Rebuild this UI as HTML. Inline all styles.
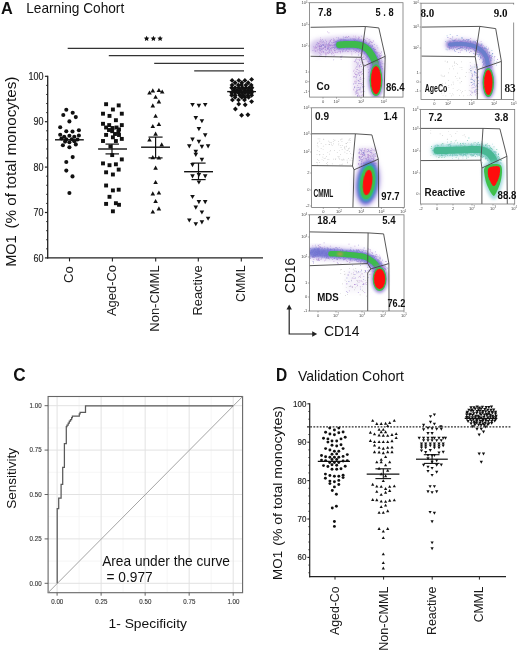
<!DOCTYPE html>
<html><head><meta charset="utf-8"><style>
html,body{margin:0;padding:0;background:#fff;width:520px;height:651px;overflow:hidden}
svg{display:block;will-change:transform}
text{font-family:"Liberation Sans",sans-serif}
</style></head><body>
<svg width="520" height="651" viewBox="0 0 520 651">
<rect width="520" height="651" fill="#fff"/>
<defs><filter id="b03" x="-50%" y="-50%" width="200%" height="200%"><feGaussianBlur stdDeviation="0.3"/></filter><filter id="b05" x="-50%" y="-50%" width="200%" height="200%"><feGaussianBlur stdDeviation="0.6"/></filter><filter id="b1" x="-50%" y="-50%" width="200%" height="200%"><feGaussianBlur stdDeviation="1.0"/></filter><filter id="b15" x="-50%" y="-50%" width="200%" height="200%"><feGaussianBlur stdDeviation="1.5"/></filter><filter id="b2" x="-50%" y="-50%" width="200%" height="200%"><feGaussianBlur stdDeviation="2.2"/></filter></defs>
<text x="275.6" y="13.8" font-size="17.4" font-weight="bold" fill="#111" textLength="11.4" lengthAdjust="spacingAndGlyphs">B</text>
<clipPath id="cl1"><rect x="309.6" y="2.7" width="93.39999999999998" height="94.39999999999999"/></clipPath>
<g clip-path="url(#cl1)">
<path d="M318.0,47.5 L318.6,47.4 L319.3,47.3 L320.2,47.1 L321.2,47.0 L322.2,46.8 L323.4,46.6 L324.5,46.5 L325.7,46.3 L326.9,46.1 L328.0,46.0 L329.1,45.9 L330.2,45.8 L331.4,45.6 L332.5,45.5 L333.7,45.4 L334.9,45.3 L336.1,45.2 L337.4,45.2 L338.7,45.1 L340.0,45.0 L341.4,44.9 L342.9,44.8 L344.5,44.7 L346.1,44.6 L347.7,44.6 L349.3,44.5 L350.8,44.5 L352.3,44.4 L353.7,44.4 L355.0,44.5 L356.2,44.6 L357.2,44.7 L358.2,44.8 L359.2,45.0 L360.1,45.2 L360.9,45.4 L361.7,45.6 L362.5,45.9 L363.2,46.2 L364.0,46.5 L364.7,46.9 L365.4,47.3 L366.1,47.7 L366.7,48.2 L367.3,48.7 L367.9,49.2 L368.4,49.7 L369.0,50.3 L369.5,50.9 L370.0,51.5 L370.5,52.1 L371.0,52.8 L371.4,53.5 L371.8,54.2 L372.2,55.0 L372.6,55.8 L373.0,56.6 L373.4,57.4 L373.7,58.2 L374.0,59.0 L374.3,59.9 L374.6,60.8 L374.8,61.9 L375.0,62.9 L375.2,64.0 L375.4,65.0 L375.6,65.9 L375.8,66.8 L375.9,67.5 L376.0,68.0" fill="none" stroke="#b293dc" stroke-opacity="0.5" stroke-width="16.8" stroke-linecap="round" stroke-linejoin="round" filter="url(#b2)"/>
<rect x="353" y="58" width="11" height="38" fill="#c9b3e0" fill-opacity="0.35" filter="url(#b2)"/>
<path d="M361.4 74.0h0.8v0.8h-0.8zM373.6 77.8h0.8v0.8h-0.8zM374.6 48.9h0.8v0.8h-0.8zM363.1 38.4h0.8v0.8h-0.8zM369.2 57.0h0.8v0.8h-0.8zM374.4 47.4h0.8v0.8h-0.8zM370.6 50.9h0.8v0.8h-0.8zM379.7 55.2h0.8v0.8h-0.8zM379.4 66.3h0.8v0.8h-0.8zM378.6 57.4h0.8v0.8h-0.8zM356.6 44.9h0.8v0.8h-0.8zM331.1 53.2h0.8v0.8h-0.8zM373.5 61.1h0.8v0.8h-0.8zM356.5 40.6h0.8v0.8h-0.8zM370.8 57.6h0.8v0.8h-0.8zM325.4 49.4h0.8v0.8h-0.8zM374.6 61.5h0.8v0.8h-0.8zM356.8 89.9h0.8v0.8h-0.8zM367.8 44.4h0.8v0.8h-0.8zM358.8 83.2h0.8v0.8h-0.8zM340.2 51.5h0.8v0.8h-0.8zM352.7 45.3h0.8v0.8h-0.8zM369.6 54.1h0.8v0.8h-0.8zM360.8 42.8h0.8v0.8h-0.8zM326.6 45.5h0.8v0.8h-0.8zM353.9 76.3h0.8v0.8h-0.8zM373.8 67.0h0.8v0.8h-0.8zM330.2 46.4h0.8v0.8h-0.8zM371.9 49.0h0.8v0.8h-0.8zM353.5 45.2h0.8v0.8h-0.8zM322.9 48.1h0.8v0.8h-0.8zM371.2 51.5h0.8v0.8h-0.8zM368.9 42.2h0.8v0.8h-0.8zM359.0 50.0h0.8v0.8h-0.8zM376.9 52.3h0.8v0.8h-0.8zM364.6 51.6h0.8v0.8h-0.8zM374.3 59.9h0.8v0.8h-0.8zM374.3 60.1h0.8v0.8h-0.8zM334.0 47.9h0.8v0.8h-0.8zM362.9 86.9h0.8v0.8h-0.8zM368.8 63.1h0.8v0.8h-0.8zM360.8 95.0h0.8v0.8h-0.8zM374.1 64.1h0.8v0.8h-0.8zM339.4 43.8h0.8v0.8h-0.8zM333.5 49.2h0.8v0.8h-0.8zM328.5 32.5h0.8v0.8h-0.8zM346.2 36.6h0.8v0.8h-0.8zM367.3 56.6h0.8v0.8h-0.8zM336.1 41.7h0.8v0.8h-0.8zM342.0 45.8h0.8v0.8h-0.8zM340.5 39.7h0.8v0.8h-0.8zM358.8 45.0h0.8v0.8h-0.8zM362.9 42.0h0.8v0.8h-0.8zM379.5 57.5h0.8v0.8h-0.8zM381.0 51.6h0.8v0.8h-0.8zM370.8 51.8h0.8v0.8h-0.8zM315.7 47.1h0.8v0.8h-0.8zM374.6 58.0h0.8v0.8h-0.8zM373.2 56.7h0.8v0.8h-0.8zM343.4 38.9h0.8v0.8h-0.8zM327.3 49.0h0.8v0.8h-0.8zM361.3 47.8h0.8v0.8h-0.8zM349.3 46.1h0.8v0.8h-0.8zM353.2 88.7h0.8v0.8h-0.8zM364.3 49.3h0.8v0.8h-0.8zM363.5 78.0h0.8v0.8h-0.8zM356.1 58.4h0.8v0.8h-0.8zM319.6 41.6h0.8v0.8h-0.8zM376.3 51.7h0.8v0.8h-0.8zM351.1 42.0h0.8v0.8h-0.8zM364.6 45.1h0.8v0.8h-0.8zM365.1 50.6h0.8v0.8h-0.8zM327.8 46.1h0.8v0.8h-0.8zM366.0 52.2h0.8v0.8h-0.8zM351.2 44.9h0.8v0.8h-0.8zM376.9 64.8h0.8v0.8h-0.8zM353.1 70.7h0.8v0.8h-0.8zM371.3 53.6h0.8v0.8h-0.8zM377.1 61.3h0.8v0.8h-0.8zM366.4 49.3h0.8v0.8h-0.8zM376.4 56.9h0.8v0.8h-0.8zM357.7 48.0h0.8v0.8h-0.8zM341.6 43.5h0.8v0.8h-0.8zM363.0 40.8h0.8v0.8h-0.8zM375.6 52.4h0.8v0.8h-0.8zM347.9 51.0h0.8v0.8h-0.8zM356.8 69.1h0.8v0.8h-0.8zM376.2 66.1h0.8v0.8h-0.8zM321.2 45.2h0.8v0.8h-0.8zM377.0 59.5h0.8v0.8h-0.8zM366.0 51.4h0.8v0.8h-0.8zM342.2 50.6h0.8v0.8h-0.8zM370.7 61.5h0.8v0.8h-0.8zM364.4 51.4h0.8v0.8h-0.8zM335.9 43.9h0.8v0.8h-0.8zM372.2 54.3h0.8v0.8h-0.8zM368.4 69.2h0.8v0.8h-0.8zM359.4 46.4h0.8v0.8h-0.8zM334.6 49.8h0.8v0.8h-0.8zM372.4 57.6h0.8v0.8h-0.8zM342.4 43.6h0.8v0.8h-0.8zM363.8 44.0h0.8v0.8h-0.8zM342.8 45.9h0.8v0.8h-0.8zM359.1 74.8h0.8v0.8h-0.8zM338.7 47.7h0.8v0.8h-0.8zM369.1 46.7h0.8v0.8h-0.8zM354.7 80.8h0.8v0.8h-0.8zM380.1 56.8h0.8v0.8h-0.8zM360.2 76.9h0.8v0.8h-0.8zM344.3 39.5h0.8v0.8h-0.8zM362.0 72.9h0.8v0.8h-0.8zM342.7 42.4h0.8v0.8h-0.8zM320.3 46.1h0.8v0.8h-0.8zM366.6 53.6h0.8v0.8h-0.8zM374.4 53.3h0.8v0.8h-0.8zM367.2 52.7h0.8v0.8h-0.8zM322.8 45.0h0.8v0.8h-0.8zM379.3 60.6h0.8v0.8h-0.8zM355.0 74.1h0.8v0.8h-0.8zM369.2 57.1h0.8v0.8h-0.8zM334.0 41.8h0.8v0.8h-0.8zM356.5 48.0h0.8v0.8h-0.8zM325.1 49.3h0.8v0.8h-0.8zM373.2 57.1h0.8v0.8h-0.8zM363.7 64.4h0.8v0.8h-0.8zM358.2 44.0h0.8v0.8h-0.8zM369.5 52.2h0.8v0.8h-0.8zM367.7 51.3h0.8v0.8h-0.8zM331.6 51.5h0.8v0.8h-0.8zM337.5 42.0h0.8v0.8h-0.8zM332.4 42.5h0.8v0.8h-0.8zM359.1 60.3h0.8v0.8h-0.8zM347.2 44.4h0.8v0.8h-0.8zM355.9 93.3h0.8v0.8h-0.8zM326.8 52.5h0.8v0.8h-0.8zM328.3 44.4h0.8v0.8h-0.8zM374.6 63.9h0.8v0.8h-0.8zM371.3 42.2h0.8v0.8h-0.8zM367.2 45.2h0.8v0.8h-0.8zM335.0 44.0h0.8v0.8h-0.8zM320.1 43.9h0.8v0.8h-0.8zM370.0 52.6h0.8v0.8h-0.8zM354.2 40.1h0.8v0.8h-0.8zM360.9 66.1h0.8v0.8h-0.8zM363.3 56.6h0.8v0.8h-0.8zM362.8 91.1h0.8v0.8h-0.8zM338.6 39.5h0.8v0.8h-0.8zM376.3 66.1h0.8v0.8h-0.8zM319.0 46.3h0.8v0.8h-0.8zM360.7 72.5h0.8v0.8h-0.8zM325.3 47.3h0.8v0.8h-0.8zM365.4 39.9h0.8v0.8h-0.8zM352.6 48.3h0.8v0.8h-0.8zM353.7 44.8h0.8v0.8h-0.8zM372.1 54.0h0.8v0.8h-0.8zM369.5 70.8h0.8v0.8h-0.8zM326.2 41.0h0.8v0.8h-0.8zM363.2 45.2h0.8v0.8h-0.8zM360.5 78.8h0.8v0.8h-0.8zM376.6 58.5h0.8v0.8h-0.8zM354.3 86.0h0.8v0.8h-0.8zM334.8 41.5h0.8v0.8h-0.8zM372.9 40.6h0.8v0.8h-0.8zM371.7 53.4h0.8v0.8h-0.8zM353.6 40.9h0.8v0.8h-0.8zM377.5 66.8h0.8v0.8h-0.8zM367.2 50.2h0.8v0.8h-0.8zM331.6 43.6h0.8v0.8h-0.8zM376.4 55.4h0.8v0.8h-0.8zM319.7 50.8h0.8v0.8h-0.8zM329.1 41.9h0.8v0.8h-0.8zM350.8 43.8h0.8v0.8h-0.8zM372.6 51.1h0.8v0.8h-0.8zM369.2 53.8h0.8v0.8h-0.8zM358.2 43.2h0.8v0.8h-0.8zM372.1 57.1h0.8v0.8h-0.8zM338.1 43.2h0.8v0.8h-0.8zM324.8 44.6h0.8v0.8h-0.8zM337.0 48.3h0.8v0.8h-0.8zM314.9 45.7h0.8v0.8h-0.8zM318.7 44.9h0.8v0.8h-0.8zM341.5 47.7h0.8v0.8h-0.8zM318.6 45.7h0.8v0.8h-0.8zM356.5 43.7h0.8v0.8h-0.8zM369.7 52.8h0.8v0.8h-0.8zM361.8 49.1h0.8v0.8h-0.8zM360.6 48.8h0.8v0.8h-0.8zM334.8 52.1h0.8v0.8h-0.8zM356.6 50.9h0.8v0.8h-0.8zM355.6 37.5h0.8v0.8h-0.8zM365.0 42.8h0.8v0.8h-0.8zM359.1 65.1h0.8v0.8h-0.8zM355.7 71.0h0.8v0.8h-0.8zM374.4 55.5h0.8v0.8h-0.8zM360.6 41.7h0.8v0.8h-0.8zM336.6 52.3h0.8v0.8h-0.8zM353.6 41.7h0.8v0.8h-0.8zM358.9 46.1h0.8v0.8h-0.8zM357.8 49.4h0.8v0.8h-0.8zM366.2 41.9h0.8v0.8h-0.8zM361.3 83.2h0.8v0.8h-0.8zM327.1 48.1h0.8v0.8h-0.8zM356.3 62.3h0.8v0.8h-0.8zM367.6 49.9h0.8v0.8h-0.8zM334.6 44.1h0.8v0.8h-0.8zM378.9 55.3h0.8v0.8h-0.8zM360.8 48.6h0.8v0.8h-0.8zM340.3 43.3h0.8v0.8h-0.8zM366.2 45.8h0.8v0.8h-0.8zM379.0 70.1h0.8v0.8h-0.8zM366.2 45.2h0.8v0.8h-0.8zM372.5 62.5h0.8v0.8h-0.8zM349.7 47.5h0.8v0.8h-0.8zM373.3 48.5h0.8v0.8h-0.8zM370.5 54.8h0.8v0.8h-0.8zM369.8 40.7h0.8v0.8h-0.8zM368.9 50.5h0.8v0.8h-0.8zM319.3 48.3h0.8v0.8h-0.8zM371.6 46.0h0.8v0.8h-0.8zM357.6 95.4h0.8v0.8h-0.8zM358.9 41.7h0.8v0.8h-0.8zM319.4 52.8h0.8v0.8h-0.8zM377.3 56.0h0.8v0.8h-0.8zM371.5 52.8h0.8v0.8h-0.8zM367.9 51.8h0.8v0.8h-0.8zM328.0 45.6h0.8v0.8h-0.8zM329.1 41.7h0.8v0.8h-0.8zM354.7 43.5h0.8v0.8h-0.8zM355.6 45.4h0.8v0.8h-0.8zM374.6 58.6h0.8v0.8h-0.8zM328.9 43.9h0.8v0.8h-0.8zM348.1 45.3h0.8v0.8h-0.8zM331.1 49.6h0.8v0.8h-0.8zM354.0 46.4h0.8v0.8h-0.8zM362.1 57.1h0.8v0.8h-0.8zM346.1 48.6h0.8v0.8h-0.8zM336.9 45.6h0.8v0.8h-0.8zM375.2 51.4h0.8v0.8h-0.8zM359.6 72.1h0.8v0.8h-0.8zM358.8 39.5h0.8v0.8h-0.8zM375.1 69.5h0.8v0.8h-0.8zM363.6 39.3h0.8v0.8h-0.8zM353.5 76.5h0.8v0.8h-0.8zM361.9 94.6h0.8v0.8h-0.8zM332.4 52.2h0.8v0.8h-0.8zM369.9 58.8h0.8v0.8h-0.8zM347.2 50.9h0.8v0.8h-0.8zM351.4 45.6h0.8v0.8h-0.8zM373.5 67.3h0.8v0.8h-0.8z" fill="#a06cc8" fill-opacity="0.75"/>
<path d="M376.0 62.2h0.8v0.8h-0.8zM372.8 54.4h0.8v0.8h-0.8zM360.6 44.8h0.8v0.8h-0.8zM342.8 38.6h0.8v0.8h-0.8zM370.1 48.5h0.8v0.8h-0.8zM370.5 47.0h0.8v0.8h-0.8zM371.7 42.1h0.8v0.8h-0.8zM370.9 59.8h0.8v0.8h-0.8zM328.7 46.7h0.8v0.8h-0.8zM363.2 77.4h0.8v0.8h-0.8zM362.4 53.7h0.8v0.8h-0.8zM373.6 50.0h0.8v0.8h-0.8zM336.5 46.4h0.8v0.8h-0.8zM362.5 58.8h0.8v0.8h-0.8zM343.3 49.2h0.8v0.8h-0.8zM370.7 56.0h0.8v0.8h-0.8zM367.8 53.5h0.8v0.8h-0.8zM321.4 45.3h0.8v0.8h-0.8zM361.8 45.1h0.8v0.8h-0.8zM365.5 51.2h0.8v0.8h-0.8zM320.0 53.8h0.8v0.8h-0.8zM346.2 49.8h0.8v0.8h-0.8zM372.7 53.2h0.8v0.8h-0.8zM365.5 58.4h0.8v0.8h-0.8zM355.4 43.6h0.8v0.8h-0.8zM331.5 44.8h0.8v0.8h-0.8zM333.1 38.6h0.8v0.8h-0.8zM340.9 44.6h0.8v0.8h-0.8zM344.7 37.1h0.8v0.8h-0.8zM356.1 89.8h0.8v0.8h-0.8zM357.3 65.4h0.8v0.8h-0.8zM372.3 58.5h0.8v0.8h-0.8zM324.6 47.1h0.8v0.8h-0.8zM358.6 41.3h0.8v0.8h-0.8zM381.3 66.3h0.8v0.8h-0.8zM368.8 64.5h0.8v0.8h-0.8zM355.3 93.7h0.8v0.8h-0.8zM372.2 55.9h0.8v0.8h-0.8zM355.8 76.8h0.8v0.8h-0.8zM366.5 48.0h0.8v0.8h-0.8zM356.0 45.6h0.8v0.8h-0.8zM334.2 39.4h0.8v0.8h-0.8zM367.5 46.2h0.8v0.8h-0.8zM340.7 43.2h0.8v0.8h-0.8zM362.6 41.2h0.8v0.8h-0.8zM346.7 46.6h0.8v0.8h-0.8zM330.9 39.2h0.8v0.8h-0.8zM365.5 47.4h0.8v0.8h-0.8zM361.7 46.0h0.8v0.8h-0.8zM360.0 58.8h0.8v0.8h-0.8zM373.9 67.8h0.8v0.8h-0.8zM336.2 44.7h0.8v0.8h-0.8zM381.5 62.6h0.8v0.8h-0.8zM354.4 72.8h0.8v0.8h-0.8zM327.1 52.4h0.8v0.8h-0.8zM320.6 40.8h0.8v0.8h-0.8zM369.1 56.5h0.8v0.8h-0.8zM340.5 38.8h0.8v0.8h-0.8zM345.7 40.1h0.8v0.8h-0.8zM362.6 49.7h0.8v0.8h-0.8zM371.4 56.8h0.8v0.8h-0.8zM376.9 64.9h0.8v0.8h-0.8zM350.8 47.0h0.8v0.8h-0.8zM319.9 46.1h0.8v0.8h-0.8zM342.2 45.4h0.8v0.8h-0.8zM378.9 53.7h0.8v0.8h-0.8zM362.1 47.1h0.8v0.8h-0.8zM378.5 59.1h0.8v0.8h-0.8zM318.2 43.1h0.8v0.8h-0.8zM370.0 45.5h0.8v0.8h-0.8zM375.2 64.4h0.8v0.8h-0.8zM373.6 67.8h0.8v0.8h-0.8zM319.9 50.2h0.8v0.8h-0.8zM331.2 47.0h0.8v0.8h-0.8zM356.1 44.7h0.8v0.8h-0.8zM372.3 72.1h0.8v0.8h-0.8zM315.8 44.4h0.8v0.8h-0.8zM373.4 57.9h0.8v0.8h-0.8zM327.4 47.3h0.8v0.8h-0.8zM367.8 63.5h0.8v0.8h-0.8zM373.9 68.9h0.8v0.8h-0.8zM380.4 75.4h0.8v0.8h-0.8zM380.5 55.3h0.8v0.8h-0.8zM373.9 52.2h0.8v0.8h-0.8zM357.8 94.0h0.8v0.8h-0.8zM369.6 55.9h0.8v0.8h-0.8zM363.3 40.3h0.8v0.8h-0.8zM358.7 46.6h0.8v0.8h-0.8zM373.2 54.4h0.8v0.8h-0.8zM362.0 42.7h0.8v0.8h-0.8zM363.9 59.1h0.8v0.8h-0.8zM330.3 45.1h0.8v0.8h-0.8zM322.9 52.0h0.8v0.8h-0.8zM362.2 58.6h0.8v0.8h-0.8zM372.7 53.1h0.8v0.8h-0.8zM340.9 42.5h0.8v0.8h-0.8zM349.7 45.6h0.8v0.8h-0.8zM366.8 48.2h0.8v0.8h-0.8zM373.0 56.9h0.8v0.8h-0.8zM336.0 45.6h0.8v0.8h-0.8zM383.7 63.4h0.8v0.8h-0.8zM375.0 67.8h0.8v0.8h-0.8zM373.9 54.4h0.8v0.8h-0.8zM313.3 46.4h0.8v0.8h-0.8zM370.2 41.5h0.8v0.8h-0.8zM316.7 43.4h0.8v0.8h-0.8zM369.8 52.1h0.8v0.8h-0.8zM330.2 41.2h0.8v0.8h-0.8zM359.8 48.4h0.8v0.8h-0.8zM343.2 46.8h0.8v0.8h-0.8zM351.7 44.3h0.8v0.8h-0.8zM376.9 60.2h0.8v0.8h-0.8zM356.0 47.0h0.8v0.8h-0.8zM360.9 42.9h0.8v0.8h-0.8zM325.1 39.7h0.8v0.8h-0.8zM357.8 80.2h0.8v0.8h-0.8zM345.6 45.6h0.8v0.8h-0.8zM384.2 57.6h0.8v0.8h-0.8zM334.6 50.6h0.8v0.8h-0.8zM357.2 47.9h0.8v0.8h-0.8zM368.7 75.9h0.8v0.8h-0.8zM332.3 45.2h0.8v0.8h-0.8zM375.6 60.9h0.8v0.8h-0.8zM365.7 51.3h0.8v0.8h-0.8zM357.4 43.0h0.8v0.8h-0.8zM363.4 59.1h0.8v0.8h-0.8zM333.4 41.6h0.8v0.8h-0.8zM337.5 46.7h0.8v0.8h-0.8zM320.7 40.3h0.8v0.8h-0.8zM358.6 69.9h0.8v0.8h-0.8zM312.5 49.9h0.8v0.8h-0.8zM379.3 73.5h0.8v0.8h-0.8zM340.7 46.3h0.8v0.8h-0.8zM372.5 53.5h0.8v0.8h-0.8zM363.6 45.6h0.8v0.8h-0.8zM353.5 51.0h0.8v0.8h-0.8zM354.9 43.6h0.8v0.8h-0.8zM371.6 48.4h0.8v0.8h-0.8zM369.1 49.1h0.8v0.8h-0.8zM349.3 43.4h0.8v0.8h-0.8zM370.2 47.6h0.8v0.8h-0.8zM322.9 43.8h0.8v0.8h-0.8zM357.6 72.4h0.8v0.8h-0.8zM373.8 51.6h0.8v0.8h-0.8zM333.8 47.7h0.8v0.8h-0.8zM371.9 55.0h0.8v0.8h-0.8zM318.9 46.1h0.8v0.8h-0.8zM370.8 44.8h0.8v0.8h-0.8zM365.7 47.8h0.8v0.8h-0.8zM342.1 51.5h0.8v0.8h-0.8zM354.0 87.4h0.8v0.8h-0.8zM371.4 63.5h0.8v0.8h-0.8zM363.6 43.3h0.8v0.8h-0.8zM334.8 47.4h0.8v0.8h-0.8zM354.0 44.0h0.8v0.8h-0.8zM361.6 50.8h0.8v0.8h-0.8zM361.7 44.6h0.8v0.8h-0.8zM329.4 50.1h0.8v0.8h-0.8zM347.2 47.9h0.8v0.8h-0.8zM328.8 49.0h0.8v0.8h-0.8zM350.9 51.0h0.8v0.8h-0.8zM317.7 49.3h0.8v0.8h-0.8zM359.5 81.2h0.8v0.8h-0.8zM331.9 47.6h0.8v0.8h-0.8zM365.2 50.8h0.8v0.8h-0.8zM369.3 47.3h0.8v0.8h-0.8zM374.3 65.1h0.8v0.8h-0.8zM370.0 58.8h0.8v0.8h-0.8zM319.2 44.8h0.8v0.8h-0.8zM363.8 38.9h0.8v0.8h-0.8zM372.9 62.9h0.8v0.8h-0.8zM325.8 43.0h0.8v0.8h-0.8zM357.9 51.4h0.8v0.8h-0.8zM378.2 62.6h0.8v0.8h-0.8zM359.2 41.3h0.8v0.8h-0.8zM355.4 60.7h0.8v0.8h-0.8zM362.8 59.3h0.8v0.8h-0.8zM377.8 53.8h0.8v0.8h-0.8zM321.5 42.6h0.8v0.8h-0.8zM319.4 48.2h0.8v0.8h-0.8zM348.1 36.1h0.8v0.8h-0.8zM364.6 45.6h0.8v0.8h-0.8zM376.5 60.6h0.8v0.8h-0.8zM358.3 89.4h0.8v0.8h-0.8zM361.2 42.6h0.8v0.8h-0.8zM356.5 50.7h0.8v0.8h-0.8zM321.9 39.2h0.8v0.8h-0.8zM330.6 44.9h0.8v0.8h-0.8zM377.2 68.3h0.8v0.8h-0.8zM342.0 44.2h0.8v0.8h-0.8zM360.8 43.5h0.8v0.8h-0.8zM358.4 44.8h0.8v0.8h-0.8zM339.1 42.5h0.8v0.8h-0.8zM346.2 40.8h0.8v0.8h-0.8zM319.0 49.3h0.8v0.8h-0.8zM335.9 45.6h0.8v0.8h-0.8zM366.1 56.6h0.8v0.8h-0.8zM347.3 37.2h0.8v0.8h-0.8zM320.9 46.2h0.8v0.8h-0.8zM359.5 51.2h0.8v0.8h-0.8zM374.6 54.2h0.8v0.8h-0.8zM358.4 87.2h0.8v0.8h-0.8zM370.8 59.2h0.8v0.8h-0.8zM336.6 44.3h0.8v0.8h-0.8zM353.5 76.5h0.8v0.8h-0.8zM357.3 95.6h0.8v0.8h-0.8zM371.2 50.7h0.8v0.8h-0.8zM361.4 71.1h0.8v0.8h-0.8zM373.4 48.0h0.8v0.8h-0.8zM373.9 48.9h0.8v0.8h-0.8zM350.1 47.3h0.8v0.8h-0.8zM371.0 57.1h0.8v0.8h-0.8zM348.5 48.6h0.8v0.8h-0.8zM367.9 50.6h0.8v0.8h-0.8zM335.0 40.9h0.8v0.8h-0.8zM368.6 62.2h0.8v0.8h-0.8zM372.7 47.7h0.8v0.8h-0.8zM360.6 39.0h0.8v0.8h-0.8zM377.8 66.0h0.8v0.8h-0.8zM368.6 42.9h0.8v0.8h-0.8zM338.1 40.5h0.8v0.8h-0.8zM314.7 50.0h0.8v0.8h-0.8zM370.2 50.4h0.8v0.8h-0.8zM377.2 66.7h0.8v0.8h-0.8zM354.0 44.8h0.8v0.8h-0.8zM365.9 49.9h0.8v0.8h-0.8zM364.8 47.3h0.8v0.8h-0.8zM371.5 51.7h0.8v0.8h-0.8zM377.1 60.4h0.8v0.8h-0.8zM364.1 46.0h0.8v0.8h-0.8zM327.2 48.3h0.8v0.8h-0.8zM328.5 50.8h0.8v0.8h-0.8zM358.2 79.9h0.8v0.8h-0.8zM357.2 95.1h0.8v0.8h-0.8zM360.6 61.7h0.8v0.8h-0.8zM323.9 42.7h0.8v0.8h-0.8zM316.0 47.5h0.8v0.8h-0.8zM377.6 65.7h0.8v0.8h-0.8zM363.3 49.0h0.8v0.8h-0.8zM327.3 48.5h0.8v0.8h-0.8zM317.8 43.5h0.8v0.8h-0.8zM321.6 47.7h0.8v0.8h-0.8zM356.5 47.5h0.8v0.8h-0.8zM323.0 51.1h0.8v0.8h-0.8zM375.2 49.1h0.8v0.8h-0.8zM367.4 61.0h0.8v0.8h-0.8zM373.5 50.5h0.8v0.8h-0.8zM368.2 55.7h0.8v0.8h-0.8zM379.7 63.8h0.8v0.8h-0.8z" fill="#9a78d0" fill-opacity="0.75"/>
<path d="M366.7 38.1h0.8v0.8h-0.8zM363.3 61.9h0.8v0.8h-0.8zM366.2 51.1h0.8v0.8h-0.8zM364.4 53.1h0.8v0.8h-0.8zM364.2 42.4h0.8v0.8h-0.8zM374.2 55.3h0.8v0.8h-0.8zM343.6 46.5h0.8v0.8h-0.8zM378.2 52.0h0.8v0.8h-0.8zM350.2 46.8h0.8v0.8h-0.8zM357.3 85.1h0.8v0.8h-0.8zM352.1 38.0h0.8v0.8h-0.8zM352.7 41.2h0.8v0.8h-0.8zM368.9 40.8h0.8v0.8h-0.8zM363.0 40.8h0.8v0.8h-0.8zM335.2 40.7h0.8v0.8h-0.8zM351.4 52.7h0.8v0.8h-0.8zM370.4 47.1h0.8v0.8h-0.8zM365.7 58.8h0.8v0.8h-0.8zM318.9 43.1h0.8v0.8h-0.8zM369.9 49.3h0.8v0.8h-0.8zM371.6 56.4h0.8v0.8h-0.8zM319.6 43.3h0.8v0.8h-0.8zM366.9 60.7h0.8v0.8h-0.8zM318.5 52.2h0.8v0.8h-0.8zM353.5 89.8h0.8v0.8h-0.8zM381.9 68.9h0.8v0.8h-0.8zM330.8 50.2h0.8v0.8h-0.8zM377.4 66.5h0.8v0.8h-0.8zM378.6 60.5h0.8v0.8h-0.8zM317.1 49.6h0.8v0.8h-0.8zM334.5 49.7h0.8v0.8h-0.8zM357.6 46.5h0.8v0.8h-0.8zM337.8 44.6h0.8v0.8h-0.8zM367.0 46.6h0.8v0.8h-0.8zM349.9 46.1h0.8v0.8h-0.8zM342.5 40.4h0.8v0.8h-0.8zM353.3 35.7h0.8v0.8h-0.8zM375.0 60.7h0.8v0.8h-0.8zM359.0 49.7h0.8v0.8h-0.8zM368.9 54.0h0.8v0.8h-0.8zM323.7 49.3h0.8v0.8h-0.8zM369.1 60.8h0.8v0.8h-0.8zM358.9 67.5h0.8v0.8h-0.8zM346.1 41.6h0.8v0.8h-0.8zM379.6 58.1h0.8v0.8h-0.8zM320.9 47.4h0.8v0.8h-0.8zM368.9 45.1h0.8v0.8h-0.8zM372.0 54.3h0.8v0.8h-0.8zM353.7 48.1h0.8v0.8h-0.8zM372.9 53.0h0.8v0.8h-0.8zM358.5 66.5h0.8v0.8h-0.8zM357.5 46.1h0.8v0.8h-0.8zM316.7 48.4h0.8v0.8h-0.8zM350.9 42.0h0.8v0.8h-0.8zM322.3 42.3h0.8v0.8h-0.8zM364.2 48.1h0.8v0.8h-0.8zM329.1 45.0h0.8v0.8h-0.8zM374.6 73.2h0.8v0.8h-0.8zM366.9 55.9h0.8v0.8h-0.8zM316.6 50.6h0.8v0.8h-0.8zM358.6 47.1h0.8v0.8h-0.8zM325.4 52.1h0.8v0.8h-0.8zM367.4 64.4h0.8v0.8h-0.8zM365.7 49.3h0.8v0.8h-0.8zM373.5 52.2h0.8v0.8h-0.8zM347.0 40.1h0.8v0.8h-0.8zM355.5 46.4h0.8v0.8h-0.8zM369.6 48.9h0.8v0.8h-0.8zM314.8 48.3h0.8v0.8h-0.8zM369.8 46.4h0.8v0.8h-0.8zM357.6 92.7h0.8v0.8h-0.8zM329.6 40.3h0.8v0.8h-0.8zM369.3 47.6h0.8v0.8h-0.8zM365.2 47.3h0.8v0.8h-0.8zM356.3 81.3h0.8v0.8h-0.8zM322.0 48.6h0.8v0.8h-0.8zM370.1 65.1h0.8v0.8h-0.8zM334.1 41.7h0.8v0.8h-0.8zM355.6 42.2h0.8v0.8h-0.8zM360.6 91.7h0.8v0.8h-0.8zM358.7 37.5h0.8v0.8h-0.8zM367.7 47.2h0.8v0.8h-0.8zM367.1 45.0h0.8v0.8h-0.8zM366.0 50.9h0.8v0.8h-0.8zM360.3 52.4h0.8v0.8h-0.8zM362.7 91.1h0.8v0.8h-0.8zM356.7 59.3h0.8v0.8h-0.8zM354.6 39.3h0.8v0.8h-0.8zM368.0 51.6h0.8v0.8h-0.8zM370.7 43.7h0.8v0.8h-0.8zM339.8 46.2h0.8v0.8h-0.8zM338.3 51.0h0.8v0.8h-0.8zM331.3 45.7h0.8v0.8h-0.8zM377.8 73.5h0.8v0.8h-0.8zM321.6 50.5h0.8v0.8h-0.8zM359.2 95.9h0.8v0.8h-0.8zM355.8 73.9h0.8v0.8h-0.8zM356.4 69.0h0.8v0.8h-0.8zM335.0 44.3h0.8v0.8h-0.8zM321.4 50.9h0.8v0.8h-0.8zM336.3 45.2h0.8v0.8h-0.8zM380.7 58.3h0.8v0.8h-0.8zM367.8 66.4h0.8v0.8h-0.8zM323.4 44.9h0.8v0.8h-0.8zM346.2 41.4h0.8v0.8h-0.8zM359.3 42.6h0.8v0.8h-0.8zM349.5 46.3h0.8v0.8h-0.8zM376.4 56.8h0.8v0.8h-0.8zM362.2 46.4h0.8v0.8h-0.8zM375.8 69.4h0.8v0.8h-0.8zM377.8 67.9h0.8v0.8h-0.8zM362.9 44.5h0.8v0.8h-0.8zM362.7 55.5h0.8v0.8h-0.8zM371.2 56.0h0.8v0.8h-0.8zM378.0 63.7h0.8v0.8h-0.8zM364.3 51.4h0.8v0.8h-0.8zM368.2 72.1h0.8v0.8h-0.8zM320.2 37.5h0.8v0.8h-0.8zM378.3 66.8h0.8v0.8h-0.8zM372.3 61.1h0.8v0.8h-0.8zM374.9 54.0h0.8v0.8h-0.8zM356.5 49.8h0.8v0.8h-0.8zM361.3 52.2h0.8v0.8h-0.8zM325.2 54.0h0.8v0.8h-0.8zM354.5 81.2h0.8v0.8h-0.8zM346.8 37.2h0.8v0.8h-0.8zM349.6 49.4h0.8v0.8h-0.8zM336.0 49.3h0.8v0.8h-0.8zM365.3 55.3h0.8v0.8h-0.8zM354.4 81.8h0.8v0.8h-0.8zM362.6 77.9h0.8v0.8h-0.8zM324.6 44.0h0.8v0.8h-0.8zM369.0 50.2h0.8v0.8h-0.8zM369.3 51.3h0.8v0.8h-0.8zM320.8 41.4h0.8v0.8h-0.8zM332.3 45.1h0.8v0.8h-0.8zM363.8 86.2h0.8v0.8h-0.8zM335.3 46.7h0.8v0.8h-0.8zM333.2 40.1h0.8v0.8h-0.8zM359.6 78.3h0.8v0.8h-0.8zM363.3 44.6h0.8v0.8h-0.8zM355.0 39.1h0.8v0.8h-0.8zM332.8 42.1h0.8v0.8h-0.8zM339.8 51.1h0.8v0.8h-0.8zM352.4 42.8h0.8v0.8h-0.8zM367.3 45.1h0.8v0.8h-0.8zM359.8 72.0h0.8v0.8h-0.8zM324.9 47.2h0.8v0.8h-0.8zM351.7 41.0h0.8v0.8h-0.8zM330.3 40.4h0.8v0.8h-0.8zM353.8 69.7h0.8v0.8h-0.8zM341.4 38.9h0.8v0.8h-0.8zM379.6 62.1h0.8v0.8h-0.8zM370.8 50.7h0.8v0.8h-0.8zM341.4 46.7h0.8v0.8h-0.8zM368.2 39.4h0.8v0.8h-0.8zM372.2 44.7h0.8v0.8h-0.8zM362.0 82.3h0.8v0.8h-0.8zM346.1 46.2h0.8v0.8h-0.8zM319.9 46.4h0.8v0.8h-0.8zM357.9 41.9h0.8v0.8h-0.8zM340.9 38.8h0.8v0.8h-0.8zM354.1 42.3h0.8v0.8h-0.8zM341.7 44.4h0.8v0.8h-0.8zM361.4 61.8h0.8v0.8h-0.8zM341.1 39.4h0.8v0.8h-0.8zM352.9 39.3h0.8v0.8h-0.8zM372.8 54.9h0.8v0.8h-0.8zM358.6 51.4h0.8v0.8h-0.8zM356.4 42.3h0.8v0.8h-0.8zM371.1 47.5h0.8v0.8h-0.8zM378.6 54.0h0.8v0.8h-0.8zM359.6 71.0h0.8v0.8h-0.8zM351.6 45.1h0.8v0.8h-0.8zM341.8 43.4h0.8v0.8h-0.8zM354.5 72.8h0.8v0.8h-0.8zM355.6 48.5h0.8v0.8h-0.8zM374.1 52.4h0.8v0.8h-0.8zM328.0 45.7h0.8v0.8h-0.8zM350.6 42.3h0.8v0.8h-0.8zM347.7 48.5h0.8v0.8h-0.8zM361.4 52.1h0.8v0.8h-0.8zM363.7 56.4h0.8v0.8h-0.8zM340.1 40.5h0.8v0.8h-0.8zM327.7 45.5h0.8v0.8h-0.8zM349.2 48.7h0.8v0.8h-0.8zM319.7 46.5h0.8v0.8h-0.8zM363.5 51.9h0.8v0.8h-0.8zM378.2 55.2h0.8v0.8h-0.8zM370.8 56.4h0.8v0.8h-0.8zM323.7 52.4h0.8v0.8h-0.8zM379.3 61.5h0.8v0.8h-0.8zM376.4 61.9h0.8v0.8h-0.8zM324.2 42.3h0.8v0.8h-0.8zM332.0 46.1h0.8v0.8h-0.8zM353.0 41.2h0.8v0.8h-0.8zM367.5 53.0h0.8v0.8h-0.8zM374.0 57.2h0.8v0.8h-0.8zM380.5 63.5h0.8v0.8h-0.8zM370.6 46.5h0.8v0.8h-0.8zM367.5 59.7h0.8v0.8h-0.8zM371.5 51.0h0.8v0.8h-0.8zM356.6 92.7h0.8v0.8h-0.8zM353.3 46.6h0.8v0.8h-0.8zM356.5 48.4h0.8v0.8h-0.8zM365.5 66.5h0.8v0.8h-0.8zM363.5 64.0h0.8v0.8h-0.8zM357.6 46.6h0.8v0.8h-0.8zM368.9 50.5h0.8v0.8h-0.8zM380.6 70.3h0.8v0.8h-0.8zM375.4 67.0h0.8v0.8h-0.8zM377.0 53.5h0.8v0.8h-0.8zM328.5 46.2h0.8v0.8h-0.8zM369.4 55.6h0.8v0.8h-0.8zM362.4 80.4h0.8v0.8h-0.8zM326.7 45.3h0.8v0.8h-0.8zM368.8 64.5h0.8v0.8h-0.8zM349.2 47.7h0.8v0.8h-0.8zM360.8 41.2h0.8v0.8h-0.8zM317.8 42.6h0.8v0.8h-0.8zM378.7 51.9h0.8v0.8h-0.8zM349.4 36.7h0.8v0.8h-0.8zM334.2 54.7h0.8v0.8h-0.8zM364.5 51.5h0.8v0.8h-0.8zM353.6 49.5h0.8v0.8h-0.8zM368.7 42.7h0.8v0.8h-0.8zM369.9 49.5h0.8v0.8h-0.8zM365.6 43.7h0.8v0.8h-0.8zM325.0 53.0h0.8v0.8h-0.8zM368.8 47.5h0.8v0.8h-0.8zM375.0 63.2h0.8v0.8h-0.8zM361.4 85.2h0.8v0.8h-0.8zM320.1 46.5h0.8v0.8h-0.8zM371.2 60.2h0.8v0.8h-0.8zM376.3 68.1h0.8v0.8h-0.8zM372.4 52.5h0.8v0.8h-0.8zM362.9 89.6h0.8v0.8h-0.8zM367.0 45.9h0.8v0.8h-0.8zM369.6 74.8h0.8v0.8h-0.8zM366.4 56.0h0.8v0.8h-0.8zM369.0 47.3h0.8v0.8h-0.8zM363.9 41.4h0.8v0.8h-0.8zM318.0 44.4h0.8v0.8h-0.8zM366.9 49.2h0.8v0.8h-0.8zM324.1 45.9h0.8v0.8h-0.8zM319.6 47.4h0.8v0.8h-0.8zM321.0 52.1h0.8v0.8h-0.8zM342.8 43.5h0.8v0.8h-0.8zM339.9 45.2h0.8v0.8h-0.8z" fill="#c294d6" fill-opacity="0.75"/>
<path d="M333.4 55.4h0.8v0.8h-0.8zM355.5 43.0h0.8v0.8h-0.8zM378.5 61.4h0.8v0.8h-0.8zM363.5 50.2h0.8v0.8h-0.8zM364.0 45.5h0.8v0.8h-0.8zM361.9 69.4h0.8v0.8h-0.8zM325.4 47.9h0.8v0.8h-0.8zM329.9 48.1h0.8v0.8h-0.8zM372.3 62.9h0.8v0.8h-0.8zM349.8 44.5h0.8v0.8h-0.8zM362.5 45.4h0.8v0.8h-0.8zM377.1 61.2h0.8v0.8h-0.8zM334.0 44.6h0.8v0.8h-0.8zM353.9 61.3h0.8v0.8h-0.8zM377.7 61.1h0.8v0.8h-0.8zM370.3 49.5h0.8v0.8h-0.8zM317.4 46.8h0.8v0.8h-0.8zM374.5 50.9h0.8v0.8h-0.8zM367.9 45.1h0.8v0.8h-0.8zM357.6 74.0h0.8v0.8h-0.8zM364.0 43.1h0.8v0.8h-0.8zM321.8 44.3h0.8v0.8h-0.8zM339.6 39.4h0.8v0.8h-0.8zM374.0 68.7h0.8v0.8h-0.8zM328.9 46.4h0.8v0.8h-0.8zM378.9 65.5h0.8v0.8h-0.8zM357.9 38.0h0.8v0.8h-0.8zM328.3 53.1h0.8v0.8h-0.8zM366.6 54.5h0.8v0.8h-0.8zM360.0 53.2h0.8v0.8h-0.8zM360.8 47.4h0.8v0.8h-0.8zM361.0 43.9h0.8v0.8h-0.8zM358.5 59.2h0.8v0.8h-0.8zM337.5 44.1h0.8v0.8h-0.8zM367.3 44.1h0.8v0.8h-0.8zM366.2 46.4h0.8v0.8h-0.8zM317.3 46.5h0.8v0.8h-0.8zM377.4 63.0h0.8v0.8h-0.8zM354.7 83.1h0.8v0.8h-0.8zM352.8 47.2h0.8v0.8h-0.8zM314.5 47.1h0.8v0.8h-0.8zM313.8 48.6h0.8v0.8h-0.8zM373.2 62.9h0.8v0.8h-0.8zM330.7 44.5h0.8v0.8h-0.8zM336.4 37.0h0.8v0.8h-0.8zM323.0 48.1h0.8v0.8h-0.8zM357.7 64.2h0.8v0.8h-0.8zM365.7 48.8h0.8v0.8h-0.8zM374.1 61.2h0.8v0.8h-0.8zM342.8 47.0h0.8v0.8h-0.8zM346.5 40.9h0.8v0.8h-0.8zM362.1 63.1h0.8v0.8h-0.8zM320.8 47.8h0.8v0.8h-0.8zM332.3 45.0h0.8v0.8h-0.8zM370.6 41.0h0.8v0.8h-0.8zM355.2 67.8h0.8v0.8h-0.8zM352.5 43.8h0.8v0.8h-0.8zM346.5 41.8h0.8v0.8h-0.8zM357.3 39.7h0.8v0.8h-0.8zM321.3 54.4h0.8v0.8h-0.8zM332.9 44.9h0.8v0.8h-0.8zM355.4 50.1h0.8v0.8h-0.8zM369.3 50.6h0.8v0.8h-0.8zM345.3 50.0h0.8v0.8h-0.8zM366.9 53.9h0.8v0.8h-0.8zM358.3 72.4h0.8v0.8h-0.8zM359.5 89.6h0.8v0.8h-0.8zM374.7 53.7h0.8v0.8h-0.8zM371.7 57.5h0.8v0.8h-0.8zM376.5 55.6h0.8v0.8h-0.8zM376.4 50.7h0.8v0.8h-0.8zM375.4 56.7h0.8v0.8h-0.8zM321.4 48.9h0.8v0.8h-0.8zM378.2 63.5h0.8v0.8h-0.8zM348.7 46.0h0.8v0.8h-0.8zM353.2 38.7h0.8v0.8h-0.8zM356.7 92.5h0.8v0.8h-0.8zM331.5 47.6h0.8v0.8h-0.8zM340.1 52.5h0.8v0.8h-0.8zM380.3 53.1h0.8v0.8h-0.8zM340.8 57.3h0.8v0.8h-0.8zM377.7 56.9h0.8v0.8h-0.8zM320.1 39.3h0.8v0.8h-0.8zM333.7 40.2h0.8v0.8h-0.8zM370.9 64.3h0.8v0.8h-0.8zM369.3 39.0h0.8v0.8h-0.8zM330.0 40.0h0.8v0.8h-0.8zM373.5 57.3h0.8v0.8h-0.8zM369.7 51.7h0.8v0.8h-0.8zM328.1 51.7h0.8v0.8h-0.8zM325.7 53.3h0.8v0.8h-0.8zM315.3 47.8h0.8v0.8h-0.8zM361.9 50.5h0.8v0.8h-0.8zM368.0 62.6h0.8v0.8h-0.8zM365.5 40.7h0.8v0.8h-0.8zM347.6 47.2h0.8v0.8h-0.8zM340.7 43.7h0.8v0.8h-0.8zM371.0 55.5h0.8v0.8h-0.8zM362.5 47.7h0.8v0.8h-0.8zM355.7 40.2h0.8v0.8h-0.8zM344.0 43.1h0.8v0.8h-0.8zM363.1 74.6h0.8v0.8h-0.8zM365.8 46.9h0.8v0.8h-0.8zM371.7 56.8h0.8v0.8h-0.8zM364.0 52.4h0.8v0.8h-0.8zM362.9 67.7h0.8v0.8h-0.8zM328.3 43.6h0.8v0.8h-0.8zM371.2 62.9h0.8v0.8h-0.8zM380.6 66.7h0.8v0.8h-0.8zM378.2 67.4h0.8v0.8h-0.8zM361.0 49.7h0.8v0.8h-0.8zM365.2 43.5h0.8v0.8h-0.8zM343.9 43.1h0.8v0.8h-0.8zM374.6 68.0h0.8v0.8h-0.8zM368.5 51.9h0.8v0.8h-0.8zM357.6 64.2h0.8v0.8h-0.8zM334.7 44.8h0.8v0.8h-0.8zM377.9 70.2h0.8v0.8h-0.8zM328.5 44.5h0.8v0.8h-0.8zM373.4 69.1h0.8v0.8h-0.8zM339.7 50.9h0.8v0.8h-0.8zM333.1 47.0h0.8v0.8h-0.8zM327.9 49.3h0.8v0.8h-0.8zM354.6 61.4h0.8v0.8h-0.8zM344.8 41.9h0.8v0.8h-0.8zM364.5 46.6h0.8v0.8h-0.8zM368.1 44.7h0.8v0.8h-0.8zM366.5 51.1h0.8v0.8h-0.8zM366.6 46.5h0.8v0.8h-0.8zM329.0 51.8h0.8v0.8h-0.8zM374.1 70.4h0.8v0.8h-0.8zM357.2 45.1h0.8v0.8h-0.8zM358.4 36.6h0.8v0.8h-0.8zM315.1 50.7h0.8v0.8h-0.8zM360.0 43.0h0.8v0.8h-0.8zM322.8 47.0h0.8v0.8h-0.8zM322.7 40.4h0.8v0.8h-0.8zM364.1 48.9h0.8v0.8h-0.8zM330.0 45.2h0.8v0.8h-0.8zM326.7 46.6h0.8v0.8h-0.8zM381.6 65.9h0.8v0.8h-0.8zM358.0 47.2h0.8v0.8h-0.8zM372.3 62.6h0.8v0.8h-0.8zM351.8 45.4h0.8v0.8h-0.8zM372.1 55.5h0.8v0.8h-0.8zM354.9 91.6h0.8v0.8h-0.8zM371.9 58.7h0.8v0.8h-0.8zM365.9 47.3h0.8v0.8h-0.8zM372.2 52.2h0.8v0.8h-0.8zM345.3 38.9h0.8v0.8h-0.8zM359.1 47.8h0.8v0.8h-0.8zM330.0 48.0h0.8v0.8h-0.8zM339.7 38.8h0.8v0.8h-0.8zM363.6 46.1h0.8v0.8h-0.8zM321.7 44.3h0.8v0.8h-0.8zM373.5 59.7h0.8v0.8h-0.8zM370.1 59.8h0.8v0.8h-0.8zM323.3 44.9h0.8v0.8h-0.8zM364.3 44.2h0.8v0.8h-0.8zM362.6 69.5h0.8v0.8h-0.8zM352.6 42.4h0.8v0.8h-0.8zM372.5 59.8h0.8v0.8h-0.8zM353.0 49.0h0.8v0.8h-0.8zM319.5 40.8h0.8v0.8h-0.8zM359.1 58.7h0.8v0.8h-0.8zM359.6 41.4h0.8v0.8h-0.8zM372.0 54.4h0.8v0.8h-0.8zM367.1 54.7h0.8v0.8h-0.8zM362.1 50.0h0.8v0.8h-0.8zM354.1 38.7h0.8v0.8h-0.8zM360.8 39.4h0.8v0.8h-0.8zM371.4 52.0h0.8v0.8h-0.8zM334.1 47.4h0.8v0.8h-0.8zM329.3 43.2h0.8v0.8h-0.8zM315.5 46.2h0.8v0.8h-0.8zM328.7 41.7h0.8v0.8h-0.8zM356.4 79.5h0.8v0.8h-0.8zM363.6 44.9h0.8v0.8h-0.8zM356.0 40.9h0.8v0.8h-0.8zM362.8 53.0h0.8v0.8h-0.8zM358.0 52.2h0.8v0.8h-0.8zM340.7 56.1h0.8v0.8h-0.8zM318.5 46.4h0.8v0.8h-0.8zM376.7 57.7h0.8v0.8h-0.8zM350.9 41.1h0.8v0.8h-0.8zM355.5 44.0h0.8v0.8h-0.8zM355.9 76.3h0.8v0.8h-0.8zM368.9 51.6h0.8v0.8h-0.8zM367.1 66.6h0.8v0.8h-0.8zM380.5 62.0h0.8v0.8h-0.8zM381.6 61.1h0.8v0.8h-0.8zM351.0 47.5h0.8v0.8h-0.8zM318.8 47.8h0.8v0.8h-0.8zM324.7 44.5h0.8v0.8h-0.8zM344.7 45.8h0.8v0.8h-0.8zM337.5 45.7h0.8v0.8h-0.8zM358.9 37.5h0.8v0.8h-0.8zM370.2 48.3h0.8v0.8h-0.8zM375.4 49.5h0.8v0.8h-0.8zM359.4 46.8h0.8v0.8h-0.8zM362.0 42.9h0.8v0.8h-0.8zM341.6 39.1h0.8v0.8h-0.8zM359.9 83.1h0.8v0.8h-0.8zM363.9 48.7h0.8v0.8h-0.8zM356.2 74.4h0.8v0.8h-0.8zM351.5 54.4h0.8v0.8h-0.8zM363.6 45.4h0.8v0.8h-0.8zM353.6 37.9h0.8v0.8h-0.8zM321.7 50.8h0.8v0.8h-0.8zM367.6 56.0h0.8v0.8h-0.8zM354.6 49.3h0.8v0.8h-0.8zM354.9 35.7h0.8v0.8h-0.8zM356.6 66.8h0.8v0.8h-0.8zM361.2 43.0h0.8v0.8h-0.8zM374.4 63.6h0.8v0.8h-0.8zM327.2 31.5h0.8v0.8h-0.8zM372.0 58.4h0.8v0.8h-0.8zM314.9 51.1h0.8v0.8h-0.8zM329.6 49.0h0.8v0.8h-0.8zM325.8 54.0h0.8v0.8h-0.8zM369.0 59.4h0.8v0.8h-0.8zM374.3 56.7h0.8v0.8h-0.8zM340.7 58.9h0.8v0.8h-0.8zM379.8 63.9h0.8v0.8h-0.8zM324.5 47.0h0.8v0.8h-0.8zM332.8 53.1h0.8v0.8h-0.8zM333.1 44.3h0.8v0.8h-0.8zM364.9 57.6h0.8v0.8h-0.8zM355.2 38.7h0.8v0.8h-0.8zM337.3 51.8h0.8v0.8h-0.8zM356.1 44.6h0.8v0.8h-0.8zM326.5 43.9h0.8v0.8h-0.8zM368.5 45.6h0.8v0.8h-0.8zM370.8 50.8h0.8v0.8h-0.8zM358.8 89.1h0.8v0.8h-0.8zM363.5 50.3h0.8v0.8h-0.8zM363.2 59.2h0.8v0.8h-0.8zM358.9 94.9h0.8v0.8h-0.8zM353.2 45.1h0.8v0.8h-0.8zM324.5 46.8h0.8v0.8h-0.8zM367.4 64.8h0.8v0.8h-0.8zM347.7 46.1h0.8v0.8h-0.8zM380.2 56.3h0.8v0.8h-0.8zM354.6 43.8h0.8v0.8h-0.8zM355.1 52.0h0.8v0.8h-0.8zM326.7 46.3h0.8v0.8h-0.8zM319.0 50.3h0.8v0.8h-0.8zM378.4 61.9h0.8v0.8h-0.8z" fill="#b284d4" fill-opacity="0.75"/>
<path d="M364.2 53.6h0.8v0.8h-0.8zM327.8 47.6h0.8v0.8h-0.8zM355.7 77.5h0.8v0.8h-0.8zM368.5 51.2h0.8v0.8h-0.8zM376.7 65.8h0.8v0.8h-0.8zM316.9 42.0h0.8v0.8h-0.8zM357.3 48.3h0.8v0.8h-0.8zM325.7 42.5h0.8v0.8h-0.8zM354.3 87.1h0.8v0.8h-0.8zM370.6 58.0h0.8v0.8h-0.8zM323.5 44.7h0.8v0.8h-0.8zM361.3 45.3h0.8v0.8h-0.8zM361.0 35.7h0.8v0.8h-0.8zM371.3 51.6h0.8v0.8h-0.8zM321.6 45.2h0.8v0.8h-0.8zM369.5 59.1h0.8v0.8h-0.8zM372.8 56.8h0.8v0.8h-0.8zM356.8 63.5h0.8v0.8h-0.8zM320.1 49.4h0.8v0.8h-0.8zM319.8 48.0h0.8v0.8h-0.8zM373.7 55.7h0.8v0.8h-0.8zM356.7 74.8h0.8v0.8h-0.8zM336.4 43.6h0.8v0.8h-0.8zM355.8 49.8h0.8v0.8h-0.8zM322.9 44.9h0.8v0.8h-0.8zM367.4 55.0h0.8v0.8h-0.8zM359.9 86.8h0.8v0.8h-0.8zM357.6 92.8h0.8v0.8h-0.8zM364.5 48.9h0.8v0.8h-0.8zM356.3 50.7h0.8v0.8h-0.8zM361.8 42.6h0.8v0.8h-0.8zM344.3 40.5h0.8v0.8h-0.8zM363.9 46.7h0.8v0.8h-0.8zM378.6 72.6h0.8v0.8h-0.8zM323.4 44.9h0.8v0.8h-0.8zM333.6 45.6h0.8v0.8h-0.8zM365.4 57.8h0.8v0.8h-0.8zM354.3 46.8h0.8v0.8h-0.8zM328.0 48.1h0.8v0.8h-0.8zM370.0 67.8h0.8v0.8h-0.8zM363.0 89.8h0.8v0.8h-0.8zM368.9 51.2h0.8v0.8h-0.8zM362.7 49.6h0.8v0.8h-0.8zM325.9 50.0h0.8v0.8h-0.8zM369.2 58.4h0.8v0.8h-0.8zM342.9 36.6h0.8v0.8h-0.8zM376.8 56.3h0.8v0.8h-0.8zM342.9 43.7h0.8v0.8h-0.8zM359.3 66.0h0.8v0.8h-0.8zM373.0 62.6h0.8v0.8h-0.8zM376.6 53.1h0.8v0.8h-0.8zM372.7 57.1h0.8v0.8h-0.8zM372.4 45.9h0.8v0.8h-0.8zM355.7 82.6h0.8v0.8h-0.8zM357.9 38.6h0.8v0.8h-0.8zM366.6 52.3h0.8v0.8h-0.8zM340.3 56.8h0.8v0.8h-0.8zM344.8 50.9h0.8v0.8h-0.8zM322.8 40.9h0.8v0.8h-0.8zM327.4 44.6h0.8v0.8h-0.8zM358.2 54.6h0.8v0.8h-0.8zM319.2 47.4h0.8v0.8h-0.8zM373.9 44.3h0.8v0.8h-0.8zM373.7 49.6h0.8v0.8h-0.8zM381.4 59.8h0.8v0.8h-0.8zM369.4 79.8h0.8v0.8h-0.8zM357.8 62.6h0.8v0.8h-0.8zM347.0 45.7h0.8v0.8h-0.8zM381.3 54.8h0.8v0.8h-0.8zM357.7 86.9h0.8v0.8h-0.8zM341.6 55.7h0.8v0.8h-0.8zM325.5 55.5h0.8v0.8h-0.8zM372.1 68.2h0.8v0.8h-0.8zM356.7 89.6h0.8v0.8h-0.8zM333.5 47.1h0.8v0.8h-0.8zM366.5 50.6h0.8v0.8h-0.8zM370.0 58.0h0.8v0.8h-0.8zM368.4 55.7h0.8v0.8h-0.8zM363.6 91.1h0.8v0.8h-0.8zM328.5 47.0h0.8v0.8h-0.8zM355.2 59.6h0.8v0.8h-0.8zM326.4 44.0h0.8v0.8h-0.8zM363.3 51.3h0.8v0.8h-0.8zM323.7 47.5h0.8v0.8h-0.8zM356.2 42.6h0.8v0.8h-0.8zM325.3 46.0h0.8v0.8h-0.8zM364.5 51.0h0.8v0.8h-0.8zM367.0 54.4h0.8v0.8h-0.8zM336.5 43.4h0.8v0.8h-0.8zM380.2 66.8h0.8v0.8h-0.8zM371.9 70.5h0.8v0.8h-0.8zM358.5 80.6h0.8v0.8h-0.8zM329.0 45.2h0.8v0.8h-0.8zM356.1 66.4h0.8v0.8h-0.8zM320.0 45.6h0.8v0.8h-0.8zM356.4 91.3h0.8v0.8h-0.8zM353.2 83.6h0.8v0.8h-0.8zM379.8 71.0h0.8v0.8h-0.8zM367.8 45.7h0.8v0.8h-0.8zM347.9 39.7h0.8v0.8h-0.8zM359.8 88.8h0.8v0.8h-0.8zM340.4 40.0h0.8v0.8h-0.8zM367.1 52.9h0.8v0.8h-0.8zM348.2 42.7h0.8v0.8h-0.8zM325.2 46.8h0.8v0.8h-0.8zM333.8 44.8h0.8v0.8h-0.8zM372.0 45.0h0.8v0.8h-0.8zM355.0 44.0h0.8v0.8h-0.8zM354.9 45.0h0.8v0.8h-0.8zM322.7 41.7h0.8v0.8h-0.8zM364.0 51.3h0.8v0.8h-0.8zM345.0 36.7h0.8v0.8h-0.8zM319.5 55.2h0.8v0.8h-0.8zM373.9 68.7h0.8v0.8h-0.8zM368.6 43.0h0.8v0.8h-0.8zM333.3 59.4h0.8v0.8h-0.8zM338.2 37.6h0.8v0.8h-0.8zM328.8 44.4h0.8v0.8h-0.8zM369.7 56.1h0.8v0.8h-0.8zM344.7 40.3h0.8v0.8h-0.8zM369.2 52.8h0.8v0.8h-0.8zM325.5 45.4h0.8v0.8h-0.8zM364.9 51.6h0.8v0.8h-0.8zM325.3 45.7h0.8v0.8h-0.8zM349.2 41.7h0.8v0.8h-0.8zM316.5 44.2h0.8v0.8h-0.8zM343.8 43.2h0.8v0.8h-0.8zM332.5 47.1h0.8v0.8h-0.8zM365.8 58.7h0.8v0.8h-0.8zM362.9 49.3h0.8v0.8h-0.8zM364.5 46.9h0.8v0.8h-0.8zM370.7 63.2h0.8v0.8h-0.8zM369.7 54.3h0.8v0.8h-0.8zM362.0 86.2h0.8v0.8h-0.8zM377.4 47.5h0.8v0.8h-0.8zM375.8 67.3h0.8v0.8h-0.8zM376.9 66.4h0.8v0.8h-0.8zM335.7 47.0h0.8v0.8h-0.8zM379.2 56.1h0.8v0.8h-0.8zM371.7 54.4h0.8v0.8h-0.8zM325.0 56.4h0.8v0.8h-0.8zM325.8 42.4h0.8v0.8h-0.8zM360.8 91.4h0.8v0.8h-0.8zM370.5 57.7h0.8v0.8h-0.8zM346.5 41.8h0.8v0.8h-0.8zM364.5 49.3h0.8v0.8h-0.8zM368.4 61.1h0.8v0.8h-0.8zM358.5 73.2h0.8v0.8h-0.8zM361.0 60.5h0.8v0.8h-0.8zM338.6 48.5h0.8v0.8h-0.8zM356.6 87.5h0.8v0.8h-0.8zM360.0 64.0h0.8v0.8h-0.8zM340.4 47.4h0.8v0.8h-0.8zM359.6 87.8h0.8v0.8h-0.8zM321.9 44.0h0.8v0.8h-0.8zM364.3 39.3h0.8v0.8h-0.8zM355.9 47.3h0.8v0.8h-0.8zM362.7 86.4h0.8v0.8h-0.8zM361.9 44.6h0.8v0.8h-0.8zM329.5 51.6h0.8v0.8h-0.8zM317.2 45.4h0.8v0.8h-0.8zM374.1 51.1h0.8v0.8h-0.8zM362.1 45.6h0.8v0.8h-0.8zM352.4 45.2h0.8v0.8h-0.8zM362.4 43.1h0.8v0.8h-0.8zM358.5 41.5h0.8v0.8h-0.8zM361.2 42.9h0.8v0.8h-0.8zM382.1 68.2h0.8v0.8h-0.8zM336.0 41.2h0.8v0.8h-0.8zM355.6 77.2h0.8v0.8h-0.8zM344.9 44.8h0.8v0.8h-0.8zM347.0 41.4h0.8v0.8h-0.8zM353.9 45.4h0.8v0.8h-0.8zM376.5 45.5h0.8v0.8h-0.8zM374.4 61.6h0.8v0.8h-0.8zM322.9 44.1h0.8v0.8h-0.8zM359.2 75.3h0.8v0.8h-0.8zM376.4 68.9h0.8v0.8h-0.8zM363.6 43.4h0.8v0.8h-0.8zM321.2 45.4h0.8v0.8h-0.8zM321.8 48.6h0.8v0.8h-0.8zM333.2 41.9h0.8v0.8h-0.8zM357.5 47.4h0.8v0.8h-0.8zM361.1 46.6h0.8v0.8h-0.8zM380.2 72.2h0.8v0.8h-0.8zM321.3 46.2h0.8v0.8h-0.8zM361.8 87.5h0.8v0.8h-0.8zM355.4 46.2h0.8v0.8h-0.8zM357.3 95.7h0.8v0.8h-0.8zM346.9 46.6h0.8v0.8h-0.8zM329.5 52.1h0.8v0.8h-0.8zM329.8 48.4h0.8v0.8h-0.8zM364.4 40.5h0.8v0.8h-0.8zM343.3 50.8h0.8v0.8h-0.8zM376.5 63.0h0.8v0.8h-0.8zM368.1 53.3h0.8v0.8h-0.8zM337.1 40.6h0.8v0.8h-0.8zM368.4 54.9h0.8v0.8h-0.8zM359.0 50.7h0.8v0.8h-0.8zM362.0 46.8h0.8v0.8h-0.8zM338.5 48.4h0.8v0.8h-0.8zM352.8 46.8h0.8v0.8h-0.8zM375.3 52.3h0.8v0.8h-0.8zM343.3 46.0h0.8v0.8h-0.8zM382.1 63.4h0.8v0.8h-0.8zM372.5 72.7h0.8v0.8h-0.8zM361.7 47.6h0.8v0.8h-0.8zM364.0 50.9h0.8v0.8h-0.8zM328.1 42.9h0.8v0.8h-0.8zM350.4 38.6h0.8v0.8h-0.8zM354.4 41.9h0.8v0.8h-0.8zM358.4 43.4h0.8v0.8h-0.8zM355.8 91.6h0.8v0.8h-0.8zM378.2 61.9h0.8v0.8h-0.8zM330.3 44.6h0.8v0.8h-0.8zM334.0 49.9h0.8v0.8h-0.8zM374.3 64.3h0.8v0.8h-0.8zM357.0 42.9h0.8v0.8h-0.8zM367.0 52.2h0.8v0.8h-0.8zM371.6 61.2h0.8v0.8h-0.8zM331.5 54.5h0.8v0.8h-0.8zM359.7 79.0h0.8v0.8h-0.8zM361.8 84.1h0.8v0.8h-0.8zM358.0 83.3h0.8v0.8h-0.8zM368.5 51.4h0.8v0.8h-0.8zM371.7 45.8h0.8v0.8h-0.8zM342.8 39.9h0.8v0.8h-0.8zM330.4 44.7h0.8v0.8h-0.8zM379.5 67.1h0.8v0.8h-0.8zM351.2 41.4h0.8v0.8h-0.8zM360.7 46.4h0.8v0.8h-0.8zM373.9 63.7h0.8v0.8h-0.8zM320.9 49.0h0.8v0.8h-0.8zM367.4 45.7h0.8v0.8h-0.8zM354.6 50.2h0.8v0.8h-0.8zM373.1 48.3h0.8v0.8h-0.8zM330.7 48.3h0.8v0.8h-0.8zM373.0 65.2h0.8v0.8h-0.8zM345.4 47.0h0.8v0.8h-0.8zM344.5 46.5h0.8v0.8h-0.8zM366.1 46.2h0.8v0.8h-0.8zM365.5 45.1h0.8v0.8h-0.8zM369.7 63.9h0.8v0.8h-0.8zM359.0 43.4h0.8v0.8h-0.8zM372.0 64.3h0.8v0.8h-0.8zM324.5 46.1h0.8v0.8h-0.8zM330.9 42.0h0.8v0.8h-0.8zM333.7 46.5h0.8v0.8h-0.8z" fill="#8a7ed0" fill-opacity="0.75"/>
<path d="M339.5,44.8 L340.1,44.8 L340.9,44.7 L341.9,44.6 L343.0,44.6 L344.1,44.5 L345.3,44.4 L346.6,44.4 L347.8,44.3 L348.9,44.3 L350.0,44.3 L351.0,44.3 L352.1,44.3 L353.1,44.4 L354.2,44.4 L355.2,44.5 L356.2,44.6 L357.2,44.7 L358.2,44.8 L359.1,45.0 L360.0,45.2 L360.8,45.5 L361.6,45.7 L362.4,46.0 L363.1,46.4 L363.8,46.8 L364.5,47.1 L365.1,47.6 L365.8,48.0 L366.4,48.5 L367.0,49.0 L367.6,49.5 L368.2,50.1 L368.7,50.8 L369.2,51.4 L369.8,52.1 L370.2,52.8 L370.7,53.5 L371.2,54.2 L371.6,54.8 L372.0,55.5 L372.4,56.2 L372.8,56.8 L373.1,57.5 L373.4,58.1 L373.8,58.8 L374.0,59.4 L374.3,60.1 L374.6,60.7 L374.8,61.4 L375.0,62.0 L375.2,62.6 L375.3,63.3 L375.5,64.0 L375.6,64.7 L375.7,65.4 L375.8,66.1 L375.8,66.7 L375.9,67.2 L375.9,67.6 L376.0,68.0" fill="none" stroke="#6f6fcf" stroke-opacity="0.9" stroke-width="9.8" stroke-linecap="round" stroke-linejoin="round" filter="url(#b1)"/>
<path d="M339.5,44.8 L340.1,44.8 L340.9,44.7 L341.9,44.6 L343.0,44.6 L344.1,44.5 L345.3,44.4 L346.6,44.4 L347.8,44.3 L348.9,44.3 L350.0,44.3 L351.0,44.3 L352.1,44.3 L353.1,44.4 L354.2,44.4 L355.2,44.5 L356.2,44.6 L357.2,44.7 L358.2,44.8 L359.1,45.0 L360.0,45.2 L360.8,45.5 L361.6,45.7 L362.4,46.0 L363.1,46.4 L363.8,46.8 L364.5,47.1 L365.1,47.6 L365.8,48.0 L366.4,48.5 L367.0,49.0 L367.6,49.5 L368.2,50.1 L368.7,50.8 L369.2,51.4 L369.8,52.1 L370.2,52.8 L370.7,53.5 L371.2,54.2 L371.6,54.8 L372.0,55.5 L372.4,56.2 L372.8,56.8 L373.1,57.5 L373.4,58.1 L373.8,58.8 L374.0,59.4 L374.3,60.1 L374.6,60.7 L374.8,61.4 L375.0,62.0 L375.2,62.6 L375.3,63.3 L375.5,64.0 L375.6,64.7 L375.7,65.4 L375.8,66.1 L375.8,66.7 L375.9,67.2 L375.9,67.6 L376.0,68.0" fill="none" stroke="#3cba4e" stroke-width="6.8" stroke-linecap="round" stroke-linejoin="round" filter="url(#b05)"/>
<ellipse cx="376.0" cy="80.2" rx="8.2" ry="18.2" fill="#8a74d0" fill-opacity="0.8" filter="url(#b15)"/>
<ellipse cx="376.0" cy="80.2" rx="6.4" ry="15.9" fill="#3cba4e" fill-opacity="1" filter="url(#b05)"/>
<ellipse cx="376.0" cy="80.2" rx="5.0" ry="14.0" fill="#ff0a0a" filter="url(#b03)"/>
</g>
<polyline points="310.6,27.3 365.4,26.5 361.2,57.3 310.6,56.3" fill="none" stroke="#444" stroke-width="0.9"/>
<polyline points="365.4,26.5 378.8,27.9 385.2,56.3 363.5,66.3 361.2,57.3" fill="none" stroke="#444" stroke-width="0.9"/>
<polyline points="363.5,66.3 363.5,97.1" fill="none" stroke="#444" stroke-width="0.9"/>
<polyline points="385.2,56.3 384.0,97.1" fill="none" stroke="#444" stroke-width="0.9"/>
<rect x="309.6" y="2.7" width="93.39999999999998" height="94.39999999999999" fill="none" stroke="#777" stroke-width="0.8"/>
<line x1="308.1" y1="2.7" x2="309.6" y2="2.7" stroke="#777" stroke-width="0.6"/>
<text x="307.40000000000003" y="3.9000000000000004" font-size="4.0" text-anchor="end" fill="#444">10<tspan font-size="2.6" dy="-1.2">4</tspan></text>
<line x1="308.1" y1="24.6" x2="309.6" y2="24.6" stroke="#777" stroke-width="0.6"/>
<text x="307.40000000000003" y="25.8" font-size="4.0" text-anchor="end" fill="#444">10<tspan font-size="2.6" dy="-1.2">3</tspan></text>
<line x1="308.1" y1="46" x2="309.6" y2="46" stroke="#777" stroke-width="0.6"/>
<text x="307.40000000000003" y="47.2" font-size="4.0" text-anchor="end" fill="#444">10<tspan font-size="2.6" dy="-1.2">2</tspan></text>
<line x1="308.1" y1="72" x2="309.6" y2="72" stroke="#777" stroke-width="0.6"/>
<text x="307.40000000000003" y="73.2" font-size="4.0" text-anchor="end" fill="#444">1</text>
<line x1="308.1" y1="81.7" x2="309.6" y2="81.7" stroke="#777" stroke-width="0.6"/>
<text x="307.40000000000003" y="82.9" font-size="4.0" text-anchor="end" fill="#444">0</text>
<line x1="308.1" y1="91.3" x2="309.6" y2="91.3" stroke="#777" stroke-width="0.6"/>
<text x="307.40000000000003" y="92.5" font-size="4.0" text-anchor="end" fill="#444">-1</text>
<line x1="323" y1="97.1" x2="323" y2="98.6" stroke="#777" stroke-width="0.6"/>
<text x="323" y="102.69999999999999" font-size="4.0" text-anchor="middle" fill="#444">0</text>
<line x1="336.5" y1="97.1" x2="336.5" y2="98.6" stroke="#777" stroke-width="0.6"/>
<text x="336.5" y="102.69999999999999" font-size="4.0" text-anchor="middle" fill="#444">10<tspan font-size="2.6" dy="-1.2">2</tspan></text>
<line x1="361" y1="97.1" x2="361" y2="98.6" stroke="#777" stroke-width="0.6"/>
<text x="361" y="102.69999999999999" font-size="4.0" text-anchor="middle" fill="#444">10<tspan font-size="2.6" dy="-1.2">3</tspan></text>
<line x1="383.7" y1="97.1" x2="383.7" y2="98.6" stroke="#777" stroke-width="0.6"/>
<text x="383.7" y="102.69999999999999" font-size="4.0" text-anchor="middle" fill="#444">10<tspan font-size="2.6" dy="-1.2">4</tspan></text>
<text x="318.0" y="16.0" font-size="11" font-weight="bold" fill="#111" textLength="13.6" lengthAdjust="spacingAndGlyphs">7.8</text>
<text x="375.6" y="15.8" font-size="11" font-weight="bold" fill="#111" textLength="18.0" lengthAdjust="spacingAndGlyphs">5 . 8</text>
<text x="316.5" y="90.3" font-size="11" font-weight="bold" fill="#111" textLength="13.2" lengthAdjust="spacingAndGlyphs">Co</text>
<text x="386.0" y="90.6" font-size="11" font-weight="bold" fill="#111" textLength="18.6" lengthAdjust="spacingAndGlyphs">86.4</text>
<clipPath id="cl2"><rect x="421" y="3.2" width="92.70000000000005" height="96.2"/></clipPath>
<g clip-path="url(#cl2)">
<path d="M450.0,44.5 L450.7,44.5 L451.6,44.4 L452.7,44.3 L453.9,44.2 L455.2,44.1 L456.6,44.0 L458.0,44.0 L459.4,43.9 L460.7,44.0 L462.0,44.0 L463.2,44.1 L464.5,44.2 L465.7,44.3 L467.0,44.5 L468.2,44.7 L469.5,44.9 L470.7,45.1 L471.9,45.4 L473.0,45.7 L474.0,46.0 L475.0,46.4 L475.9,46.8 L476.8,47.2 L477.7,47.7 L478.5,48.2 L479.2,48.7 L480.0,49.3 L480.7,49.8 L481.4,50.4 L482.0,51.0 L482.6,51.6 L483.2,52.3 L483.7,52.9 L484.2,53.6 L484.7,54.3 L485.1,55.0 L485.5,55.8 L485.8,56.5 L486.2,57.3 L486.5,58.0 L486.8,58.8 L487.0,59.7 L487.2,60.6 L487.4,61.5 L487.5,62.4 L487.7,63.3 L487.8,64.2 L487.8,64.9 L487.9,65.5 L488.0,66.0" fill="none" stroke="#ad92dc" stroke-opacity="0.45" stroke-width="11.0" stroke-linecap="round" stroke-linejoin="round" filter="url(#b2)"/>
<rect x="470" y="64" width="8" height="31" fill="#c9b3e0" fill-opacity="0.2" filter="url(#b2)"/>
<path d="M480.7 47.8h0.8v0.8h-0.8zM456.1 49.2h0.8v0.8h-0.8zM486.8 63.7h0.8v0.8h-0.8zM475.0 94.4h0.8v0.8h-0.8zM484.6 54.6h0.8v0.8h-0.8zM483.8 53.1h0.8v0.8h-0.8zM482.0 47.0h0.8v0.8h-0.8zM453.3 46.0h0.8v0.8h-0.8zM475.8 45.4h0.8v0.8h-0.8zM450.5 45.0h0.8v0.8h-0.8zM477.2 50.1h0.8v0.8h-0.8zM457.3 48.6h0.8v0.8h-0.8zM490.9 56.8h0.8v0.8h-0.8zM481.8 45.8h0.8v0.8h-0.8zM477.6 44.6h0.8v0.8h-0.8zM486.5 60.3h0.8v0.8h-0.8zM476.7 45.8h0.8v0.8h-0.8zM475.4 91.5h0.8v0.8h-0.8zM483.3 53.0h0.8v0.8h-0.8zM467.2 44.8h0.8v0.8h-0.8zM468.0 46.0h0.8v0.8h-0.8zM450.9 44.1h0.8v0.8h-0.8zM464.2 42.3h0.8v0.8h-0.8zM485.9 56.7h0.8v0.8h-0.8zM486.5 48.8h0.8v0.8h-0.8zM481.2 53.4h0.8v0.8h-0.8zM484.4 68.7h0.8v0.8h-0.8zM488.9 55.7h0.8v0.8h-0.8zM480.9 48.4h0.8v0.8h-0.8zM468.5 44.1h0.8v0.8h-0.8zM475.6 72.2h0.8v0.8h-0.8zM474.7 71.8h0.8v0.8h-0.8zM476.2 44.7h0.8v0.8h-0.8zM487.2 56.4h0.8v0.8h-0.8zM460.1 45.8h0.8v0.8h-0.8zM475.2 49.4h0.8v0.8h-0.8zM480.4 57.1h0.8v0.8h-0.8zM448.0 44.8h0.8v0.8h-0.8zM480.3 45.0h0.8v0.8h-0.8zM468.0 43.4h0.8v0.8h-0.8zM461.6 47.3h0.8v0.8h-0.8zM457.1 46.5h0.8v0.8h-0.8zM482.0 66.2h0.8v0.8h-0.8zM469.0 51.9h0.8v0.8h-0.8zM477.4 86.4h0.8v0.8h-0.8zM470.7 90.7h0.8v0.8h-0.8zM477.8 56.2h0.8v0.8h-0.8zM470.8 77.8h0.8v0.8h-0.8zM466.0 47.1h0.8v0.8h-0.8zM487.5 60.4h0.8v0.8h-0.8zM477.5 76.4h0.8v0.8h-0.8zM488.4 64.0h0.8v0.8h-0.8zM458.4 45.1h0.8v0.8h-0.8zM451.2 47.6h0.8v0.8h-0.8zM491.7 56.2h0.8v0.8h-0.8zM475.2 42.2h0.8v0.8h-0.8zM462.2 46.5h0.8v0.8h-0.8zM483.5 56.2h0.8v0.8h-0.8zM480.6 50.2h0.8v0.8h-0.8zM454.5 44.8h0.8v0.8h-0.8zM486.4 56.3h0.8v0.8h-0.8zM479.6 51.9h0.8v0.8h-0.8zM487.6 69.1h0.8v0.8h-0.8zM471.6 47.7h0.8v0.8h-0.8zM475.6 67.5h0.8v0.8h-0.8zM459.9 50.5h0.8v0.8h-0.8zM481.7 45.5h0.8v0.8h-0.8zM486.8 63.8h0.8v0.8h-0.8zM463.0 45.1h0.8v0.8h-0.8zM456.4 44.0h0.8v0.8h-0.8zM487.7 57.3h0.8v0.8h-0.8zM476.5 91.2h0.8v0.8h-0.8zM478.3 47.3h0.8v0.8h-0.8zM486.0 56.2h0.8v0.8h-0.8zM450.1 46.5h0.8v0.8h-0.8zM449.8 38.1h0.8v0.8h-0.8zM456.9 44.4h0.8v0.8h-0.8zM485.7 62.1h0.8v0.8h-0.8zM487.0 57.2h0.8v0.8h-0.8zM489.4 62.8h0.8v0.8h-0.8zM475.4 53.5h0.8v0.8h-0.8zM479.3 59.2h0.8v0.8h-0.8zM447.7 45.8h0.8v0.8h-0.8zM451.9 45.7h0.8v0.8h-0.8zM486.6 55.5h0.8v0.8h-0.8zM477.4 80.6h0.8v0.8h-0.8zM464.7 43.6h0.8v0.8h-0.8zM489.7 56.9h0.8v0.8h-0.8zM470.1 41.9h0.8v0.8h-0.8zM485.5 60.9h0.8v0.8h-0.8zM458.2 48.3h0.8v0.8h-0.8zM452.3 43.9h0.8v0.8h-0.8zM462.8 44.4h0.8v0.8h-0.8zM453.7 44.9h0.8v0.8h-0.8zM477.0 64.5h0.8v0.8h-0.8zM486.6 70.8h0.8v0.8h-0.8zM466.9 41.1h0.8v0.8h-0.8zM485.7 65.2h0.8v0.8h-0.8zM473.3 49.2h0.8v0.8h-0.8zM474.6 50.0h0.8v0.8h-0.8zM464.4 44.3h0.8v0.8h-0.8zM491.1 57.2h0.8v0.8h-0.8zM476.5 93.2h0.8v0.8h-0.8zM488.4 57.1h0.8v0.8h-0.8zM482.3 61.8h0.8v0.8h-0.8zM454.2 46.1h0.8v0.8h-0.8zM471.3 46.6h0.8v0.8h-0.8zM481.0 48.7h0.8v0.8h-0.8zM481.1 50.5h0.8v0.8h-0.8zM489.6 64.1h0.8v0.8h-0.8zM468.3 45.6h0.8v0.8h-0.8zM482.1 49.4h0.8v0.8h-0.8zM472.3 44.4h0.8v0.8h-0.8zM454.8 43.1h0.8v0.8h-0.8zM490.1 66.3h0.8v0.8h-0.8zM482.7 54.1h0.8v0.8h-0.8zM461.5 41.0h0.8v0.8h-0.8zM488.0 57.6h0.8v0.8h-0.8zM455.9 41.7h0.8v0.8h-0.8zM482.9 53.7h0.8v0.8h-0.8zM488.0 47.8h0.8v0.8h-0.8zM475.6 52.9h0.8v0.8h-0.8zM482.2 51.7h0.8v0.8h-0.8zM470.1 93.9h0.8v0.8h-0.8zM486.4 66.0h0.8v0.8h-0.8zM456.4 44.9h0.8v0.8h-0.8zM491.2 70.6h0.8v0.8h-0.8zM473.6 43.8h0.8v0.8h-0.8zM450.2 45.1h0.8v0.8h-0.8zM475.4 90.2h0.8v0.8h-0.8zM459.7 52.0h0.8v0.8h-0.8zM475.6 47.9h0.8v0.8h-0.8zM460.5 44.1h0.8v0.8h-0.8zM470.9 69.9h0.8v0.8h-0.8zM487.8 58.6h0.8v0.8h-0.8zM451.7 43.8h0.8v0.8h-0.8zM475.7 43.2h0.8v0.8h-0.8zM457.3 43.9h0.8v0.8h-0.8zM468.4 45.7h0.8v0.8h-0.8zM476.1 43.2h0.8v0.8h-0.8zM477.9 77.0h0.8v0.8h-0.8zM480.6 52.2h0.8v0.8h-0.8zM487.6 51.8h0.8v0.8h-0.8zM485.1 65.3h0.8v0.8h-0.8zM470.5 90.8h0.8v0.8h-0.8zM469.0 45.9h0.8v0.8h-0.8zM471.5 82.2h0.8v0.8h-0.8zM490.3 57.0h0.8v0.8h-0.8zM485.3 52.8h0.8v0.8h-0.8zM458.3 45.1h0.8v0.8h-0.8zM460.6 44.7h0.8v0.8h-0.8zM479.6 44.3h0.8v0.8h-0.8zM486.2 62.9h0.8v0.8h-0.8zM469.5 43.3h0.8v0.8h-0.8zM488.7 58.0h0.8v0.8h-0.8zM483.0 63.5h0.8v0.8h-0.8zM469.8 42.8h0.8v0.8h-0.8zM489.5 64.5h0.8v0.8h-0.8zM481.1 55.0h0.8v0.8h-0.8zM481.6 53.5h0.8v0.8h-0.8zM484.6 66.8h0.8v0.8h-0.8zM463.9 45.3h0.8v0.8h-0.8zM481.6 68.7h0.8v0.8h-0.8zM482.0 55.2h0.8v0.8h-0.8zM483.0 55.2h0.8v0.8h-0.8zM472.5 45.3h0.8v0.8h-0.8zM464.8 46.8h0.8v0.8h-0.8zM470.1 65.4h0.8v0.8h-0.8zM482.1 49.5h0.8v0.8h-0.8zM490.1 54.9h0.8v0.8h-0.8zM460.9 44.2h0.8v0.8h-0.8zM480.8 56.9h0.8v0.8h-0.8zM488.1 61.3h0.8v0.8h-0.8zM465.8 42.1h0.8v0.8h-0.8zM468.0 43.7h0.8v0.8h-0.8zM454.3 39.7h0.8v0.8h-0.8zM455.7 47.5h0.8v0.8h-0.8zM490.3 64.6h0.8v0.8h-0.8zM476.4 54.0h0.8v0.8h-0.8zM487.0 65.5h0.8v0.8h-0.8zM484.0 53.9h0.8v0.8h-0.8zM481.8 58.7h0.8v0.8h-0.8zM487.0 61.9h0.8v0.8h-0.8zM487.4 64.3h0.8v0.8h-0.8zM479.3 51.5h0.8v0.8h-0.8zM461.3 44.7h0.8v0.8h-0.8zM485.4 60.7h0.8v0.8h-0.8zM487.3 55.7h0.8v0.8h-0.8zM477.1 44.1h0.8v0.8h-0.8zM489.4 59.0h0.8v0.8h-0.8zM477.1 47.1h0.8v0.8h-0.8zM478.3 51.6h0.8v0.8h-0.8zM452.2 44.5h0.8v0.8h-0.8zM474.3 53.6h0.8v0.8h-0.8zM497.1 59.1h0.8v0.8h-0.8zM486.6 56.4h0.8v0.8h-0.8zM485.6 50.2h0.8v0.8h-0.8zM477.7 46.8h0.8v0.8h-0.8z" fill="#9b6fcf" fill-opacity="0.75"/>
<path d="M493.8 57.5h0.8v0.8h-0.8zM474.6 72.3h0.8v0.8h-0.8zM458.7 42.2h0.8v0.8h-0.8zM466.6 43.9h0.8v0.8h-0.8zM463.9 46.9h0.8v0.8h-0.8zM468.6 45.9h0.8v0.8h-0.8zM477.5 76.5h0.8v0.8h-0.8zM473.6 40.8h0.8v0.8h-0.8zM467.0 46.3h0.8v0.8h-0.8zM464.6 49.1h0.8v0.8h-0.8zM488.5 60.4h0.8v0.8h-0.8zM485.5 60.9h0.8v0.8h-0.8zM481.8 43.7h0.8v0.8h-0.8zM461.4 43.5h0.8v0.8h-0.8zM463.9 42.2h0.8v0.8h-0.8zM459.7 40.5h0.8v0.8h-0.8zM483.4 61.5h0.8v0.8h-0.8zM469.0 47.3h0.8v0.8h-0.8zM458.4 45.8h0.8v0.8h-0.8zM459.4 41.6h0.8v0.8h-0.8zM486.4 56.0h0.8v0.8h-0.8zM480.7 52.8h0.8v0.8h-0.8zM476.7 67.1h0.8v0.8h-0.8zM474.6 46.3h0.8v0.8h-0.8zM481.0 52.4h0.8v0.8h-0.8zM472.9 45.1h0.8v0.8h-0.8zM486.7 49.6h0.8v0.8h-0.8zM481.5 54.1h0.8v0.8h-0.8zM468.3 48.8h0.8v0.8h-0.8zM480.9 48.7h0.8v0.8h-0.8zM475.2 51.2h0.8v0.8h-0.8zM473.7 46.1h0.8v0.8h-0.8zM483.4 61.9h0.8v0.8h-0.8zM489.6 55.7h0.8v0.8h-0.8zM476.9 81.5h0.8v0.8h-0.8zM473.8 80.6h0.8v0.8h-0.8zM451.6 45.9h0.8v0.8h-0.8zM490.5 60.1h0.8v0.8h-0.8zM486.6 56.3h0.8v0.8h-0.8zM452.3 36.6h0.8v0.8h-0.8zM478.1 46.7h0.8v0.8h-0.8zM488.8 67.3h0.8v0.8h-0.8zM458.3 44.5h0.8v0.8h-0.8zM468.2 46.1h0.8v0.8h-0.8zM459.4 43.1h0.8v0.8h-0.8zM481.6 52.1h0.8v0.8h-0.8zM476.6 42.5h0.8v0.8h-0.8zM477.9 46.3h0.8v0.8h-0.8zM471.8 44.5h0.8v0.8h-0.8zM483.3 59.3h0.8v0.8h-0.8zM484.6 52.6h0.8v0.8h-0.8zM454.3 42.2h0.8v0.8h-0.8zM464.3 43.9h0.8v0.8h-0.8zM471.7 44.5h0.8v0.8h-0.8zM478.0 83.3h0.8v0.8h-0.8zM488.7 55.9h0.8v0.8h-0.8zM465.8 48.5h0.8v0.8h-0.8zM462.3 47.7h0.8v0.8h-0.8zM456.3 43.4h0.8v0.8h-0.8zM453.6 42.5h0.8v0.8h-0.8zM476.4 46.6h0.8v0.8h-0.8zM485.7 59.5h0.8v0.8h-0.8zM468.9 46.9h0.8v0.8h-0.8zM485.4 52.5h0.8v0.8h-0.8zM480.0 47.8h0.8v0.8h-0.8zM456.4 40.8h0.8v0.8h-0.8zM480.3 49.7h0.8v0.8h-0.8zM460.1 41.2h0.8v0.8h-0.8zM471.8 43.3h0.8v0.8h-0.8zM474.7 41.6h0.8v0.8h-0.8zM471.8 75.4h0.8v0.8h-0.8zM450.6 43.5h0.8v0.8h-0.8zM483.1 64.0h0.8v0.8h-0.8zM448.7 47.2h0.8v0.8h-0.8zM476.5 77.1h0.8v0.8h-0.8zM474.4 47.1h0.8v0.8h-0.8zM460.6 41.9h0.8v0.8h-0.8zM466.0 50.2h0.8v0.8h-0.8zM486.1 48.5h0.8v0.8h-0.8zM466.6 46.1h0.8v0.8h-0.8zM484.9 61.5h0.8v0.8h-0.8zM477.2 52.0h0.8v0.8h-0.8zM472.2 46.5h0.8v0.8h-0.8zM488.3 69.2h0.8v0.8h-0.8zM482.0 50.3h0.8v0.8h-0.8zM466.0 39.3h0.8v0.8h-0.8zM468.1 39.4h0.8v0.8h-0.8zM475.7 43.7h0.8v0.8h-0.8zM474.5 92.3h0.8v0.8h-0.8zM483.4 52.0h0.8v0.8h-0.8zM473.5 44.2h0.8v0.8h-0.8zM480.2 52.0h0.8v0.8h-0.8zM482.9 65.4h0.8v0.8h-0.8zM481.8 57.4h0.8v0.8h-0.8zM480.6 50.6h0.8v0.8h-0.8zM459.6 44.7h0.8v0.8h-0.8zM449.0 45.2h0.8v0.8h-0.8zM476.5 47.7h0.8v0.8h-0.8zM486.1 55.0h0.8v0.8h-0.8zM481.8 49.8h0.8v0.8h-0.8zM494.4 56.1h0.8v0.8h-0.8zM466.0 48.4h0.8v0.8h-0.8zM472.4 45.0h0.8v0.8h-0.8zM453.8 40.1h0.8v0.8h-0.8zM465.2 40.2h0.8v0.8h-0.8zM447.5 37.1h0.8v0.8h-0.8zM447.5 46.7h0.8v0.8h-0.8zM474.2 50.4h0.8v0.8h-0.8zM471.5 42.4h0.8v0.8h-0.8zM480.0 57.6h0.8v0.8h-0.8zM476.2 43.4h0.8v0.8h-0.8zM463.9 43.1h0.8v0.8h-0.8zM460.7 47.4h0.8v0.8h-0.8zM454.0 49.6h0.8v0.8h-0.8zM460.2 45.4h0.8v0.8h-0.8zM477.7 69.4h0.8v0.8h-0.8zM471.4 46.7h0.8v0.8h-0.8zM488.5 57.9h0.8v0.8h-0.8zM462.4 44.6h0.8v0.8h-0.8zM479.2 51.9h0.8v0.8h-0.8zM458.8 48.3h0.8v0.8h-0.8zM468.4 43.2h0.8v0.8h-0.8zM460.0 46.8h0.8v0.8h-0.8zM475.8 43.5h0.8v0.8h-0.8zM477.3 77.2h0.8v0.8h-0.8zM492.3 53.1h0.8v0.8h-0.8zM471.8 47.8h0.8v0.8h-0.8zM480.4 48.9h0.8v0.8h-0.8zM482.8 56.7h0.8v0.8h-0.8zM461.4 49.6h0.8v0.8h-0.8zM454.4 39.9h0.8v0.8h-0.8zM487.1 61.2h0.8v0.8h-0.8zM452.7 43.0h0.8v0.8h-0.8zM463.0 39.3h0.8v0.8h-0.8zM475.1 41.2h0.8v0.8h-0.8zM488.3 64.9h0.8v0.8h-0.8zM471.8 74.8h0.8v0.8h-0.8zM473.9 46.1h0.8v0.8h-0.8zM458.3 48.2h0.8v0.8h-0.8zM474.3 44.4h0.8v0.8h-0.8zM461.6 41.3h0.8v0.8h-0.8zM461.6 49.8h0.8v0.8h-0.8zM485.3 51.8h0.8v0.8h-0.8zM471.7 47.4h0.8v0.8h-0.8zM488.9 56.1h0.8v0.8h-0.8zM488.0 56.2h0.8v0.8h-0.8zM455.6 42.7h0.8v0.8h-0.8zM482.2 49.8h0.8v0.8h-0.8zM457.9 51.9h0.8v0.8h-0.8zM488.3 58.4h0.8v0.8h-0.8zM480.2 53.0h0.8v0.8h-0.8zM481.9 47.3h0.8v0.8h-0.8zM483.0 53.3h0.8v0.8h-0.8zM489.4 61.0h0.8v0.8h-0.8zM472.0 47.6h0.8v0.8h-0.8zM484.3 61.5h0.8v0.8h-0.8zM482.9 48.6h0.8v0.8h-0.8zM472.9 43.7h0.8v0.8h-0.8zM476.7 48.2h0.8v0.8h-0.8zM479.3 54.6h0.8v0.8h-0.8zM474.2 74.5h0.8v0.8h-0.8zM476.6 48.7h0.8v0.8h-0.8zM476.6 52.4h0.8v0.8h-0.8zM453.3 46.9h0.8v0.8h-0.8zM471.9 76.0h0.8v0.8h-0.8zM479.9 47.3h0.8v0.8h-0.8zM472.2 79.2h0.8v0.8h-0.8zM466.8 47.5h0.8v0.8h-0.8zM488.0 58.9h0.8v0.8h-0.8zM474.6 64.5h0.8v0.8h-0.8zM474.0 48.5h0.8v0.8h-0.8zM471.7 92.0h0.8v0.8h-0.8zM479.6 52.1h0.8v0.8h-0.8zM483.2 50.7h0.8v0.8h-0.8zM489.2 51.9h0.8v0.8h-0.8zM478.5 45.0h0.8v0.8h-0.8zM475.7 49.9h0.8v0.8h-0.8zM459.1 43.0h0.8v0.8h-0.8zM449.1 47.7h0.8v0.8h-0.8zM452.9 48.2h0.8v0.8h-0.8zM475.7 75.0h0.8v0.8h-0.8zM476.9 70.2h0.8v0.8h-0.8zM453.6 44.3h0.8v0.8h-0.8zM491.5 58.0h0.8v0.8h-0.8zM459.5 41.1h0.8v0.8h-0.8zM484.0 47.9h0.8v0.8h-0.8zM465.5 41.7h0.8v0.8h-0.8zM456.4 46.0h0.8v0.8h-0.8zM450.1 46.3h0.8v0.8h-0.8zM460.7 41.1h0.8v0.8h-0.8zM474.4 47.9h0.8v0.8h-0.8zM481.8 54.3h0.8v0.8h-0.8zM475.5 68.9h0.8v0.8h-0.8zM471.7 47.4h0.8v0.8h-0.8zM456.1 44.6h0.8v0.8h-0.8zM460.0 47.6h0.8v0.8h-0.8zM476.9 49.0h0.8v0.8h-0.8z" fill="#7d6cc9" fill-opacity="0.75"/>
<path d="M486.6 64.6h0.8v0.8h-0.8zM486.9 59.7h0.8v0.8h-0.8zM459.2 42.9h0.8v0.8h-0.8zM484.1 55.8h0.8v0.8h-0.8zM476.8 48.0h0.8v0.8h-0.8zM449.2 42.2h0.8v0.8h-0.8zM483.5 54.8h0.8v0.8h-0.8zM477.3 51.1h0.8v0.8h-0.8zM476.4 65.2h0.8v0.8h-0.8zM449.8 47.9h0.8v0.8h-0.8zM460.1 44.1h0.8v0.8h-0.8zM474.4 85.0h0.8v0.8h-0.8zM473.2 44.8h0.8v0.8h-0.8zM473.6 47.1h0.8v0.8h-0.8zM490.4 60.7h0.8v0.8h-0.8zM476.8 73.9h0.8v0.8h-0.8zM486.9 54.8h0.8v0.8h-0.8zM481.6 48.8h0.8v0.8h-0.8zM456.4 44.2h0.8v0.8h-0.8zM486.7 50.4h0.8v0.8h-0.8zM454.9 43.3h0.8v0.8h-0.8zM476.4 45.2h0.8v0.8h-0.8zM475.2 89.2h0.8v0.8h-0.8zM478.4 50.2h0.8v0.8h-0.8zM479.3 51.8h0.8v0.8h-0.8zM478.2 48.8h0.8v0.8h-0.8zM462.7 40.6h0.8v0.8h-0.8zM448.8 49.0h0.8v0.8h-0.8zM486.2 63.4h0.8v0.8h-0.8zM480.4 52.7h0.8v0.8h-0.8zM473.3 44.2h0.8v0.8h-0.8zM454.2 43.4h0.8v0.8h-0.8zM467.7 41.5h0.8v0.8h-0.8zM480.7 41.2h0.8v0.8h-0.8zM490.4 61.8h0.8v0.8h-0.8zM486.2 66.7h0.8v0.8h-0.8zM482.9 45.2h0.8v0.8h-0.8zM450.0 41.1h0.8v0.8h-0.8zM462.4 44.9h0.8v0.8h-0.8zM487.1 66.0h0.8v0.8h-0.8zM465.2 41.4h0.8v0.8h-0.8zM475.0 45.2h0.8v0.8h-0.8zM449.6 46.2h0.8v0.8h-0.8zM448.8 49.3h0.8v0.8h-0.8zM470.3 38.1h0.8v0.8h-0.8zM488.4 54.8h0.8v0.8h-0.8zM480.3 52.3h0.8v0.8h-0.8zM481.3 48.9h0.8v0.8h-0.8zM468.1 48.2h0.8v0.8h-0.8zM469.9 40.9h0.8v0.8h-0.8zM459.8 46.1h0.8v0.8h-0.8zM482.9 50.5h0.8v0.8h-0.8zM466.1 48.0h0.8v0.8h-0.8zM463.4 43.6h0.8v0.8h-0.8zM468.2 40.0h0.8v0.8h-0.8zM454.2 44.9h0.8v0.8h-0.8zM466.5 47.6h0.8v0.8h-0.8zM476.8 78.1h0.8v0.8h-0.8zM470.8 47.0h0.8v0.8h-0.8zM458.3 40.0h0.8v0.8h-0.8zM486.7 54.7h0.8v0.8h-0.8zM489.8 57.5h0.8v0.8h-0.8zM453.5 43.8h0.8v0.8h-0.8zM453.4 45.4h0.8v0.8h-0.8zM474.3 44.8h0.8v0.8h-0.8zM492.2 66.3h0.8v0.8h-0.8zM474.2 45.4h0.8v0.8h-0.8zM492.6 59.5h0.8v0.8h-0.8zM487.2 52.4h0.8v0.8h-0.8zM464.6 42.4h0.8v0.8h-0.8zM469.8 40.0h0.8v0.8h-0.8zM479.9 51.6h0.8v0.8h-0.8zM470.5 50.9h0.8v0.8h-0.8zM455.9 38.4h0.8v0.8h-0.8zM449.9 46.1h0.8v0.8h-0.8zM480.1 50.5h0.8v0.8h-0.8zM453.5 46.1h0.8v0.8h-0.8zM471.6 87.6h0.8v0.8h-0.8zM455.5 46.6h0.8v0.8h-0.8zM485.9 52.9h0.8v0.8h-0.8zM466.1 42.1h0.8v0.8h-0.8zM470.8 47.6h0.8v0.8h-0.8zM483.7 49.0h0.8v0.8h-0.8zM482.8 54.0h0.8v0.8h-0.8zM485.9 53.5h0.8v0.8h-0.8zM450.3 45.6h0.8v0.8h-0.8zM459.8 45.2h0.8v0.8h-0.8zM449.4 40.7h0.8v0.8h-0.8zM481.7 56.2h0.8v0.8h-0.8zM486.7 63.5h0.8v0.8h-0.8zM464.4 45.4h0.8v0.8h-0.8zM472.8 47.2h0.8v0.8h-0.8zM477.4 93.0h0.8v0.8h-0.8zM488.4 63.1h0.8v0.8h-0.8zM469.9 48.0h0.8v0.8h-0.8zM485.5 61.1h0.8v0.8h-0.8zM474.1 50.4h0.8v0.8h-0.8zM470.6 41.4h0.8v0.8h-0.8zM484.9 60.5h0.8v0.8h-0.8zM490.9 70.6h0.8v0.8h-0.8zM481.3 52.7h0.8v0.8h-0.8zM482.1 54.1h0.8v0.8h-0.8zM484.3 50.4h0.8v0.8h-0.8zM478.9 50.5h0.8v0.8h-0.8zM488.6 55.7h0.8v0.8h-0.8zM488.0 63.2h0.8v0.8h-0.8zM464.4 39.8h0.8v0.8h-0.8zM460.8 41.7h0.8v0.8h-0.8zM477.6 50.0h0.8v0.8h-0.8zM469.9 44.3h0.8v0.8h-0.8zM483.9 57.8h0.8v0.8h-0.8zM477.0 85.8h0.8v0.8h-0.8zM475.6 46.4h0.8v0.8h-0.8zM451.7 43.9h0.8v0.8h-0.8zM478.1 48.8h0.8v0.8h-0.8zM456.4 44.0h0.8v0.8h-0.8zM480.2 57.6h0.8v0.8h-0.8zM471.6 92.7h0.8v0.8h-0.8zM481.6 47.9h0.8v0.8h-0.8zM478.5 44.2h0.8v0.8h-0.8zM466.8 46.5h0.8v0.8h-0.8zM486.8 63.5h0.8v0.8h-0.8zM462.2 45.7h0.8v0.8h-0.8zM480.8 51.2h0.8v0.8h-0.8zM481.7 53.1h0.8v0.8h-0.8zM454.4 46.6h0.8v0.8h-0.8zM485.2 62.6h0.8v0.8h-0.8zM468.6 45.2h0.8v0.8h-0.8zM480.5 51.7h0.8v0.8h-0.8zM486.6 57.3h0.8v0.8h-0.8zM460.3 44.0h0.8v0.8h-0.8zM484.8 52.0h0.8v0.8h-0.8zM477.3 41.8h0.8v0.8h-0.8zM463.7 44.6h0.8v0.8h-0.8zM487.0 71.0h0.8v0.8h-0.8zM459.0 48.0h0.8v0.8h-0.8zM475.5 50.0h0.8v0.8h-0.8zM480.1 50.5h0.8v0.8h-0.8zM492.0 63.7h0.8v0.8h-0.8zM489.8 57.9h0.8v0.8h-0.8zM487.9 64.3h0.8v0.8h-0.8zM457.4 46.2h0.8v0.8h-0.8zM450.5 48.0h0.8v0.8h-0.8zM467.7 48.4h0.8v0.8h-0.8zM476.8 47.3h0.8v0.8h-0.8zM474.1 90.9h0.8v0.8h-0.8zM455.2 39.0h0.8v0.8h-0.8zM460.1 44.9h0.8v0.8h-0.8zM472.4 44.3h0.8v0.8h-0.8zM480.7 53.2h0.8v0.8h-0.8zM475.9 49.0h0.8v0.8h-0.8zM485.1 57.2h0.8v0.8h-0.8zM471.3 85.3h0.8v0.8h-0.8zM485.2 49.4h0.8v0.8h-0.8zM474.5 79.4h0.8v0.8h-0.8zM480.3 45.1h0.8v0.8h-0.8zM489.9 65.6h0.8v0.8h-0.8zM449.5 41.0h0.8v0.8h-0.8zM487.0 54.7h0.8v0.8h-0.8zM461.6 44.7h0.8v0.8h-0.8zM479.7 53.8h0.8v0.8h-0.8zM489.5 57.8h0.8v0.8h-0.8zM468.7 46.8h0.8v0.8h-0.8zM467.1 45.5h0.8v0.8h-0.8zM459.7 47.8h0.8v0.8h-0.8zM476.3 45.3h0.8v0.8h-0.8zM485.1 56.5h0.8v0.8h-0.8zM468.7 45.8h0.8v0.8h-0.8zM472.7 48.3h0.8v0.8h-0.8zM474.4 47.9h0.8v0.8h-0.8zM482.3 56.3h0.8v0.8h-0.8zM465.7 45.7h0.8v0.8h-0.8zM487.0 62.0h0.8v0.8h-0.8zM469.4 47.3h0.8v0.8h-0.8zM468.5 41.9h0.8v0.8h-0.8zM451.4 41.8h0.8v0.8h-0.8zM489.5 55.5h0.8v0.8h-0.8zM457.6 40.4h0.8v0.8h-0.8zM460.9 41.3h0.8v0.8h-0.8zM485.8 55.1h0.8v0.8h-0.8zM479.3 49.6h0.8v0.8h-0.8zM474.5 86.9h0.8v0.8h-0.8zM480.2 52.6h0.8v0.8h-0.8zM490.7 64.7h0.8v0.8h-0.8zM482.3 64.7h0.8v0.8h-0.8zM486.2 64.4h0.8v0.8h-0.8zM470.6 46.4h0.8v0.8h-0.8zM468.8 48.7h0.8v0.8h-0.8zM474.4 45.9h0.8v0.8h-0.8zM471.1 50.9h0.8v0.8h-0.8zM485.3 59.2h0.8v0.8h-0.8zM489.1 57.8h0.8v0.8h-0.8zM477.4 48.1h0.8v0.8h-0.8zM453.0 46.1h0.8v0.8h-0.8zM476.0 45.7h0.8v0.8h-0.8zM473.7 47.2h0.8v0.8h-0.8zM452.5 42.0h0.8v0.8h-0.8z" fill="#b48ad8" fill-opacity="0.75"/>
<path d="M476.5 85.0h0.8v0.8h-0.8zM459.8 43.1h0.8v0.8h-0.8zM454.1 50.4h0.8v0.8h-0.8zM485.9 53.7h0.8v0.8h-0.8zM477.4 51.0h0.8v0.8h-0.8zM453.5 41.5h0.8v0.8h-0.8zM489.0 65.9h0.8v0.8h-0.8zM475.0 42.4h0.8v0.8h-0.8zM467.4 39.6h0.8v0.8h-0.8zM475.5 85.9h0.8v0.8h-0.8zM469.0 47.8h0.8v0.8h-0.8zM483.3 60.1h0.8v0.8h-0.8zM465.6 43.2h0.8v0.8h-0.8zM484.6 47.1h0.8v0.8h-0.8zM485.9 64.6h0.8v0.8h-0.8zM470.3 44.3h0.8v0.8h-0.8zM489.5 55.0h0.8v0.8h-0.8zM471.6 66.8h0.8v0.8h-0.8zM483.7 64.7h0.8v0.8h-0.8zM476.2 84.8h0.8v0.8h-0.8zM483.7 52.0h0.8v0.8h-0.8zM496.4 61.4h0.8v0.8h-0.8zM456.9 41.0h0.8v0.8h-0.8zM460.8 47.3h0.8v0.8h-0.8zM474.7 50.0h0.8v0.8h-0.8zM472.1 84.2h0.8v0.8h-0.8zM470.4 43.3h0.8v0.8h-0.8zM484.5 61.7h0.8v0.8h-0.8zM453.9 41.3h0.8v0.8h-0.8zM482.1 47.6h0.8v0.8h-0.8zM452.4 48.7h0.8v0.8h-0.8zM483.0 55.8h0.8v0.8h-0.8zM457.5 42.2h0.8v0.8h-0.8zM483.8 51.2h0.8v0.8h-0.8zM470.4 67.9h0.8v0.8h-0.8zM485.1 67.9h0.8v0.8h-0.8zM470.3 50.7h0.8v0.8h-0.8zM457.3 42.9h0.8v0.8h-0.8zM489.2 51.7h0.8v0.8h-0.8zM483.7 53.0h0.8v0.8h-0.8zM475.8 45.7h0.8v0.8h-0.8zM487.0 61.4h0.8v0.8h-0.8zM488.4 60.9h0.8v0.8h-0.8zM474.2 90.4h0.8v0.8h-0.8zM486.4 59.0h0.8v0.8h-0.8zM461.7 47.5h0.8v0.8h-0.8zM481.3 57.7h0.8v0.8h-0.8zM488.2 54.2h0.8v0.8h-0.8zM480.8 47.2h0.8v0.8h-0.8zM452.1 46.4h0.8v0.8h-0.8zM477.2 54.0h0.8v0.8h-0.8zM457.7 48.0h0.8v0.8h-0.8zM474.1 71.1h0.8v0.8h-0.8zM462.6 44.8h0.8v0.8h-0.8zM460.1 44.4h0.8v0.8h-0.8zM487.6 63.9h0.8v0.8h-0.8zM485.9 46.5h0.8v0.8h-0.8zM464.4 45.7h0.8v0.8h-0.8zM459.8 42.3h0.8v0.8h-0.8zM480.3 52.6h0.8v0.8h-0.8zM484.0 52.3h0.8v0.8h-0.8zM454.6 44.1h0.8v0.8h-0.8zM483.3 58.0h0.8v0.8h-0.8zM486.3 57.8h0.8v0.8h-0.8zM485.7 60.7h0.8v0.8h-0.8zM485.5 52.9h0.8v0.8h-0.8zM482.6 59.8h0.8v0.8h-0.8zM473.6 41.9h0.8v0.8h-0.8zM478.0 43.7h0.8v0.8h-0.8zM487.2 61.8h0.8v0.8h-0.8zM485.8 61.7h0.8v0.8h-0.8zM465.0 44.1h0.8v0.8h-0.8zM472.4 46.6h0.8v0.8h-0.8zM490.3 58.9h0.8v0.8h-0.8zM485.8 52.9h0.8v0.8h-0.8zM485.8 64.7h0.8v0.8h-0.8zM488.1 57.5h0.8v0.8h-0.8zM489.0 55.3h0.8v0.8h-0.8zM487.6 63.5h0.8v0.8h-0.8zM470.7 82.3h0.8v0.8h-0.8zM485.7 55.7h0.8v0.8h-0.8zM473.2 83.5h0.8v0.8h-0.8zM487.2 54.0h0.8v0.8h-0.8zM461.7 47.1h0.8v0.8h-0.8zM473.1 53.2h0.8v0.8h-0.8zM482.6 49.9h0.8v0.8h-0.8zM487.3 54.4h0.8v0.8h-0.8zM484.2 46.8h0.8v0.8h-0.8zM473.6 46.8h0.8v0.8h-0.8zM467.0 42.8h0.8v0.8h-0.8zM468.7 39.2h0.8v0.8h-0.8zM456.7 44.1h0.8v0.8h-0.8zM488.9 55.5h0.8v0.8h-0.8zM456.7 35.1h0.8v0.8h-0.8zM483.0 50.0h0.8v0.8h-0.8zM465.7 48.4h0.8v0.8h-0.8zM491.3 66.7h0.8v0.8h-0.8zM472.8 87.3h0.8v0.8h-0.8zM489.5 61.5h0.8v0.8h-0.8zM482.3 53.2h0.8v0.8h-0.8zM471.1 43.4h0.8v0.8h-0.8zM488.9 56.8h0.8v0.8h-0.8zM482.7 61.1h0.8v0.8h-0.8zM483.4 58.1h0.8v0.8h-0.8zM486.0 53.4h0.8v0.8h-0.8zM470.9 45.7h0.8v0.8h-0.8zM472.6 41.6h0.8v0.8h-0.8zM457.4 45.8h0.8v0.8h-0.8zM482.1 62.0h0.8v0.8h-0.8zM469.8 41.1h0.8v0.8h-0.8zM456.9 44.1h0.8v0.8h-0.8zM486.1 65.3h0.8v0.8h-0.8zM487.2 65.1h0.8v0.8h-0.8zM467.4 44.2h0.8v0.8h-0.8zM479.5 52.3h0.8v0.8h-0.8zM466.3 42.8h0.8v0.8h-0.8zM482.9 53.2h0.8v0.8h-0.8zM449.3 47.1h0.8v0.8h-0.8zM453.2 40.7h0.8v0.8h-0.8zM457.0 43.6h0.8v0.8h-0.8zM485.2 65.2h0.8v0.8h-0.8zM483.8 54.2h0.8v0.8h-0.8zM483.2 52.8h0.8v0.8h-0.8zM476.7 47.6h0.8v0.8h-0.8zM470.1 41.6h0.8v0.8h-0.8zM485.2 48.4h0.8v0.8h-0.8zM475.2 45.6h0.8v0.8h-0.8zM489.3 63.0h0.8v0.8h-0.8zM483.9 48.2h0.8v0.8h-0.8zM481.7 49.3h0.8v0.8h-0.8zM489.8 69.8h0.8v0.8h-0.8zM485.7 53.3h0.8v0.8h-0.8zM486.7 63.6h0.8v0.8h-0.8zM487.5 55.3h0.8v0.8h-0.8zM490.4 60.0h0.8v0.8h-0.8zM489.0 57.1h0.8v0.8h-0.8zM450.4 43.6h0.8v0.8h-0.8zM485.3 51.2h0.8v0.8h-0.8zM484.8 62.5h0.8v0.8h-0.8zM473.9 83.3h0.8v0.8h-0.8zM462.0 45.7h0.8v0.8h-0.8zM462.6 39.9h0.8v0.8h-0.8zM465.7 44.4h0.8v0.8h-0.8zM468.0 49.7h0.8v0.8h-0.8zM476.7 44.2h0.8v0.8h-0.8zM473.4 45.5h0.8v0.8h-0.8zM477.4 89.3h0.8v0.8h-0.8zM480.0 55.7h0.8v0.8h-0.8zM480.8 43.4h0.8v0.8h-0.8zM481.0 45.2h0.8v0.8h-0.8zM470.0 48.1h0.8v0.8h-0.8zM457.9 43.0h0.8v0.8h-0.8zM465.2 42.4h0.8v0.8h-0.8zM464.6 43.5h0.8v0.8h-0.8zM455.3 51.0h0.8v0.8h-0.8zM452.1 40.3h0.8v0.8h-0.8zM455.7 42.3h0.8v0.8h-0.8zM483.1 67.6h0.8v0.8h-0.8zM451.6 38.6h0.8v0.8h-0.8zM461.2 47.3h0.8v0.8h-0.8zM472.1 47.2h0.8v0.8h-0.8zM491.1 57.8h0.8v0.8h-0.8zM465.3 44.1h0.8v0.8h-0.8zM484.1 63.3h0.8v0.8h-0.8zM477.9 43.2h0.8v0.8h-0.8zM473.9 84.4h0.8v0.8h-0.8zM455.3 46.9h0.8v0.8h-0.8zM483.8 50.8h0.8v0.8h-0.8zM490.8 65.1h0.8v0.8h-0.8zM485.1 51.0h0.8v0.8h-0.8zM483.1 59.3h0.8v0.8h-0.8zM485.5 63.8h0.8v0.8h-0.8zM475.4 50.9h0.8v0.8h-0.8zM480.8 51.5h0.8v0.8h-0.8zM484.1 55.9h0.8v0.8h-0.8zM488.9 53.5h0.8v0.8h-0.8zM476.8 45.6h0.8v0.8h-0.8zM469.8 46.2h0.8v0.8h-0.8zM474.2 72.5h0.8v0.8h-0.8zM468.7 43.9h0.8v0.8h-0.8zM475.8 73.1h0.8v0.8h-0.8zM487.2 63.5h0.8v0.8h-0.8zM483.1 63.3h0.8v0.8h-0.8zM479.9 56.4h0.8v0.8h-0.8zM487.4 55.7h0.8v0.8h-0.8zM453.9 44.2h0.8v0.8h-0.8zM479.0 51.1h0.8v0.8h-0.8zM487.3 62.5h0.8v0.8h-0.8zM472.1 73.7h0.8v0.8h-0.8zM485.7 63.9h0.8v0.8h-0.8zM450.0 42.1h0.8v0.8h-0.8zM467.9 44.3h0.8v0.8h-0.8zM485.7 53.2h0.8v0.8h-0.8zM470.3 42.5h0.8v0.8h-0.8zM487.7 49.3h0.8v0.8h-0.8zM485.3 56.5h0.8v0.8h-0.8zM461.8 36.9h0.8v0.8h-0.8z" fill="#6f86d6" fill-opacity="0.75"/>
<path d="M487.3 56.8h0.8v0.8h-0.8zM480.4 54.7h0.8v0.8h-0.8zM469.2 43.2h0.8v0.8h-0.8zM477.0 86.3h0.8v0.8h-0.8zM482.1 51.3h0.8v0.8h-0.8zM470.4 45.6h0.8v0.8h-0.8zM495.9 64.7h0.8v0.8h-0.8zM485.0 62.8h0.8v0.8h-0.8zM457.7 45.5h0.8v0.8h-0.8zM493.6 61.7h0.8v0.8h-0.8zM446.7 42.5h0.8v0.8h-0.8zM486.2 60.0h0.8v0.8h-0.8zM476.1 76.8h0.8v0.8h-0.8zM485.1 48.0h0.8v0.8h-0.8zM458.2 43.7h0.8v0.8h-0.8zM471.4 82.0h0.8v0.8h-0.8zM464.2 43.2h0.8v0.8h-0.8zM487.9 65.3h0.8v0.8h-0.8zM458.3 44.5h0.8v0.8h-0.8zM453.0 40.2h0.8v0.8h-0.8zM474.1 71.7h0.8v0.8h-0.8zM484.7 63.1h0.8v0.8h-0.8zM466.2 44.2h0.8v0.8h-0.8zM485.9 53.4h0.8v0.8h-0.8zM490.5 63.6h0.8v0.8h-0.8zM467.1 45.6h0.8v0.8h-0.8zM477.2 66.0h0.8v0.8h-0.8zM449.8 34.3h0.8v0.8h-0.8zM453.6 43.4h0.8v0.8h-0.8zM459.0 44.6h0.8v0.8h-0.8zM486.2 61.6h0.8v0.8h-0.8zM459.7 46.8h0.8v0.8h-0.8zM488.6 62.8h0.8v0.8h-0.8zM466.5 43.7h0.8v0.8h-0.8zM483.9 63.9h0.8v0.8h-0.8zM491.7 56.2h0.8v0.8h-0.8zM461.3 43.0h0.8v0.8h-0.8zM488.8 67.2h0.8v0.8h-0.8zM479.2 53.9h0.8v0.8h-0.8zM485.2 65.6h0.8v0.8h-0.8zM451.3 45.4h0.8v0.8h-0.8zM493.9 59.8h0.8v0.8h-0.8zM474.1 81.3h0.8v0.8h-0.8zM478.3 52.1h0.8v0.8h-0.8zM475.5 45.6h0.8v0.8h-0.8zM481.2 44.2h0.8v0.8h-0.8zM483.8 59.3h0.8v0.8h-0.8zM489.5 66.9h0.8v0.8h-0.8zM478.4 48.7h0.8v0.8h-0.8zM478.2 54.0h0.8v0.8h-0.8zM448.9 47.6h0.8v0.8h-0.8zM478.7 48.0h0.8v0.8h-0.8zM455.1 40.6h0.8v0.8h-0.8zM470.8 45.9h0.8v0.8h-0.8zM469.8 46.6h0.8v0.8h-0.8zM453.2 44.0h0.8v0.8h-0.8zM481.8 47.8h0.8v0.8h-0.8zM480.4 53.7h0.8v0.8h-0.8zM466.2 47.5h0.8v0.8h-0.8zM458.5 43.8h0.8v0.8h-0.8zM491.4 55.0h0.8v0.8h-0.8zM484.3 59.7h0.8v0.8h-0.8zM484.5 61.8h0.8v0.8h-0.8zM477.0 83.6h0.8v0.8h-0.8zM480.3 46.6h0.8v0.8h-0.8zM445.3 40.9h0.8v0.8h-0.8zM489.2 62.4h0.8v0.8h-0.8zM479.1 46.9h0.8v0.8h-0.8zM491.6 54.2h0.8v0.8h-0.8zM458.5 38.8h0.8v0.8h-0.8zM488.2 59.7h0.8v0.8h-0.8zM479.7 51.5h0.8v0.8h-0.8zM464.3 42.5h0.8v0.8h-0.8zM482.1 67.6h0.8v0.8h-0.8zM459.2 44.8h0.8v0.8h-0.8zM483.7 59.6h0.8v0.8h-0.8zM483.8 61.4h0.8v0.8h-0.8zM485.8 53.0h0.8v0.8h-0.8zM476.3 39.9h0.8v0.8h-0.8zM480.8 47.6h0.8v0.8h-0.8zM462.8 43.9h0.8v0.8h-0.8zM482.7 53.3h0.8v0.8h-0.8zM487.4 51.7h0.8v0.8h-0.8zM476.7 77.8h0.8v0.8h-0.8zM484.3 52.7h0.8v0.8h-0.8zM475.0 47.7h0.8v0.8h-0.8zM447.7 43.9h0.8v0.8h-0.8zM482.4 56.2h0.8v0.8h-0.8zM473.7 48.8h0.8v0.8h-0.8zM482.3 50.2h0.8v0.8h-0.8zM486.2 68.5h0.8v0.8h-0.8zM476.2 88.9h0.8v0.8h-0.8zM445.7 48.8h0.8v0.8h-0.8zM488.0 57.3h0.8v0.8h-0.8zM465.0 45.3h0.8v0.8h-0.8zM487.3 53.2h0.8v0.8h-0.8zM458.6 44.6h0.8v0.8h-0.8zM478.3 52.0h0.8v0.8h-0.8zM490.7 59.5h0.8v0.8h-0.8zM470.2 43.3h0.8v0.8h-0.8zM451.1 47.4h0.8v0.8h-0.8zM456.3 46.1h0.8v0.8h-0.8zM479.8 56.7h0.8v0.8h-0.8zM470.4 43.1h0.8v0.8h-0.8zM484.5 52.9h0.8v0.8h-0.8zM478.2 55.6h0.8v0.8h-0.8zM446.7 35.4h0.8v0.8h-0.8zM456.6 49.1h0.8v0.8h-0.8zM449.4 42.8h0.8v0.8h-0.8zM475.3 50.6h0.8v0.8h-0.8zM482.0 53.6h0.8v0.8h-0.8zM484.1 54.8h0.8v0.8h-0.8zM460.2 43.5h0.8v0.8h-0.8zM454.3 44.9h0.8v0.8h-0.8zM489.3 63.5h0.8v0.8h-0.8zM480.0 49.6h0.8v0.8h-0.8zM463.8 42.2h0.8v0.8h-0.8zM480.1 47.6h0.8v0.8h-0.8zM476.0 45.1h0.8v0.8h-0.8zM475.0 45.5h0.8v0.8h-0.8zM475.1 52.1h0.8v0.8h-0.8zM477.1 48.5h0.8v0.8h-0.8zM470.4 70.2h0.8v0.8h-0.8zM477.1 50.8h0.8v0.8h-0.8zM473.8 66.6h0.8v0.8h-0.8zM486.5 65.1h0.8v0.8h-0.8zM490.5 63.5h0.8v0.8h-0.8zM451.9 43.4h0.8v0.8h-0.8zM468.6 43.1h0.8v0.8h-0.8zM475.3 49.9h0.8v0.8h-0.8zM474.3 44.9h0.8v0.8h-0.8zM480.1 56.6h0.8v0.8h-0.8zM461.5 42.0h0.8v0.8h-0.8zM492.1 53.3h0.8v0.8h-0.8zM454.8 44.8h0.8v0.8h-0.8zM484.2 59.9h0.8v0.8h-0.8zM460.5 43.4h0.8v0.8h-0.8zM462.3 43.5h0.8v0.8h-0.8zM477.9 80.0h0.8v0.8h-0.8zM485.3 54.4h0.8v0.8h-0.8zM491.5 50.3h0.8v0.8h-0.8zM476.7 48.6h0.8v0.8h-0.8zM485.6 61.0h0.8v0.8h-0.8zM481.5 55.5h0.8v0.8h-0.8zM476.4 47.0h0.8v0.8h-0.8zM461.3 45.8h0.8v0.8h-0.8zM485.8 66.1h0.8v0.8h-0.8zM458.4 47.9h0.8v0.8h-0.8zM478.8 53.2h0.8v0.8h-0.8zM483.4 47.8h0.8v0.8h-0.8zM481.9 54.6h0.8v0.8h-0.8zM474.1 46.9h0.8v0.8h-0.8zM467.5 46.3h0.8v0.8h-0.8zM486.6 51.4h0.8v0.8h-0.8zM473.7 48.1h0.8v0.8h-0.8zM489.8 63.2h0.8v0.8h-0.8zM463.5 43.2h0.8v0.8h-0.8zM472.9 80.0h0.8v0.8h-0.8zM468.5 41.7h0.8v0.8h-0.8zM450.6 44.9h0.8v0.8h-0.8zM494.5 63.3h0.8v0.8h-0.8zM473.6 41.0h0.8v0.8h-0.8zM484.8 59.2h0.8v0.8h-0.8zM458.6 46.3h0.8v0.8h-0.8zM486.3 57.1h0.8v0.8h-0.8zM475.1 47.8h0.8v0.8h-0.8zM484.4 61.8h0.8v0.8h-0.8zM461.8 38.3h0.8v0.8h-0.8zM483.7 60.1h0.8v0.8h-0.8zM461.0 37.5h0.8v0.8h-0.8zM468.0 42.8h0.8v0.8h-0.8zM466.1 50.8h0.8v0.8h-0.8zM463.7 40.5h0.8v0.8h-0.8zM477.7 71.4h0.8v0.8h-0.8zM470.6 70.8h0.8v0.8h-0.8zM490.4 58.5h0.8v0.8h-0.8zM462.5 43.0h0.8v0.8h-0.8zM488.2 61.5h0.8v0.8h-0.8zM488.3 63.5h0.8v0.8h-0.8zM488.0 59.6h0.8v0.8h-0.8zM471.3 79.1h0.8v0.8h-0.8zM485.6 62.8h0.8v0.8h-0.8zM480.7 47.5h0.8v0.8h-0.8zM467.9 43.7h0.8v0.8h-0.8zM483.1 61.0h0.8v0.8h-0.8zM460.1 43.1h0.8v0.8h-0.8zM473.7 44.9h0.8v0.8h-0.8zM484.8 55.7h0.8v0.8h-0.8zM463.4 48.0h0.8v0.8h-0.8zM487.7 66.1h0.8v0.8h-0.8zM485.0 69.4h0.8v0.8h-0.8zM457.5 41.8h0.8v0.8h-0.8zM485.5 47.9h0.8v0.8h-0.8zM467.5 39.6h0.8v0.8h-0.8zM485.3 51.9h0.8v0.8h-0.8zM459.1 48.5h0.8v0.8h-0.8zM446.8 49.4h0.8v0.8h-0.8z" fill="#5f9cc8" fill-opacity="0.75"/>
<path d="M441.4 92.7h0.7v0.7h-0.7zM472.6 91.7h0.7v0.7h-0.7zM453.0 83.7h0.7v0.7h-0.7zM469.2 84.9h0.7v0.7h-0.7zM456.6 77.9h0.7v0.7h-0.7zM457.1 64.1h0.7v0.7h-0.7zM449.7 92.9h0.7v0.7h-0.7zM444.1 89.8h0.7v0.7h-0.7zM451.1 95.6h0.7v0.7h-0.7zM440.8 74.7h0.7v0.7h-0.7zM444.9 88.3h0.7v0.7h-0.7zM452.2 93.4h0.7v0.7h-0.7zM461.0 92.6h0.7v0.7h-0.7zM471.2 73.0h0.7v0.7h-0.7zM459.5 77.7h0.7v0.7h-0.7zM468.7 71.9h0.7v0.7h-0.7zM448.4 85.2h0.7v0.7h-0.7zM440.1 85.7h0.7v0.7h-0.7zM452.8 81.7h0.7v0.7h-0.7zM459.0 95.1h0.7v0.7h-0.7zM472.6 68.5h0.7v0.7h-0.7zM465.3 76.0h0.7v0.7h-0.7zM475.2 65.7h0.7v0.7h-0.7zM468.9 90.1h0.7v0.7h-0.7zM454.0 62.4h0.7v0.7h-0.7zM446.3 89.6h0.7v0.7h-0.7zM445.5 95.6h0.7v0.7h-0.7zM470.7 71.9h0.7v0.7h-0.7zM444.8 60.7h0.7v0.7h-0.7zM456.9 90.3h0.7v0.7h-0.7zM443.6 76.3h0.7v0.7h-0.7zM462.2 91.2h0.7v0.7h-0.7zM457.1 72.8h0.7v0.7h-0.7zM454.1 62.9h0.7v0.7h-0.7zM453.2 68.5h0.7v0.7h-0.7zM445.3 82.7h0.7v0.7h-0.7zM451.2 84.6h0.7v0.7h-0.7zM463.4 95.6h0.7v0.7h-0.7zM467.5 94.9h0.7v0.7h-0.7zM455.0 76.2h0.7v0.7h-0.7zM444.3 92.6h0.7v0.7h-0.7zM455.9 63.2h0.7v0.7h-0.7zM470.2 79.0h0.7v0.7h-0.7zM469.8 62.2h0.7v0.7h-0.7zM448.1 72.5h0.7v0.7h-0.7zM448.5 87.2h0.7v0.7h-0.7zM470.4 67.9h0.7v0.7h-0.7zM444.0 75.5h0.7v0.7h-0.7zM441.8 75.7h0.7v0.7h-0.7zM442.7 94.9h0.7v0.7h-0.7zM452.8 87.9h0.7v0.7h-0.7zM470.8 82.1h0.7v0.7h-0.7zM471.0 95.3h0.7v0.7h-0.7zM446.9 62.0h0.7v0.7h-0.7zM470.3 70.1h0.7v0.7h-0.7zM459.1 77.7h0.7v0.7h-0.7zM464.8 90.4h0.7v0.7h-0.7zM468.9 69.3h0.7v0.7h-0.7zM449.2 68.6h0.7v0.7h-0.7zM469.6 95.4h0.7v0.7h-0.7zM454.3 61.5h0.7v0.7h-0.7zM458.5 89.4h0.7v0.7h-0.7zM448.3 80.3h0.7v0.7h-0.7zM474.3 81.8h0.7v0.7h-0.7zM454.0 64.9h0.7v0.7h-0.7zM447.2 61.2h0.7v0.7h-0.7zM452.8 94.5h0.7v0.7h-0.7zM465.9 72.0h0.7v0.7h-0.7zM471.5 77.5h0.7v0.7h-0.7zM461.5 67.2h0.7v0.7h-0.7zM461.0 61.6h0.7v0.7h-0.7zM441.9 83.3h0.7v0.7h-0.7zM461.1 81.2h0.7v0.7h-0.7zM457.5 80.4h0.7v0.7h-0.7zM460.0 90.4h0.7v0.7h-0.7zM461.3 81.4h0.7v0.7h-0.7zM452.2 65.8h0.7v0.7h-0.7zM459.7 82.5h0.7v0.7h-0.7zM461.6 69.4h0.7v0.7h-0.7zM459.7 66.9h0.7v0.7h-0.7z" fill="#9a9a9a" fill-opacity="0.6"/>
<path d="M450.0,44.5 L450.7,44.5 L451.6,44.4 L452.7,44.3 L453.9,44.2 L455.2,44.1 L456.6,44.0 L458.0,44.0 L459.4,43.9 L460.7,44.0 L462.0,44.0 L463.2,44.1 L464.5,44.2 L465.7,44.3 L467.0,44.5 L468.2,44.7 L469.5,44.9 L470.7,45.1 L471.9,45.4 L473.0,45.7 L474.0,46.0 L475.0,46.4 L475.9,46.8 L476.8,47.2 L477.7,47.7 L478.5,48.2 L479.2,48.7 L480.0,49.3 L480.7,49.8 L481.4,50.4 L482.0,51.0 L482.6,51.6 L483.2,52.3 L483.7,52.9 L484.2,53.6 L484.7,54.3 L485.1,55.0 L485.5,55.8 L485.8,56.5 L486.2,57.3 L486.5,58.0 L486.8,58.8 L487.0,59.7 L487.2,60.6 L487.4,61.5 L487.5,62.4 L487.7,63.3 L487.8,64.2 L487.8,64.9 L487.9,65.5 L488.0,66.0" fill="none" stroke="#8a78d0" stroke-opacity="0.75" stroke-width="7.5" stroke-linecap="round" stroke-linejoin="round" filter="url(#b1)"/>
<path d="M450.0,44.5 L450.7,44.5 L451.6,44.4 L452.7,44.3 L453.9,44.2 L455.2,44.1 L456.6,44.0 L458.0,44.0 L459.4,43.9 L460.7,44.0 L462.0,44.0 L463.2,44.1 L464.5,44.2 L465.7,44.3 L467.0,44.5 L468.2,44.7 L469.5,44.9 L470.7,45.1 L471.9,45.4 L473.0,45.7 L474.0,46.0 L475.0,46.4 L475.9,46.8 L476.8,47.2 L477.7,47.7 L478.5,48.2 L479.2,48.7 L480.0,49.3 L480.7,49.8 L481.4,50.4 L482.0,51.0 L482.6,51.6 L483.2,52.3 L483.7,52.9 L484.2,53.6 L484.7,54.3 L485.1,55.0 L485.5,55.8 L485.8,56.5 L486.2,57.3 L486.5,58.0 L486.8,58.8 L487.0,59.7 L487.2,60.6 L487.4,61.5 L487.5,62.4 L487.7,63.3 L487.8,64.2 L487.8,64.9 L487.9,65.5 L488.0,66.0" fill="none" stroke="#6a7fcc" stroke-width="4.0" stroke-linecap="round" stroke-linejoin="round" filter="url(#b05)"/>
<ellipse cx="488.3" cy="82.5" rx="7.2" ry="16.4" fill="#8a74d0" fill-opacity="0.8" filter="url(#b15)"/>
<ellipse cx="488.3" cy="82.5" rx="5.7" ry="14.4" fill="#3cba4e" fill-opacity="1" filter="url(#b05)"/>
<ellipse cx="488.3" cy="82.5" rx="4.2" ry="12.4" fill="#ff0a0a" filter="url(#b03)"/>
</g>
<polyline points="421.6,27.1 479.8,26.4 475.2,56.7 421.6,56.1" fill="none" stroke="#444" stroke-width="0.9"/>
<polyline points="479.8,26.4 495.7,28.6 501.4,61.4 477.3,69.8 475.2,56.7" fill="none" stroke="#444" stroke-width="0.9"/>
<polyline points="477.3,69.8 477.3,99.4" fill="none" stroke="#444" stroke-width="0.9"/>
<polyline points="501.4,61.4 501.4,99.4" fill="none" stroke="#444" stroke-width="0.9"/>
<rect x="421" y="3.2" width="92.70000000000005" height="96.2" fill="none" stroke="#777" stroke-width="0.8"/>
<line x1="419.5" y1="3.2" x2="421" y2="3.2" stroke="#777" stroke-width="0.6"/>
<text x="418.8" y="4.4" font-size="4.0" text-anchor="end" fill="#444">10<tspan font-size="2.6" dy="-1.2">4</tspan></text>
<line x1="419.5" y1="27" x2="421" y2="27" stroke="#777" stroke-width="0.6"/>
<text x="418.8" y="28.2" font-size="4.0" text-anchor="end" fill="#444">10<tspan font-size="2.6" dy="-1.2">3</tspan></text>
<line x1="419.5" y1="48" x2="421" y2="48" stroke="#777" stroke-width="0.6"/>
<text x="418.8" y="49.2" font-size="4.0" text-anchor="end" fill="#444">10<tspan font-size="2.6" dy="-1.2">2</tspan></text>
<line x1="419.5" y1="73" x2="421" y2="73" stroke="#777" stroke-width="0.6"/>
<text x="418.8" y="74.2" font-size="4.0" text-anchor="end" fill="#444">1</text>
<line x1="419.5" y1="82" x2="421" y2="82" stroke="#777" stroke-width="0.6"/>
<text x="418.8" y="83.2" font-size="4.0" text-anchor="end" fill="#444">0</text>
<line x1="419.5" y1="91" x2="421" y2="91" stroke="#777" stroke-width="0.6"/>
<text x="418.8" y="92.2" font-size="4.0" text-anchor="end" fill="#444">-1</text>
<line x1="434.4" y1="99.4" x2="434.4" y2="100.9" stroke="#777" stroke-width="0.6"/>
<text x="434.4" y="105.0" font-size="4.0" text-anchor="middle" fill="#444">0</text>
<line x1="448" y1="99.4" x2="448" y2="100.9" stroke="#777" stroke-width="0.6"/>
<text x="448" y="105.0" font-size="4.0" text-anchor="middle" fill="#444">10<tspan font-size="2.6" dy="-1.2">2</tspan></text>
<line x1="471.5" y1="99.4" x2="471.5" y2="100.9" stroke="#777" stroke-width="0.6"/>
<text x="471.5" y="105.0" font-size="4.0" text-anchor="middle" fill="#444">10<tspan font-size="2.6" dy="-1.2">3</tspan></text>
<line x1="494" y1="99.4" x2="494" y2="100.9" stroke="#777" stroke-width="0.6"/>
<text x="494" y="105.0" font-size="4.0" text-anchor="middle" fill="#444">10<tspan font-size="2.6" dy="-1.2">4</tspan></text>
<line x1="513.7" y1="99.4" x2="513.7" y2="100.9" stroke="#777" stroke-width="0.6"/>
<text x="513.7" y="105.0" font-size="4.0" text-anchor="middle" fill="#444">10<tspan font-size="2.6" dy="-1.2">5</tspan></text>
<text x="420.6" y="17.0" font-size="11.5" font-weight="bold" fill="#111" textLength="13.8" lengthAdjust="spacingAndGlyphs" style="font-family:&quot;Liberation Serif&quot;,serif">8.0</text>
<text x="493.7" y="17.0" font-size="11.5" font-weight="bold" fill="#111" textLength="13.8" lengthAdjust="spacingAndGlyphs" style="font-family:&quot;Liberation Serif&quot;,serif">9.0</text>
<text x="424.7" y="91.5" font-size="11" font-weight="bold" fill="#111" textLength="22.6" lengthAdjust="spacingAndGlyphs">AgeCo</text>
<text x="504.5" y="91.5" font-size="11.5" font-weight="bold" fill="#111" textLength="11.2" lengthAdjust="spacingAndGlyphs" style="font-family:&quot;Liberation Serif&quot;,serif">83</text>
<rect x="513" y="4.6" width="2.5" height="17.9" fill="#fff"/>
<clipPath id="cl3"><rect x="311.6" y="107.8" width="92.69999999999999" height="99.7"/></clipPath>
<g clip-path="url(#cl3)">
<rect x="358" y="148" width="18" height="18" fill="#c9b3e0" fill-opacity="0.5" filter="url(#b2)"/>
<path d="M375.3 149.7h0.8v0.8h-0.8zM364.2 150.5h0.8v0.8h-0.8zM359.1 157.1h0.8v0.8h-0.8zM371.9 158.0h0.8v0.8h-0.8zM367.8 157.3h0.8v0.8h-0.8zM362.8 155.1h0.8v0.8h-0.8zM374.1 154.6h0.8v0.8h-0.8zM370.3 161.7h0.8v0.8h-0.8zM366.0 158.4h0.8v0.8h-0.8zM363.2 165.3h0.8v0.8h-0.8zM366.8 162.9h0.8v0.8h-0.8zM366.9 154.2h0.8v0.8h-0.8zM359.8 157.7h0.8v0.8h-0.8zM375.4 156.1h0.8v0.8h-0.8zM364.4 148.6h0.8v0.8h-0.8zM374.6 163.2h0.8v0.8h-0.8zM369.3 151.3h0.8v0.8h-0.8zM368.4 162.7h0.8v0.8h-0.8zM358.3 163.1h0.8v0.8h-0.8zM369.8 155.6h0.8v0.8h-0.8zM358.4 164.1h0.8v0.8h-0.8zM362.8 154.5h0.8v0.8h-0.8zM364.4 148.7h0.8v0.8h-0.8zM366.3 162.5h0.8v0.8h-0.8zM368.2 155.7h0.8v0.8h-0.8zM358.8 149.5h0.8v0.8h-0.8zM363.2 151.9h0.8v0.8h-0.8zM374.3 163.5h0.8v0.8h-0.8zM368.0 156.7h0.8v0.8h-0.8zM360.9 163.3h0.8v0.8h-0.8zM368.9 154.9h0.8v0.8h-0.8zM361.6 161.4h0.8v0.8h-0.8zM371.1 161.8h0.8v0.8h-0.8zM367.1 156.9h0.8v0.8h-0.8zM362.4 159.5h0.8v0.8h-0.8zM359.0 153.3h0.8v0.8h-0.8zM370.8 154.4h0.8v0.8h-0.8zM372.5 152.7h0.8v0.8h-0.8zM358.8 156.4h0.8v0.8h-0.8zM374.2 165.2h0.8v0.8h-0.8zM361.5 148.8h0.8v0.8h-0.8zM368.3 148.7h0.8v0.8h-0.8zM368.0 154.7h0.8v0.8h-0.8zM364.7 157.9h0.8v0.8h-0.8zM364.7 163.1h0.8v0.8h-0.8zM367.9 153.9h0.8v0.8h-0.8zM372.7 163.9h0.8v0.8h-0.8zM366.9 151.4h0.8v0.8h-0.8zM363.0 162.4h0.8v0.8h-0.8z" fill="#a06cc8" fill-opacity="0.75"/>
<path d="M375.6 159.4h0.8v0.8h-0.8zM368.8 165.1h0.8v0.8h-0.8zM372.4 155.6h0.8v0.8h-0.8zM359.0 151.4h0.8v0.8h-0.8zM358.2 152.6h0.8v0.8h-0.8zM359.6 155.9h0.8v0.8h-0.8zM362.3 159.4h0.8v0.8h-0.8zM361.7 156.0h0.8v0.8h-0.8zM363.1 157.7h0.8v0.8h-0.8zM369.9 151.9h0.8v0.8h-0.8zM363.6 150.2h0.8v0.8h-0.8zM364.5 153.9h0.8v0.8h-0.8zM361.2 150.9h0.8v0.8h-0.8zM366.8 149.1h0.8v0.8h-0.8zM372.9 163.4h0.8v0.8h-0.8zM373.6 158.4h0.8v0.8h-0.8zM373.7 156.4h0.8v0.8h-0.8zM375.7 163.5h0.8v0.8h-0.8zM364.9 164.4h0.8v0.8h-0.8zM370.0 160.7h0.8v0.8h-0.8zM371.6 163.8h0.8v0.8h-0.8zM371.4 166.0h0.8v0.8h-0.8zM372.1 162.3h0.8v0.8h-0.8zM359.4 148.6h0.8v0.8h-0.8zM372.3 165.0h0.8v0.8h-0.8zM361.2 160.6h0.8v0.8h-0.8zM374.4 150.5h0.8v0.8h-0.8zM365.6 150.4h0.8v0.8h-0.8zM361.7 152.3h0.8v0.8h-0.8zM358.9 156.2h0.8v0.8h-0.8zM371.8 149.5h0.8v0.8h-0.8zM368.2 165.5h0.8v0.8h-0.8zM375.3 154.8h0.8v0.8h-0.8zM372.7 160.3h0.8v0.8h-0.8zM371.1 163.1h0.8v0.8h-0.8zM360.9 152.9h0.8v0.8h-0.8zM374.5 148.7h0.8v0.8h-0.8zM373.0 159.5h0.8v0.8h-0.8zM368.8 160.8h0.8v0.8h-0.8zM360.0 159.5h0.8v0.8h-0.8zM365.7 163.8h0.8v0.8h-0.8zM373.0 159.0h0.8v0.8h-0.8zM362.2 154.1h0.8v0.8h-0.8zM361.0 157.0h0.8v0.8h-0.8zM359.3 152.3h0.8v0.8h-0.8zM367.5 150.9h0.8v0.8h-0.8zM371.1 152.3h0.8v0.8h-0.8zM367.3 155.6h0.8v0.8h-0.8zM368.4 165.7h0.8v0.8h-0.8z" fill="#8a70cc" fill-opacity="0.75"/>
<path d="M364.8 148.2h0.8v0.8h-0.8zM365.9 164.2h0.8v0.8h-0.8zM371.2 150.5h0.8v0.8h-0.8zM365.1 155.7h0.8v0.8h-0.8zM373.0 149.8h0.8v0.8h-0.8zM375.6 162.7h0.8v0.8h-0.8zM375.7 162.5h0.8v0.8h-0.8zM363.3 154.4h0.8v0.8h-0.8zM365.8 151.7h0.8v0.8h-0.8zM362.4 165.7h0.8v0.8h-0.8zM365.0 162.8h0.8v0.8h-0.8zM364.1 162.4h0.8v0.8h-0.8zM372.7 165.3h0.8v0.8h-0.8zM374.8 165.1h0.8v0.8h-0.8zM358.3 156.7h0.8v0.8h-0.8zM365.0 148.8h0.8v0.8h-0.8zM373.8 162.4h0.8v0.8h-0.8zM371.2 148.1h0.8v0.8h-0.8zM360.9 156.6h0.8v0.8h-0.8zM361.1 164.7h0.8v0.8h-0.8zM364.4 151.5h0.8v0.8h-0.8zM368.9 164.4h0.8v0.8h-0.8zM362.1 154.6h0.8v0.8h-0.8zM359.8 154.1h0.8v0.8h-0.8zM373.1 158.6h0.8v0.8h-0.8zM366.8 160.2h0.8v0.8h-0.8zM373.5 156.4h0.8v0.8h-0.8zM364.1 162.5h0.8v0.8h-0.8zM363.6 150.6h0.8v0.8h-0.8zM372.8 163.4h0.8v0.8h-0.8zM371.1 152.9h0.8v0.8h-0.8zM360.7 164.1h0.8v0.8h-0.8zM359.9 149.9h0.8v0.8h-0.8zM370.2 149.9h0.8v0.8h-0.8zM373.5 165.8h0.8v0.8h-0.8zM364.6 156.7h0.8v0.8h-0.8zM373.1 154.5h0.8v0.8h-0.8zM361.6 150.2h0.8v0.8h-0.8zM373.1 158.7h0.8v0.8h-0.8zM363.5 154.6h0.8v0.8h-0.8zM360.4 158.5h0.8v0.8h-0.8zM363.4 153.3h0.8v0.8h-0.8zM363.3 162.5h0.8v0.8h-0.8zM368.0 159.3h0.8v0.8h-0.8zM358.7 160.3h0.8v0.8h-0.8zM370.6 157.2h0.8v0.8h-0.8zM360.9 154.1h0.8v0.8h-0.8zM358.9 158.3h0.8v0.8h-0.8z" fill="#bb8ed6" fill-opacity="0.75"/>
<path d="M363.8 153.4h0.8v0.8h-0.8zM363.3 163.3h0.8v0.8h-0.8zM362.8 152.1h0.8v0.8h-0.8zM362.1 156.3h0.8v0.8h-0.8zM374.8 152.9h0.8v0.8h-0.8zM367.9 150.8h0.8v0.8h-0.8zM360.9 150.1h0.8v0.8h-0.8zM364.1 154.0h0.8v0.8h-0.8zM363.6 164.0h0.8v0.8h-0.8zM374.7 162.7h0.8v0.8h-0.8zM360.9 165.3h0.8v0.8h-0.8zM363.5 152.9h0.8v0.8h-0.8zM363.7 151.9h0.8v0.8h-0.8zM359.0 165.8h0.8v0.8h-0.8zM359.6 157.4h0.8v0.8h-0.8zM374.5 160.9h0.8v0.8h-0.8zM372.5 155.4h0.8v0.8h-0.8zM359.0 160.1h0.8v0.8h-0.8zM370.6 149.9h0.8v0.8h-0.8zM373.8 161.0h0.8v0.8h-0.8zM362.2 148.5h0.8v0.8h-0.8zM361.4 163.1h0.8v0.8h-0.8zM371.2 163.3h0.8v0.8h-0.8zM360.7 163.6h0.8v0.8h-0.8zM365.6 158.3h0.8v0.8h-0.8zM362.7 153.0h0.8v0.8h-0.8zM361.1 159.3h0.8v0.8h-0.8zM371.2 158.0h0.8v0.8h-0.8zM359.9 149.5h0.8v0.8h-0.8zM360.6 166.0h0.8v0.8h-0.8zM368.5 149.7h0.8v0.8h-0.8zM373.0 157.4h0.8v0.8h-0.8zM361.4 159.2h0.8v0.8h-0.8zM372.2 164.8h0.8v0.8h-0.8zM361.1 161.5h0.8v0.8h-0.8zM372.5 165.4h0.8v0.8h-0.8zM366.0 164.6h0.8v0.8h-0.8zM364.3 155.1h0.8v0.8h-0.8zM372.8 154.2h0.8v0.8h-0.8zM374.8 153.4h0.8v0.8h-0.8zM370.3 151.7h0.8v0.8h-0.8zM370.6 156.0h0.8v0.8h-0.8zM367.9 158.8h0.8v0.8h-0.8zM368.6 157.8h0.8v0.8h-0.8zM370.4 155.9h0.8v0.8h-0.8zM365.9 159.5h0.8v0.8h-0.8zM368.1 150.3h0.8v0.8h-0.8zM373.2 161.7h0.8v0.8h-0.8z" fill="#7f80d2" fill-opacity="0.75"/>
<path d="M328.0 140.8h0.7v0.7h-0.7zM325.5 144.1h0.7v0.7h-0.7zM341.5 139.0h0.7v0.7h-0.7zM351.8 160.2h0.7v0.7h-0.7zM324.9 157.8h0.7v0.7h-0.7zM331.9 163.6h0.7v0.7h-0.7zM334.4 140.1h0.7v0.7h-0.7zM327.2 162.3h0.7v0.7h-0.7zM349.8 140.1h0.7v0.7h-0.7zM323.8 158.2h0.7v0.7h-0.7zM341.6 138.4h0.7v0.7h-0.7zM316.4 162.1h0.7v0.7h-0.7zM342.4 160.4h0.7v0.7h-0.7zM322.9 154.2h0.7v0.7h-0.7zM333.2 139.4h0.7v0.7h-0.7zM348.0 158.1h0.7v0.7h-0.7zM346.1 145.7h0.7v0.7h-0.7zM346.3 143.3h0.7v0.7h-0.7zM344.8 148.8h0.7v0.7h-0.7zM326.1 156.2h0.7v0.7h-0.7zM331.8 145.1h0.7v0.7h-0.7zM317.0 164.7h0.7v0.7h-0.7zM348.0 148.0h0.7v0.7h-0.7zM320.8 148.2h0.7v0.7h-0.7zM322.9 145.8h0.7v0.7h-0.7zM333.0 158.8h0.7v0.7h-0.7zM316.6 154.1h0.7v0.7h-0.7zM339.2 158.8h0.7v0.7h-0.7zM319.5 138.6h0.7v0.7h-0.7zM349.9 163.9h0.7v0.7h-0.7zM350.0 153.1h0.7v0.7h-0.7zM316.9 145.4h0.7v0.7h-0.7zM344.2 147.2h0.7v0.7h-0.7zM332.9 141.0h0.7v0.7h-0.7zM322.5 156.7h0.7v0.7h-0.7zM346.7 159.7h0.7v0.7h-0.7zM347.4 142.0h0.7v0.7h-0.7zM320.8 143.2h0.7v0.7h-0.7zM319.3 154.6h0.7v0.7h-0.7zM338.0 141.0h0.7v0.7h-0.7zM351.4 157.6h0.7v0.7h-0.7zM349.3 147.7h0.7v0.7h-0.7zM327.4 151.9h0.7v0.7h-0.7zM340.2 154.2h0.7v0.7h-0.7zM334.2 150.0h0.7v0.7h-0.7zM338.0 144.5h0.7v0.7h-0.7zM327.3 164.5h0.7v0.7h-0.7zM328.5 159.3h0.7v0.7h-0.7zM337.5 156.4h0.7v0.7h-0.7zM327.1 158.9h0.7v0.7h-0.7zM328.7 144.0h0.7v0.7h-0.7zM346.7 150.2h0.7v0.7h-0.7zM345.6 143.3h0.7v0.7h-0.7zM330.2 150.3h0.7v0.7h-0.7zM340.8 164.3h0.7v0.7h-0.7zM326.0 163.0h0.7v0.7h-0.7zM345.7 146.5h0.7v0.7h-0.7zM346.9 150.1h0.7v0.7h-0.7zM339.0 150.4h0.7v0.7h-0.7zM341.8 149.2h0.7v0.7h-0.7zM335.1 159.1h0.7v0.7h-0.7zM334.6 139.8h0.7v0.7h-0.7zM343.2 158.8h0.7v0.7h-0.7zM319.6 154.1h0.7v0.7h-0.7zM338.5 142.9h0.7v0.7h-0.7zM335.4 158.6h0.7v0.7h-0.7zM330.5 141.9h0.7v0.7h-0.7zM349.7 142.4h0.7v0.7h-0.7zM319.4 140.7h0.7v0.7h-0.7zM317.5 142.4h0.7v0.7h-0.7zM349.2 151.2h0.7v0.7h-0.7zM339.5 164.5h0.7v0.7h-0.7zM329.0 153.8h0.7v0.7h-0.7zM333.2 143.6h0.7v0.7h-0.7zM336.9 152.2h0.7v0.7h-0.7zM338.7 157.9h0.7v0.7h-0.7zM346.6 153.3h0.7v0.7h-0.7zM319.1 154.0h0.7v0.7h-0.7zM329.0 141.7h0.7v0.7h-0.7zM318.9 151.2h0.7v0.7h-0.7zM349.1 138.7h0.7v0.7h-0.7zM338.4 156.8h0.7v0.7h-0.7zM319.2 162.2h0.7v0.7h-0.7zM321.7 158.9h0.7v0.7h-0.7zM322.8 148.9h0.7v0.7h-0.7zM344.3 147.7h0.7v0.7h-0.7zM349.8 159.8h0.7v0.7h-0.7zM330.8 142.2h0.7v0.7h-0.7zM317.7 146.6h0.7v0.7h-0.7zM317.8 138.5h0.7v0.7h-0.7zM329.6 150.9h0.7v0.7h-0.7zM317.1 159.0h0.7v0.7h-0.7zM316.9 150.3h0.7v0.7h-0.7zM338.7 156.2h0.7v0.7h-0.7zM341.9 145.2h0.7v0.7h-0.7zM317.2 162.5h0.7v0.7h-0.7zM340.7 147.2h0.7v0.7h-0.7zM339.9 145.0h0.7v0.7h-0.7zM317.0 143.0h0.7v0.7h-0.7zM340.9 159.6h0.7v0.7h-0.7zM348.5 139.7h0.7v0.7h-0.7zM349.8 138.4h0.7v0.7h-0.7zM344.5 151.7h0.7v0.7h-0.7zM341.9 158.9h0.7v0.7h-0.7zM341.6 141.0h0.7v0.7h-0.7zM323.4 139.4h0.7v0.7h-0.7zM351.7 158.1h0.7v0.7h-0.7zM340.1 139.6h0.7v0.7h-0.7zM344.1 145.9h0.7v0.7h-0.7zM331.0 143.8h0.7v0.7h-0.7zM347.3 161.8h0.7v0.7h-0.7zM342.2 163.8h0.7v0.7h-0.7zM347.3 162.6h0.7v0.7h-0.7zM343.7 159.6h0.7v0.7h-0.7zM323.4 138.8h0.7v0.7h-0.7zM347.9 149.5h0.7v0.7h-0.7zM329.3 144.3h0.7v0.7h-0.7zM351.7 154.4h0.7v0.7h-0.7zM318.5 160.0h0.7v0.7h-0.7zM323.2 159.9h0.7v0.7h-0.7z" fill="#9a9a9a" fill-opacity="0.6"/>
<ellipse cx="367.6" cy="182.5" rx="13.1" ry="24.8" fill="#a58ad8" fill-opacity="0.55" filter="url(#b2)" transform="rotate(7 367.6 182.5)"/>
<ellipse cx="367.6" cy="182.5" rx="10.8" ry="21.8" fill="#5b62d4" fill-opacity="0.9" filter="url(#b15)" transform="rotate(7 367.6 182.5)"/>
<ellipse cx="367.6" cy="182.5" rx="8.8" ry="18.8" fill="#2fb0a8" fill-opacity="1" filter="url(#b1)" transform="rotate(7 367.6 182.5)"/>
<ellipse cx="367.6" cy="182.5" rx="7.3999999999999995" ry="16.8" fill="#3cc04c" fill-opacity="1" filter="url(#b05)" transform="rotate(7 367.6 182.5)"/>
<ellipse cx="367.6" cy="182.5" rx="4.6" ry="12.8" fill="#ff0a0a" filter="url(#b03)" transform="rotate(7 367.6 182.5)"/>
</g>
<polyline points="311.6,133.8 355.4,133.8 352.5,166.0 311.6,165.6" fill="none" stroke="#444" stroke-width="0.9"/>
<polyline points="355.4,133.8 371.9,134.9 378.3,159.2 354.0,169.8 352.5,166.0" fill="none" stroke="#444" stroke-width="0.9"/>
<polyline points="354.0,169.8 352.9,207.5" fill="none" stroke="#444" stroke-width="0.9"/>
<polyline points="378.3,159.2 378.7,207.5" fill="none" stroke="#444" stroke-width="0.9"/>
<rect x="311.6" y="107.8" width="92.69999999999999" height="99.7" fill="none" stroke="#777" stroke-width="0.8"/>
<line x1="310.1" y1="107.8" x2="311.6" y2="107.8" stroke="#777" stroke-width="0.6"/>
<text x="309.40000000000003" y="109.0" font-size="4.0" text-anchor="end" fill="#444">10<tspan font-size="2.6" dy="-1.2">4</tspan></text>
<line x1="310.1" y1="134" x2="311.6" y2="134" stroke="#777" stroke-width="0.6"/>
<text x="309.40000000000003" y="135.2" font-size="4.0" text-anchor="end" fill="#444">10<tspan font-size="2.6" dy="-1.2">3</tspan></text>
<line x1="310.1" y1="152" x2="311.6" y2="152" stroke="#777" stroke-width="0.6"/>
<text x="309.40000000000003" y="153.2" font-size="4.0" text-anchor="end" fill="#444">10<tspan font-size="2.6" dy="-1.2">2</tspan></text>
<line x1="310.1" y1="173" x2="311.6" y2="173" stroke="#777" stroke-width="0.6"/>
<text x="309.40000000000003" y="174.2" font-size="4.0" text-anchor="end" fill="#444">2</text>
<line x1="310.1" y1="190" x2="311.6" y2="190" stroke="#777" stroke-width="0.6"/>
<text x="309.40000000000003" y="191.2" font-size="4.0" text-anchor="end" fill="#444">0</text>
<line x1="310.1" y1="206" x2="311.6" y2="206" stroke="#777" stroke-width="0.6"/>
<text x="309.40000000000003" y="207.2" font-size="4.0" text-anchor="end" fill="#444">-2</text>
<line x1="323.3" y1="207.5" x2="323.3" y2="209.0" stroke="#777" stroke-width="0.6"/>
<text x="323.3" y="213.1" font-size="4.0" text-anchor="middle" fill="#444">0</text>
<line x1="339" y1="207.5" x2="339" y2="209.0" stroke="#777" stroke-width="0.6"/>
<text x="339" y="213.1" font-size="4.0" text-anchor="middle" fill="#444">10<tspan font-size="2.6" dy="-1.2">2</tspan></text>
<line x1="361.3" y1="207.5" x2="361.3" y2="209.0" stroke="#777" stroke-width="0.6"/>
<text x="361.3" y="213.1" font-size="4.0" text-anchor="middle" fill="#444">10<tspan font-size="2.6" dy="-1.2">3</tspan></text>
<line x1="381.4" y1="207.5" x2="381.4" y2="209.0" stroke="#777" stroke-width="0.6"/>
<text x="381.4" y="213.1" font-size="4.0" text-anchor="middle" fill="#444">10<tspan font-size="2.6" dy="-1.2">4</tspan></text>
<line x1="403.2" y1="207.5" x2="403.2" y2="209.0" stroke="#777" stroke-width="0.6"/>
<text x="403.2" y="213.1" font-size="4.0" text-anchor="middle" fill="#444">10<tspan font-size="2.6" dy="-1.2">5</tspan></text>
<text x="315.0" y="120.4" font-size="11" font-weight="bold" fill="#111" textLength="14.0" lengthAdjust="spacingAndGlyphs">0.9</text>
<text x="383.4" y="120.4" font-size="11" font-weight="bold" fill="#111" textLength="14.0" lengthAdjust="spacingAndGlyphs">1.4</text>
<text x="313.6" y="196.5" font-size="11" font-weight="bold" fill="#111" textLength="19.8" lengthAdjust="spacingAndGlyphs">CMML</text>
<text x="381.2" y="199.6" font-size="11" font-weight="bold" fill="#111" textLength="18.4" lengthAdjust="spacingAndGlyphs">97.7</text>
<clipPath id="cl4"><rect x="420.6" y="109.4" width="94.10000000000002" height="94.6"/></clipPath>
<g clip-path="url(#cl4)">
<path d="M437.0,150.5 L437.8,150.5 L438.7,150.5 L439.9,150.5 L441.2,150.4 L442.6,150.4 L444.0,150.4 L445.5,150.4 L447.1,150.4 L448.6,150.3 L450.0,150.3 L451.4,150.3 L452.9,150.2 L454.4,150.2 L456.0,150.1 L457.5,150.1 L459.0,150.0 L460.6,149.9 L462.1,149.9 L463.6,149.8 L465.0,149.8 L466.4,149.8 L467.8,149.7 L469.2,149.6 L470.6,149.6 L471.9,149.5 L473.3,149.4 L474.5,149.4 L475.8,149.4 L476.9,149.4 L478.0,149.5 L479.0,149.6 L480.0,149.7 L480.9,149.9 L481.7,150.0 L482.5,150.2 L483.3,150.4 L484.0,150.7 L484.7,150.9 L485.3,151.2 L486.0,151.5 L486.6,151.8 L487.2,152.1 L487.8,152.5 L488.3,152.9 L488.8,153.3 L489.3,153.7 L489.7,154.1 L490.2,154.6 L490.6,155.0 L491.0,155.5 L491.4,156.0 L491.8,156.5 L492.1,157.0 L492.5,157.6 L492.8,158.1 L493.1,158.7 L493.4,159.3 L493.6,159.8 L493.8,160.4 L494.0,161.0 L494.1,161.6 L494.2,162.3 L494.2,163.0 L494.2,163.7 L494.2,164.3 L494.1,165.0 L494.1,165.6 L494.0,166.2 L494.0,166.6 L494.0,167.0" fill="none" stroke="#9fd4dc" stroke-opacity="0.55" stroke-width="12.0" stroke-linecap="round" stroke-linejoin="round" filter="url(#b2)"/>
<path d="M446.2 150.5h0.8v0.8h-0.8zM456.5 155.5h0.8v0.8h-0.8zM487.8 150.5h0.8v0.8h-0.8zM463.4 150.6h0.8v0.8h-0.8zM463.3 152.1h0.8v0.8h-0.8zM446.6 151.9h0.8v0.8h-0.8zM492.7 165.5h0.8v0.8h-0.8zM493.3 151.3h0.8v0.8h-0.8zM490.1 155.5h0.8v0.8h-0.8zM448.6 148.7h0.8v0.8h-0.8zM490.3 151.5h0.8v0.8h-0.8zM467.3 146.7h0.8v0.8h-0.8zM473.8 146.0h0.8v0.8h-0.8zM492.9 160.4h0.8v0.8h-0.8zM435.8 152.9h0.8v0.8h-0.8zM437.6 150.7h0.8v0.8h-0.8zM474.0 153.7h0.8v0.8h-0.8zM491.7 161.9h0.8v0.8h-0.8zM442.8 154.6h0.8v0.8h-0.8zM458.5 149.0h0.8v0.8h-0.8zM435.1 145.4h0.8v0.8h-0.8zM457.0 149.8h0.8v0.8h-0.8zM465.2 149.9h0.8v0.8h-0.8zM482.8 152.2h0.8v0.8h-0.8zM464.9 143.3h0.8v0.8h-0.8zM494.1 162.2h0.8v0.8h-0.8zM475.7 148.5h0.8v0.8h-0.8zM450.1 154.1h0.8v0.8h-0.8zM493.6 154.9h0.8v0.8h-0.8zM492.4 164.2h0.8v0.8h-0.8zM475.1 149.8h0.8v0.8h-0.8zM492.0 161.2h0.8v0.8h-0.8zM491.9 165.4h0.8v0.8h-0.8zM481.9 162.5h0.8v0.8h-0.8zM484.9 150.9h0.8v0.8h-0.8zM494.4 151.2h0.8v0.8h-0.8zM498.2 163.5h0.8v0.8h-0.8zM487.2 147.7h0.8v0.8h-0.8zM469.5 145.6h0.8v0.8h-0.8zM483.2 152.3h0.8v0.8h-0.8zM489.8 168.1h0.8v0.8h-0.8zM485.4 153.2h0.8v0.8h-0.8zM498.3 164.1h0.8v0.8h-0.8zM453.3 148.3h0.8v0.8h-0.8zM436.0 152.5h0.8v0.8h-0.8zM477.1 155.5h0.8v0.8h-0.8zM483.1 148.4h0.8v0.8h-0.8zM446.7 144.0h0.8v0.8h-0.8zM491.7 165.5h0.8v0.8h-0.8zM478.6 145.1h0.8v0.8h-0.8zM477.3 150.7h0.8v0.8h-0.8zM490.8 158.1h0.8v0.8h-0.8zM477.7 150.7h0.8v0.8h-0.8zM489.3 148.7h0.8v0.8h-0.8zM458.5 152.6h0.8v0.8h-0.8zM473.6 152.6h0.8v0.8h-0.8zM493.3 165.8h0.8v0.8h-0.8zM451.4 142.7h0.8v0.8h-0.8zM473.2 146.7h0.8v0.8h-0.8zM447.3 153.6h0.8v0.8h-0.8zM465.2 153.1h0.8v0.8h-0.8zM490.2 151.3h0.8v0.8h-0.8zM487.6 154.1h0.8v0.8h-0.8zM481.6 151.5h0.8v0.8h-0.8zM442.8 154.9h0.8v0.8h-0.8zM455.7 153.7h0.8v0.8h-0.8zM487.4 150.9h0.8v0.8h-0.8zM463.0 153.1h0.8v0.8h-0.8zM463.8 147.3h0.8v0.8h-0.8zM453.6 148.9h0.8v0.8h-0.8zM451.2 150.5h0.8v0.8h-0.8zM459.6 151.7h0.8v0.8h-0.8zM475.3 149.8h0.8v0.8h-0.8zM485.8 151.3h0.8v0.8h-0.8zM442.9 146.8h0.8v0.8h-0.8zM437.8 151.9h0.8v0.8h-0.8zM492.0 155.0h0.8v0.8h-0.8zM485.9 150.8h0.8v0.8h-0.8zM483.7 148.7h0.8v0.8h-0.8zM484.1 152.3h0.8v0.8h-0.8zM460.0 150.5h0.8v0.8h-0.8zM475.2 153.3h0.8v0.8h-0.8zM434.8 151.3h0.8v0.8h-0.8zM494.0 163.9h0.8v0.8h-0.8zM492.3 166.2h0.8v0.8h-0.8zM455.6 152.7h0.8v0.8h-0.8zM497.4 165.8h0.8v0.8h-0.8zM496.3 171.1h0.8v0.8h-0.8zM491.1 158.4h0.8v0.8h-0.8zM447.6 152.6h0.8v0.8h-0.8zM439.9 149.1h0.8v0.8h-0.8zM489.4 160.8h0.8v0.8h-0.8zM440.5 148.6h0.8v0.8h-0.8zM443.8 149.4h0.8v0.8h-0.8zM452.7 149.3h0.8v0.8h-0.8zM478.7 148.8h0.8v0.8h-0.8zM456.7 151.6h0.8v0.8h-0.8zM492.0 156.9h0.8v0.8h-0.8zM478.8 150.4h0.8v0.8h-0.8zM484.9 150.0h0.8v0.8h-0.8zM476.4 148.4h0.8v0.8h-0.8zM486.2 147.9h0.8v0.8h-0.8zM488.4 154.0h0.8v0.8h-0.8zM489.1 153.9h0.8v0.8h-0.8zM460.8 149.9h0.8v0.8h-0.8zM493.0 157.6h0.8v0.8h-0.8zM493.8 166.9h0.8v0.8h-0.8zM489.4 151.4h0.8v0.8h-0.8zM495.8 158.2h0.8v0.8h-0.8zM489.5 158.3h0.8v0.8h-0.8zM482.4 146.2h0.8v0.8h-0.8zM439.8 147.2h0.8v0.8h-0.8zM495.5 157.4h0.8v0.8h-0.8zM442.4 150.9h0.8v0.8h-0.8zM486.1 157.3h0.8v0.8h-0.8zM487.3 147.8h0.8v0.8h-0.8zM496.0 163.0h0.8v0.8h-0.8zM475.7 149.7h0.8v0.8h-0.8zM491.4 165.8h0.8v0.8h-0.8zM491.7 158.6h0.8v0.8h-0.8zM481.5 141.6h0.8v0.8h-0.8zM489.9 156.3h0.8v0.8h-0.8zM493.2 166.5h0.8v0.8h-0.8zM490.0 164.9h0.8v0.8h-0.8zM439.1 149.3h0.8v0.8h-0.8zM451.7 151.3h0.8v0.8h-0.8zM495.6 164.9h0.8v0.8h-0.8zM440.4 151.5h0.8v0.8h-0.8zM474.9 152.9h0.8v0.8h-0.8zM448.5 147.9h0.8v0.8h-0.8zM463.6 146.7h0.8v0.8h-0.8zM491.3 162.0h0.8v0.8h-0.8zM457.0 149.4h0.8v0.8h-0.8zM434.2 150.2h0.8v0.8h-0.8zM481.2 151.6h0.8v0.8h-0.8zM478.2 147.0h0.8v0.8h-0.8zM491.4 155.7h0.8v0.8h-0.8zM455.7 152.7h0.8v0.8h-0.8zM463.4 150.5h0.8v0.8h-0.8zM454.0 148.8h0.8v0.8h-0.8zM486.6 151.3h0.8v0.8h-0.8zM472.5 147.9h0.8v0.8h-0.8zM437.0 153.9h0.8v0.8h-0.8zM487.1 149.7h0.8v0.8h-0.8zM489.9 155.4h0.8v0.8h-0.8zM470.7 152.3h0.8v0.8h-0.8zM473.1 154.9h0.8v0.8h-0.8zM496.6 164.9h0.8v0.8h-0.8zM495.6 162.0h0.8v0.8h-0.8zM465.9 151.8h0.8v0.8h-0.8zM437.9 150.0h0.8v0.8h-0.8zM494.7 161.5h0.8v0.8h-0.8zM453.5 148.7h0.8v0.8h-0.8zM452.9 151.3h0.8v0.8h-0.8zM447.1 147.9h0.8v0.8h-0.8zM497.4 161.8h0.8v0.8h-0.8zM499.6 159.0h0.8v0.8h-0.8zM486.3 153.0h0.8v0.8h-0.8zM496.8 166.5h0.8v0.8h-0.8zM492.0 153.0h0.8v0.8h-0.8zM458.1 151.6h0.8v0.8h-0.8zM446.9 149.2h0.8v0.8h-0.8zM495.9 168.5h0.8v0.8h-0.8zM495.7 159.4h0.8v0.8h-0.8zM445.9 147.9h0.8v0.8h-0.8zM494.8 155.3h0.8v0.8h-0.8zM454.2 154.8h0.8v0.8h-0.8zM461.4 148.6h0.8v0.8h-0.8zM440.7 148.4h0.8v0.8h-0.8zM471.7 151.1h0.8v0.8h-0.8zM496.2 168.0h0.8v0.8h-0.8zM496.4 167.3h0.8v0.8h-0.8zM442.9 152.4h0.8v0.8h-0.8zM497.8 155.8h0.8v0.8h-0.8zM493.6 153.0h0.8v0.8h-0.8zM452.8 149.8h0.8v0.8h-0.8zM458.3 157.8h0.8v0.8h-0.8zM445.6 150.3h0.8v0.8h-0.8zM487.3 153.2h0.8v0.8h-0.8zM490.2 161.0h0.8v0.8h-0.8zM454.2 152.9h0.8v0.8h-0.8zM492.9 163.0h0.8v0.8h-0.8zM471.0 152.7h0.8v0.8h-0.8zM468.7 148.4h0.8v0.8h-0.8zM492.2 167.2h0.8v0.8h-0.8zM450.9 145.5h0.8v0.8h-0.8zM451.7 155.1h0.8v0.8h-0.8zM487.4 159.2h0.8v0.8h-0.8zM497.6 158.6h0.8v0.8h-0.8zM494.9 162.5h0.8v0.8h-0.8zM489.4 157.2h0.8v0.8h-0.8zM489.5 168.0h0.8v0.8h-0.8zM482.0 152.5h0.8v0.8h-0.8zM490.0 163.1h0.8v0.8h-0.8zM459.2 149.3h0.8v0.8h-0.8zM440.7 148.7h0.8v0.8h-0.8zM495.6 163.6h0.8v0.8h-0.8zM490.1 150.9h0.8v0.8h-0.8zM470.9 155.4h0.8v0.8h-0.8zM449.6 143.7h0.8v0.8h-0.8zM473.6 147.7h0.8v0.8h-0.8zM491.6 161.2h0.8v0.8h-0.8zM480.5 148.8h0.8v0.8h-0.8zM484.8 151.8h0.8v0.8h-0.8zM491.5 165.5h0.8v0.8h-0.8zM441.9 148.3h0.8v0.8h-0.8zM486.4 154.9h0.8v0.8h-0.8zM490.2 151.6h0.8v0.8h-0.8zM490.9 151.3h0.8v0.8h-0.8zM466.9 147.3h0.8v0.8h-0.8zM492.0 156.9h0.8v0.8h-0.8zM452.7 149.6h0.8v0.8h-0.8zM460.1 145.5h0.8v0.8h-0.8zM493.0 155.7h0.8v0.8h-0.8zM499.0 168.3h0.8v0.8h-0.8zM487.0 155.8h0.8v0.8h-0.8zM491.6 166.7h0.8v0.8h-0.8zM495.5 151.2h0.8v0.8h-0.8zM489.7 154.9h0.8v0.8h-0.8zM432.0 150.1h0.8v0.8h-0.8zM441.2 152.9h0.8v0.8h-0.8zM492.2 161.4h0.8v0.8h-0.8zM460.0 154.0h0.8v0.8h-0.8zM479.1 153.5h0.8v0.8h-0.8zM466.7 150.9h0.8v0.8h-0.8zM485.9 152.4h0.8v0.8h-0.8zM458.2 144.9h0.8v0.8h-0.8zM439.3 146.7h0.8v0.8h-0.8zM462.4 153.6h0.8v0.8h-0.8zM476.2 152.1h0.8v0.8h-0.8zM489.5 156.7h0.8v0.8h-0.8zM476.9 152.7h0.8v0.8h-0.8zM482.4 154.0h0.8v0.8h-0.8zM491.1 165.9h0.8v0.8h-0.8zM480.2 152.1h0.8v0.8h-0.8zM463.0 155.2h0.8v0.8h-0.8zM492.9 165.4h0.8v0.8h-0.8zM471.2 154.0h0.8v0.8h-0.8zM476.6 150.7h0.8v0.8h-0.8zM469.6 149.7h0.8v0.8h-0.8zM437.7 153.9h0.8v0.8h-0.8zM495.0 159.2h0.8v0.8h-0.8zM495.6 162.4h0.8v0.8h-0.8zM482.1 148.9h0.8v0.8h-0.8zM491.0 165.2h0.8v0.8h-0.8zM448.7 151.2h0.8v0.8h-0.8zM464.5 153.9h0.8v0.8h-0.8zM488.8 154.7h0.8v0.8h-0.8zM481.3 149.8h0.8v0.8h-0.8zM489.4 159.5h0.8v0.8h-0.8zM494.7 158.9h0.8v0.8h-0.8zM498.7 164.0h0.8v0.8h-0.8zM441.6 143.9h0.8v0.8h-0.8zM471.3 145.7h0.8v0.8h-0.8zM440.3 152.0h0.8v0.8h-0.8zM473.7 153.4h0.8v0.8h-0.8zM480.9 143.5h0.8v0.8h-0.8zM489.2 161.7h0.8v0.8h-0.8zM486.3 150.9h0.8v0.8h-0.8zM496.7 163.6h0.8v0.8h-0.8zM451.9 147.5h0.8v0.8h-0.8zM479.1 147.2h0.8v0.8h-0.8zM436.7 144.5h0.8v0.8h-0.8zM456.5 148.5h0.8v0.8h-0.8zM480.7 148.4h0.8v0.8h-0.8zM437.0 149.5h0.8v0.8h-0.8zM438.3 151.3h0.8v0.8h-0.8zM490.0 160.1h0.8v0.8h-0.8zM486.8 156.5h0.8v0.8h-0.8zM489.9 158.5h0.8v0.8h-0.8zM439.5 150.5h0.8v0.8h-0.8zM498.2 159.6h0.8v0.8h-0.8zM484.4 149.9h0.8v0.8h-0.8zM491.2 148.3h0.8v0.8h-0.8zM475.0 148.5h0.8v0.8h-0.8zM495.5 159.7h0.8v0.8h-0.8zM490.3 160.6h0.8v0.8h-0.8zM493.9 164.4h0.8v0.8h-0.8zM466.1 147.9h0.8v0.8h-0.8zM465.4 148.2h0.8v0.8h-0.8zM494.5 158.1h0.8v0.8h-0.8zM492.6 162.7h0.8v0.8h-0.8zM451.4 150.1h0.8v0.8h-0.8zM493.3 163.1h0.8v0.8h-0.8zM493.8 166.2h0.8v0.8h-0.8zM489.8 155.0h0.8v0.8h-0.8zM498.0 152.9h0.8v0.8h-0.8zM464.9 148.2h0.8v0.8h-0.8zM440.3 147.7h0.8v0.8h-0.8zM472.9 151.4h0.8v0.8h-0.8zM495.0 154.0h0.8v0.8h-0.8zM492.9 152.8h0.8v0.8h-0.8zM490.8 150.7h0.8v0.8h-0.8zM461.9 150.0h0.8v0.8h-0.8zM442.3 150.9h0.8v0.8h-0.8zM442.5 153.2h0.8v0.8h-0.8zM475.2 148.0h0.8v0.8h-0.8zM460.5 150.0h0.8v0.8h-0.8zM494.8 151.7h0.8v0.8h-0.8zM492.5 159.3h0.8v0.8h-0.8zM492.6 166.0h0.8v0.8h-0.8zM491.7 155.4h0.8v0.8h-0.8zM471.9 146.0h0.8v0.8h-0.8zM495.5 159.5h0.8v0.8h-0.8zM464.8 153.9h0.8v0.8h-0.8zM476.4 153.8h0.8v0.8h-0.8zM471.9 145.0h0.8v0.8h-0.8zM463.0 154.6h0.8v0.8h-0.8zM490.4 162.8h0.8v0.8h-0.8zM490.1 160.8h0.8v0.8h-0.8zM486.5 156.7h0.8v0.8h-0.8zM479.5 150.6h0.8v0.8h-0.8zM456.6 148.3h0.8v0.8h-0.8zM481.8 150.1h0.8v0.8h-0.8zM436.0 151.6h0.8v0.8h-0.8zM490.0 156.2h0.8v0.8h-0.8zM484.7 153.9h0.8v0.8h-0.8zM496.3 160.9h0.8v0.8h-0.8zM492.4 162.4h0.8v0.8h-0.8zM483.1 154.4h0.8v0.8h-0.8zM483.7 154.4h0.8v0.8h-0.8zM490.2 160.0h0.8v0.8h-0.8zM484.8 152.6h0.8v0.8h-0.8zM495.3 161.5h0.8v0.8h-0.8zM490.2 157.3h0.8v0.8h-0.8zM490.2 156.5h0.8v0.8h-0.8zM456.5 146.8h0.8v0.8h-0.8zM495.6 164.7h0.8v0.8h-0.8zM480.8 153.7h0.8v0.8h-0.8zM446.5 150.9h0.8v0.8h-0.8zM482.8 148.4h0.8v0.8h-0.8zM483.7 151.6h0.8v0.8h-0.8zM487.3 156.5h0.8v0.8h-0.8zM491.9 157.3h0.8v0.8h-0.8zM478.8 153.7h0.8v0.8h-0.8zM437.4 145.1h0.8v0.8h-0.8zM494.2 164.6h0.8v0.8h-0.8zM447.5 151.3h0.8v0.8h-0.8zM476.6 152.4h0.8v0.8h-0.8zM489.9 150.9h0.8v0.8h-0.8zM446.1 153.1h0.8v0.8h-0.8zM484.8 153.1h0.8v0.8h-0.8zM485.6 146.5h0.8v0.8h-0.8zM495.4 159.6h0.8v0.8h-0.8zM446.9 152.7h0.8v0.8h-0.8zM461.3 152.2h0.8v0.8h-0.8zM479.3 144.4h0.8v0.8h-0.8zM450.2 143.7h0.8v0.8h-0.8zM490.0 156.8h0.8v0.8h-0.8zM481.9 152.6h0.8v0.8h-0.8zM480.6 149.0h0.8v0.8h-0.8zM441.2 149.3h0.8v0.8h-0.8zM495.8 163.9h0.8v0.8h-0.8zM481.4 152.8h0.8v0.8h-0.8zM437.7 145.0h0.8v0.8h-0.8zM439.4 147.3h0.8v0.8h-0.8zM471.8 148.4h0.8v0.8h-0.8zM491.7 163.9h0.8v0.8h-0.8zM461.6 150.8h0.8v0.8h-0.8zM490.8 153.6h0.8v0.8h-0.8z" fill="#5fb3c0" fill-opacity="0.75"/>
<path d="M460.0 150.5h0.8v0.8h-0.8zM469.8 152.3h0.8v0.8h-0.8zM483.7 153.5h0.8v0.8h-0.8zM461.3 154.6h0.8v0.8h-0.8zM491.9 152.0h0.8v0.8h-0.8zM493.6 165.3h0.8v0.8h-0.8zM496.0 160.2h0.8v0.8h-0.8zM492.2 171.7h0.8v0.8h-0.8zM475.9 145.8h0.8v0.8h-0.8zM475.7 149.3h0.8v0.8h-0.8zM445.5 152.7h0.8v0.8h-0.8zM480.9 151.1h0.8v0.8h-0.8zM493.6 158.8h0.8v0.8h-0.8zM496.2 172.2h0.8v0.8h-0.8zM458.7 151.0h0.8v0.8h-0.8zM494.5 156.8h0.8v0.8h-0.8zM492.5 165.2h0.8v0.8h-0.8zM463.0 150.8h0.8v0.8h-0.8zM443.0 148.3h0.8v0.8h-0.8zM457.1 155.3h0.8v0.8h-0.8zM479.6 153.5h0.8v0.8h-0.8zM490.9 165.6h0.8v0.8h-0.8zM479.6 154.7h0.8v0.8h-0.8zM480.7 152.6h0.8v0.8h-0.8zM472.0 150.1h0.8v0.8h-0.8zM448.1 145.0h0.8v0.8h-0.8zM490.1 153.4h0.8v0.8h-0.8zM471.2 149.8h0.8v0.8h-0.8zM492.1 157.9h0.8v0.8h-0.8zM447.1 152.1h0.8v0.8h-0.8zM434.8 148.7h0.8v0.8h-0.8zM476.8 150.1h0.8v0.8h-0.8zM494.5 160.6h0.8v0.8h-0.8zM448.9 149.9h0.8v0.8h-0.8zM493.1 156.1h0.8v0.8h-0.8zM481.9 142.8h0.8v0.8h-0.8zM477.0 153.8h0.8v0.8h-0.8zM453.4 146.1h0.8v0.8h-0.8zM485.5 158.6h0.8v0.8h-0.8zM489.7 154.8h0.8v0.8h-0.8zM471.0 151.5h0.8v0.8h-0.8zM489.3 162.7h0.8v0.8h-0.8zM493.4 155.3h0.8v0.8h-0.8zM495.7 164.3h0.8v0.8h-0.8zM495.8 169.0h0.8v0.8h-0.8zM457.4 149.0h0.8v0.8h-0.8zM493.1 168.7h0.8v0.8h-0.8zM454.9 147.6h0.8v0.8h-0.8zM495.4 159.6h0.8v0.8h-0.8zM481.1 153.3h0.8v0.8h-0.8zM492.0 157.7h0.8v0.8h-0.8zM438.9 152.0h0.8v0.8h-0.8zM493.7 156.5h0.8v0.8h-0.8zM459.0 148.9h0.8v0.8h-0.8zM480.4 155.7h0.8v0.8h-0.8zM486.8 148.5h0.8v0.8h-0.8zM493.4 160.5h0.8v0.8h-0.8zM466.6 153.9h0.8v0.8h-0.8zM442.3 155.4h0.8v0.8h-0.8zM457.6 152.1h0.8v0.8h-0.8zM440.3 149.5h0.8v0.8h-0.8zM462.0 143.3h0.8v0.8h-0.8zM491.4 156.8h0.8v0.8h-0.8zM439.6 147.5h0.8v0.8h-0.8zM487.2 156.6h0.8v0.8h-0.8zM460.0 153.5h0.8v0.8h-0.8zM488.5 154.6h0.8v0.8h-0.8zM477.8 142.1h0.8v0.8h-0.8zM493.2 158.4h0.8v0.8h-0.8zM480.2 151.7h0.8v0.8h-0.8zM494.0 159.6h0.8v0.8h-0.8zM473.6 153.6h0.8v0.8h-0.8zM460.0 154.3h0.8v0.8h-0.8zM472.0 151.5h0.8v0.8h-0.8zM491.8 154.5h0.8v0.8h-0.8zM448.1 148.4h0.8v0.8h-0.8zM474.3 148.3h0.8v0.8h-0.8zM491.7 166.3h0.8v0.8h-0.8zM489.1 151.1h0.8v0.8h-0.8zM463.8 149.8h0.8v0.8h-0.8zM451.1 152.8h0.8v0.8h-0.8zM442.3 149.9h0.8v0.8h-0.8zM472.1 144.8h0.8v0.8h-0.8zM449.4 155.0h0.8v0.8h-0.8zM490.2 153.6h0.8v0.8h-0.8zM471.9 149.9h0.8v0.8h-0.8zM492.1 159.2h0.8v0.8h-0.8zM465.8 148.5h0.8v0.8h-0.8zM466.5 151.7h0.8v0.8h-0.8zM494.7 161.6h0.8v0.8h-0.8zM496.3 165.3h0.8v0.8h-0.8zM435.0 148.8h0.8v0.8h-0.8zM488.0 155.6h0.8v0.8h-0.8zM494.4 165.9h0.8v0.8h-0.8zM486.2 150.3h0.8v0.8h-0.8zM498.0 156.0h0.8v0.8h-0.8zM467.8 156.7h0.8v0.8h-0.8zM491.1 164.1h0.8v0.8h-0.8zM476.6 143.0h0.8v0.8h-0.8zM491.0 158.9h0.8v0.8h-0.8zM462.0 151.0h0.8v0.8h-0.8zM489.6 157.1h0.8v0.8h-0.8zM482.2 144.2h0.8v0.8h-0.8zM489.9 150.7h0.8v0.8h-0.8zM492.7 159.4h0.8v0.8h-0.8zM486.5 152.5h0.8v0.8h-0.8zM463.2 150.8h0.8v0.8h-0.8zM489.9 154.4h0.8v0.8h-0.8zM441.1 154.4h0.8v0.8h-0.8zM478.7 154.3h0.8v0.8h-0.8zM492.4 153.9h0.8v0.8h-0.8zM459.8 150.3h0.8v0.8h-0.8zM485.4 150.3h0.8v0.8h-0.8zM490.2 154.0h0.8v0.8h-0.8zM466.1 148.4h0.8v0.8h-0.8zM447.6 149.3h0.8v0.8h-0.8zM468.7 151.2h0.8v0.8h-0.8zM488.9 153.1h0.8v0.8h-0.8zM492.7 156.1h0.8v0.8h-0.8zM467.5 149.1h0.8v0.8h-0.8zM495.8 160.3h0.8v0.8h-0.8zM485.2 148.9h0.8v0.8h-0.8zM490.7 154.5h0.8v0.8h-0.8zM456.4 145.2h0.8v0.8h-0.8zM486.3 157.2h0.8v0.8h-0.8zM464.5 154.4h0.8v0.8h-0.8zM461.1 153.6h0.8v0.8h-0.8zM487.5 152.7h0.8v0.8h-0.8zM440.5 148.0h0.8v0.8h-0.8zM468.6 149.4h0.8v0.8h-0.8zM473.5 155.4h0.8v0.8h-0.8zM486.8 148.6h0.8v0.8h-0.8zM485.1 153.3h0.8v0.8h-0.8zM448.9 150.7h0.8v0.8h-0.8zM483.5 155.9h0.8v0.8h-0.8zM489.8 158.7h0.8v0.8h-0.8zM488.7 157.0h0.8v0.8h-0.8zM494.2 169.8h0.8v0.8h-0.8zM488.5 153.6h0.8v0.8h-0.8zM440.4 155.5h0.8v0.8h-0.8zM494.0 167.4h0.8v0.8h-0.8zM464.7 145.2h0.8v0.8h-0.8zM446.5 150.2h0.8v0.8h-0.8zM477.8 154.8h0.8v0.8h-0.8zM493.3 163.4h0.8v0.8h-0.8zM460.0 154.4h0.8v0.8h-0.8zM492.3 151.8h0.8v0.8h-0.8zM475.1 148.4h0.8v0.8h-0.8zM495.5 166.6h0.8v0.8h-0.8zM484.6 154.7h0.8v0.8h-0.8zM462.4 146.9h0.8v0.8h-0.8zM494.3 167.0h0.8v0.8h-0.8zM459.2 154.1h0.8v0.8h-0.8zM489.3 153.4h0.8v0.8h-0.8zM471.4 152.4h0.8v0.8h-0.8zM457.3 148.6h0.8v0.8h-0.8zM435.3 147.5h0.8v0.8h-0.8zM492.9 156.4h0.8v0.8h-0.8zM436.8 149.6h0.8v0.8h-0.8zM451.1 153.1h0.8v0.8h-0.8zM467.4 147.6h0.8v0.8h-0.8zM457.2 148.0h0.8v0.8h-0.8zM463.2 153.6h0.8v0.8h-0.8zM494.9 160.9h0.8v0.8h-0.8zM480.2 151.1h0.8v0.8h-0.8zM495.7 162.2h0.8v0.8h-0.8zM488.0 163.6h0.8v0.8h-0.8zM438.8 151.2h0.8v0.8h-0.8zM455.0 154.7h0.8v0.8h-0.8zM493.5 157.5h0.8v0.8h-0.8zM449.3 150.2h0.8v0.8h-0.8zM459.8 146.4h0.8v0.8h-0.8zM488.8 154.4h0.8v0.8h-0.8zM465.7 148.6h0.8v0.8h-0.8zM490.9 166.7h0.8v0.8h-0.8zM495.2 162.7h0.8v0.8h-0.8zM493.0 160.4h0.8v0.8h-0.8zM442.6 147.4h0.8v0.8h-0.8zM457.2 146.9h0.8v0.8h-0.8zM497.7 164.2h0.8v0.8h-0.8zM449.0 144.3h0.8v0.8h-0.8zM458.1 149.1h0.8v0.8h-0.8zM480.4 151.7h0.8v0.8h-0.8zM487.2 147.2h0.8v0.8h-0.8zM492.5 156.8h0.8v0.8h-0.8zM483.1 149.6h0.8v0.8h-0.8zM437.4 146.2h0.8v0.8h-0.8zM486.9 143.5h0.8v0.8h-0.8zM434.3 152.8h0.8v0.8h-0.8zM441.5 154.5h0.8v0.8h-0.8zM439.2 152.2h0.8v0.8h-0.8zM487.4 153.6h0.8v0.8h-0.8zM456.6 153.1h0.8v0.8h-0.8zM491.8 155.4h0.8v0.8h-0.8zM470.9 148.3h0.8v0.8h-0.8zM451.2 148.3h0.8v0.8h-0.8zM482.0 145.3h0.8v0.8h-0.8zM472.7 148.9h0.8v0.8h-0.8zM480.9 145.7h0.8v0.8h-0.8zM471.7 155.6h0.8v0.8h-0.8zM489.4 145.7h0.8v0.8h-0.8zM486.3 151.7h0.8v0.8h-0.8zM492.0 161.6h0.8v0.8h-0.8zM441.5 152.4h0.8v0.8h-0.8zM450.1 146.6h0.8v0.8h-0.8zM494.7 161.9h0.8v0.8h-0.8zM489.6 149.6h0.8v0.8h-0.8zM492.8 158.3h0.8v0.8h-0.8zM472.6 154.0h0.8v0.8h-0.8zM483.5 150.8h0.8v0.8h-0.8zM481.9 148.0h0.8v0.8h-0.8zM493.8 154.9h0.8v0.8h-0.8zM492.3 162.4h0.8v0.8h-0.8zM447.7 147.0h0.8v0.8h-0.8zM494.2 163.2h0.8v0.8h-0.8zM488.2 157.8h0.8v0.8h-0.8zM453.5 154.8h0.8v0.8h-0.8zM458.1 151.1h0.8v0.8h-0.8zM439.7 148.8h0.8v0.8h-0.8zM494.9 162.9h0.8v0.8h-0.8zM480.1 148.3h0.8v0.8h-0.8zM481.7 146.2h0.8v0.8h-0.8zM491.9 164.0h0.8v0.8h-0.8zM464.2 153.9h0.8v0.8h-0.8zM479.4 151.0h0.8v0.8h-0.8zM452.7 147.9h0.8v0.8h-0.8zM437.5 150.9h0.8v0.8h-0.8zM477.0 148.8h0.8v0.8h-0.8zM492.9 160.8h0.8v0.8h-0.8zM435.2 150.0h0.8v0.8h-0.8zM466.5 150.8h0.8v0.8h-0.8zM491.2 164.2h0.8v0.8h-0.8zM453.5 148.3h0.8v0.8h-0.8zM474.6 149.7h0.8v0.8h-0.8zM489.2 159.8h0.8v0.8h-0.8zM462.0 146.9h0.8v0.8h-0.8zM482.5 156.1h0.8v0.8h-0.8zM494.6 157.8h0.8v0.8h-0.8zM434.7 153.8h0.8v0.8h-0.8zM490.5 153.5h0.8v0.8h-0.8zM493.7 174.2h0.8v0.8h-0.8zM491.6 156.6h0.8v0.8h-0.8zM492.4 153.7h0.8v0.8h-0.8zM448.9 151.3h0.8v0.8h-0.8zM487.9 156.7h0.8v0.8h-0.8zM456.1 151.9h0.8v0.8h-0.8zM484.1 147.0h0.8v0.8h-0.8zM452.9 149.6h0.8v0.8h-0.8zM443.0 146.9h0.8v0.8h-0.8zM495.8 168.1h0.8v0.8h-0.8zM493.2 166.3h0.8v0.8h-0.8zM481.5 153.6h0.8v0.8h-0.8zM485.1 148.7h0.8v0.8h-0.8zM487.4 159.9h0.8v0.8h-0.8zM478.2 148.9h0.8v0.8h-0.8zM482.7 151.5h0.8v0.8h-0.8zM495.3 159.2h0.8v0.8h-0.8zM491.2 158.9h0.8v0.8h-0.8zM488.5 149.7h0.8v0.8h-0.8zM475.1 152.4h0.8v0.8h-0.8zM462.5 155.7h0.8v0.8h-0.8zM482.9 156.1h0.8v0.8h-0.8zM480.8 149.8h0.8v0.8h-0.8zM454.7 145.6h0.8v0.8h-0.8zM485.5 148.3h0.8v0.8h-0.8zM454.0 153.9h0.8v0.8h-0.8zM487.2 159.7h0.8v0.8h-0.8zM482.8 147.7h0.8v0.8h-0.8zM446.0 150.4h0.8v0.8h-0.8zM475.8 144.9h0.8v0.8h-0.8zM473.6 153.6h0.8v0.8h-0.8zM492.7 158.8h0.8v0.8h-0.8zM488.6 149.4h0.8v0.8h-0.8zM493.3 161.7h0.8v0.8h-0.8zM462.0 150.5h0.8v0.8h-0.8zM465.1 152.1h0.8v0.8h-0.8zM495.6 165.6h0.8v0.8h-0.8zM459.3 147.7h0.8v0.8h-0.8zM463.6 149.7h0.8v0.8h-0.8zM493.5 160.5h0.8v0.8h-0.8zM484.4 151.4h0.8v0.8h-0.8zM434.3 150.6h0.8v0.8h-0.8zM468.0 145.9h0.8v0.8h-0.8zM479.4 148.9h0.8v0.8h-0.8zM440.7 152.8h0.8v0.8h-0.8zM455.8 148.7h0.8v0.8h-0.8zM443.7 149.1h0.8v0.8h-0.8zM463.3 154.1h0.8v0.8h-0.8zM456.7 146.7h0.8v0.8h-0.8zM492.2 154.2h0.8v0.8h-0.8zM494.0 159.1h0.8v0.8h-0.8zM479.6 145.0h0.8v0.8h-0.8zM495.7 162.1h0.8v0.8h-0.8zM493.9 163.2h0.8v0.8h-0.8zM469.2 146.4h0.8v0.8h-0.8zM493.6 146.5h0.8v0.8h-0.8zM490.2 157.7h0.8v0.8h-0.8zM477.5 148.6h0.8v0.8h-0.8zM489.8 158.3h0.8v0.8h-0.8zM482.9 150.9h0.8v0.8h-0.8zM477.6 150.2h0.8v0.8h-0.8zM468.8 149.9h0.8v0.8h-0.8zM490.6 158.5h0.8v0.8h-0.8zM495.0 163.4h0.8v0.8h-0.8zM444.9 150.3h0.8v0.8h-0.8zM480.6 148.9h0.8v0.8h-0.8zM477.8 150.6h0.8v0.8h-0.8zM468.5 137.6h0.8v0.8h-0.8zM462.1 149.9h0.8v0.8h-0.8zM460.3 143.7h0.8v0.8h-0.8zM497.2 160.3h0.8v0.8h-0.8zM486.8 146.8h0.8v0.8h-0.8zM488.7 169.6h0.8v0.8h-0.8zM438.5 148.8h0.8v0.8h-0.8zM477.6 150.6h0.8v0.8h-0.8zM465.1 152.9h0.8v0.8h-0.8zM497.0 156.8h0.8v0.8h-0.8zM493.1 167.5h0.8v0.8h-0.8zM485.3 152.5h0.8v0.8h-0.8zM493.7 162.1h0.8v0.8h-0.8zM470.0 149.3h0.8v0.8h-0.8zM495.6 160.3h0.8v0.8h-0.8zM486.3 157.9h0.8v0.8h-0.8zM491.0 154.8h0.8v0.8h-0.8zM461.6 149.7h0.8v0.8h-0.8zM484.0 151.4h0.8v0.8h-0.8zM487.5 151.4h0.8v0.8h-0.8zM444.8 147.4h0.8v0.8h-0.8zM482.9 147.9h0.8v0.8h-0.8zM471.1 150.6h0.8v0.8h-0.8zM497.2 165.1h0.8v0.8h-0.8zM490.5 155.9h0.8v0.8h-0.8zM490.9 168.6h0.8v0.8h-0.8zM437.8 151.1h0.8v0.8h-0.8zM443.7 148.2h0.8v0.8h-0.8zM472.4 148.3h0.8v0.8h-0.8zM492.1 155.7h0.8v0.8h-0.8zM485.2 152.9h0.8v0.8h-0.8zM461.2 153.1h0.8v0.8h-0.8zM490.5 148.2h0.8v0.8h-0.8zM475.1 148.5h0.8v0.8h-0.8zM494.3 162.9h0.8v0.8h-0.8zM489.2 151.5h0.8v0.8h-0.8zM441.3 155.3h0.8v0.8h-0.8zM479.0 147.3h0.8v0.8h-0.8zM447.5 152.7h0.8v0.8h-0.8zM475.1 155.9h0.8v0.8h-0.8zM489.8 155.5h0.8v0.8h-0.8zM494.6 159.4h0.8v0.8h-0.8zM491.0 163.3h0.8v0.8h-0.8zM455.7 155.0h0.8v0.8h-0.8zM485.5 150.6h0.8v0.8h-0.8zM484.6 147.7h0.8v0.8h-0.8zM466.8 149.2h0.8v0.8h-0.8zM454.1 146.5h0.8v0.8h-0.8zM435.9 152.3h0.8v0.8h-0.8zM471.9 149.9h0.8v0.8h-0.8zM491.8 153.4h0.8v0.8h-0.8zM495.4 164.6h0.8v0.8h-0.8zM488.0 159.7h0.8v0.8h-0.8z" fill="#3fa89a" fill-opacity="0.75"/>
<path d="M494.8 157.3h0.8v0.8h-0.8zM493.1 161.7h0.8v0.8h-0.8zM487.4 148.5h0.8v0.8h-0.8zM483.3 152.1h0.8v0.8h-0.8zM483.6 150.5h0.8v0.8h-0.8zM466.2 148.9h0.8v0.8h-0.8zM496.5 158.2h0.8v0.8h-0.8zM471.8 152.1h0.8v0.8h-0.8zM485.2 145.0h0.8v0.8h-0.8zM485.3 151.9h0.8v0.8h-0.8zM496.7 165.3h0.8v0.8h-0.8zM486.5 148.4h0.8v0.8h-0.8zM493.3 151.4h0.8v0.8h-0.8zM470.0 148.0h0.8v0.8h-0.8zM465.2 154.1h0.8v0.8h-0.8zM488.7 153.9h0.8v0.8h-0.8zM459.7 148.7h0.8v0.8h-0.8zM475.0 149.5h0.8v0.8h-0.8zM460.2 148.6h0.8v0.8h-0.8zM484.9 158.1h0.8v0.8h-0.8zM456.1 149.0h0.8v0.8h-0.8zM489.3 168.1h0.8v0.8h-0.8zM495.0 159.0h0.8v0.8h-0.8zM489.1 158.5h0.8v0.8h-0.8zM494.7 161.9h0.8v0.8h-0.8zM485.7 152.6h0.8v0.8h-0.8zM465.0 153.5h0.8v0.8h-0.8zM493.8 158.6h0.8v0.8h-0.8zM488.4 152.2h0.8v0.8h-0.8zM487.3 154.7h0.8v0.8h-0.8zM485.2 149.1h0.8v0.8h-0.8zM456.8 149.9h0.8v0.8h-0.8zM473.5 152.1h0.8v0.8h-0.8zM466.3 146.7h0.8v0.8h-0.8zM492.2 143.7h0.8v0.8h-0.8zM472.2 151.4h0.8v0.8h-0.8zM439.5 151.0h0.8v0.8h-0.8zM494.4 161.9h0.8v0.8h-0.8zM493.9 155.6h0.8v0.8h-0.8zM490.6 160.3h0.8v0.8h-0.8zM458.3 149.6h0.8v0.8h-0.8zM477.8 150.8h0.8v0.8h-0.8zM439.5 148.0h0.8v0.8h-0.8zM442.0 147.7h0.8v0.8h-0.8zM464.7 153.2h0.8v0.8h-0.8zM492.6 160.8h0.8v0.8h-0.8zM495.5 168.1h0.8v0.8h-0.8zM478.0 149.8h0.8v0.8h-0.8zM486.6 152.3h0.8v0.8h-0.8zM466.4 155.6h0.8v0.8h-0.8zM491.5 156.2h0.8v0.8h-0.8zM491.3 158.1h0.8v0.8h-0.8zM452.0 155.9h0.8v0.8h-0.8zM480.4 148.6h0.8v0.8h-0.8zM474.3 150.1h0.8v0.8h-0.8zM493.3 158.2h0.8v0.8h-0.8zM476.4 145.6h0.8v0.8h-0.8zM466.1 147.1h0.8v0.8h-0.8zM474.6 153.1h0.8v0.8h-0.8zM493.2 161.2h0.8v0.8h-0.8zM490.5 152.3h0.8v0.8h-0.8zM460.4 145.8h0.8v0.8h-0.8zM454.0 153.8h0.8v0.8h-0.8zM487.3 147.3h0.8v0.8h-0.8zM441.9 152.8h0.8v0.8h-0.8zM496.1 154.5h0.8v0.8h-0.8zM477.6 149.6h0.8v0.8h-0.8zM497.0 166.8h0.8v0.8h-0.8zM485.7 149.2h0.8v0.8h-0.8zM490.9 164.0h0.8v0.8h-0.8zM486.5 146.6h0.8v0.8h-0.8zM496.4 165.2h0.8v0.8h-0.8zM489.1 156.7h0.8v0.8h-0.8zM438.9 150.4h0.8v0.8h-0.8zM452.5 149.5h0.8v0.8h-0.8zM471.1 146.6h0.8v0.8h-0.8zM491.2 156.4h0.8v0.8h-0.8zM487.0 154.1h0.8v0.8h-0.8zM434.9 145.8h0.8v0.8h-0.8zM495.7 164.5h0.8v0.8h-0.8zM491.2 161.3h0.8v0.8h-0.8zM482.5 148.7h0.8v0.8h-0.8zM490.0 160.1h0.8v0.8h-0.8zM481.6 152.2h0.8v0.8h-0.8zM447.1 152.9h0.8v0.8h-0.8zM490.4 157.6h0.8v0.8h-0.8zM480.4 147.5h0.8v0.8h-0.8zM473.1 151.5h0.8v0.8h-0.8zM453.1 150.4h0.8v0.8h-0.8zM439.4 146.6h0.8v0.8h-0.8zM485.6 150.8h0.8v0.8h-0.8zM489.3 156.4h0.8v0.8h-0.8zM478.5 146.5h0.8v0.8h-0.8zM442.4 152.6h0.8v0.8h-0.8zM489.9 154.0h0.8v0.8h-0.8zM481.0 154.2h0.8v0.8h-0.8zM471.3 152.2h0.8v0.8h-0.8zM478.6 151.8h0.8v0.8h-0.8zM468.6 154.2h0.8v0.8h-0.8zM485.0 149.3h0.8v0.8h-0.8zM443.0 144.6h0.8v0.8h-0.8zM470.9 150.7h0.8v0.8h-0.8zM488.5 154.5h0.8v0.8h-0.8zM459.0 152.6h0.8v0.8h-0.8zM449.4 150.2h0.8v0.8h-0.8zM463.1 142.7h0.8v0.8h-0.8zM452.4 148.3h0.8v0.8h-0.8zM490.2 153.0h0.8v0.8h-0.8zM493.8 163.4h0.8v0.8h-0.8zM491.0 151.9h0.8v0.8h-0.8zM491.6 162.8h0.8v0.8h-0.8zM491.9 160.3h0.8v0.8h-0.8zM492.6 158.9h0.8v0.8h-0.8zM465.4 148.0h0.8v0.8h-0.8zM485.7 149.2h0.8v0.8h-0.8zM486.6 148.5h0.8v0.8h-0.8zM435.0 147.1h0.8v0.8h-0.8zM485.9 153.7h0.8v0.8h-0.8zM456.4 148.5h0.8v0.8h-0.8zM437.9 149.7h0.8v0.8h-0.8zM494.9 157.9h0.8v0.8h-0.8zM481.2 159.1h0.8v0.8h-0.8zM490.3 151.1h0.8v0.8h-0.8zM439.6 148.7h0.8v0.8h-0.8zM486.3 157.5h0.8v0.8h-0.8zM471.8 152.1h0.8v0.8h-0.8zM481.0 148.5h0.8v0.8h-0.8zM455.4 153.8h0.8v0.8h-0.8zM462.3 145.1h0.8v0.8h-0.8zM435.7 145.5h0.8v0.8h-0.8zM473.4 148.0h0.8v0.8h-0.8zM474.7 151.2h0.8v0.8h-0.8zM491.3 153.0h0.8v0.8h-0.8zM477.8 147.6h0.8v0.8h-0.8zM495.4 176.4h0.8v0.8h-0.8zM489.7 152.7h0.8v0.8h-0.8zM497.2 164.6h0.8v0.8h-0.8zM488.1 158.0h0.8v0.8h-0.8zM473.0 151.0h0.8v0.8h-0.8zM473.6 144.1h0.8v0.8h-0.8zM447.4 150.9h0.8v0.8h-0.8zM483.5 156.9h0.8v0.8h-0.8zM441.8 148.5h0.8v0.8h-0.8zM486.0 152.6h0.8v0.8h-0.8zM495.3 162.0h0.8v0.8h-0.8zM468.9 151.2h0.8v0.8h-0.8zM491.6 157.7h0.8v0.8h-0.8zM449.0 151.4h0.8v0.8h-0.8zM483.8 148.1h0.8v0.8h-0.8zM469.7 152.4h0.8v0.8h-0.8zM474.0 151.6h0.8v0.8h-0.8zM477.0 152.6h0.8v0.8h-0.8zM497.1 163.1h0.8v0.8h-0.8zM492.2 154.3h0.8v0.8h-0.8zM481.2 145.7h0.8v0.8h-0.8zM488.4 150.7h0.8v0.8h-0.8zM488.6 152.3h0.8v0.8h-0.8zM482.1 153.1h0.8v0.8h-0.8zM489.9 159.2h0.8v0.8h-0.8zM477.0 147.9h0.8v0.8h-0.8zM449.3 151.3h0.8v0.8h-0.8zM490.8 159.1h0.8v0.8h-0.8zM491.0 152.8h0.8v0.8h-0.8zM464.1 151.2h0.8v0.8h-0.8zM455.3 149.6h0.8v0.8h-0.8zM471.8 151.6h0.8v0.8h-0.8zM490.5 157.6h0.8v0.8h-0.8zM483.0 154.3h0.8v0.8h-0.8zM443.0 151.5h0.8v0.8h-0.8zM484.4 155.9h0.8v0.8h-0.8zM497.5 163.2h0.8v0.8h-0.8zM452.0 150.2h0.8v0.8h-0.8zM453.7 142.9h0.8v0.8h-0.8zM474.2 148.6h0.8v0.8h-0.8zM449.8 151.3h0.8v0.8h-0.8zM474.1 146.2h0.8v0.8h-0.8zM440.8 154.5h0.8v0.8h-0.8zM494.6 158.9h0.8v0.8h-0.8zM442.1 149.8h0.8v0.8h-0.8zM458.5 149.1h0.8v0.8h-0.8zM492.4 166.5h0.8v0.8h-0.8zM495.5 157.1h0.8v0.8h-0.8zM497.0 157.6h0.8v0.8h-0.8zM470.8 151.5h0.8v0.8h-0.8zM488.3 149.5h0.8v0.8h-0.8zM492.2 159.6h0.8v0.8h-0.8zM489.2 164.6h0.8v0.8h-0.8zM485.3 152.0h0.8v0.8h-0.8zM488.1 148.5h0.8v0.8h-0.8zM484.6 153.7h0.8v0.8h-0.8zM496.5 162.4h0.8v0.8h-0.8zM442.4 146.0h0.8v0.8h-0.8zM480.3 151.1h0.8v0.8h-0.8zM494.3 156.6h0.8v0.8h-0.8zM491.0 170.2h0.8v0.8h-0.8zM458.1 148.9h0.8v0.8h-0.8zM489.2 151.6h0.8v0.8h-0.8zM486.9 150.2h0.8v0.8h-0.8zM491.3 165.3h0.8v0.8h-0.8zM494.8 161.7h0.8v0.8h-0.8zM462.7 148.2h0.8v0.8h-0.8zM479.6 145.2h0.8v0.8h-0.8zM447.9 147.6h0.8v0.8h-0.8zM484.1 149.6h0.8v0.8h-0.8zM456.4 147.2h0.8v0.8h-0.8zM462.5 157.7h0.8v0.8h-0.8zM447.5 153.2h0.8v0.8h-0.8zM472.8 149.0h0.8v0.8h-0.8zM485.8 153.0h0.8v0.8h-0.8zM434.8 147.9h0.8v0.8h-0.8zM493.2 155.1h0.8v0.8h-0.8zM489.2 146.5h0.8v0.8h-0.8zM485.3 156.7h0.8v0.8h-0.8zM469.6 148.0h0.8v0.8h-0.8zM493.7 166.2h0.8v0.8h-0.8zM491.9 149.1h0.8v0.8h-0.8zM474.6 149.4h0.8v0.8h-0.8zM495.2 153.1h0.8v0.8h-0.8zM495.2 162.2h0.8v0.8h-0.8zM493.1 159.7h0.8v0.8h-0.8zM493.4 154.5h0.8v0.8h-0.8zM489.9 156.3h0.8v0.8h-0.8zM491.3 154.8h0.8v0.8h-0.8zM471.2 143.4h0.8v0.8h-0.8zM490.3 155.2h0.8v0.8h-0.8zM439.7 150.5h0.8v0.8h-0.8zM437.8 146.4h0.8v0.8h-0.8zM493.1 165.1h0.8v0.8h-0.8zM473.9 146.5h0.8v0.8h-0.8zM496.1 157.7h0.8v0.8h-0.8zM494.5 160.7h0.8v0.8h-0.8zM474.5 148.0h0.8v0.8h-0.8zM440.8 152.8h0.8v0.8h-0.8zM491.9 159.4h0.8v0.8h-0.8zM493.9 163.0h0.8v0.8h-0.8zM495.0 157.9h0.8v0.8h-0.8zM493.1 160.9h0.8v0.8h-0.8zM490.5 156.2h0.8v0.8h-0.8zM490.4 156.9h0.8v0.8h-0.8zM452.1 158.0h0.8v0.8h-0.8zM495.0 158.4h0.8v0.8h-0.8zM490.5 165.2h0.8v0.8h-0.8zM459.3 150.6h0.8v0.8h-0.8zM452.6 148.1h0.8v0.8h-0.8zM450.0 145.8h0.8v0.8h-0.8zM492.5 168.2h0.8v0.8h-0.8zM491.1 155.7h0.8v0.8h-0.8zM443.1 150.4h0.8v0.8h-0.8zM490.8 149.8h0.8v0.8h-0.8zM493.8 168.9h0.8v0.8h-0.8zM452.5 154.7h0.8v0.8h-0.8zM490.4 151.9h0.8v0.8h-0.8zM476.8 151.3h0.8v0.8h-0.8zM484.5 152.5h0.8v0.8h-0.8zM442.3 148.0h0.8v0.8h-0.8zM454.8 153.0h0.8v0.8h-0.8zM443.2 151.5h0.8v0.8h-0.8zM448.0 152.7h0.8v0.8h-0.8zM491.1 155.8h0.8v0.8h-0.8zM494.5 154.0h0.8v0.8h-0.8zM493.8 165.3h0.8v0.8h-0.8zM451.3 151.1h0.8v0.8h-0.8zM440.3 146.6h0.8v0.8h-0.8zM483.0 153.5h0.8v0.8h-0.8zM490.9 160.8h0.8v0.8h-0.8zM470.3 149.9h0.8v0.8h-0.8zM465.5 150.6h0.8v0.8h-0.8zM449.6 155.1h0.8v0.8h-0.8zM491.3 164.7h0.8v0.8h-0.8zM491.8 157.6h0.8v0.8h-0.8zM483.0 145.1h0.8v0.8h-0.8zM493.6 156.2h0.8v0.8h-0.8zM456.3 147.1h0.8v0.8h-0.8zM441.1 151.5h0.8v0.8h-0.8zM477.9 143.8h0.8v0.8h-0.8zM493.7 163.4h0.8v0.8h-0.8zM489.0 157.8h0.8v0.8h-0.8zM438.1 147.5h0.8v0.8h-0.8zM488.8 160.9h0.8v0.8h-0.8zM460.1 150.7h0.8v0.8h-0.8zM480.9 160.2h0.8v0.8h-0.8zM459.3 149.2h0.8v0.8h-0.8zM438.4 151.7h0.8v0.8h-0.8zM437.1 152.8h0.8v0.8h-0.8zM495.5 155.2h0.8v0.8h-0.8zM483.8 151.0h0.8v0.8h-0.8zM466.3 152.5h0.8v0.8h-0.8zM482.0 149.0h0.8v0.8h-0.8zM447.3 145.5h0.8v0.8h-0.8zM453.5 148.4h0.8v0.8h-0.8zM499.1 170.4h0.8v0.8h-0.8zM476.9 150.8h0.8v0.8h-0.8zM491.9 149.2h0.8v0.8h-0.8zM497.6 165.0h0.8v0.8h-0.8zM495.4 159.9h0.8v0.8h-0.8zM494.1 161.4h0.8v0.8h-0.8zM447.1 141.4h0.8v0.8h-0.8zM466.3 150.4h0.8v0.8h-0.8zM434.0 145.7h0.8v0.8h-0.8zM495.6 165.9h0.8v0.8h-0.8zM486.0 156.1h0.8v0.8h-0.8zM492.3 158.5h0.8v0.8h-0.8zM444.0 154.8h0.8v0.8h-0.8zM495.9 166.0h0.8v0.8h-0.8zM477.2 148.9h0.8v0.8h-0.8zM440.7 149.7h0.8v0.8h-0.8zM490.9 154.3h0.8v0.8h-0.8zM493.1 161.9h0.8v0.8h-0.8zM445.9 154.3h0.8v0.8h-0.8zM489.6 160.2h0.8v0.8h-0.8zM460.5 150.7h0.8v0.8h-0.8zM466.5 146.6h0.8v0.8h-0.8zM448.5 145.0h0.8v0.8h-0.8zM495.7 162.5h0.8v0.8h-0.8zM480.8 151.8h0.8v0.8h-0.8zM442.2 154.1h0.8v0.8h-0.8zM451.2 149.0h0.8v0.8h-0.8zM490.6 157.9h0.8v0.8h-0.8zM494.3 160.2h0.8v0.8h-0.8zM434.5 147.4h0.8v0.8h-0.8zM493.9 164.3h0.8v0.8h-0.8zM486.6 153.9h0.8v0.8h-0.8zM468.3 149.7h0.8v0.8h-0.8zM446.2 152.2h0.8v0.8h-0.8zM442.9 148.6h0.8v0.8h-0.8zM462.4 149.5h0.8v0.8h-0.8zM496.5 165.5h0.8v0.8h-0.8zM487.9 147.6h0.8v0.8h-0.8zM492.6 163.6h0.8v0.8h-0.8zM485.9 151.5h0.8v0.8h-0.8zM462.3 155.1h0.8v0.8h-0.8zM495.5 164.5h0.8v0.8h-0.8zM492.0 159.3h0.8v0.8h-0.8zM485.5 147.2h0.8v0.8h-0.8zM446.0 153.9h0.8v0.8h-0.8zM491.8 165.3h0.8v0.8h-0.8zM495.6 155.5h0.8v0.8h-0.8zM494.0 166.7h0.8v0.8h-0.8zM482.8 155.8h0.8v0.8h-0.8zM485.7 152.8h0.8v0.8h-0.8zM455.2 153.3h0.8v0.8h-0.8zM436.7 149.7h0.8v0.8h-0.8zM479.2 148.5h0.8v0.8h-0.8zM496.2 162.3h0.8v0.8h-0.8zM490.3 163.3h0.8v0.8h-0.8zM494.0 159.4h0.8v0.8h-0.8zM492.2 152.7h0.8v0.8h-0.8zM486.0 157.1h0.8v0.8h-0.8zM469.9 147.2h0.8v0.8h-0.8zM491.6 154.7h0.8v0.8h-0.8zM491.0 150.7h0.8v0.8h-0.8zM494.2 162.8h0.8v0.8h-0.8zM488.1 150.9h0.8v0.8h-0.8zM468.8 148.6h0.8v0.8h-0.8zM437.7 148.1h0.8v0.8h-0.8zM450.2 153.0h0.8v0.8h-0.8zM488.8 151.5h0.8v0.8h-0.8zM491.3 157.7h0.8v0.8h-0.8zM452.7 145.2h0.8v0.8h-0.8zM495.2 160.0h0.8v0.8h-0.8z" fill="#8fcfd8" fill-opacity="0.75"/>
<path d="M479.7 147.9h0.8v0.8h-0.8zM497.3 161.6h0.8v0.8h-0.8zM469.6 153.5h0.8v0.8h-0.8zM490.1 150.2h0.8v0.8h-0.8zM450.0 154.7h0.8v0.8h-0.8zM492.9 160.1h0.8v0.8h-0.8zM439.5 152.8h0.8v0.8h-0.8zM497.8 173.8h0.8v0.8h-0.8zM477.8 151.5h0.8v0.8h-0.8zM495.4 162.1h0.8v0.8h-0.8zM464.4 150.3h0.8v0.8h-0.8zM493.7 162.1h0.8v0.8h-0.8zM471.3 149.1h0.8v0.8h-0.8zM487.7 156.8h0.8v0.8h-0.8zM482.6 147.7h0.8v0.8h-0.8zM494.4 160.8h0.8v0.8h-0.8zM479.0 150.3h0.8v0.8h-0.8zM481.8 155.4h0.8v0.8h-0.8zM468.2 151.4h0.8v0.8h-0.8zM473.5 150.2h0.8v0.8h-0.8zM484.3 147.0h0.8v0.8h-0.8zM482.6 152.5h0.8v0.8h-0.8zM449.1 150.5h0.8v0.8h-0.8zM454.9 140.5h0.8v0.8h-0.8zM472.8 149.5h0.8v0.8h-0.8zM490.2 152.9h0.8v0.8h-0.8zM474.0 149.7h0.8v0.8h-0.8zM464.2 145.2h0.8v0.8h-0.8zM450.3 146.1h0.8v0.8h-0.8zM466.1 151.7h0.8v0.8h-0.8zM469.4 151.3h0.8v0.8h-0.8zM483.7 152.7h0.8v0.8h-0.8zM498.0 162.8h0.8v0.8h-0.8zM494.0 164.4h0.8v0.8h-0.8zM437.8 145.0h0.8v0.8h-0.8zM473.4 142.7h0.8v0.8h-0.8zM473.0 149.3h0.8v0.8h-0.8zM485.2 156.6h0.8v0.8h-0.8zM490.5 157.9h0.8v0.8h-0.8zM485.8 153.2h0.8v0.8h-0.8zM470.0 151.8h0.8v0.8h-0.8zM470.9 154.5h0.8v0.8h-0.8zM446.4 147.1h0.8v0.8h-0.8zM477.5 150.4h0.8v0.8h-0.8zM467.5 153.0h0.8v0.8h-0.8zM454.8 150.9h0.8v0.8h-0.8zM480.1 155.7h0.8v0.8h-0.8zM478.4 152.6h0.8v0.8h-0.8zM446.0 147.3h0.8v0.8h-0.8zM493.2 160.2h0.8v0.8h-0.8zM463.6 153.9h0.8v0.8h-0.8zM500.9 159.7h0.8v0.8h-0.8zM442.0 146.9h0.8v0.8h-0.8zM483.8 154.6h0.8v0.8h-0.8zM484.9 155.5h0.8v0.8h-0.8zM441.9 155.0h0.8v0.8h-0.8zM440.8 144.5h0.8v0.8h-0.8zM495.3 161.8h0.8v0.8h-0.8zM485.4 145.1h0.8v0.8h-0.8zM490.9 170.0h0.8v0.8h-0.8zM444.0 151.0h0.8v0.8h-0.8zM461.0 148.6h0.8v0.8h-0.8zM495.7 152.0h0.8v0.8h-0.8zM476.1 150.5h0.8v0.8h-0.8zM493.3 162.7h0.8v0.8h-0.8zM441.4 152.1h0.8v0.8h-0.8zM487.4 152.1h0.8v0.8h-0.8zM447.6 147.5h0.8v0.8h-0.8zM491.2 168.2h0.8v0.8h-0.8zM457.7 153.4h0.8v0.8h-0.8zM482.4 153.3h0.8v0.8h-0.8zM471.2 147.0h0.8v0.8h-0.8zM477.4 146.9h0.8v0.8h-0.8zM445.6 149.2h0.8v0.8h-0.8zM476.7 146.8h0.8v0.8h-0.8zM482.3 147.5h0.8v0.8h-0.8zM478.6 148.2h0.8v0.8h-0.8zM440.7 149.8h0.8v0.8h-0.8zM497.6 162.4h0.8v0.8h-0.8zM486.7 156.1h0.8v0.8h-0.8zM477.7 152.3h0.8v0.8h-0.8zM473.5 146.6h0.8v0.8h-0.8zM486.0 150.2h0.8v0.8h-0.8zM455.4 147.0h0.8v0.8h-0.8zM486.1 153.2h0.8v0.8h-0.8zM435.8 147.7h0.8v0.8h-0.8zM483.5 153.8h0.8v0.8h-0.8zM477.6 148.3h0.8v0.8h-0.8zM441.5 157.1h0.8v0.8h-0.8zM486.3 148.2h0.8v0.8h-0.8zM490.2 150.8h0.8v0.8h-0.8zM488.1 151.2h0.8v0.8h-0.8zM441.7 150.6h0.8v0.8h-0.8zM487.0 145.4h0.8v0.8h-0.8zM480.6 147.6h0.8v0.8h-0.8zM494.1 156.1h0.8v0.8h-0.8zM480.7 156.4h0.8v0.8h-0.8zM491.8 155.8h0.8v0.8h-0.8zM470.4 152.3h0.8v0.8h-0.8zM482.0 151.5h0.8v0.8h-0.8zM491.1 159.9h0.8v0.8h-0.8zM497.1 171.0h0.8v0.8h-0.8zM493.3 161.4h0.8v0.8h-0.8zM447.4 151.6h0.8v0.8h-0.8zM489.4 154.8h0.8v0.8h-0.8zM488.5 158.0h0.8v0.8h-0.8zM441.7 153.4h0.8v0.8h-0.8zM485.9 147.1h0.8v0.8h-0.8zM492.8 159.5h0.8v0.8h-0.8zM485.2 154.0h0.8v0.8h-0.8zM463.3 150.8h0.8v0.8h-0.8zM464.3 147.8h0.8v0.8h-0.8zM490.9 167.5h0.8v0.8h-0.8zM474.9 151.0h0.8v0.8h-0.8zM491.9 149.4h0.8v0.8h-0.8zM483.8 152.1h0.8v0.8h-0.8zM482.5 149.1h0.8v0.8h-0.8zM491.8 152.6h0.8v0.8h-0.8zM450.7 141.3h0.8v0.8h-0.8zM453.7 151.6h0.8v0.8h-0.8zM456.4 154.0h0.8v0.8h-0.8zM433.0 150.4h0.8v0.8h-0.8zM488.8 151.8h0.8v0.8h-0.8zM494.2 154.5h0.8v0.8h-0.8zM490.7 155.1h0.8v0.8h-0.8zM482.1 154.6h0.8v0.8h-0.8zM485.4 154.3h0.8v0.8h-0.8zM491.3 164.5h0.8v0.8h-0.8zM492.9 159.5h0.8v0.8h-0.8zM478.5 150.2h0.8v0.8h-0.8zM495.9 154.6h0.8v0.8h-0.8zM493.2 158.6h0.8v0.8h-0.8zM464.2 151.6h0.8v0.8h-0.8zM490.0 160.6h0.8v0.8h-0.8zM455.3 151.4h0.8v0.8h-0.8zM474.7 151.9h0.8v0.8h-0.8zM492.5 155.3h0.8v0.8h-0.8zM457.0 142.4h0.8v0.8h-0.8zM449.5 148.3h0.8v0.8h-0.8zM494.3 168.9h0.8v0.8h-0.8zM490.4 158.4h0.8v0.8h-0.8zM452.7 149.2h0.8v0.8h-0.8zM494.6 162.7h0.8v0.8h-0.8zM486.3 151.3h0.8v0.8h-0.8zM485.9 156.5h0.8v0.8h-0.8zM450.8 149.4h0.8v0.8h-0.8zM492.7 160.1h0.8v0.8h-0.8zM465.9 147.7h0.8v0.8h-0.8zM484.0 152.3h0.8v0.8h-0.8zM495.5 155.1h0.8v0.8h-0.8zM489.8 147.6h0.8v0.8h-0.8zM482.7 148.3h0.8v0.8h-0.8zM494.2 158.4h0.8v0.8h-0.8zM464.5 151.4h0.8v0.8h-0.8zM491.6 168.2h0.8v0.8h-0.8zM472.1 148.3h0.8v0.8h-0.8zM496.2 162.8h0.8v0.8h-0.8zM471.7 146.6h0.8v0.8h-0.8zM486.7 155.3h0.8v0.8h-0.8zM495.9 167.2h0.8v0.8h-0.8zM481.8 148.8h0.8v0.8h-0.8zM496.2 157.4h0.8v0.8h-0.8zM463.0 147.3h0.8v0.8h-0.8zM440.0 147.7h0.8v0.8h-0.8zM475.2 149.0h0.8v0.8h-0.8zM481.2 148.3h0.8v0.8h-0.8zM488.0 154.9h0.8v0.8h-0.8zM462.4 147.3h0.8v0.8h-0.8zM475.3 146.9h0.8v0.8h-0.8zM446.3 148.1h0.8v0.8h-0.8zM479.4 143.9h0.8v0.8h-0.8zM493.1 153.0h0.8v0.8h-0.8zM491.8 159.2h0.8v0.8h-0.8zM484.9 156.3h0.8v0.8h-0.8zM475.7 146.6h0.8v0.8h-0.8zM472.6 145.1h0.8v0.8h-0.8zM468.5 150.3h0.8v0.8h-0.8zM493.8 155.1h0.8v0.8h-0.8zM452.9 150.7h0.8v0.8h-0.8zM482.9 150.7h0.8v0.8h-0.8zM445.6 153.8h0.8v0.8h-0.8zM492.2 167.3h0.8v0.8h-0.8zM491.3 148.1h0.8v0.8h-0.8zM456.6 150.3h0.8v0.8h-0.8zM443.9 157.0h0.8v0.8h-0.8zM441.4 145.4h0.8v0.8h-0.8zM492.7 156.9h0.8v0.8h-0.8zM441.9 143.1h0.8v0.8h-0.8zM470.9 149.9h0.8v0.8h-0.8zM493.9 157.9h0.8v0.8h-0.8zM460.2 143.1h0.8v0.8h-0.8zM445.4 154.3h0.8v0.8h-0.8zM482.1 145.8h0.8v0.8h-0.8zM493.8 156.4h0.8v0.8h-0.8zM491.5 152.5h0.8v0.8h-0.8zM487.4 151.6h0.8v0.8h-0.8zM485.3 149.1h0.8v0.8h-0.8zM448.4 153.1h0.8v0.8h-0.8zM456.1 147.5h0.8v0.8h-0.8zM446.7 151.0h0.8v0.8h-0.8zM437.1 150.3h0.8v0.8h-0.8zM440.6 152.2h0.8v0.8h-0.8zM469.1 150.8h0.8v0.8h-0.8zM487.5 155.9h0.8v0.8h-0.8zM463.3 143.6h0.8v0.8h-0.8zM491.3 152.6h0.8v0.8h-0.8zM469.8 146.1h0.8v0.8h-0.8zM485.3 157.9h0.8v0.8h-0.8zM466.1 152.8h0.8v0.8h-0.8zM494.0 165.4h0.8v0.8h-0.8zM489.3 151.9h0.8v0.8h-0.8zM493.8 164.3h0.8v0.8h-0.8zM490.2 158.1h0.8v0.8h-0.8zM485.0 151.4h0.8v0.8h-0.8zM488.5 154.7h0.8v0.8h-0.8zM485.6 157.4h0.8v0.8h-0.8zM500.6 163.3h0.8v0.8h-0.8zM442.2 148.6h0.8v0.8h-0.8zM477.1 153.5h0.8v0.8h-0.8zM492.2 157.9h0.8v0.8h-0.8zM489.3 150.6h0.8v0.8h-0.8zM445.2 151.2h0.8v0.8h-0.8zM491.0 159.0h0.8v0.8h-0.8zM491.9 154.3h0.8v0.8h-0.8zM494.6 171.1h0.8v0.8h-0.8zM487.0 153.9h0.8v0.8h-0.8zM468.8 153.3h0.8v0.8h-0.8zM481.5 151.4h0.8v0.8h-0.8zM496.4 149.1h0.8v0.8h-0.8zM449.7 150.0h0.8v0.8h-0.8zM481.0 151.3h0.8v0.8h-0.8zM483.1 152.2h0.8v0.8h-0.8zM470.9 148.7h0.8v0.8h-0.8zM438.8 149.5h0.8v0.8h-0.8zM479.3 150.6h0.8v0.8h-0.8zM492.2 168.6h0.8v0.8h-0.8zM456.3 151.7h0.8v0.8h-0.8zM486.1 151.3h0.8v0.8h-0.8zM489.5 158.4h0.8v0.8h-0.8zM493.7 159.1h0.8v0.8h-0.8zM478.6 146.0h0.8v0.8h-0.8zM469.7 149.3h0.8v0.8h-0.8zM494.4 163.0h0.8v0.8h-0.8zM448.1 144.2h0.8v0.8h-0.8zM483.3 153.7h0.8v0.8h-0.8zM498.6 162.2h0.8v0.8h-0.8zM458.1 148.1h0.8v0.8h-0.8zM489.7 167.5h0.8v0.8h-0.8zM465.0 154.3h0.8v0.8h-0.8zM466.5 151.6h0.8v0.8h-0.8zM443.0 149.4h0.8v0.8h-0.8zM440.2 151.4h0.8v0.8h-0.8zM439.3 151.9h0.8v0.8h-0.8zM483.3 152.4h0.8v0.8h-0.8zM445.9 146.0h0.8v0.8h-0.8zM485.2 151.0h0.8v0.8h-0.8zM493.9 169.6h0.8v0.8h-0.8zM486.2 153.4h0.8v0.8h-0.8zM473.1 150.9h0.8v0.8h-0.8zM490.0 157.3h0.8v0.8h-0.8zM464.7 149.4h0.8v0.8h-0.8zM493.3 163.8h0.8v0.8h-0.8zM494.3 151.8h0.8v0.8h-0.8zM490.1 147.0h0.8v0.8h-0.8zM490.8 164.3h0.8v0.8h-0.8zM440.5 152.8h0.8v0.8h-0.8zM492.7 164.3h0.8v0.8h-0.8zM460.2 150.1h0.8v0.8h-0.8zM489.3 150.9h0.8v0.8h-0.8zM481.6 143.6h0.8v0.8h-0.8zM438.4 157.1h0.8v0.8h-0.8zM470.2 154.4h0.8v0.8h-0.8zM473.8 153.6h0.8v0.8h-0.8zM459.1 151.5h0.8v0.8h-0.8zM440.7 152.5h0.8v0.8h-0.8zM443.5 152.3h0.8v0.8h-0.8zM442.8 148.4h0.8v0.8h-0.8zM431.1 146.1h0.8v0.8h-0.8zM483.7 147.2h0.8v0.8h-0.8zM433.2 153.7h0.8v0.8h-0.8zM495.3 165.8h0.8v0.8h-0.8zM492.8 158.2h0.8v0.8h-0.8zM464.9 148.5h0.8v0.8h-0.8zM439.2 147.4h0.8v0.8h-0.8zM498.5 157.8h0.8v0.8h-0.8zM449.6 151.9h0.8v0.8h-0.8zM490.3 149.5h0.8v0.8h-0.8zM487.0 154.6h0.8v0.8h-0.8zM495.9 161.0h0.8v0.8h-0.8zM461.4 154.5h0.8v0.8h-0.8zM491.7 156.1h0.8v0.8h-0.8zM453.9 151.7h0.8v0.8h-0.8zM462.2 147.1h0.8v0.8h-0.8zM495.6 157.2h0.8v0.8h-0.8zM492.3 156.2h0.8v0.8h-0.8zM494.2 159.2h0.8v0.8h-0.8zM464.2 146.1h0.8v0.8h-0.8zM463.0 152.1h0.8v0.8h-0.8zM471.8 154.0h0.8v0.8h-0.8zM488.7 161.5h0.8v0.8h-0.8zM435.6 154.0h0.8v0.8h-0.8zM498.0 166.8h0.8v0.8h-0.8zM488.5 156.2h0.8v0.8h-0.8zM492.2 164.2h0.8v0.8h-0.8zM487.5 150.9h0.8v0.8h-0.8zM445.7 150.7h0.8v0.8h-0.8zM493.7 157.8h0.8v0.8h-0.8zM451.7 150.1h0.8v0.8h-0.8zM436.9 152.5h0.8v0.8h-0.8zM439.7 151.8h0.8v0.8h-0.8zM444.1 149.6h0.8v0.8h-0.8zM478.6 143.9h0.8v0.8h-0.8zM490.4 149.7h0.8v0.8h-0.8zM496.1 165.7h0.8v0.8h-0.8zM493.1 159.2h0.8v0.8h-0.8zM471.7 149.5h0.8v0.8h-0.8zM494.2 163.0h0.8v0.8h-0.8zM450.4 148.8h0.8v0.8h-0.8zM495.2 158.7h0.8v0.8h-0.8zM460.4 145.5h0.8v0.8h-0.8zM452.3 154.1h0.8v0.8h-0.8zM482.3 145.8h0.8v0.8h-0.8zM478.5 151.4h0.8v0.8h-0.8zM489.8 162.1h0.8v0.8h-0.8zM488.5 158.6h0.8v0.8h-0.8zM493.3 155.5h0.8v0.8h-0.8zM481.8 143.8h0.8v0.8h-0.8zM440.9 154.0h0.8v0.8h-0.8zM496.7 165.9h0.8v0.8h-0.8zM451.0 152.3h0.8v0.8h-0.8zM482.3 149.9h0.8v0.8h-0.8zM455.7 157.0h0.8v0.8h-0.8zM471.6 146.7h0.8v0.8h-0.8zM459.6 151.3h0.8v0.8h-0.8zM495.2 164.2h0.8v0.8h-0.8zM478.9 155.3h0.8v0.8h-0.8zM485.2 148.9h0.8v0.8h-0.8zM488.1 154.3h0.8v0.8h-0.8zM496.0 155.9h0.8v0.8h-0.8zM476.8 148.3h0.8v0.8h-0.8zM474.8 153.0h0.8v0.8h-0.8zM461.9 147.0h0.8v0.8h-0.8zM477.6 149.6h0.8v0.8h-0.8zM430.8 148.1h0.8v0.8h-0.8zM460.5 149.4h0.8v0.8h-0.8zM483.0 148.4h0.8v0.8h-0.8zM477.2 151.3h0.8v0.8h-0.8zM491.0 165.1h0.8v0.8h-0.8zM464.1 151.5h0.8v0.8h-0.8zM441.3 153.9h0.8v0.8h-0.8zM484.0 152.8h0.8v0.8h-0.8zM485.7 150.8h0.8v0.8h-0.8zM488.8 154.7h0.8v0.8h-0.8zM496.2 159.4h0.8v0.8h-0.8zM466.0 147.5h0.8v0.8h-0.8zM496.8 164.3h0.8v0.8h-0.8zM484.3 150.6h0.8v0.8h-0.8zM486.8 155.1h0.8v0.8h-0.8zM496.9 156.7h0.8v0.8h-0.8zM446.4 152.4h0.8v0.8h-0.8z" fill="#4fbf90" fill-opacity="0.75"/>
<path d="M457.1 151.4h0.8v0.8h-0.8zM443.5 146.7h0.8v0.8h-0.8zM452.8 149.7h0.8v0.8h-0.8zM443.8 154.4h0.8v0.8h-0.8zM480.4 150.4h0.8v0.8h-0.8zM491.1 153.4h0.8v0.8h-0.8zM481.6 147.7h0.8v0.8h-0.8zM479.7 147.9h0.8v0.8h-0.8zM477.9 149.8h0.8v0.8h-0.8zM496.1 163.3h0.8v0.8h-0.8zM498.1 154.1h0.8v0.8h-0.8zM493.7 163.9h0.8v0.8h-0.8zM495.6 170.9h0.8v0.8h-0.8zM466.4 148.4h0.8v0.8h-0.8zM483.2 152.3h0.8v0.8h-0.8zM485.7 148.2h0.8v0.8h-0.8zM450.2 149.6h0.8v0.8h-0.8zM462.0 150.1h0.8v0.8h-0.8zM491.4 165.9h0.8v0.8h-0.8zM475.1 151.1h0.8v0.8h-0.8zM496.1 166.1h0.8v0.8h-0.8zM500.4 162.0h0.8v0.8h-0.8zM491.9 154.7h0.8v0.8h-0.8zM495.2 166.6h0.8v0.8h-0.8zM493.7 157.0h0.8v0.8h-0.8zM487.2 151.6h0.8v0.8h-0.8zM447.1 148.1h0.8v0.8h-0.8zM481.8 147.8h0.8v0.8h-0.8zM500.1 164.9h0.8v0.8h-0.8zM465.0 154.7h0.8v0.8h-0.8zM467.7 151.6h0.8v0.8h-0.8zM448.0 149.3h0.8v0.8h-0.8zM471.2 147.2h0.8v0.8h-0.8zM471.9 149.3h0.8v0.8h-0.8zM492.4 159.5h0.8v0.8h-0.8zM492.1 167.6h0.8v0.8h-0.8zM467.1 147.6h0.8v0.8h-0.8zM448.3 149.5h0.8v0.8h-0.8zM466.4 153.0h0.8v0.8h-0.8zM491.6 160.5h0.8v0.8h-0.8zM445.9 149.6h0.8v0.8h-0.8zM474.3 149.9h0.8v0.8h-0.8zM492.0 159.7h0.8v0.8h-0.8zM466.9 151.6h0.8v0.8h-0.8zM439.2 154.6h0.8v0.8h-0.8zM449.5 146.7h0.8v0.8h-0.8zM476.4 144.7h0.8v0.8h-0.8zM491.4 162.6h0.8v0.8h-0.8zM457.5 149.0h0.8v0.8h-0.8zM492.6 165.9h0.8v0.8h-0.8zM470.1 149.6h0.8v0.8h-0.8zM472.9 149.3h0.8v0.8h-0.8zM492.0 173.2h0.8v0.8h-0.8zM493.0 163.3h0.8v0.8h-0.8zM483.8 151.4h0.8v0.8h-0.8zM495.0 158.0h0.8v0.8h-0.8zM449.0 151.7h0.8v0.8h-0.8zM487.1 150.2h0.8v0.8h-0.8zM491.5 158.2h0.8v0.8h-0.8zM489.4 156.3h0.8v0.8h-0.8zM488.9 151.4h0.8v0.8h-0.8zM481.8 153.3h0.8v0.8h-0.8zM479.0 151.1h0.8v0.8h-0.8zM463.2 152.2h0.8v0.8h-0.8zM494.4 158.4h0.8v0.8h-0.8zM454.2 149.7h0.8v0.8h-0.8zM493.6 164.9h0.8v0.8h-0.8zM492.0 160.6h0.8v0.8h-0.8zM494.4 166.2h0.8v0.8h-0.8zM446.3 154.3h0.8v0.8h-0.8zM497.2 161.9h0.8v0.8h-0.8zM481.5 150.8h0.8v0.8h-0.8zM452.4 152.7h0.8v0.8h-0.8zM469.8 150.2h0.8v0.8h-0.8zM473.3 150.0h0.8v0.8h-0.8zM442.3 151.0h0.8v0.8h-0.8zM497.3 166.5h0.8v0.8h-0.8zM493.8 164.0h0.8v0.8h-0.8zM464.6 152.1h0.8v0.8h-0.8zM494.5 152.3h0.8v0.8h-0.8zM493.2 166.9h0.8v0.8h-0.8zM493.7 164.5h0.8v0.8h-0.8zM443.6 153.3h0.8v0.8h-0.8zM499.3 163.2h0.8v0.8h-0.8zM491.8 156.3h0.8v0.8h-0.8zM444.8 155.6h0.8v0.8h-0.8zM455.1 147.0h0.8v0.8h-0.8zM497.4 163.1h0.8v0.8h-0.8zM496.2 159.3h0.8v0.8h-0.8zM464.9 151.9h0.8v0.8h-0.8zM488.8 164.9h0.8v0.8h-0.8zM493.3 154.5h0.8v0.8h-0.8zM496.5 160.5h0.8v0.8h-0.8zM465.8 151.1h0.8v0.8h-0.8zM491.0 165.3h0.8v0.8h-0.8zM474.0 147.9h0.8v0.8h-0.8zM494.6 161.3h0.8v0.8h-0.8zM438.7 152.3h0.8v0.8h-0.8zM437.2 152.0h0.8v0.8h-0.8zM495.6 166.6h0.8v0.8h-0.8zM471.0 143.8h0.8v0.8h-0.8zM494.7 161.9h0.8v0.8h-0.8zM496.2 167.9h0.8v0.8h-0.8zM497.6 159.4h0.8v0.8h-0.8zM456.9 147.7h0.8v0.8h-0.8zM495.0 161.7h0.8v0.8h-0.8zM456.4 149.2h0.8v0.8h-0.8zM493.3 160.7h0.8v0.8h-0.8zM491.0 165.9h0.8v0.8h-0.8zM443.5 151.5h0.8v0.8h-0.8zM492.2 166.3h0.8v0.8h-0.8zM452.6 149.4h0.8v0.8h-0.8zM474.7 141.9h0.8v0.8h-0.8zM455.4 151.8h0.8v0.8h-0.8zM491.0 163.6h0.8v0.8h-0.8zM470.5 145.4h0.8v0.8h-0.8zM493.4 155.3h0.8v0.8h-0.8zM452.3 154.6h0.8v0.8h-0.8zM497.9 161.7h0.8v0.8h-0.8zM495.4 156.7h0.8v0.8h-0.8zM485.9 151.3h0.8v0.8h-0.8zM485.7 153.3h0.8v0.8h-0.8zM477.8 152.8h0.8v0.8h-0.8zM491.1 150.4h0.8v0.8h-0.8zM495.3 154.3h0.8v0.8h-0.8zM494.3 164.2h0.8v0.8h-0.8zM469.6 149.1h0.8v0.8h-0.8zM493.1 166.5h0.8v0.8h-0.8zM492.7 159.3h0.8v0.8h-0.8zM491.7 158.2h0.8v0.8h-0.8zM491.7 160.4h0.8v0.8h-0.8zM493.0 158.1h0.8v0.8h-0.8zM468.5 148.1h0.8v0.8h-0.8zM441.0 151.0h0.8v0.8h-0.8zM479.5 149.3h0.8v0.8h-0.8zM489.3 154.3h0.8v0.8h-0.8zM490.1 153.5h0.8v0.8h-0.8zM487.3 158.0h0.8v0.8h-0.8zM497.7 157.7h0.8v0.8h-0.8zM494.3 159.7h0.8v0.8h-0.8zM486.2 151.3h0.8v0.8h-0.8zM441.4 147.9h0.8v0.8h-0.8zM452.9 152.9h0.8v0.8h-0.8zM461.4 151.0h0.8v0.8h-0.8zM494.9 166.8h0.8v0.8h-0.8zM481.1 149.2h0.8v0.8h-0.8zM470.1 151.9h0.8v0.8h-0.8zM495.1 157.6h0.8v0.8h-0.8zM466.7 152.6h0.8v0.8h-0.8zM479.1 151.0h0.8v0.8h-0.8zM479.2 151.5h0.8v0.8h-0.8zM494.0 161.7h0.8v0.8h-0.8zM489.7 152.7h0.8v0.8h-0.8zM454.3 149.2h0.8v0.8h-0.8zM495.8 165.0h0.8v0.8h-0.8zM463.3 151.4h0.8v0.8h-0.8zM479.6 150.7h0.8v0.8h-0.8zM484.5 147.7h0.8v0.8h-0.8zM498.3 166.5h0.8v0.8h-0.8zM493.5 163.4h0.8v0.8h-0.8zM492.6 164.4h0.8v0.8h-0.8zM488.8 156.6h0.8v0.8h-0.8zM495.0 163.8h0.8v0.8h-0.8zM459.5 152.2h0.8v0.8h-0.8zM489.2 148.3h0.8v0.8h-0.8zM491.2 151.2h0.8v0.8h-0.8zM490.9 154.7h0.8v0.8h-0.8zM490.9 166.3h0.8v0.8h-0.8zM477.2 148.7h0.8v0.8h-0.8zM491.8 157.2h0.8v0.8h-0.8zM491.8 158.3h0.8v0.8h-0.8zM488.6 145.1h0.8v0.8h-0.8zM452.3 149.6h0.8v0.8h-0.8zM491.9 159.7h0.8v0.8h-0.8zM470.3 154.5h0.8v0.8h-0.8zM439.1 151.0h0.8v0.8h-0.8zM458.6 146.3h0.8v0.8h-0.8zM482.3 152.0h0.8v0.8h-0.8zM439.3 148.9h0.8v0.8h-0.8zM494.1 159.0h0.8v0.8h-0.8zM492.8 152.8h0.8v0.8h-0.8zM491.3 162.5h0.8v0.8h-0.8zM474.5 148.6h0.8v0.8h-0.8zM447.5 151.8h0.8v0.8h-0.8zM467.5 151.3h0.8v0.8h-0.8zM471.3 145.1h0.8v0.8h-0.8zM449.3 150.7h0.8v0.8h-0.8zM463.8 150.4h0.8v0.8h-0.8zM446.6 148.5h0.8v0.8h-0.8zM455.0 150.7h0.8v0.8h-0.8zM471.5 148.8h0.8v0.8h-0.8zM440.1 151.9h0.8v0.8h-0.8zM466.1 149.6h0.8v0.8h-0.8zM474.8 151.2h0.8v0.8h-0.8zM480.0 148.6h0.8v0.8h-0.8zM477.1 144.0h0.8v0.8h-0.8zM443.9 152.9h0.8v0.8h-0.8zM480.7 150.3h0.8v0.8h-0.8zM461.8 150.8h0.8v0.8h-0.8zM451.2 148.4h0.8v0.8h-0.8zM433.1 149.9h0.8v0.8h-0.8zM495.2 162.5h0.8v0.8h-0.8zM483.0 151.0h0.8v0.8h-0.8zM462.5 147.3h0.8v0.8h-0.8zM477.9 151.6h0.8v0.8h-0.8zM465.1 149.8h0.8v0.8h-0.8zM449.1 146.8h0.8v0.8h-0.8zM496.3 163.0h0.8v0.8h-0.8zM447.1 155.3h0.8v0.8h-0.8zM478.4 150.4h0.8v0.8h-0.8zM474.2 149.0h0.8v0.8h-0.8zM440.9 154.7h0.8v0.8h-0.8zM485.5 145.0h0.8v0.8h-0.8zM497.9 163.7h0.8v0.8h-0.8zM474.4 151.2h0.8v0.8h-0.8zM470.4 151.5h0.8v0.8h-0.8zM474.9 151.2h0.8v0.8h-0.8zM485.8 148.2h0.8v0.8h-0.8zM456.0 146.1h0.8v0.8h-0.8zM463.4 152.3h0.8v0.8h-0.8zM481.8 153.1h0.8v0.8h-0.8zM494.7 158.2h0.8v0.8h-0.8zM448.0 147.8h0.8v0.8h-0.8zM443.5 151.9h0.8v0.8h-0.8zM495.1 167.0h0.8v0.8h-0.8zM475.9 153.9h0.8v0.8h-0.8zM492.0 158.3h0.8v0.8h-0.8zM480.7 149.0h0.8v0.8h-0.8zM466.3 157.8h0.8v0.8h-0.8zM481.9 151.4h0.8v0.8h-0.8zM480.4 153.8h0.8v0.8h-0.8zM447.2 150.1h0.8v0.8h-0.8zM489.3 170.7h0.8v0.8h-0.8zM499.2 157.6h0.8v0.8h-0.8zM484.6 154.6h0.8v0.8h-0.8zM450.0 146.3h0.8v0.8h-0.8zM491.3 157.4h0.8v0.8h-0.8zM483.6 149.6h0.8v0.8h-0.8zM496.6 166.7h0.8v0.8h-0.8zM493.6 158.6h0.8v0.8h-0.8zM491.3 161.4h0.8v0.8h-0.8zM491.7 158.9h0.8v0.8h-0.8zM493.4 158.4h0.8v0.8h-0.8zM495.1 153.5h0.8v0.8h-0.8zM491.5 168.4h0.8v0.8h-0.8zM459.3 153.3h0.8v0.8h-0.8zM488.3 148.6h0.8v0.8h-0.8zM485.4 153.6h0.8v0.8h-0.8zM444.1 151.0h0.8v0.8h-0.8zM453.4 151.2h0.8v0.8h-0.8zM471.4 147.1h0.8v0.8h-0.8zM463.5 151.6h0.8v0.8h-0.8zM471.8 145.9h0.8v0.8h-0.8zM468.5 151.6h0.8v0.8h-0.8zM442.0 153.2h0.8v0.8h-0.8zM487.7 157.8h0.8v0.8h-0.8zM484.2 146.4h0.8v0.8h-0.8zM445.1 150.4h0.8v0.8h-0.8zM456.4 150.9h0.8v0.8h-0.8zM486.6 154.1h0.8v0.8h-0.8zM486.2 150.4h0.8v0.8h-0.8zM489.0 151.8h0.8v0.8h-0.8zM467.2 140.0h0.8v0.8h-0.8zM484.5 151.8h0.8v0.8h-0.8zM497.1 159.0h0.8v0.8h-0.8zM491.0 152.0h0.8v0.8h-0.8zM458.7 152.5h0.8v0.8h-0.8zM451.0 152.6h0.8v0.8h-0.8zM480.4 150.5h0.8v0.8h-0.8zM477.7 149.5h0.8v0.8h-0.8zM459.3 150.6h0.8v0.8h-0.8zM487.7 150.9h0.8v0.8h-0.8zM497.6 161.3h0.8v0.8h-0.8zM464.5 152.0h0.8v0.8h-0.8zM490.2 153.1h0.8v0.8h-0.8zM494.0 158.2h0.8v0.8h-0.8zM491.4 161.6h0.8v0.8h-0.8zM477.2 150.9h0.8v0.8h-0.8zM494.4 168.0h0.8v0.8h-0.8zM490.8 155.2h0.8v0.8h-0.8zM491.1 154.0h0.8v0.8h-0.8zM478.6 151.2h0.8v0.8h-0.8zM488.5 151.8h0.8v0.8h-0.8zM491.0 152.9h0.8v0.8h-0.8zM495.0 160.6h0.8v0.8h-0.8zM478.4 146.6h0.8v0.8h-0.8zM490.0 163.3h0.8v0.8h-0.8zM450.2 145.3h0.8v0.8h-0.8zM490.1 169.5h0.8v0.8h-0.8zM482.2 157.3h0.8v0.8h-0.8zM492.8 158.0h0.8v0.8h-0.8zM493.2 159.8h0.8v0.8h-0.8zM491.9 176.0h0.8v0.8h-0.8zM488.4 156.7h0.8v0.8h-0.8zM473.9 146.9h0.8v0.8h-0.8zM496.4 158.8h0.8v0.8h-0.8zM492.7 161.6h0.8v0.8h-0.8zM460.9 144.9h0.8v0.8h-0.8zM486.5 155.0h0.8v0.8h-0.8zM479.3 148.2h0.8v0.8h-0.8zM451.5 148.3h0.8v0.8h-0.8zM500.5 160.1h0.8v0.8h-0.8zM487.6 152.3h0.8v0.8h-0.8zM459.7 148.0h0.8v0.8h-0.8zM493.6 165.6h0.8v0.8h-0.8zM489.3 157.5h0.8v0.8h-0.8zM446.4 150.3h0.8v0.8h-0.8zM476.5 150.0h0.8v0.8h-0.8zM447.1 152.3h0.8v0.8h-0.8zM493.5 164.0h0.8v0.8h-0.8zM487.2 152.9h0.8v0.8h-0.8zM445.3 154.0h0.8v0.8h-0.8zM467.0 148.2h0.8v0.8h-0.8zM465.5 152.9h0.8v0.8h-0.8zM494.3 163.9h0.8v0.8h-0.8zM487.3 150.4h0.8v0.8h-0.8zM467.1 153.1h0.8v0.8h-0.8zM477.4 149.3h0.8v0.8h-0.8zM491.1 169.5h0.8v0.8h-0.8zM493.6 151.4h0.8v0.8h-0.8zM476.1 153.6h0.8v0.8h-0.8zM493.3 160.4h0.8v0.8h-0.8zM460.4 149.7h0.8v0.8h-0.8zM496.4 159.1h0.8v0.8h-0.8zM472.5 155.1h0.8v0.8h-0.8zM482.3 150.3h0.8v0.8h-0.8zM492.8 162.3h0.8v0.8h-0.8zM495.7 163.7h0.8v0.8h-0.8zM444.5 153.5h0.8v0.8h-0.8zM492.9 155.0h0.8v0.8h-0.8zM470.6 148.1h0.8v0.8h-0.8zM491.6 154.5h0.8v0.8h-0.8zM494.2 155.3h0.8v0.8h-0.8zM489.2 156.7h0.8v0.8h-0.8zM442.8 149.5h0.8v0.8h-0.8zM493.5 162.9h0.8v0.8h-0.8zM491.1 153.6h0.8v0.8h-0.8zM436.4 147.9h0.8v0.8h-0.8zM435.9 150.4h0.8v0.8h-0.8zM473.3 146.5h0.8v0.8h-0.8zM465.8 155.5h0.8v0.8h-0.8zM497.9 160.1h0.8v0.8h-0.8zM441.8 150.8h0.8v0.8h-0.8zM492.5 155.8h0.8v0.8h-0.8zM491.7 156.4h0.8v0.8h-0.8zM487.0 157.8h0.8v0.8h-0.8zM489.6 165.2h0.8v0.8h-0.8zM496.0 159.4h0.8v0.8h-0.8zM488.0 155.8h0.8v0.8h-0.8zM492.0 160.8h0.8v0.8h-0.8zM489.7 153.3h0.8v0.8h-0.8zM491.3 158.1h0.8v0.8h-0.8zM493.1 161.2h0.8v0.8h-0.8zM496.6 164.7h0.8v0.8h-0.8zM499.1 168.3h0.8v0.8h-0.8zM485.6 144.1h0.8v0.8h-0.8zM494.2 167.0h0.8v0.8h-0.8zM490.8 156.0h0.8v0.8h-0.8zM459.5 150.5h0.8v0.8h-0.8zM494.9 166.9h0.8v0.8h-0.8z" fill="#2f9f8f" fill-opacity="0.75"/>
<path d="M434.5 147.4h0.7v0.7h-0.7zM430.4 132.8h0.7v0.7h-0.7zM446.9 139.1h0.7v0.7h-0.7zM447.2 138.8h0.7v0.7h-0.7zM463.9 134.6h0.7v0.7h-0.7zM442.0 135.0h0.7v0.7h-0.7zM435.9 156.6h0.7v0.7h-0.7zM447.1 141.9h0.7v0.7h-0.7zM430.4 130.4h0.7v0.7h-0.7zM455.6 153.9h0.7v0.7h-0.7zM438.7 156.9h0.7v0.7h-0.7zM454.1 141.9h0.7v0.7h-0.7zM470.0 144.2h0.7v0.7h-0.7zM456.2 139.7h0.7v0.7h-0.7zM433.4 149.5h0.7v0.7h-0.7zM430.5 155.4h0.7v0.7h-0.7zM466.4 147.9h0.7v0.7h-0.7zM456.7 131.4h0.7v0.7h-0.7zM439.8 133.5h0.7v0.7h-0.7zM464.9 136.6h0.7v0.7h-0.7zM459.7 155.5h0.7v0.7h-0.7zM466.8 153.9h0.7v0.7h-0.7zM462.2 149.5h0.7v0.7h-0.7zM439.3 156.5h0.7v0.7h-0.7zM468.1 143.5h0.7v0.7h-0.7zM459.0 153.1h0.7v0.7h-0.7zM438.4 154.8h0.7v0.7h-0.7zM447.3 152.1h0.7v0.7h-0.7zM443.4 143.3h0.7v0.7h-0.7zM455.4 133.2h0.7v0.7h-0.7zM436.6 159.8h0.7v0.7h-0.7zM462.6 135.4h0.7v0.7h-0.7zM449.8 133.9h0.7v0.7h-0.7zM458.0 158.8h0.7v0.7h-0.7zM459.1 144.7h0.7v0.7h-0.7zM448.0 130.9h0.7v0.7h-0.7zM452.1 149.4h0.7v0.7h-0.7zM458.5 146.7h0.7v0.7h-0.7zM449.9 142.7h0.7v0.7h-0.7zM451.0 135.7h0.7v0.7h-0.7z" fill="#9a9a9a" fill-opacity="0.6"/>
<path d="M437.0,150.5 L437.8,150.5 L438.7,150.5 L439.9,150.5 L441.2,150.4 L442.6,150.4 L444.0,150.4 L445.5,150.4 L447.1,150.4 L448.6,150.3 L450.0,150.3 L451.4,150.3 L452.9,150.2 L454.4,150.2 L456.0,150.1 L457.5,150.1 L459.0,150.0 L460.6,149.9 L462.1,149.9 L463.6,149.8 L465.0,149.8 L466.4,149.8 L467.8,149.7 L469.2,149.6 L470.6,149.6 L471.9,149.5 L473.3,149.4 L474.5,149.4 L475.8,149.4 L476.9,149.4 L478.0,149.5 L479.0,149.6 L480.0,149.7 L480.9,149.9 L481.7,150.0 L482.5,150.2 L483.3,150.4 L484.0,150.7 L484.7,150.9 L485.3,151.2 L486.0,151.5 L486.6,151.8 L487.2,152.1 L487.8,152.5 L488.3,152.9 L488.8,153.3 L489.3,153.7 L489.7,154.1 L490.2,154.6 L490.6,155.0 L491.0,155.5 L491.4,156.0 L491.8,156.5 L492.1,157.0 L492.5,157.6 L492.8,158.1 L493.1,158.7 L493.4,159.3 L493.6,159.8 L493.8,160.4 L494.0,161.0 L494.1,161.6 L494.2,162.3 L494.2,163.0 L494.2,163.7 L494.2,164.3 L494.1,165.0 L494.1,165.6 L494.0,166.2 L494.0,166.6 L494.0,167.0" fill="none" stroke="#8ad2cc" stroke-opacity="0.8" stroke-width="10.0" stroke-linecap="round" stroke-linejoin="round" filter="url(#b1)"/>
<path d="M437.0,150.5 L437.8,150.5 L438.7,150.5 L439.9,150.5 L441.2,150.4 L442.6,150.4 L444.0,150.4 L445.5,150.4 L447.1,150.4 L448.6,150.3 L450.0,150.3 L451.4,150.3 L452.9,150.2 L454.4,150.2 L456.0,150.1 L457.5,150.1 L459.0,150.0 L460.6,149.9 L462.1,149.9 L463.6,149.8 L465.0,149.8 L466.4,149.8 L467.8,149.7 L469.2,149.6 L470.6,149.6 L471.9,149.5 L473.3,149.4 L474.5,149.4 L475.8,149.4 L476.9,149.4 L478.0,149.5 L479.0,149.6 L480.0,149.7 L480.9,149.9 L481.7,150.0 L482.5,150.2 L483.3,150.4 L484.0,150.7 L484.7,150.9 L485.3,151.2 L486.0,151.5 L486.6,151.8 L487.2,152.1 L487.8,152.5 L488.3,152.9 L488.8,153.3 L489.3,153.7 L489.7,154.1 L490.2,154.6 L490.6,155.0 L491.0,155.5 L491.4,156.0 L491.8,156.5 L492.1,157.0 L492.5,157.6 L492.8,158.1 L493.1,158.7 L493.4,159.3 L493.6,159.8 L493.8,160.4 L494.0,161.0 L494.1,161.6 L494.2,162.3 L494.2,163.0 L494.2,163.7 L494.2,164.3 L494.1,165.0 L494.1,165.6 L494.0,166.2 L494.0,166.6 L494.0,167.0" fill="none" stroke="#4ab894" stroke-width="7.0" stroke-linecap="round" stroke-linejoin="round" filter="url(#b05)"/>
<path d="M482.50,167.00 L483.15,165.88 L484.00,164.85 L485.03,163.94 L486.22,163.15 L487.55,162.50 L489.00,162.00 L490.72,161.63 L492.76,161.37 L494.94,161.25 L497.07,161.30 L498.99,161.54 L500.50,162.00 L501.60,162.68 L502.44,163.56 L503.06,164.62 L503.50,165.89 L503.80,167.35 L504.00,169.00 L504.09,170.92 L504.02,173.13 L503.81,175.53 L503.48,178.04 L503.04,180.56 L502.50,183.00 L501.82,185.55 L500.98,188.31 L500.03,191.09 L499.02,193.69 L497.99,195.89 L497.00,197.50 L496.03,198.54 L495.04,199.17 L494.03,199.41 L493.02,199.28 L492.01,198.80 L491.00,198.00 L489.96,196.70 L488.87,194.85 L487.78,192.66 L486.74,190.31 L485.80,188.03 L485.00,186.00 L484.35,184.21 L483.81,182.48 L483.38,180.81 L483.02,179.19 L482.73,177.59 L482.50,176.00 L482.28,174.40 L482.07,172.78 L481.94,171.19 L481.93,169.67 L482.09,168.26Z" fill="#8ccfd6" fill-opacity="0.75" filter="url(#b15)"/>
<path d="M484.50,168.00 L485.05,167.17 L485.78,166.44 L486.66,165.81 L487.67,165.28 L488.79,164.84 L490.00,164.50 L491.43,164.23 L493.13,164.04 L494.94,163.94 L496.70,163.96 L498.28,164.14 L499.50,164.50 L500.37,165.02 L501.00,165.69 L501.44,166.50 L501.72,167.48 L501.90,168.64 L502.00,170.00 L502.02,171.62 L501.93,173.52 L501.72,175.59 L501.41,177.76 L501.00,179.92 L500.50,182.00 L499.85,184.13 L499.02,186.41 L498.09,188.69 L497.15,190.81 L496.26,192.64 L495.50,194.00 L494.91,194.93 L494.44,195.56 L494.03,195.88 L493.61,195.89 L493.12,195.60 L492.50,195.00 L491.69,193.97 L490.74,192.48 L489.72,190.69 L488.70,188.74 L487.77,186.79 L487.00,185.00 L486.38,183.30 L485.85,181.56 L485.41,179.81 L485.04,178.11 L484.74,176.49 L484.50,175.00 L484.29,173.62 L484.11,172.31 L484.00,171.09 L484.00,169.96 L484.15,168.93Z" fill="#3cc04c" fill-opacity="1" filter="url(#b05)"/>
<path d="M488.50,168.50 L489.00,167.88 L489.63,167.41 L490.38,167.06 L491.20,166.81 L492.09,166.64 L493.00,166.50 L494.04,166.35 L495.26,166.20 L496.53,166.12 L497.74,166.19 L498.77,166.45 L499.50,167.00 L499.91,167.90 L500.09,169.11 L500.09,170.53 L499.96,172.06 L499.75,173.58 L499.50,175.00 L499.17,176.39 L498.72,177.85 L498.19,179.31 L497.61,180.70 L497.03,181.96 L496.50,183.00 L496.01,183.88 L495.52,184.67 L495.03,185.31 L494.54,185.78 L494.03,186.02 L493.50,186.00 L492.93,185.64 L492.31,184.96 L491.69,184.06 L491.07,183.04 L490.50,181.98 L490.00,181.00 L489.55,180.06 L489.13,179.09 L488.75,178.09 L488.43,177.07 L488.17,176.04 L488.00,175.00 L487.89,173.89 L487.83,172.70 L487.84,171.50 L487.94,170.35 L488.16,169.33Z" fill="#ff0a0a" fill-opacity="1" filter="url(#b03)"/>
</g>
<polyline points="420.6,128.4 483.0,128.4 480.9,160.2 420.6,160.6" fill="none" stroke="#444" stroke-width="0.9"/>
<polyline points="483.0,128.4 499.9,128.8 506.9,156.3 481.9,168.0 480.9,160.2" fill="none" stroke="#444" stroke-width="0.9"/>
<polyline points="481.9,168.0 481.9,204.0" fill="none" stroke="#444" stroke-width="0.9"/>
<polyline points="506.9,156.3 507.3,204.0" fill="none" stroke="#444" stroke-width="0.9"/>
<rect x="420.6" y="109.4" width="94.10000000000002" height="94.6" fill="none" stroke="#777" stroke-width="0.8"/>
<line x1="419.1" y1="109.4" x2="420.6" y2="109.4" stroke="#777" stroke-width="0.6"/>
<text x="418.40000000000003" y="110.60000000000001" font-size="4.0" text-anchor="end" fill="#444">10<tspan font-size="2.6" dy="-1.2">4</tspan></text>
<line x1="419.1" y1="128.5" x2="420.6" y2="128.5" stroke="#777" stroke-width="0.6"/>
<text x="418.40000000000003" y="129.7" font-size="4.0" text-anchor="end" fill="#444">10<tspan font-size="2.6" dy="-1.2">3</tspan></text>
<line x1="419.1" y1="151" x2="420.6" y2="151" stroke="#777" stroke-width="0.6"/>
<text x="418.40000000000003" y="152.2" font-size="4.0" text-anchor="end" fill="#444">10<tspan font-size="2.6" dy="-1.2">2</tspan></text>
<line x1="419.1" y1="173" x2="420.6" y2="173" stroke="#777" stroke-width="0.6"/>
<text x="418.40000000000003" y="174.2" font-size="4.0" text-anchor="end" fill="#444">10<tspan font-size="2.6" dy="-1.2">1</tspan></text>
<line x1="419.1" y1="194" x2="420.6" y2="194" stroke="#777" stroke-width="0.6"/>
<text x="418.40000000000003" y="195.2" font-size="4.0" text-anchor="end" fill="#444">0</text>
<line x1="421" y1="204" x2="421" y2="205.5" stroke="#777" stroke-width="0.6"/>
<text x="421" y="209.6" font-size="4.0" text-anchor="middle" fill="#444">-2</text>
<line x1="437" y1="204" x2="437" y2="205.5" stroke="#777" stroke-width="0.6"/>
<text x="437" y="209.6" font-size="4.0" text-anchor="middle" fill="#444">0</text>
<line x1="453" y1="204" x2="453" y2="205.5" stroke="#777" stroke-width="0.6"/>
<text x="453" y="209.6" font-size="4.0" text-anchor="middle" fill="#444">2</text>
<line x1="472" y1="204" x2="472" y2="205.5" stroke="#777" stroke-width="0.6"/>
<text x="472" y="209.6" font-size="4.0" text-anchor="middle" fill="#444">10<tspan font-size="2.6" dy="-1.2">2</tspan></text>
<line x1="493" y1="204" x2="493" y2="205.5" stroke="#777" stroke-width="0.6"/>
<text x="493" y="209.6" font-size="4.0" text-anchor="middle" fill="#444">10<tspan font-size="2.6" dy="-1.2">3</tspan></text>
<line x1="514" y1="204" x2="514" y2="205.5" stroke="#777" stroke-width="0.6"/>
<text x="514" y="209.6" font-size="4.0" text-anchor="middle" fill="#444">10<tspan font-size="2.6" dy="-1.2">4</tspan></text>
<text x="428.4" y="120.6" font-size="11" font-weight="bold" fill="#111" textLength="13.9" lengthAdjust="spacingAndGlyphs">7.2</text>
<text x="494.4" y="120.6" font-size="11" font-weight="bold" fill="#111" textLength="13.9" lengthAdjust="spacingAndGlyphs">3.8</text>
<text x="424.6" y="195.7" font-size="11" font-weight="bold" fill="#111" textLength="40.6" lengthAdjust="spacingAndGlyphs">Reactive</text>
<text x="497.6" y="199.2" font-size="11" font-weight="bold" fill="#111" textLength="18.8" lengthAdjust="spacingAndGlyphs">88.8</text>
<clipPath id="cl5"><rect x="309.4" y="214.8" width="94.60000000000002" height="96.19999999999999"/></clipPath>
<g clip-path="url(#cl5)">
<path d="M313.0,252.5 L313.7,252.5 L314.6,252.6 L315.6,252.6 L316.8,252.6 L318.1,252.7 L319.4,252.7 L320.8,252.8 L322.2,252.9 L323.6,252.9 L325.0,253.0 L326.4,253.1 L327.8,253.2 L329.3,253.3 L330.8,253.3 L332.3,253.5 L333.9,253.6 L335.4,253.7 L337.0,253.8 L338.5,253.9 L340.0,254.0 L341.5,254.1 L343.1,254.2 L344.7,254.4 L346.2,254.5 L347.8,254.6 L349.4,254.7 L350.9,254.9 L352.3,255.0 L353.7,255.2 L355.0,255.3 L356.2,255.4 L357.4,255.6 L358.5,255.7 L359.5,255.8 L360.5,256.0 L361.5,256.1 L362.4,256.3 L363.3,256.5 L364.1,256.7 L365.0,257.0 L365.8,257.3 L366.6,257.6 L367.4,258.0 L368.1,258.4 L368.8,258.8 L369.5,259.2 L370.1,259.7 L370.8,260.1 L371.4,260.5 L372.0,261.0 L372.6,261.5 L373.2,261.9 L373.7,262.4 L374.3,262.9 L374.8,263.4 L375.3,264.0 L375.8,264.5 L376.2,265.0 L376.6,265.5 L377.0,266.0 L377.3,266.5 L377.6,267.1 L377.9,267.7 L378.1,268.2 L378.3,268.8 L378.5,269.4 L378.6,269.9 L378.8,270.3 L378.9,270.7 L379.0,271.0" fill="none" stroke="#b29ae0" stroke-opacity="0.45" stroke-width="13.6" stroke-linecap="round" stroke-linejoin="round" filter="url(#b2)"/>
<rect x="346" y="270" width="22" height="22" fill="#c9b3e0" fill-opacity="0.15" filter="url(#b2)"/>
<path d="M336.9 247.8h0.8v0.8h-0.8zM369.8 259.8h0.8v0.8h-0.8zM369.2 260.1h0.8v0.8h-0.8zM358.9 276.2h0.8v0.8h-0.8zM369.4 257.6h0.8v0.8h-0.8zM359.7 258.2h0.8v0.8h-0.8zM378.4 267.5h0.8v0.8h-0.8zM363.6 262.6h0.8v0.8h-0.8zM375.5 270.1h0.8v0.8h-0.8zM382.5 268.6h0.8v0.8h-0.8zM379.6 270.6h0.8v0.8h-0.8zM326.1 252.2h0.8v0.8h-0.8zM354.4 251.8h0.8v0.8h-0.8zM348.4 258.1h0.8v0.8h-0.8zM367.0 258.4h0.8v0.8h-0.8zM378.4 266.5h0.8v0.8h-0.8zM362.9 254.5h0.8v0.8h-0.8zM375.4 264.8h0.8v0.8h-0.8zM370.2 259.9h0.8v0.8h-0.8zM363.4 262.5h0.8v0.8h-0.8zM318.3 259.0h0.8v0.8h-0.8zM318.9 250.7h0.8v0.8h-0.8zM327.2 254.2h0.8v0.8h-0.8zM319.2 259.9h0.8v0.8h-0.8zM365.6 258.8h0.8v0.8h-0.8zM315.6 256.3h0.8v0.8h-0.8zM314.0 253.0h0.8v0.8h-0.8zM314.7 255.1h0.8v0.8h-0.8zM369.9 255.5h0.8v0.8h-0.8zM360.8 280.6h0.8v0.8h-0.8zM349.4 262.1h0.8v0.8h-0.8zM370.4 255.7h0.8v0.8h-0.8zM382.6 269.8h0.8v0.8h-0.8zM367.3 262.2h0.8v0.8h-0.8zM377.5 256.0h0.8v0.8h-0.8zM361.8 259.3h0.8v0.8h-0.8zM355.4 253.0h0.8v0.8h-0.8zM365.1 259.1h0.8v0.8h-0.8zM371.6 260.0h0.8v0.8h-0.8zM360.2 276.8h0.8v0.8h-0.8zM345.2 251.5h0.8v0.8h-0.8zM353.6 252.2h0.8v0.8h-0.8zM384.3 272.5h0.8v0.8h-0.8zM318.8 253.1h0.8v0.8h-0.8zM359.1 254.0h0.8v0.8h-0.8zM378.2 266.3h0.8v0.8h-0.8zM328.9 253.2h0.8v0.8h-0.8zM345.1 251.8h0.8v0.8h-0.8zM359.2 257.1h0.8v0.8h-0.8zM368.9 262.8h0.8v0.8h-0.8zM312.4 256.3h0.8v0.8h-0.8zM377.0 265.8h0.8v0.8h-0.8zM345.3 258.1h0.8v0.8h-0.8zM380.4 268.7h0.8v0.8h-0.8zM369.5 255.0h0.8v0.8h-0.8zM315.0 253.2h0.8v0.8h-0.8zM342.1 250.1h0.8v0.8h-0.8zM378.9 265.4h0.8v0.8h-0.8zM367.8 258.3h0.8v0.8h-0.8zM359.1 255.6h0.8v0.8h-0.8zM371.9 267.0h0.8v0.8h-0.8zM376.2 268.0h0.8v0.8h-0.8zM369.8 262.7h0.8v0.8h-0.8zM377.5 263.6h0.8v0.8h-0.8zM312.7 255.5h0.8v0.8h-0.8zM348.9 290.4h0.8v0.8h-0.8zM382.4 265.6h0.8v0.8h-0.8zM362.4 255.7h0.8v0.8h-0.8zM368.7 257.3h0.8v0.8h-0.8zM385.4 268.8h0.8v0.8h-0.8zM382.5 266.1h0.8v0.8h-0.8zM373.5 255.1h0.8v0.8h-0.8zM317.5 259.7h0.8v0.8h-0.8zM357.9 257.3h0.8v0.8h-0.8zM320.4 253.3h0.8v0.8h-0.8zM374.0 262.4h0.8v0.8h-0.8zM375.0 265.3h0.8v0.8h-0.8zM377.3 264.9h0.8v0.8h-0.8zM332.2 255.6h0.8v0.8h-0.8zM369.8 257.5h0.8v0.8h-0.8zM385.0 261.3h0.8v0.8h-0.8zM355.1 257.1h0.8v0.8h-0.8zM375.9 263.4h0.8v0.8h-0.8zM340.7 252.3h0.8v0.8h-0.8zM318.0 253.1h0.8v0.8h-0.8zM316.9 248.7h0.8v0.8h-0.8zM337.1 253.2h0.8v0.8h-0.8zM322.2 248.2h0.8v0.8h-0.8zM344.5 258.9h0.8v0.8h-0.8zM348.6 243.8h0.8v0.8h-0.8zM326.8 256.4h0.8v0.8h-0.8zM335.3 253.3h0.8v0.8h-0.8zM355.9 255.8h0.8v0.8h-0.8zM363.5 283.7h0.8v0.8h-0.8zM355.4 254.5h0.8v0.8h-0.8zM334.3 258.1h0.8v0.8h-0.8zM370.2 258.7h0.8v0.8h-0.8zM378.7 263.0h0.8v0.8h-0.8zM379.6 266.9h0.8v0.8h-0.8zM316.5 259.4h0.8v0.8h-0.8zM318.8 253.2h0.8v0.8h-0.8zM364.5 259.3h0.8v0.8h-0.8zM356.9 252.4h0.8v0.8h-0.8zM358.0 252.9h0.8v0.8h-0.8zM329.9 245.8h0.8v0.8h-0.8zM326.0 251.9h0.8v0.8h-0.8zM356.2 254.3h0.8v0.8h-0.8zM368.5 261.7h0.8v0.8h-0.8zM317.0 252.1h0.8v0.8h-0.8zM380.1 267.5h0.8v0.8h-0.8zM366.9 262.2h0.8v0.8h-0.8zM323.3 249.5h0.8v0.8h-0.8zM343.2 251.9h0.8v0.8h-0.8zM318.3 245.2h0.8v0.8h-0.8zM380.3 263.5h0.8v0.8h-0.8zM344.2 258.8h0.8v0.8h-0.8zM315.0 254.2h0.8v0.8h-0.8zM377.7 258.8h0.8v0.8h-0.8zM345.6 252.1h0.8v0.8h-0.8zM334.1 248.4h0.8v0.8h-0.8zM328.2 251.4h0.8v0.8h-0.8zM359.5 261.8h0.8v0.8h-0.8zM333.3 251.6h0.8v0.8h-0.8zM375.1 263.9h0.8v0.8h-0.8zM311.3 250.4h0.8v0.8h-0.8zM338.4 255.4h0.8v0.8h-0.8zM375.8 265.4h0.8v0.8h-0.8zM313.4 257.0h0.8v0.8h-0.8zM330.5 252.8h0.8v0.8h-0.8zM331.0 252.4h0.8v0.8h-0.8zM375.8 258.3h0.8v0.8h-0.8zM364.8 255.7h0.8v0.8h-0.8zM361.0 254.4h0.8v0.8h-0.8zM379.7 273.3h0.8v0.8h-0.8zM372.0 260.0h0.8v0.8h-0.8zM365.0 256.7h0.8v0.8h-0.8zM369.0 260.4h0.8v0.8h-0.8zM368.2 259.4h0.8v0.8h-0.8zM374.0 263.5h0.8v0.8h-0.8zM375.0 260.7h0.8v0.8h-0.8zM358.9 249.7h0.8v0.8h-0.8zM340.4 249.3h0.8v0.8h-0.8zM357.7 251.9h0.8v0.8h-0.8zM358.1 255.8h0.8v0.8h-0.8zM344.6 254.6h0.8v0.8h-0.8zM325.5 257.7h0.8v0.8h-0.8zM335.8 251.7h0.8v0.8h-0.8zM322.4 253.2h0.8v0.8h-0.8zM372.2 260.0h0.8v0.8h-0.8zM354.5 245.8h0.8v0.8h-0.8zM376.2 266.7h0.8v0.8h-0.8zM349.5 256.1h0.8v0.8h-0.8zM378.8 269.2h0.8v0.8h-0.8zM374.6 269.8h0.8v0.8h-0.8zM344.9 251.6h0.8v0.8h-0.8zM347.5 256.7h0.8v0.8h-0.8zM328.5 256.8h0.8v0.8h-0.8zM318.1 251.1h0.8v0.8h-0.8zM380.5 271.4h0.8v0.8h-0.8zM364.6 253.9h0.8v0.8h-0.8zM381.3 270.9h0.8v0.8h-0.8zM381.8 268.7h0.8v0.8h-0.8zM349.9 257.6h0.8v0.8h-0.8zM385.5 272.6h0.8v0.8h-0.8zM380.7 261.4h0.8v0.8h-0.8zM378.1 268.2h0.8v0.8h-0.8zM356.8 255.2h0.8v0.8h-0.8zM373.2 261.8h0.8v0.8h-0.8zM381.6 268.8h0.8v0.8h-0.8zM371.6 255.8h0.8v0.8h-0.8zM373.4 263.5h0.8v0.8h-0.8zM347.2 261.2h0.8v0.8h-0.8zM358.2 259.6h0.8v0.8h-0.8zM375.9 265.0h0.8v0.8h-0.8zM331.8 249.0h0.8v0.8h-0.8zM360.5 249.3h0.8v0.8h-0.8zM373.3 261.4h0.8v0.8h-0.8zM374.5 260.9h0.8v0.8h-0.8zM375.4 256.2h0.8v0.8h-0.8zM342.3 255.3h0.8v0.8h-0.8zM370.0 258.9h0.8v0.8h-0.8zM342.1 250.7h0.8v0.8h-0.8zM327.8 257.5h0.8v0.8h-0.8zM351.8 254.6h0.8v0.8h-0.8zM374.4 267.2h0.8v0.8h-0.8zM346.7 255.6h0.8v0.8h-0.8zM345.9 256.2h0.8v0.8h-0.8zM374.3 271.9h0.8v0.8h-0.8zM367.8 254.5h0.8v0.8h-0.8zM375.7 261.6h0.8v0.8h-0.8zM313.4 259.3h0.8v0.8h-0.8zM367.6 257.0h0.8v0.8h-0.8zM319.3 248.4h0.8v0.8h-0.8zM339.0 252.2h0.8v0.8h-0.8zM367.9 255.1h0.8v0.8h-0.8zM384.1 269.8h0.8v0.8h-0.8zM371.4 255.3h0.8v0.8h-0.8zM320.6 258.9h0.8v0.8h-0.8zM355.7 252.6h0.8v0.8h-0.8zM375.7 266.2h0.8v0.8h-0.8zM342.1 252.5h0.8v0.8h-0.8zM326.3 253.6h0.8v0.8h-0.8zM374.2 274.4h0.8v0.8h-0.8zM374.7 265.4h0.8v0.8h-0.8zM322.2 252.6h0.8v0.8h-0.8zM338.2 256.7h0.8v0.8h-0.8zM318.9 246.2h0.8v0.8h-0.8zM359.5 259.8h0.8v0.8h-0.8zM313.9 248.6h0.8v0.8h-0.8zM375.9 263.2h0.8v0.8h-0.8zM349.1 254.4h0.8v0.8h-0.8zM362.5 256.7h0.8v0.8h-0.8zM373.2 257.7h0.8v0.8h-0.8zM377.3 269.9h0.8v0.8h-0.8zM317.0 252.5h0.8v0.8h-0.8zM341.7 252.0h0.8v0.8h-0.8zM313.1 255.4h0.8v0.8h-0.8zM363.4 253.4h0.8v0.8h-0.8zM375.4 262.7h0.8v0.8h-0.8zM332.8 248.3h0.8v0.8h-0.8zM366.3 259.4h0.8v0.8h-0.8zM309.8 252.8h0.8v0.8h-0.8zM368.0 259.8h0.8v0.8h-0.8zM370.8 263.0h0.8v0.8h-0.8zM383.7 267.0h0.8v0.8h-0.8zM317.3 250.6h0.8v0.8h-0.8zM342.3 251.3h0.8v0.8h-0.8zM335.9 256.0h0.8v0.8h-0.8zM382.0 275.7h0.8v0.8h-0.8zM337.3 249.8h0.8v0.8h-0.8zM355.0 253.3h0.8v0.8h-0.8zM335.6 254.0h0.8v0.8h-0.8zM365.7 282.3h0.8v0.8h-0.8zM374.3 269.7h0.8v0.8h-0.8zM332.2 252.2h0.8v0.8h-0.8zM365.9 260.6h0.8v0.8h-0.8zM350.2 254.6h0.8v0.8h-0.8zM365.3 271.4h0.8v0.8h-0.8zM329.9 255.0h0.8v0.8h-0.8zM375.3 272.8h0.8v0.8h-0.8zM354.9 283.9h0.8v0.8h-0.8zM313.1 250.9h0.8v0.8h-0.8zM358.2 249.3h0.8v0.8h-0.8zM377.7 262.4h0.8v0.8h-0.8zM357.7 257.5h0.8v0.8h-0.8zM363.7 255.7h0.8v0.8h-0.8zM313.2 249.9h0.8v0.8h-0.8zM323.1 250.0h0.8v0.8h-0.8zM353.2 253.5h0.8v0.8h-0.8zM355.5 259.1h0.8v0.8h-0.8zM314.5 250.4h0.8v0.8h-0.8zM317.0 252.7h0.8v0.8h-0.8zM378.7 271.9h0.8v0.8h-0.8zM375.9 254.0h0.8v0.8h-0.8zM330.8 249.3h0.8v0.8h-0.8zM343.2 256.8h0.8v0.8h-0.8zM364.4 292.0h0.8v0.8h-0.8zM327.4 247.8h0.8v0.8h-0.8zM367.8 255.6h0.8v0.8h-0.8zM321.2 257.8h0.8v0.8h-0.8zM358.6 258.0h0.8v0.8h-0.8zM342.7 256.1h0.8v0.8h-0.8zM378.7 276.6h0.8v0.8h-0.8zM334.8 256.7h0.8v0.8h-0.8zM376.2 262.5h0.8v0.8h-0.8zM339.5 256.5h0.8v0.8h-0.8zM319.3 247.5h0.8v0.8h-0.8zM370.2 269.3h0.8v0.8h-0.8zM367.4 254.6h0.8v0.8h-0.8zM366.0 260.8h0.8v0.8h-0.8zM376.8 270.1h0.8v0.8h-0.8zM366.4 258.9h0.8v0.8h-0.8zM359.4 280.5h0.8v0.8h-0.8zM354.4 254.4h0.8v0.8h-0.8zM352.5 258.4h0.8v0.8h-0.8zM368.1 257.8h0.8v0.8h-0.8zM377.5 269.3h0.8v0.8h-0.8zM378.5 268.2h0.8v0.8h-0.8zM377.6 269.3h0.8v0.8h-0.8zM330.3 253.8h0.8v0.8h-0.8zM319.2 253.7h0.8v0.8h-0.8zM354.7 256.4h0.8v0.8h-0.8zM378.0 267.8h0.8v0.8h-0.8zM371.7 268.4h0.8v0.8h-0.8zM321.0 253.2h0.8v0.8h-0.8zM337.2 259.3h0.8v0.8h-0.8zM367.0 261.6h0.8v0.8h-0.8zM373.0 265.3h0.8v0.8h-0.8zM378.6 260.0h0.8v0.8h-0.8zM343.5 259.2h0.8v0.8h-0.8zM380.2 269.7h0.8v0.8h-0.8zM317.6 259.9h0.8v0.8h-0.8zM327.7 256.5h0.8v0.8h-0.8zM319.0 251.6h0.8v0.8h-0.8zM356.2 255.6h0.8v0.8h-0.8zM323.6 251.2h0.8v0.8h-0.8zM371.6 252.1h0.8v0.8h-0.8zM351.8 260.5h0.8v0.8h-0.8zM368.7 257.9h0.8v0.8h-0.8zM366.3 261.4h0.8v0.8h-0.8zM379.2 268.4h0.8v0.8h-0.8zM313.0 254.2h0.8v0.8h-0.8zM365.3 251.8h0.8v0.8h-0.8zM367.9 262.7h0.8v0.8h-0.8zM369.0 255.5h0.8v0.8h-0.8zM354.0 284.1h0.8v0.8h-0.8zM370.7 265.0h0.8v0.8h-0.8zM383.7 271.4h0.8v0.8h-0.8zM376.8 265.2h0.8v0.8h-0.8zM313.2 256.6h0.8v0.8h-0.8zM319.0 248.6h0.8v0.8h-0.8zM360.7 260.9h0.8v0.8h-0.8zM346.4 256.8h0.8v0.8h-0.8zM315.9 250.7h0.8v0.8h-0.8zM343.4 257.3h0.8v0.8h-0.8zM355.7 253.2h0.8v0.8h-0.8zM359.9 286.4h0.8v0.8h-0.8zM342.8 252.3h0.8v0.8h-0.8zM369.3 257.1h0.8v0.8h-0.8zM363.3 283.0h0.8v0.8h-0.8zM368.9 258.5h0.8v0.8h-0.8zM378.0 267.5h0.8v0.8h-0.8zM378.8 263.2h0.8v0.8h-0.8zM341.4 251.4h0.8v0.8h-0.8zM336.9 261.9h0.8v0.8h-0.8zM336.3 254.8h0.8v0.8h-0.8zM346.0 260.5h0.8v0.8h-0.8zM372.0 263.2h0.8v0.8h-0.8zM320.8 251.2h0.8v0.8h-0.8zM353.6 252.1h0.8v0.8h-0.8zM361.7 259.4h0.8v0.8h-0.8zM372.5 262.9h0.8v0.8h-0.8zM316.6 252.4h0.8v0.8h-0.8zM336.4 252.7h0.8v0.8h-0.8zM361.2 258.9h0.8v0.8h-0.8zM348.1 251.5h0.8v0.8h-0.8zM343.3 253.8h0.8v0.8h-0.8zM357.0 284.9h0.8v0.8h-0.8z" fill="#a06cc8" fill-opacity="0.75"/>
<path d="M338.8 247.0h0.8v0.8h-0.8zM387.1 267.8h0.8v0.8h-0.8zM364.0 253.5h0.8v0.8h-0.8zM355.7 252.2h0.8v0.8h-0.8zM359.8 256.7h0.8v0.8h-0.8zM358.4 256.6h0.8v0.8h-0.8zM316.1 251.6h0.8v0.8h-0.8zM369.5 274.2h0.8v0.8h-0.8zM363.6 257.3h0.8v0.8h-0.8zM385.9 261.0h0.8v0.8h-0.8zM372.0 255.7h0.8v0.8h-0.8zM353.3 251.7h0.8v0.8h-0.8zM368.2 257.5h0.8v0.8h-0.8zM318.5 250.8h0.8v0.8h-0.8zM362.6 253.1h0.8v0.8h-0.8zM335.4 254.7h0.8v0.8h-0.8zM367.1 270.4h0.8v0.8h-0.8zM371.0 262.5h0.8v0.8h-0.8zM355.6 270.7h0.8v0.8h-0.8zM375.8 264.9h0.8v0.8h-0.8zM368.2 261.1h0.8v0.8h-0.8zM366.0 256.6h0.8v0.8h-0.8zM332.2 253.1h0.8v0.8h-0.8zM364.6 254.3h0.8v0.8h-0.8zM347.7 275.0h0.8v0.8h-0.8zM330.5 248.9h0.8v0.8h-0.8zM333.8 252.1h0.8v0.8h-0.8zM361.5 250.6h0.8v0.8h-0.8zM349.8 250.1h0.8v0.8h-0.8zM335.6 248.6h0.8v0.8h-0.8zM318.2 249.6h0.8v0.8h-0.8zM353.7 253.8h0.8v0.8h-0.8zM376.4 264.5h0.8v0.8h-0.8zM375.6 259.5h0.8v0.8h-0.8zM379.4 263.3h0.8v0.8h-0.8zM377.7 261.7h0.8v0.8h-0.8zM346.0 252.0h0.8v0.8h-0.8zM378.1 260.6h0.8v0.8h-0.8zM346.3 291.3h0.8v0.8h-0.8zM340.5 252.8h0.8v0.8h-0.8zM364.3 255.2h0.8v0.8h-0.8zM321.5 251.7h0.8v0.8h-0.8zM349.2 253.8h0.8v0.8h-0.8zM377.0 272.1h0.8v0.8h-0.8zM315.9 251.5h0.8v0.8h-0.8zM381.1 272.2h0.8v0.8h-0.8zM362.7 255.5h0.8v0.8h-0.8zM326.5 253.7h0.8v0.8h-0.8zM345.2 253.0h0.8v0.8h-0.8zM354.8 253.9h0.8v0.8h-0.8zM343.2 259.4h0.8v0.8h-0.8zM372.0 268.0h0.8v0.8h-0.8zM373.6 268.6h0.8v0.8h-0.8zM374.6 263.7h0.8v0.8h-0.8zM310.4 252.5h0.8v0.8h-0.8zM359.5 256.7h0.8v0.8h-0.8zM361.7 254.5h0.8v0.8h-0.8zM320.5 254.1h0.8v0.8h-0.8zM360.1 252.9h0.8v0.8h-0.8zM346.0 251.0h0.8v0.8h-0.8zM356.8 256.2h0.8v0.8h-0.8zM366.5 261.9h0.8v0.8h-0.8zM374.4 260.7h0.8v0.8h-0.8zM353.5 253.9h0.8v0.8h-0.8zM352.1 255.4h0.8v0.8h-0.8zM318.0 252.3h0.8v0.8h-0.8zM363.4 276.0h0.8v0.8h-0.8zM338.0 257.4h0.8v0.8h-0.8zM335.4 247.3h0.8v0.8h-0.8zM368.6 256.6h0.8v0.8h-0.8zM372.2 265.0h0.8v0.8h-0.8zM323.7 242.4h0.8v0.8h-0.8zM383.9 265.7h0.8v0.8h-0.8zM313.2 262.6h0.8v0.8h-0.8zM384.3 273.8h0.8v0.8h-0.8zM327.8 249.5h0.8v0.8h-0.8zM366.1 253.3h0.8v0.8h-0.8zM325.0 254.7h0.8v0.8h-0.8zM370.3 263.1h0.8v0.8h-0.8zM336.1 251.2h0.8v0.8h-0.8zM358.9 250.9h0.8v0.8h-0.8zM364.6 250.0h0.8v0.8h-0.8zM366.2 257.1h0.8v0.8h-0.8zM372.4 263.9h0.8v0.8h-0.8zM380.5 269.0h0.8v0.8h-0.8zM332.4 253.2h0.8v0.8h-0.8zM379.0 269.4h0.8v0.8h-0.8zM332.3 258.9h0.8v0.8h-0.8zM334.9 253.6h0.8v0.8h-0.8zM350.7 256.3h0.8v0.8h-0.8zM356.5 250.6h0.8v0.8h-0.8zM327.5 250.3h0.8v0.8h-0.8zM340.8 256.4h0.8v0.8h-0.8zM381.0 263.9h0.8v0.8h-0.8zM366.9 260.6h0.8v0.8h-0.8zM386.9 263.3h0.8v0.8h-0.8zM359.8 261.1h0.8v0.8h-0.8zM364.0 257.4h0.8v0.8h-0.8zM377.4 260.6h0.8v0.8h-0.8zM375.4 268.7h0.8v0.8h-0.8zM343.9 254.4h0.8v0.8h-0.8zM331.5 253.0h0.8v0.8h-0.8zM374.7 263.5h0.8v0.8h-0.8zM363.3 284.0h0.8v0.8h-0.8zM375.0 263.4h0.8v0.8h-0.8zM334.6 255.8h0.8v0.8h-0.8zM377.1 259.4h0.8v0.8h-0.8zM317.2 249.5h0.8v0.8h-0.8zM377.8 265.3h0.8v0.8h-0.8zM367.4 266.9h0.8v0.8h-0.8zM326.0 255.1h0.8v0.8h-0.8zM325.9 257.8h0.8v0.8h-0.8zM374.8 259.3h0.8v0.8h-0.8zM342.2 253.5h0.8v0.8h-0.8zM357.6 253.5h0.8v0.8h-0.8zM378.6 272.2h0.8v0.8h-0.8zM370.3 264.8h0.8v0.8h-0.8zM379.2 270.2h0.8v0.8h-0.8zM369.3 259.7h0.8v0.8h-0.8zM346.2 254.7h0.8v0.8h-0.8zM345.5 255.9h0.8v0.8h-0.8zM363.9 257.8h0.8v0.8h-0.8zM351.6 252.1h0.8v0.8h-0.8zM378.3 267.8h0.8v0.8h-0.8zM370.9 257.4h0.8v0.8h-0.8zM319.4 252.2h0.8v0.8h-0.8zM371.8 263.9h0.8v0.8h-0.8zM322.4 251.4h0.8v0.8h-0.8zM379.1 270.6h0.8v0.8h-0.8zM349.2 254.8h0.8v0.8h-0.8zM356.6 254.5h0.8v0.8h-0.8zM327.8 258.1h0.8v0.8h-0.8zM357.9 291.9h0.8v0.8h-0.8zM355.4 259.3h0.8v0.8h-0.8zM337.5 255.4h0.8v0.8h-0.8zM367.6 258.7h0.8v0.8h-0.8zM382.6 270.0h0.8v0.8h-0.8zM353.3 256.3h0.8v0.8h-0.8zM338.6 249.3h0.8v0.8h-0.8zM364.5 259.0h0.8v0.8h-0.8zM359.1 256.3h0.8v0.8h-0.8zM324.5 250.5h0.8v0.8h-0.8zM344.6 254.8h0.8v0.8h-0.8zM380.6 265.5h0.8v0.8h-0.8zM373.9 257.1h0.8v0.8h-0.8zM380.1 269.5h0.8v0.8h-0.8zM310.1 248.2h0.8v0.8h-0.8zM318.0 249.0h0.8v0.8h-0.8zM381.6 265.6h0.8v0.8h-0.8zM378.4 263.5h0.8v0.8h-0.8zM353.2 253.0h0.8v0.8h-0.8zM374.6 262.7h0.8v0.8h-0.8zM358.4 249.9h0.8v0.8h-0.8zM324.7 256.3h0.8v0.8h-0.8zM376.7 261.2h0.8v0.8h-0.8zM331.9 256.8h0.8v0.8h-0.8zM380.1 268.5h0.8v0.8h-0.8zM363.0 250.3h0.8v0.8h-0.8zM366.6 262.6h0.8v0.8h-0.8zM377.9 266.6h0.8v0.8h-0.8zM360.9 253.7h0.8v0.8h-0.8zM327.9 248.5h0.8v0.8h-0.8zM347.7 274.2h0.8v0.8h-0.8zM376.8 261.9h0.8v0.8h-0.8zM336.7 258.3h0.8v0.8h-0.8zM349.8 253.7h0.8v0.8h-0.8zM371.5 255.4h0.8v0.8h-0.8zM310.7 256.5h0.8v0.8h-0.8zM354.9 255.6h0.8v0.8h-0.8zM381.3 273.7h0.8v0.8h-0.8zM372.6 259.6h0.8v0.8h-0.8zM357.1 258.1h0.8v0.8h-0.8zM325.4 253.1h0.8v0.8h-0.8zM374.6 268.1h0.8v0.8h-0.8zM375.5 275.6h0.8v0.8h-0.8zM315.6 246.6h0.8v0.8h-0.8zM365.1 270.1h0.8v0.8h-0.8zM362.0 258.5h0.8v0.8h-0.8zM380.9 264.1h0.8v0.8h-0.8zM371.7 261.8h0.8v0.8h-0.8zM314.1 256.7h0.8v0.8h-0.8zM367.9 248.4h0.8v0.8h-0.8zM341.3 253.4h0.8v0.8h-0.8zM383.1 269.7h0.8v0.8h-0.8zM327.8 252.5h0.8v0.8h-0.8zM361.6 256.7h0.8v0.8h-0.8zM373.0 265.4h0.8v0.8h-0.8zM368.6 263.5h0.8v0.8h-0.8zM377.5 268.4h0.8v0.8h-0.8zM371.7 255.6h0.8v0.8h-0.8zM356.4 272.4h0.8v0.8h-0.8zM374.2 256.8h0.8v0.8h-0.8zM315.5 255.0h0.8v0.8h-0.8zM357.9 261.3h0.8v0.8h-0.8zM365.9 256.2h0.8v0.8h-0.8zM373.3 262.9h0.8v0.8h-0.8zM362.6 259.5h0.8v0.8h-0.8zM361.4 253.9h0.8v0.8h-0.8zM358.8 257.0h0.8v0.8h-0.8zM379.1 265.1h0.8v0.8h-0.8zM317.7 255.8h0.8v0.8h-0.8zM319.9 255.1h0.8v0.8h-0.8zM324.6 248.6h0.8v0.8h-0.8zM372.8 261.5h0.8v0.8h-0.8zM377.9 265.1h0.8v0.8h-0.8zM378.9 267.1h0.8v0.8h-0.8zM372.0 269.8h0.8v0.8h-0.8zM340.8 256.3h0.8v0.8h-0.8zM358.3 252.8h0.8v0.8h-0.8zM318.4 251.6h0.8v0.8h-0.8zM322.2 256.6h0.8v0.8h-0.8zM379.6 258.5h0.8v0.8h-0.8zM381.6 274.6h0.8v0.8h-0.8zM356.2 250.0h0.8v0.8h-0.8zM376.7 264.2h0.8v0.8h-0.8zM347.3 255.8h0.8v0.8h-0.8zM359.2 259.4h0.8v0.8h-0.8zM347.7 255.0h0.8v0.8h-0.8zM361.7 254.8h0.8v0.8h-0.8zM317.3 248.2h0.8v0.8h-0.8zM382.0 271.0h0.8v0.8h-0.8zM365.4 255.9h0.8v0.8h-0.8zM371.6 267.4h0.8v0.8h-0.8zM370.4 267.8h0.8v0.8h-0.8zM381.5 265.0h0.8v0.8h-0.8zM365.7 263.4h0.8v0.8h-0.8zM368.4 265.0h0.8v0.8h-0.8zM330.2 255.6h0.8v0.8h-0.8zM354.5 274.1h0.8v0.8h-0.8zM355.7 253.4h0.8v0.8h-0.8zM372.5 265.8h0.8v0.8h-0.8zM356.7 257.2h0.8v0.8h-0.8zM378.5 269.9h0.8v0.8h-0.8zM361.2 255.4h0.8v0.8h-0.8zM383.0 271.4h0.8v0.8h-0.8zM323.3 251.5h0.8v0.8h-0.8zM340.0 253.3h0.8v0.8h-0.8zM347.3 252.4h0.8v0.8h-0.8zM321.3 253.1h0.8v0.8h-0.8zM349.2 254.7h0.8v0.8h-0.8zM369.6 254.8h0.8v0.8h-0.8zM320.1 246.8h0.8v0.8h-0.8zM362.3 252.5h0.8v0.8h-0.8zM358.7 254.9h0.8v0.8h-0.8zM332.8 251.7h0.8v0.8h-0.8zM367.4 261.7h0.8v0.8h-0.8zM366.4 262.0h0.8v0.8h-0.8zM373.5 258.8h0.8v0.8h-0.8zM377.7 259.2h0.8v0.8h-0.8zM337.6 263.1h0.8v0.8h-0.8zM376.5 261.2h0.8v0.8h-0.8zM367.1 258.4h0.8v0.8h-0.8zM372.4 264.0h0.8v0.8h-0.8zM326.0 253.3h0.8v0.8h-0.8zM364.3 253.3h0.8v0.8h-0.8zM382.8 271.4h0.8v0.8h-0.8zM310.6 254.6h0.8v0.8h-0.8zM368.4 262.2h0.8v0.8h-0.8zM352.3 265.0h0.8v0.8h-0.8zM352.8 254.9h0.8v0.8h-0.8zM333.1 255.6h0.8v0.8h-0.8zM334.1 249.7h0.8v0.8h-0.8zM369.7 267.0h0.8v0.8h-0.8zM358.5 271.8h0.8v0.8h-0.8zM327.9 253.5h0.8v0.8h-0.8zM355.7 260.0h0.8v0.8h-0.8zM309.6 256.4h0.8v0.8h-0.8zM340.7 255.3h0.8v0.8h-0.8zM378.7 263.4h0.8v0.8h-0.8zM364.5 257.6h0.8v0.8h-0.8zM356.9 253.8h0.8v0.8h-0.8zM344.4 254.6h0.8v0.8h-0.8zM354.8 252.5h0.8v0.8h-0.8zM348.8 271.7h0.8v0.8h-0.8zM374.3 271.6h0.8v0.8h-0.8zM347.3 291.9h0.8v0.8h-0.8zM381.6 263.4h0.8v0.8h-0.8zM369.9 265.7h0.8v0.8h-0.8zM378.3 266.9h0.8v0.8h-0.8zM317.0 252.5h0.8v0.8h-0.8zM326.1 256.8h0.8v0.8h-0.8zM368.8 261.3h0.8v0.8h-0.8zM373.1 262.9h0.8v0.8h-0.8zM383.6 270.8h0.8v0.8h-0.8zM325.3 251.7h0.8v0.8h-0.8zM310.6 252.1h0.8v0.8h-0.8zM329.6 252.3h0.8v0.8h-0.8zM379.7 269.3h0.8v0.8h-0.8zM325.9 257.4h0.8v0.8h-0.8zM310.1 258.2h0.8v0.8h-0.8zM317.2 248.4h0.8v0.8h-0.8zM349.8 253.4h0.8v0.8h-0.8zM338.9 253.0h0.8v0.8h-0.8zM351.3 257.9h0.8v0.8h-0.8zM346.6 283.5h0.8v0.8h-0.8zM351.8 277.8h0.8v0.8h-0.8zM375.7 271.0h0.8v0.8h-0.8zM330.1 251.9h0.8v0.8h-0.8zM367.7 258.6h0.8v0.8h-0.8zM366.0 257.5h0.8v0.8h-0.8zM378.8 261.9h0.8v0.8h-0.8zM349.6 259.5h0.8v0.8h-0.8zM364.3 255.3h0.8v0.8h-0.8zM362.4 284.0h0.8v0.8h-0.8zM362.0 255.4h0.8v0.8h-0.8zM349.9 250.6h0.8v0.8h-0.8zM368.1 270.4h0.8v0.8h-0.8zM372.0 267.7h0.8v0.8h-0.8zM356.3 256.2h0.8v0.8h-0.8zM367.4 256.7h0.8v0.8h-0.8zM336.7 256.0h0.8v0.8h-0.8zM374.8 255.9h0.8v0.8h-0.8zM346.5 251.2h0.8v0.8h-0.8zM379.1 269.9h0.8v0.8h-0.8zM314.2 249.3h0.8v0.8h-0.8zM366.4 256.2h0.8v0.8h-0.8zM360.8 252.3h0.8v0.8h-0.8zM357.2 251.7h0.8v0.8h-0.8zM336.3 253.9h0.8v0.8h-0.8zM361.5 257.4h0.8v0.8h-0.8zM314.0 252.3h0.8v0.8h-0.8zM312.3 252.2h0.8v0.8h-0.8zM361.4 259.6h0.8v0.8h-0.8zM363.3 261.5h0.8v0.8h-0.8zM324.6 248.7h0.8v0.8h-0.8zM358.3 261.4h0.8v0.8h-0.8zM353.9 256.4h0.8v0.8h-0.8zM372.9 261.7h0.8v0.8h-0.8zM312.0 256.2h0.8v0.8h-0.8zM379.2 271.0h0.8v0.8h-0.8zM369.2 263.7h0.8v0.8h-0.8zM324.1 248.3h0.8v0.8h-0.8zM365.9 263.5h0.8v0.8h-0.8zM365.2 259.7h0.8v0.8h-0.8zM370.2 266.4h0.8v0.8h-0.8zM332.3 252.1h0.8v0.8h-0.8zM372.4 265.6h0.8v0.8h-0.8zM340.2 258.1h0.8v0.8h-0.8z" fill="#8a70cc" fill-opacity="0.75"/>
<path d="M333.5 258.3h0.8v0.8h-0.8zM364.4 257.9h0.8v0.8h-0.8zM318.9 250.7h0.8v0.8h-0.8zM354.8 255.6h0.8v0.8h-0.8zM377.4 260.8h0.8v0.8h-0.8zM374.9 271.5h0.8v0.8h-0.8zM366.2 259.1h0.8v0.8h-0.8zM316.6 255.9h0.8v0.8h-0.8zM372.1 262.3h0.8v0.8h-0.8zM377.7 269.0h0.8v0.8h-0.8zM378.3 265.2h0.8v0.8h-0.8zM372.5 269.0h0.8v0.8h-0.8zM379.3 261.0h0.8v0.8h-0.8zM353.2 272.4h0.8v0.8h-0.8zM368.8 261.9h0.8v0.8h-0.8zM367.6 257.7h0.8v0.8h-0.8zM382.8 267.4h0.8v0.8h-0.8zM355.9 256.6h0.8v0.8h-0.8zM351.5 255.9h0.8v0.8h-0.8zM330.9 254.8h0.8v0.8h-0.8zM373.5 269.0h0.8v0.8h-0.8zM362.7 254.6h0.8v0.8h-0.8zM377.3 270.4h0.8v0.8h-0.8zM364.2 256.4h0.8v0.8h-0.8zM342.5 252.1h0.8v0.8h-0.8zM369.7 249.1h0.8v0.8h-0.8zM316.1 254.3h0.8v0.8h-0.8zM377.3 278.3h0.8v0.8h-0.8zM334.7 254.7h0.8v0.8h-0.8zM369.3 262.0h0.8v0.8h-0.8zM317.3 254.1h0.8v0.8h-0.8zM336.4 254.9h0.8v0.8h-0.8zM369.3 264.7h0.8v0.8h-0.8zM369.6 260.8h0.8v0.8h-0.8zM371.3 254.8h0.8v0.8h-0.8zM319.3 251.2h0.8v0.8h-0.8zM340.5 263.4h0.8v0.8h-0.8zM371.6 263.1h0.8v0.8h-0.8zM369.8 259.5h0.8v0.8h-0.8zM362.1 273.4h0.8v0.8h-0.8zM378.0 268.8h0.8v0.8h-0.8zM368.2 259.9h0.8v0.8h-0.8zM385.7 267.3h0.8v0.8h-0.8zM332.0 252.5h0.8v0.8h-0.8zM336.2 255.3h0.8v0.8h-0.8zM315.1 252.8h0.8v0.8h-0.8zM369.6 258.9h0.8v0.8h-0.8zM365.5 262.6h0.8v0.8h-0.8zM339.2 256.9h0.8v0.8h-0.8zM377.9 263.2h0.8v0.8h-0.8zM318.0 252.2h0.8v0.8h-0.8zM364.4 254.7h0.8v0.8h-0.8zM327.2 251.7h0.8v0.8h-0.8zM361.3 273.4h0.8v0.8h-0.8zM318.0 252.6h0.8v0.8h-0.8zM331.8 255.4h0.8v0.8h-0.8zM317.2 251.1h0.8v0.8h-0.8zM374.7 264.3h0.8v0.8h-0.8zM375.0 270.4h0.8v0.8h-0.8zM317.5 249.1h0.8v0.8h-0.8zM349.5 260.4h0.8v0.8h-0.8zM343.3 257.2h0.8v0.8h-0.8zM377.5 262.0h0.8v0.8h-0.8zM346.9 255.1h0.8v0.8h-0.8zM353.1 252.2h0.8v0.8h-0.8zM330.2 251.0h0.8v0.8h-0.8zM326.2 252.2h0.8v0.8h-0.8zM361.7 256.7h0.8v0.8h-0.8zM373.0 267.6h0.8v0.8h-0.8zM315.9 249.4h0.8v0.8h-0.8zM377.6 270.0h0.8v0.8h-0.8zM373.1 256.3h0.8v0.8h-0.8zM373.5 259.3h0.8v0.8h-0.8zM374.1 262.0h0.8v0.8h-0.8zM379.7 256.5h0.8v0.8h-0.8zM342.1 249.4h0.8v0.8h-0.8zM339.9 253.5h0.8v0.8h-0.8zM355.8 249.2h0.8v0.8h-0.8zM316.5 250.9h0.8v0.8h-0.8zM361.5 253.4h0.8v0.8h-0.8zM328.1 254.7h0.8v0.8h-0.8zM346.1 283.5h0.8v0.8h-0.8zM356.3 261.0h0.8v0.8h-0.8zM321.3 255.6h0.8v0.8h-0.8zM373.9 256.7h0.8v0.8h-0.8zM373.1 267.9h0.8v0.8h-0.8zM374.5 269.1h0.8v0.8h-0.8zM338.6 256.1h0.8v0.8h-0.8zM316.1 259.3h0.8v0.8h-0.8zM354.8 255.2h0.8v0.8h-0.8zM381.0 271.6h0.8v0.8h-0.8zM373.6 259.0h0.8v0.8h-0.8zM375.6 263.5h0.8v0.8h-0.8zM364.8 257.7h0.8v0.8h-0.8zM371.5 264.2h0.8v0.8h-0.8zM367.7 252.7h0.8v0.8h-0.8zM339.2 258.2h0.8v0.8h-0.8zM368.8 256.8h0.8v0.8h-0.8zM322.5 252.7h0.8v0.8h-0.8zM358.6 257.5h0.8v0.8h-0.8zM343.1 255.6h0.8v0.8h-0.8zM377.8 259.9h0.8v0.8h-0.8zM377.8 269.2h0.8v0.8h-0.8zM365.0 283.5h0.8v0.8h-0.8zM329.7 249.5h0.8v0.8h-0.8zM317.9 246.8h0.8v0.8h-0.8zM372.2 256.7h0.8v0.8h-0.8zM381.2 270.8h0.8v0.8h-0.8zM327.8 253.7h0.8v0.8h-0.8zM370.0 264.3h0.8v0.8h-0.8zM337.7 257.0h0.8v0.8h-0.8zM344.0 257.8h0.8v0.8h-0.8zM314.0 256.7h0.8v0.8h-0.8zM353.8 259.2h0.8v0.8h-0.8zM365.5 257.8h0.8v0.8h-0.8zM366.6 256.7h0.8v0.8h-0.8zM345.2 258.3h0.8v0.8h-0.8zM340.6 253.6h0.8v0.8h-0.8zM376.7 254.8h0.8v0.8h-0.8zM362.3 257.6h0.8v0.8h-0.8zM381.3 266.7h0.8v0.8h-0.8zM378.3 272.8h0.8v0.8h-0.8zM350.6 260.6h0.8v0.8h-0.8zM365.9 283.9h0.8v0.8h-0.8zM373.7 258.5h0.8v0.8h-0.8zM368.4 249.5h0.8v0.8h-0.8zM367.2 255.7h0.8v0.8h-0.8zM376.2 273.2h0.8v0.8h-0.8zM378.0 278.5h0.8v0.8h-0.8zM364.7 261.5h0.8v0.8h-0.8zM364.2 255.4h0.8v0.8h-0.8zM371.4 268.6h0.8v0.8h-0.8zM317.6 258.9h0.8v0.8h-0.8zM324.0 260.5h0.8v0.8h-0.8zM325.8 255.3h0.8v0.8h-0.8zM329.0 249.4h0.8v0.8h-0.8zM374.7 260.6h0.8v0.8h-0.8zM375.9 260.0h0.8v0.8h-0.8zM327.4 248.2h0.8v0.8h-0.8zM374.0 260.4h0.8v0.8h-0.8zM369.2 269.2h0.8v0.8h-0.8zM374.5 268.8h0.8v0.8h-0.8zM361.5 252.4h0.8v0.8h-0.8zM372.9 268.8h0.8v0.8h-0.8zM324.0 255.4h0.8v0.8h-0.8zM370.9 265.8h0.8v0.8h-0.8zM318.4 258.1h0.8v0.8h-0.8zM379.5 263.2h0.8v0.8h-0.8zM316.8 255.7h0.8v0.8h-0.8zM367.1 280.3h0.8v0.8h-0.8zM329.6 250.7h0.8v0.8h-0.8zM377.2 277.5h0.8v0.8h-0.8zM342.3 252.3h0.8v0.8h-0.8zM340.5 257.4h0.8v0.8h-0.8zM379.3 254.8h0.8v0.8h-0.8zM357.7 258.8h0.8v0.8h-0.8zM378.0 266.2h0.8v0.8h-0.8zM321.8 251.3h0.8v0.8h-0.8zM351.5 251.6h0.8v0.8h-0.8zM362.8 256.0h0.8v0.8h-0.8zM317.7 251.2h0.8v0.8h-0.8zM341.2 248.5h0.8v0.8h-0.8zM322.5 254.0h0.8v0.8h-0.8zM384.8 264.7h0.8v0.8h-0.8zM374.6 262.3h0.8v0.8h-0.8zM314.0 253.7h0.8v0.8h-0.8zM383.7 269.3h0.8v0.8h-0.8zM321.8 251.0h0.8v0.8h-0.8zM332.5 256.2h0.8v0.8h-0.8zM377.4 271.1h0.8v0.8h-0.8zM334.3 249.6h0.8v0.8h-0.8zM357.6 256.8h0.8v0.8h-0.8zM358.6 281.9h0.8v0.8h-0.8zM359.3 255.7h0.8v0.8h-0.8zM374.5 256.6h0.8v0.8h-0.8zM317.8 258.3h0.8v0.8h-0.8zM318.2 256.2h0.8v0.8h-0.8zM358.1 256.8h0.8v0.8h-0.8zM373.1 264.8h0.8v0.8h-0.8zM324.1 252.4h0.8v0.8h-0.8zM379.0 264.9h0.8v0.8h-0.8zM364.8 259.8h0.8v0.8h-0.8zM372.7 262.3h0.8v0.8h-0.8zM320.9 247.0h0.8v0.8h-0.8zM317.5 255.1h0.8v0.8h-0.8zM327.6 251.1h0.8v0.8h-0.8zM333.9 257.2h0.8v0.8h-0.8zM383.3 269.1h0.8v0.8h-0.8zM318.8 258.7h0.8v0.8h-0.8zM313.7 256.7h0.8v0.8h-0.8zM329.7 253.0h0.8v0.8h-0.8zM366.9 262.9h0.8v0.8h-0.8zM357.5 255.5h0.8v0.8h-0.8zM375.7 273.2h0.8v0.8h-0.8zM375.7 268.5h0.8v0.8h-0.8zM373.1 266.1h0.8v0.8h-0.8zM324.5 253.6h0.8v0.8h-0.8zM325.3 259.6h0.8v0.8h-0.8zM327.4 257.6h0.8v0.8h-0.8zM364.3 258.5h0.8v0.8h-0.8zM317.2 253.1h0.8v0.8h-0.8zM340.2 251.7h0.8v0.8h-0.8zM350.5 259.0h0.8v0.8h-0.8zM375.8 262.3h0.8v0.8h-0.8zM344.1 251.4h0.8v0.8h-0.8zM376.8 270.8h0.8v0.8h-0.8zM373.4 262.8h0.8v0.8h-0.8zM376.6 264.8h0.8v0.8h-0.8zM329.4 252.1h0.8v0.8h-0.8zM324.0 246.5h0.8v0.8h-0.8zM350.5 258.0h0.8v0.8h-0.8zM321.1 252.6h0.8v0.8h-0.8zM365.1 258.3h0.8v0.8h-0.8zM380.0 267.3h0.8v0.8h-0.8zM342.6 253.0h0.8v0.8h-0.8zM369.3 262.8h0.8v0.8h-0.8zM354.0 256.6h0.8v0.8h-0.8zM374.1 265.9h0.8v0.8h-0.8zM385.0 268.1h0.8v0.8h-0.8zM371.9 264.5h0.8v0.8h-0.8zM361.2 251.9h0.8v0.8h-0.8zM368.9 259.8h0.8v0.8h-0.8zM376.8 262.9h0.8v0.8h-0.8zM329.2 253.4h0.8v0.8h-0.8zM373.4 265.4h0.8v0.8h-0.8zM328.7 258.3h0.8v0.8h-0.8zM381.9 266.8h0.8v0.8h-0.8zM362.4 281.4h0.8v0.8h-0.8zM348.7 250.9h0.8v0.8h-0.8zM378.3 271.0h0.8v0.8h-0.8zM361.7 257.7h0.8v0.8h-0.8zM365.8 256.0h0.8v0.8h-0.8zM348.8 249.9h0.8v0.8h-0.8zM357.5 280.3h0.8v0.8h-0.8zM362.1 254.7h0.8v0.8h-0.8zM314.5 252.7h0.8v0.8h-0.8zM329.2 255.2h0.8v0.8h-0.8zM330.3 254.6h0.8v0.8h-0.8zM366.0 256.0h0.8v0.8h-0.8zM372.6 265.2h0.8v0.8h-0.8zM329.9 249.6h0.8v0.8h-0.8zM379.8 257.9h0.8v0.8h-0.8zM376.8 271.1h0.8v0.8h-0.8zM320.5 251.9h0.8v0.8h-0.8zM345.0 250.8h0.8v0.8h-0.8zM316.2 257.7h0.8v0.8h-0.8zM337.0 253.2h0.8v0.8h-0.8zM363.3 254.6h0.8v0.8h-0.8zM364.7 252.6h0.8v0.8h-0.8zM375.0 274.2h0.8v0.8h-0.8zM360.7 262.2h0.8v0.8h-0.8zM324.2 250.2h0.8v0.8h-0.8zM347.2 251.8h0.8v0.8h-0.8zM368.2 257.6h0.8v0.8h-0.8zM348.0 258.4h0.8v0.8h-0.8zM379.0 260.4h0.8v0.8h-0.8zM372.0 264.8h0.8v0.8h-0.8zM335.9 250.5h0.8v0.8h-0.8zM368.8 261.8h0.8v0.8h-0.8zM376.5 271.1h0.8v0.8h-0.8zM357.1 260.8h0.8v0.8h-0.8zM380.5 261.3h0.8v0.8h-0.8zM333.5 261.2h0.8v0.8h-0.8zM312.5 250.9h0.8v0.8h-0.8zM374.0 266.3h0.8v0.8h-0.8zM334.7 254.5h0.8v0.8h-0.8zM369.8 256.2h0.8v0.8h-0.8zM345.3 254.7h0.8v0.8h-0.8zM339.2 253.7h0.8v0.8h-0.8zM346.1 256.0h0.8v0.8h-0.8zM359.0 255.6h0.8v0.8h-0.8zM367.3 255.3h0.8v0.8h-0.8zM376.3 262.5h0.8v0.8h-0.8zM369.6 257.8h0.8v0.8h-0.8zM368.5 255.3h0.8v0.8h-0.8zM330.6 251.1h0.8v0.8h-0.8zM369.5 258.4h0.8v0.8h-0.8zM331.0 257.7h0.8v0.8h-0.8zM367.0 272.3h0.8v0.8h-0.8zM368.8 263.9h0.8v0.8h-0.8zM370.2 262.2h0.8v0.8h-0.8zM320.1 255.5h0.8v0.8h-0.8zM370.5 262.7h0.8v0.8h-0.8zM324.4 254.9h0.8v0.8h-0.8zM365.7 255.1h0.8v0.8h-0.8zM353.6 278.1h0.8v0.8h-0.8zM355.8 252.2h0.8v0.8h-0.8zM351.9 286.0h0.8v0.8h-0.8zM364.0 255.2h0.8v0.8h-0.8zM377.1 274.2h0.8v0.8h-0.8zM319.0 248.7h0.8v0.8h-0.8zM372.3 257.6h0.8v0.8h-0.8zM349.7 254.1h0.8v0.8h-0.8zM345.9 251.7h0.8v0.8h-0.8zM379.8 266.9h0.8v0.8h-0.8zM372.8 263.4h0.8v0.8h-0.8zM377.9 270.4h0.8v0.8h-0.8zM379.9 262.8h0.8v0.8h-0.8zM372.5 264.8h0.8v0.8h-0.8zM373.5 259.7h0.8v0.8h-0.8zM360.3 258.1h0.8v0.8h-0.8zM359.6 255.7h0.8v0.8h-0.8zM357.6 258.2h0.8v0.8h-0.8zM319.6 244.1h0.8v0.8h-0.8zM370.0 250.6h0.8v0.8h-0.8zM338.6 254.8h0.8v0.8h-0.8zM341.6 251.8h0.8v0.8h-0.8zM371.9 257.0h0.8v0.8h-0.8zM337.3 255.3h0.8v0.8h-0.8zM349.2 255.3h0.8v0.8h-0.8zM378.0 265.2h0.8v0.8h-0.8zM363.6 258.7h0.8v0.8h-0.8zM372.8 266.6h0.8v0.8h-0.8zM336.7 249.4h0.8v0.8h-0.8zM380.5 262.6h0.8v0.8h-0.8zM329.2 258.7h0.8v0.8h-0.8zM376.2 265.3h0.8v0.8h-0.8zM373.7 266.0h0.8v0.8h-0.8zM379.8 266.2h0.8v0.8h-0.8zM324.0 256.0h0.8v0.8h-0.8zM312.4 245.5h0.8v0.8h-0.8zM373.4 261.7h0.8v0.8h-0.8zM322.4 255.1h0.8v0.8h-0.8zM351.8 286.9h0.8v0.8h-0.8zM369.5 257.6h0.8v0.8h-0.8zM368.5 260.4h0.8v0.8h-0.8zM371.7 266.2h0.8v0.8h-0.8zM368.5 260.1h0.8v0.8h-0.8zM362.3 258.8h0.8v0.8h-0.8zM378.9 261.8h0.8v0.8h-0.8zM376.5 268.4h0.8v0.8h-0.8zM347.5 254.1h0.8v0.8h-0.8zM354.3 256.6h0.8v0.8h-0.8zM375.8 264.3h0.8v0.8h-0.8zM322.3 246.9h0.8v0.8h-0.8zM378.8 267.0h0.8v0.8h-0.8zM330.2 257.1h0.8v0.8h-0.8zM365.7 259.5h0.8v0.8h-0.8z" fill="#bb8ed6" fill-opacity="0.75"/>
<path d="M373.2 270.7h0.8v0.8h-0.8zM327.4 251.5h0.8v0.8h-0.8zM355.8 256.0h0.8v0.8h-0.8zM362.6 256.1h0.8v0.8h-0.8zM312.2 257.3h0.8v0.8h-0.8zM363.7 247.6h0.8v0.8h-0.8zM319.2 254.7h0.8v0.8h-0.8zM368.0 258.1h0.8v0.8h-0.8zM363.7 256.7h0.8v0.8h-0.8zM378.3 264.9h0.8v0.8h-0.8zM315.2 248.9h0.8v0.8h-0.8zM379.5 257.7h0.8v0.8h-0.8zM316.2 247.8h0.8v0.8h-0.8zM378.6 262.6h0.8v0.8h-0.8zM362.6 249.2h0.8v0.8h-0.8zM327.1 256.0h0.8v0.8h-0.8zM377.6 271.6h0.8v0.8h-0.8zM317.5 250.3h0.8v0.8h-0.8zM376.5 272.3h0.8v0.8h-0.8zM341.0 254.9h0.8v0.8h-0.8zM377.4 261.8h0.8v0.8h-0.8zM366.3 256.2h0.8v0.8h-0.8zM376.9 267.2h0.8v0.8h-0.8zM376.7 269.8h0.8v0.8h-0.8zM366.4 259.2h0.8v0.8h-0.8zM352.6 256.8h0.8v0.8h-0.8zM353.0 257.1h0.8v0.8h-0.8zM378.9 269.3h0.8v0.8h-0.8zM376.8 262.8h0.8v0.8h-0.8zM352.0 255.4h0.8v0.8h-0.8zM371.2 260.5h0.8v0.8h-0.8zM373.7 263.8h0.8v0.8h-0.8zM350.0 249.2h0.8v0.8h-0.8zM370.3 261.0h0.8v0.8h-0.8zM354.2 258.3h0.8v0.8h-0.8zM319.5 253.7h0.8v0.8h-0.8zM367.2 259.3h0.8v0.8h-0.8zM338.9 256.8h0.8v0.8h-0.8zM314.1 254.9h0.8v0.8h-0.8zM353.0 249.4h0.8v0.8h-0.8zM369.2 259.4h0.8v0.8h-0.8zM321.1 248.4h0.8v0.8h-0.8zM372.4 259.4h0.8v0.8h-0.8zM368.4 262.2h0.8v0.8h-0.8zM346.5 277.6h0.8v0.8h-0.8zM309.6 256.6h0.8v0.8h-0.8zM375.7 266.4h0.8v0.8h-0.8zM363.2 258.3h0.8v0.8h-0.8zM369.7 263.3h0.8v0.8h-0.8zM358.7 256.9h0.8v0.8h-0.8zM380.6 262.0h0.8v0.8h-0.8zM362.4 263.5h0.8v0.8h-0.8zM362.3 253.2h0.8v0.8h-0.8zM336.1 257.4h0.8v0.8h-0.8zM353.4 250.5h0.8v0.8h-0.8zM342.9 257.1h0.8v0.8h-0.8zM374.8 259.8h0.8v0.8h-0.8zM338.1 256.1h0.8v0.8h-0.8zM358.0 270.9h0.8v0.8h-0.8zM333.5 251.1h0.8v0.8h-0.8zM376.0 271.2h0.8v0.8h-0.8zM376.4 262.8h0.8v0.8h-0.8zM322.6 252.8h0.8v0.8h-0.8zM329.8 249.3h0.8v0.8h-0.8zM350.5 247.4h0.8v0.8h-0.8zM340.3 250.0h0.8v0.8h-0.8zM326.1 256.6h0.8v0.8h-0.8zM350.0 259.6h0.8v0.8h-0.8zM377.3 275.5h0.8v0.8h-0.8zM381.5 267.1h0.8v0.8h-0.8zM376.5 257.0h0.8v0.8h-0.8zM375.0 251.4h0.8v0.8h-0.8zM363.4 255.2h0.8v0.8h-0.8zM379.6 268.3h0.8v0.8h-0.8zM372.9 264.3h0.8v0.8h-0.8zM327.1 254.3h0.8v0.8h-0.8zM371.7 258.5h0.8v0.8h-0.8zM359.9 254.3h0.8v0.8h-0.8zM355.6 250.6h0.8v0.8h-0.8zM328.0 254.5h0.8v0.8h-0.8zM365.8 262.4h0.8v0.8h-0.8zM369.4 271.0h0.8v0.8h-0.8zM319.2 251.1h0.8v0.8h-0.8zM336.5 259.1h0.8v0.8h-0.8zM355.9 259.7h0.8v0.8h-0.8zM367.7 260.7h0.8v0.8h-0.8zM366.8 251.2h0.8v0.8h-0.8zM368.9 260.8h0.8v0.8h-0.8zM380.9 262.4h0.8v0.8h-0.8zM324.6 252.4h0.8v0.8h-0.8zM370.1 265.5h0.8v0.8h-0.8zM357.6 256.9h0.8v0.8h-0.8zM366.3 254.8h0.8v0.8h-0.8zM346.7 252.8h0.8v0.8h-0.8zM349.8 258.7h0.8v0.8h-0.8zM325.6 255.0h0.8v0.8h-0.8zM353.6 250.1h0.8v0.8h-0.8zM314.6 256.2h0.8v0.8h-0.8zM379.2 264.0h0.8v0.8h-0.8zM377.7 264.3h0.8v0.8h-0.8zM372.9 255.6h0.8v0.8h-0.8zM368.6 269.5h0.8v0.8h-0.8zM349.2 257.7h0.8v0.8h-0.8zM318.2 248.5h0.8v0.8h-0.8zM336.4 255.4h0.8v0.8h-0.8zM360.2 255.3h0.8v0.8h-0.8zM369.5 264.0h0.8v0.8h-0.8zM370.8 260.5h0.8v0.8h-0.8zM384.1 268.1h0.8v0.8h-0.8zM377.1 268.3h0.8v0.8h-0.8zM346.4 250.1h0.8v0.8h-0.8zM333.9 258.2h0.8v0.8h-0.8zM360.2 288.7h0.8v0.8h-0.8zM317.5 254.0h0.8v0.8h-0.8zM364.9 254.7h0.8v0.8h-0.8zM373.2 267.2h0.8v0.8h-0.8zM384.9 265.9h0.8v0.8h-0.8zM367.2 254.9h0.8v0.8h-0.8zM347.8 256.8h0.8v0.8h-0.8zM364.4 262.6h0.8v0.8h-0.8zM332.1 251.5h0.8v0.8h-0.8zM335.9 247.0h0.8v0.8h-0.8zM369.1 257.9h0.8v0.8h-0.8zM372.5 264.7h0.8v0.8h-0.8zM354.9 255.0h0.8v0.8h-0.8zM369.7 267.1h0.8v0.8h-0.8zM326.8 247.5h0.8v0.8h-0.8zM379.7 257.2h0.8v0.8h-0.8zM357.9 250.1h0.8v0.8h-0.8zM331.6 251.7h0.8v0.8h-0.8zM333.4 253.3h0.8v0.8h-0.8zM374.8 259.3h0.8v0.8h-0.8zM353.0 256.0h0.8v0.8h-0.8zM376.0 263.8h0.8v0.8h-0.8zM357.2 250.2h0.8v0.8h-0.8zM353.8 256.2h0.8v0.8h-0.8zM379.6 259.5h0.8v0.8h-0.8zM363.2 279.2h0.8v0.8h-0.8zM357.5 258.4h0.8v0.8h-0.8zM352.3 251.4h0.8v0.8h-0.8zM372.4 261.9h0.8v0.8h-0.8zM367.6 265.6h0.8v0.8h-0.8zM382.3 264.7h0.8v0.8h-0.8zM326.9 249.1h0.8v0.8h-0.8zM367.1 260.8h0.8v0.8h-0.8zM337.4 255.2h0.8v0.8h-0.8zM367.8 277.0h0.8v0.8h-0.8zM314.6 248.3h0.8v0.8h-0.8zM340.2 250.5h0.8v0.8h-0.8zM381.4 265.2h0.8v0.8h-0.8zM342.6 257.9h0.8v0.8h-0.8zM376.3 266.3h0.8v0.8h-0.8zM342.6 251.0h0.8v0.8h-0.8zM357.0 255.7h0.8v0.8h-0.8zM369.0 258.3h0.8v0.8h-0.8zM374.9 267.2h0.8v0.8h-0.8zM361.2 270.2h0.8v0.8h-0.8zM370.1 263.1h0.8v0.8h-0.8zM336.7 255.2h0.8v0.8h-0.8zM359.3 257.9h0.8v0.8h-0.8zM352.0 254.6h0.8v0.8h-0.8zM381.4 263.5h0.8v0.8h-0.8zM351.9 255.9h0.8v0.8h-0.8zM321.6 249.4h0.8v0.8h-0.8zM343.1 250.6h0.8v0.8h-0.8zM372.3 260.5h0.8v0.8h-0.8zM368.4 262.1h0.8v0.8h-0.8zM360.0 262.7h0.8v0.8h-0.8zM330.1 248.6h0.8v0.8h-0.8zM350.5 257.9h0.8v0.8h-0.8zM379.1 266.7h0.8v0.8h-0.8zM339.7 250.8h0.8v0.8h-0.8zM365.8 258.8h0.8v0.8h-0.8zM376.4 262.1h0.8v0.8h-0.8zM366.4 257.7h0.8v0.8h-0.8zM329.8 249.2h0.8v0.8h-0.8zM356.9 261.0h0.8v0.8h-0.8zM371.9 261.1h0.8v0.8h-0.8zM378.2 268.9h0.8v0.8h-0.8zM356.6 283.7h0.8v0.8h-0.8zM378.6 256.8h0.8v0.8h-0.8zM381.0 271.1h0.8v0.8h-0.8zM317.2 253.4h0.8v0.8h-0.8zM335.6 251.4h0.8v0.8h-0.8zM311.6 251.7h0.8v0.8h-0.8zM325.3 253.3h0.8v0.8h-0.8zM319.4 252.9h0.8v0.8h-0.8zM373.2 260.5h0.8v0.8h-0.8zM315.7 254.5h0.8v0.8h-0.8zM375.4 273.5h0.8v0.8h-0.8zM356.8 251.3h0.8v0.8h-0.8zM372.4 254.9h0.8v0.8h-0.8zM377.2 265.9h0.8v0.8h-0.8zM368.4 256.2h0.8v0.8h-0.8zM375.5 266.9h0.8v0.8h-0.8zM335.9 255.9h0.8v0.8h-0.8zM362.1 251.3h0.8v0.8h-0.8zM368.0 261.6h0.8v0.8h-0.8zM322.5 250.5h0.8v0.8h-0.8zM371.9 261.3h0.8v0.8h-0.8zM378.3 265.0h0.8v0.8h-0.8zM381.8 275.2h0.8v0.8h-0.8zM369.0 262.9h0.8v0.8h-0.8zM364.0 261.0h0.8v0.8h-0.8zM385.3 269.2h0.8v0.8h-0.8zM372.3 271.5h0.8v0.8h-0.8zM374.1 260.4h0.8v0.8h-0.8zM326.2 254.6h0.8v0.8h-0.8zM365.5 257.3h0.8v0.8h-0.8zM337.4 248.6h0.8v0.8h-0.8zM377.2 270.0h0.8v0.8h-0.8zM348.5 281.1h0.8v0.8h-0.8zM351.5 253.2h0.8v0.8h-0.8zM359.6 250.9h0.8v0.8h-0.8zM337.2 252.6h0.8v0.8h-0.8zM376.1 268.9h0.8v0.8h-0.8zM360.9 257.4h0.8v0.8h-0.8zM377.5 265.1h0.8v0.8h-0.8zM373.6 267.1h0.8v0.8h-0.8zM324.1 255.4h0.8v0.8h-0.8zM364.8 261.4h0.8v0.8h-0.8zM373.7 262.5h0.8v0.8h-0.8zM330.4 253.0h0.8v0.8h-0.8zM375.9 255.9h0.8v0.8h-0.8zM319.4 252.8h0.8v0.8h-0.8zM385.3 269.0h0.8v0.8h-0.8zM312.9 255.7h0.8v0.8h-0.8zM360.2 252.3h0.8v0.8h-0.8zM383.9 270.4h0.8v0.8h-0.8zM371.0 259.8h0.8v0.8h-0.8zM331.1 251.6h0.8v0.8h-0.8zM317.9 259.7h0.8v0.8h-0.8zM354.9 277.6h0.8v0.8h-0.8zM360.1 265.2h0.8v0.8h-0.8zM369.2 259.7h0.8v0.8h-0.8zM362.0 256.0h0.8v0.8h-0.8zM368.4 260.6h0.8v0.8h-0.8zM361.5 253.6h0.8v0.8h-0.8zM327.3 255.2h0.8v0.8h-0.8zM315.4 252.2h0.8v0.8h-0.8zM371.8 263.1h0.8v0.8h-0.8zM364.3 257.7h0.8v0.8h-0.8zM362.1 261.2h0.8v0.8h-0.8zM357.3 257.6h0.8v0.8h-0.8zM373.1 271.4h0.8v0.8h-0.8zM374.0 262.4h0.8v0.8h-0.8zM376.6 263.9h0.8v0.8h-0.8zM320.9 252.3h0.8v0.8h-0.8zM315.9 252.4h0.8v0.8h-0.8zM356.6 259.1h0.8v0.8h-0.8zM365.1 271.1h0.8v0.8h-0.8zM369.1 260.1h0.8v0.8h-0.8zM370.6 268.2h0.8v0.8h-0.8zM378.4 270.4h0.8v0.8h-0.8zM322.2 252.1h0.8v0.8h-0.8zM380.8 268.3h0.8v0.8h-0.8zM310.0 252.6h0.8v0.8h-0.8zM341.4 252.1h0.8v0.8h-0.8zM323.8 254.9h0.8v0.8h-0.8zM362.2 254.7h0.8v0.8h-0.8zM368.7 263.2h0.8v0.8h-0.8zM318.0 247.7h0.8v0.8h-0.8zM343.0 254.2h0.8v0.8h-0.8zM371.7 260.2h0.8v0.8h-0.8zM374.3 262.6h0.8v0.8h-0.8zM380.0 263.3h0.8v0.8h-0.8zM338.8 254.3h0.8v0.8h-0.8zM320.2 246.7h0.8v0.8h-0.8zM376.3 265.1h0.8v0.8h-0.8zM369.7 258.5h0.8v0.8h-0.8zM376.5 264.3h0.8v0.8h-0.8zM352.4 252.6h0.8v0.8h-0.8zM315.1 251.1h0.8v0.8h-0.8zM333.7 249.0h0.8v0.8h-0.8zM377.5 263.8h0.8v0.8h-0.8zM378.3 263.9h0.8v0.8h-0.8zM351.1 252.1h0.8v0.8h-0.8zM372.0 257.2h0.8v0.8h-0.8zM315.1 255.7h0.8v0.8h-0.8zM372.0 253.2h0.8v0.8h-0.8zM313.9 255.2h0.8v0.8h-0.8zM363.4 255.8h0.8v0.8h-0.8zM373.8 265.2h0.8v0.8h-0.8zM350.3 285.7h0.8v0.8h-0.8zM376.5 270.9h0.8v0.8h-0.8zM328.7 252.6h0.8v0.8h-0.8zM332.0 255.4h0.8v0.8h-0.8zM316.6 254.1h0.8v0.8h-0.8zM363.4 257.2h0.8v0.8h-0.8zM317.3 248.4h0.8v0.8h-0.8zM341.3 253.1h0.8v0.8h-0.8zM323.9 256.9h0.8v0.8h-0.8zM334.1 253.5h0.8v0.8h-0.8zM377.7 263.4h0.8v0.8h-0.8zM375.5 262.0h0.8v0.8h-0.8zM356.6 249.2h0.8v0.8h-0.8zM365.7 250.0h0.8v0.8h-0.8zM338.5 255.2h0.8v0.8h-0.8zM342.2 249.5h0.8v0.8h-0.8zM364.5 263.0h0.8v0.8h-0.8zM352.9 249.8h0.8v0.8h-0.8zM314.9 244.7h0.8v0.8h-0.8zM371.1 266.3h0.8v0.8h-0.8zM312.7 261.1h0.8v0.8h-0.8zM328.5 251.4h0.8v0.8h-0.8zM344.2 255.7h0.8v0.8h-0.8zM375.4 260.5h0.8v0.8h-0.8zM375.6 262.2h0.8v0.8h-0.8zM377.3 271.7h0.8v0.8h-0.8zM369.5 263.6h0.8v0.8h-0.8zM317.7 244.7h0.8v0.8h-0.8zM370.8 270.5h0.8v0.8h-0.8zM375.5 264.7h0.8v0.8h-0.8zM368.5 258.5h0.8v0.8h-0.8zM371.4 259.0h0.8v0.8h-0.8zM360.5 261.4h0.8v0.8h-0.8zM375.0 254.7h0.8v0.8h-0.8zM377.4 267.2h0.8v0.8h-0.8zM352.3 252.5h0.8v0.8h-0.8zM360.9 260.4h0.8v0.8h-0.8zM316.4 251.9h0.8v0.8h-0.8zM316.3 254.3h0.8v0.8h-0.8zM334.3 249.6h0.8v0.8h-0.8zM364.5 258.1h0.8v0.8h-0.8zM358.0 244.8h0.8v0.8h-0.8zM366.2 260.3h0.8v0.8h-0.8zM351.9 254.0h0.8v0.8h-0.8zM374.3 278.7h0.8v0.8h-0.8zM379.1 271.7h0.8v0.8h-0.8zM369.9 259.3h0.8v0.8h-0.8zM325.1 253.8h0.8v0.8h-0.8zM350.9 249.9h0.8v0.8h-0.8zM351.0 280.4h0.8v0.8h-0.8zM353.9 260.0h0.8v0.8h-0.8zM382.0 259.7h0.8v0.8h-0.8zM362.8 260.3h0.8v0.8h-0.8zM360.5 271.5h0.8v0.8h-0.8z" fill="#7f80d2" fill-opacity="0.75"/>
<path d="M357.6 272.6h0.7v0.7h-0.7zM364.9 280.0h0.7v0.7h-0.7zM355.4 268.3h0.7v0.7h-0.7zM342.3 283.5h0.7v0.7h-0.7zM349.0 286.0h0.7v0.7h-0.7zM346.0 281.2h0.7v0.7h-0.7zM350.6 285.8h0.7v0.7h-0.7zM344.2 274.1h0.7v0.7h-0.7zM356.5 280.1h0.7v0.7h-0.7zM362.0 290.0h0.7v0.7h-0.7zM364.2 272.1h0.7v0.7h-0.7zM366.1 295.8h0.7v0.7h-0.7zM344.7 279.7h0.7v0.7h-0.7zM363.9 270.4h0.7v0.7h-0.7zM353.8 270.5h0.7v0.7h-0.7zM358.3 276.9h0.7v0.7h-0.7zM353.5 276.4h0.7v0.7h-0.7zM357.5 281.5h0.7v0.7h-0.7zM347.1 294.2h0.7v0.7h-0.7zM344.7 273.7h0.7v0.7h-0.7zM352.5 276.9h0.7v0.7h-0.7zM348.9 286.2h0.7v0.7h-0.7zM345.1 295.1h0.7v0.7h-0.7zM340.0 269.6h0.7v0.7h-0.7zM340.3 293.4h0.7v0.7h-0.7zM343.9 271.1h0.7v0.7h-0.7zM363.0 291.2h0.7v0.7h-0.7zM360.9 269.2h0.7v0.7h-0.7zM367.1 274.1h0.7v0.7h-0.7zM352.9 268.8h0.7v0.7h-0.7zM351.4 273.6h0.7v0.7h-0.7zM345.9 287.4h0.7v0.7h-0.7zM356.0 271.2h0.7v0.7h-0.7zM354.2 289.6h0.7v0.7h-0.7zM356.6 285.9h0.7v0.7h-0.7zM361.9 289.8h0.7v0.7h-0.7zM357.2 281.3h0.7v0.7h-0.7zM341.2 269.3h0.7v0.7h-0.7zM367.0 282.4h0.7v0.7h-0.7zM354.9 287.6h0.7v0.7h-0.7zM340.4 273.0h0.7v0.7h-0.7zM367.5 272.8h0.7v0.7h-0.7zM353.2 274.1h0.7v0.7h-0.7zM365.7 272.3h0.7v0.7h-0.7zM359.8 294.6h0.7v0.7h-0.7zM352.2 286.7h0.7v0.7h-0.7zM351.0 279.7h0.7v0.7h-0.7zM349.2 268.2h0.7v0.7h-0.7zM360.3 274.7h0.7v0.7h-0.7zM361.9 286.4h0.7v0.7h-0.7z" fill="#9a9a9a" fill-opacity="0.6"/>
<path d="M313.0,252.5 L313.7,252.5 L314.6,252.6 L315.6,252.6 L316.8,252.6 L318.1,252.7 L319.4,252.7 L320.8,252.8 L322.2,252.9 L323.6,252.9 L325.0,253.0 L326.4,253.1 L327.8,253.2 L329.3,253.3 L330.8,253.3 L332.3,253.5 L333.9,253.6 L335.4,253.7 L337.0,253.8 L338.5,253.9 L340.0,254.0 L341.5,254.1 L343.1,254.2 L344.7,254.4 L346.2,254.5 L347.8,254.6 L349.4,254.7 L350.9,254.9 L352.3,255.0 L353.7,255.2 L355.0,255.3 L356.2,255.4 L357.4,255.6 L358.5,255.7 L359.5,255.8 L360.5,256.0 L361.5,256.1 L362.4,256.3 L363.3,256.5 L364.1,256.7 L365.0,257.0 L365.8,257.3 L366.6,257.6 L367.4,258.0 L368.1,258.4 L368.8,258.8 L369.5,259.2 L370.1,259.7 L370.8,260.1 L371.4,260.5 L372.0,261.0 L372.6,261.5 L373.2,261.9 L373.7,262.4 L374.3,262.9 L374.8,263.4 L375.3,264.0 L375.8,264.5 L376.2,265.0 L376.6,265.5 L377.0,266.0 L377.3,266.5 L377.6,267.1 L377.9,267.7 L378.1,268.2 L378.3,268.8 L378.5,269.4 L378.6,269.9 L378.8,270.3 L378.9,270.7 L379.0,271.0" fill="none" stroke="#6a70d0" stroke-opacity="0.85" stroke-width="9.0" stroke-linecap="round" stroke-linejoin="round" filter="url(#b1)"/>
<path d="M331.0,253.8 L331.5,253.8 L332.1,253.8 L332.8,253.8 L333.7,253.8 L334.6,253.8 L335.5,253.8 L336.6,253.9 L337.7,253.9 L338.8,253.9 L340.0,254.0 L341.3,254.1 L342.7,254.2 L344.2,254.3 L345.8,254.4 L347.4,254.6 L349.1,254.7 L350.7,254.8 L352.2,255.0 L353.7,255.1 L355.0,255.3 L356.2,255.4 L357.4,255.6 L358.5,255.7 L359.5,255.8 L360.5,256.0 L361.5,256.1 L362.4,256.3 L363.3,256.5 L364.1,256.7 L365.0,257.0 L365.8,257.3 L366.6,257.6 L367.4,258.0 L368.1,258.4 L368.8,258.8 L369.5,259.2 L370.1,259.7 L370.8,260.1 L371.4,260.5 L372.0,261.0 L372.6,261.5 L373.2,261.9 L373.7,262.4 L374.3,262.9 L374.8,263.4 L375.3,264.0 L375.8,264.5 L376.2,265.0 L376.6,265.5 L377.0,266.0 L377.3,266.5 L377.6,267.1 L377.9,267.7 L378.1,268.2 L378.3,268.8 L378.5,269.4 L378.6,269.9 L378.8,270.3 L378.9,270.7 L379.0,271.0" fill="none" stroke="#3cba4e" stroke-width="5.6" stroke-linecap="round" stroke-linejoin="round" filter="url(#b05)"/>
<ellipse cx="340" cy="254" rx="3.0" ry="1.7999999999999998" fill="#a8a048" filter="url(#b1)"/>
<ellipse cx="379.6" cy="279.0" rx="8.399999999999999" ry="14.0" fill="#8a74d0" fill-opacity="0.8" filter="url(#b15)"/>
<ellipse cx="379.6" cy="279.0" rx="6.8999999999999995" ry="12.0" fill="#3cba4e" fill-opacity="1" filter="url(#b05)"/>
<ellipse cx="379.6" cy="279.0" rx="5.6" ry="10.2" fill="#ff0a0a" filter="url(#b03)"/>
</g>
<polyline points="309.5,231.9 368.1,232.9 367.7,263.6 309.5,265.7" fill="none" stroke="#444" stroke-width="0.9"/>
<polyline points="368.1,232.9 383.6,233.9 388.9,263.6 370.9,268.9 367.7,263.6" fill="none" stroke="#444" stroke-width="0.9"/>
<polyline points="370.9,268.9 367.7,273.0 367.7,311.0" fill="none" stroke="#444" stroke-width="0.9"/>
<polyline points="388.9,263.6 389.0,311.0" fill="none" stroke="#444" stroke-width="0.9"/>
<rect x="309.4" y="214.8" width="94.60000000000002" height="96.19999999999999" fill="none" stroke="#777" stroke-width="0.8"/>
<line x1="307.9" y1="214.8" x2="309.4" y2="214.8" stroke="#777" stroke-width="0.6"/>
<text x="307.2" y="216.0" font-size="4.0" text-anchor="end" fill="#444">10<tspan font-size="2.6" dy="-1.2">4</tspan></text>
<line x1="307.9" y1="237" x2="309.4" y2="237" stroke="#777" stroke-width="0.6"/>
<text x="307.2" y="238.2" font-size="4.0" text-anchor="end" fill="#444">10<tspan font-size="2.6" dy="-1.2">3</tspan></text>
<line x1="307.9" y1="257" x2="309.4" y2="257" stroke="#777" stroke-width="0.6"/>
<text x="307.2" y="258.2" font-size="4.0" text-anchor="end" fill="#444">10<tspan font-size="2.6" dy="-1.2">2</tspan></text>
<line x1="307.9" y1="283" x2="309.4" y2="283" stroke="#777" stroke-width="0.6"/>
<text x="307.2" y="284.2" font-size="4.0" text-anchor="end" fill="#444">1</text>
<line x1="307.9" y1="297" x2="309.4" y2="297" stroke="#777" stroke-width="0.6"/>
<text x="307.2" y="298.2" font-size="4.0" text-anchor="end" fill="#444">0</text>
<line x1="307.9" y1="311" x2="309.4" y2="311" stroke="#777" stroke-width="0.6"/>
<text x="307.2" y="312.2" font-size="4.0" text-anchor="end" fill="#444">-1</text>
<line x1="318" y1="311" x2="318" y2="312.5" stroke="#777" stroke-width="0.6"/>
<text x="318" y="316.6" font-size="4.0" text-anchor="middle" fill="#444">0</text>
<line x1="336" y1="311" x2="336" y2="312.5" stroke="#777" stroke-width="0.6"/>
<text x="336" y="316.6" font-size="4.0" text-anchor="middle" fill="#444">10<tspan font-size="2.6" dy="-1.2">2</tspan></text>
<line x1="362" y1="311" x2="362" y2="312.5" stroke="#777" stroke-width="0.6"/>
<text x="362" y="316.6" font-size="4.0" text-anchor="middle" fill="#444">10<tspan font-size="2.6" dy="-1.2">3</tspan></text>
<line x1="383" y1="311" x2="383" y2="312.5" stroke="#777" stroke-width="0.6"/>
<text x="383" y="316.6" font-size="4.0" text-anchor="middle" fill="#444">10<tspan font-size="2.6" dy="-1.2">4</tspan></text>
<line x1="404" y1="311" x2="404" y2="312.5" stroke="#777" stroke-width="0.6"/>
<text x="404" y="316.6" font-size="4.0" text-anchor="middle" fill="#444">10<tspan font-size="2.6" dy="-1.2">5</tspan></text>
<text x="317.3" y="223.8" font-size="11" font-weight="bold" fill="#111" textLength="19.0" lengthAdjust="spacingAndGlyphs">18.4</text>
<text x="382.2" y="223.8" font-size="11" font-weight="bold" fill="#111" textLength="13.3" lengthAdjust="spacingAndGlyphs">5.4</text>
<text x="317.2" y="301.2" font-size="11" font-weight="bold" fill="#111" textLength="21.5" lengthAdjust="spacingAndGlyphs">MDS</text>
<text x="387.5" y="307.4" font-size="11" font-weight="bold" fill="#111" textLength="17.8" lengthAdjust="spacingAndGlyphs">76.2</text>
<text x="294.6" y="293.3" font-size="14.5" fill="#111" textLength="35.6" lengthAdjust="spacingAndGlyphs" transform="rotate(-90 294.6 293.3)">CD16</text>
<text x="324" y="335.6" font-size="13.8" fill="#111" textLength="35.6" lengthAdjust="spacingAndGlyphs">CD14</text>
<polyline points="289.2,308.5 289.2,334 313.5,334" fill="none" stroke="#222" stroke-width="1.2"/>
<polygon points="289.2,304.6 286.5,309.6 291.9,309.6" fill="#222"/>
<polygon points="317.2,334 312.2,331.3 312.2,336.7" fill="#222"/>
<text x="1.00" y="13.80" font-size="17.2" text-anchor="start" fill="#111" font-weight="bold" textLength="11.8" lengthAdjust="spacingAndGlyphs">A</text>
<text x="26.20" y="12.80" font-size="14.6" text-anchor="start" fill="#111" textLength="98" lengthAdjust="spacingAndGlyphs">Learning Cohort</text>
<polygon points="146.60,35.70 147.45,37.43 149.36,37.70 147.98,39.05 148.30,40.95 146.60,40.05 144.90,40.95 145.22,39.05 143.84,37.70 145.75,37.43" fill="#111"/>
<polygon points="153.40,35.70 154.25,37.43 156.16,37.70 154.78,39.05 155.10,40.95 153.40,40.05 151.70,40.95 152.02,39.05 150.64,37.70 152.55,37.43" fill="#111"/>
<polygon points="160.10,35.70 160.95,37.43 162.86,37.70 161.48,39.05 161.80,40.95 160.10,40.05 158.40,40.95 158.72,39.05 157.34,37.70 159.25,37.43" fill="#111"/>
<line x1="67.70" y1="48.30" x2="244.00" y2="48.30" stroke="#333" stroke-width="1.3"/>
<line x1="108.80" y1="55.60" x2="244.00" y2="55.60" stroke="#333" stroke-width="1.3"/>
<line x1="154.20" y1="63.30" x2="244.00" y2="63.30" stroke="#333" stroke-width="1.3"/>
<line x1="194.20" y1="70.80" x2="244.00" y2="70.80" stroke="#333" stroke-width="1.3"/>
<line x1="47.70" y1="75.80" x2="47.70" y2="258.50" stroke="#222" stroke-width="1.3"/>
<line x1="47.10" y1="257.90" x2="263.00" y2="257.90" stroke="#222" stroke-width="1.4"/>
<line x1="44.90" y1="257.90" x2="47.70" y2="257.90" stroke="#222" stroke-width="1.2"/>
<text x="43.60" y="261.50" font-size="10" text-anchor="end" fill="#222" textLength="10.0" lengthAdjust="spacingAndGlyphs" stroke="#222" stroke-width="0.15">60</text>
<line x1="46.20" y1="248.82" x2="47.70" y2="248.82" stroke="#222" stroke-width="1.0"/>
<line x1="46.20" y1="239.74" x2="47.70" y2="239.74" stroke="#222" stroke-width="1.0"/>
<line x1="46.20" y1="230.66" x2="47.70" y2="230.66" stroke="#222" stroke-width="1.0"/>
<line x1="46.20" y1="221.58" x2="47.70" y2="221.58" stroke="#222" stroke-width="1.0"/>
<line x1="44.90" y1="212.50" x2="47.70" y2="212.50" stroke="#222" stroke-width="1.2"/>
<text x="43.60" y="216.10" font-size="10" text-anchor="end" fill="#222" textLength="10.0" lengthAdjust="spacingAndGlyphs" stroke="#222" stroke-width="0.15">70</text>
<line x1="46.20" y1="203.42" x2="47.70" y2="203.42" stroke="#222" stroke-width="1.0"/>
<line x1="46.20" y1="194.34" x2="47.70" y2="194.34" stroke="#222" stroke-width="1.0"/>
<line x1="46.20" y1="185.26" x2="47.70" y2="185.26" stroke="#222" stroke-width="1.0"/>
<line x1="46.20" y1="176.18" x2="47.70" y2="176.18" stroke="#222" stroke-width="1.0"/>
<line x1="44.90" y1="167.10" x2="47.70" y2="167.10" stroke="#222" stroke-width="1.2"/>
<text x="43.60" y="170.70" font-size="10" text-anchor="end" fill="#222" textLength="10.0" lengthAdjust="spacingAndGlyphs" stroke="#222" stroke-width="0.15">80</text>
<line x1="46.20" y1="158.02" x2="47.70" y2="158.02" stroke="#222" stroke-width="1.0"/>
<line x1="46.20" y1="148.94" x2="47.70" y2="148.94" stroke="#222" stroke-width="1.0"/>
<line x1="46.20" y1="139.86" x2="47.70" y2="139.86" stroke="#222" stroke-width="1.0"/>
<line x1="46.20" y1="130.78" x2="47.70" y2="130.78" stroke="#222" stroke-width="1.0"/>
<line x1="44.90" y1="121.70" x2="47.70" y2="121.70" stroke="#222" stroke-width="1.2"/>
<text x="43.60" y="125.30" font-size="10" text-anchor="end" fill="#222" textLength="10.0" lengthAdjust="spacingAndGlyphs" stroke="#222" stroke-width="0.15">90</text>
<line x1="46.20" y1="112.62" x2="47.70" y2="112.62" stroke="#222" stroke-width="1.0"/>
<line x1="46.20" y1="103.54" x2="47.70" y2="103.54" stroke="#222" stroke-width="1.0"/>
<line x1="46.20" y1="94.46" x2="47.70" y2="94.46" stroke="#222" stroke-width="1.0"/>
<line x1="46.20" y1="85.38" x2="47.70" y2="85.38" stroke="#222" stroke-width="1.0"/>
<line x1="44.90" y1="76.30" x2="47.70" y2="76.30" stroke="#222" stroke-width="1.2"/>
<text x="43.60" y="79.90" font-size="10" text-anchor="end" fill="#222" textLength="15.0" lengthAdjust="spacingAndGlyphs" stroke="#222" stroke-width="0.15">100</text>
<line x1="69.50" y1="257.90" x2="69.50" y2="261.40" stroke="#222" stroke-width="1.1"/>
<text x="73.10" y="266.20" font-size="12.5" text-anchor="end" fill="#1a1a1a" textLength="16.8" lengthAdjust="spacingAndGlyphs" transform="rotate(-90 73.10 266.20)">Co</text>
<line x1="112.40" y1="257.90" x2="112.40" y2="261.40" stroke="#222" stroke-width="1.1"/>
<text x="116.00" y="264.90" font-size="12.5" text-anchor="end" fill="#1a1a1a" textLength="51.2" lengthAdjust="spacingAndGlyphs" transform="rotate(-90 116.00 264.90)">Aged-Co</text>
<line x1="155.70" y1="257.90" x2="155.70" y2="261.40" stroke="#222" stroke-width="1.1"/>
<text x="159.30" y="265.40" font-size="12.5" text-anchor="end" fill="#1a1a1a" textLength="66.3" lengthAdjust="spacingAndGlyphs" transform="rotate(-90 159.30 265.40)">Non-CMML</text>
<line x1="198.30" y1="257.90" x2="198.30" y2="261.40" stroke="#222" stroke-width="1.1"/>
<text x="201.90" y="265.40" font-size="12.5" text-anchor="end" fill="#1a1a1a" textLength="50.2" lengthAdjust="spacingAndGlyphs" transform="rotate(-90 201.90 265.40)">Reactive</text>
<line x1="241.30" y1="257.90" x2="241.30" y2="261.40" stroke="#222" stroke-width="1.1"/>
<text x="244.90" y="265.40" font-size="12.5" text-anchor="end" fill="#1a1a1a" textLength="36.7" lengthAdjust="spacingAndGlyphs" transform="rotate(-90 244.90 265.40)">CMML</text>
<text x="16.40" y="266.80" font-size="14.5" text-anchor="start" fill="#111" textLength="31.5" lengthAdjust="spacingAndGlyphs" transform="rotate(-90 16.40 266.80)">MO1</text>
<text x="16.40" y="228.55" font-size="14.5" text-anchor="start" fill="#111" textLength="152.0" lengthAdjust="spacingAndGlyphs" transform="rotate(-90 16.40 228.55)">(% of total monocytes)</text>
<circle cx="66.30" cy="109.70" r="2.05" fill="#111"/>
<circle cx="72.70" cy="112.80" r="2.05" fill="#111"/>
<circle cx="63.30" cy="115.00" r="2.05" fill="#111"/>
<circle cx="75.80" cy="117.10" r="2.05" fill="#111"/>
<circle cx="69.40" cy="121.40" r="2.05" fill="#111"/>
<circle cx="60.20" cy="127.20" r="2.05" fill="#111"/>
<circle cx="66.30" cy="131.20" r="2.05" fill="#111"/>
<circle cx="72.50" cy="131.50" r="2.05" fill="#111"/>
<circle cx="78.90" cy="130.20" r="2.05" fill="#111"/>
<circle cx="60.20" cy="134.80" r="2.05" fill="#111"/>
<circle cx="78.90" cy="135.50" r="2.05" fill="#111"/>
<circle cx="64.20" cy="136.70" r="2.05" fill="#111"/>
<circle cx="69.40" cy="135.80" r="2.05" fill="#111"/>
<circle cx="74.30" cy="136.70" r="2.05" fill="#111"/>
<circle cx="66.30" cy="139.20" r="2.05" fill="#111"/>
<circle cx="71.80" cy="139.20" r="2.05" fill="#111"/>
<circle cx="65.10" cy="141.60" r="2.05" fill="#111"/>
<circle cx="69.40" cy="142.20" r="2.05" fill="#111"/>
<circle cx="74.30" cy="141.30" r="2.05" fill="#111"/>
<circle cx="62.90" cy="145.30" r="2.05" fill="#111"/>
<circle cx="75.80" cy="144.40" r="2.05" fill="#111"/>
<circle cx="69.40" cy="147.20" r="2.05" fill="#111"/>
<circle cx="72.70" cy="157.10" r="2.05" fill="#111"/>
<circle cx="66.30" cy="162.00" r="2.05" fill="#111"/>
<circle cx="66.30" cy="170.60" r="2.05" fill="#111"/>
<circle cx="72.50" cy="176.40" r="2.05" fill="#111"/>
<circle cx="69.40" cy="193.00" r="2.05" fill="#111"/>
<circle cx="61.50" cy="138.50" r="2.05" fill="#111"/>
<circle cx="77.50" cy="139.50" r="2.05" fill="#111"/>
<line x1="55.00" y1="139.80" x2="83.80" y2="139.80" stroke="#111" stroke-width="1.4"/>
<rect x="104.15" y="102.25" width="3.9" height="3.9" fill="#111"/>
<rect x="116.75" y="103.45" width="3.9" height="3.9" fill="#111"/>
<rect x="110.95" y="107.55" width="3.9" height="3.9" fill="#111"/>
<rect x="101.05" y="111.75" width="3.9" height="3.9" fill="#111"/>
<rect x="119.85" y="111.75" width="3.9" height="3.9" fill="#111"/>
<rect x="107.55" y="113.95" width="3.9" height="3.9" fill="#111"/>
<rect x="113.95" y="118.25" width="3.9" height="3.9" fill="#111"/>
<rect x="101.05" y="121.85" width="3.9" height="3.9" fill="#111"/>
<rect x="119.85" y="123.15" width="3.9" height="3.9" fill="#111"/>
<rect x="107.25" y="123.15" width="3.9" height="3.9" fill="#111"/>
<rect x="104.15" y="125.55" width="3.9" height="3.9" fill="#111"/>
<rect x="114.55" y="125.55" width="3.9" height="3.9" fill="#111"/>
<rect x="117.05" y="127.45" width="3.9" height="3.9" fill="#111"/>
<rect x="110.25" y="129.25" width="3.9" height="3.9" fill="#111"/>
<rect x="116.45" y="129.85" width="3.9" height="3.9" fill="#111"/>
<rect x="104.15" y="132.95" width="3.9" height="3.9" fill="#111"/>
<rect x="110.95" y="135.35" width="3.9" height="3.9" fill="#111"/>
<rect x="119.85" y="136.95" width="3.9" height="3.9" fill="#111"/>
<rect x="101.05" y="139.05" width="3.9" height="3.9" fill="#111"/>
<rect x="113.95" y="139.05" width="3.9" height="3.9" fill="#111"/>
<rect x="108.45" y="144.55" width="3.9" height="3.9" fill="#111"/>
<rect x="110.25" y="153.15" width="3.9" height="3.9" fill="#111"/>
<rect x="119.85" y="157.45" width="3.9" height="3.9" fill="#111"/>
<rect x="101.05" y="161.45" width="3.9" height="3.9" fill="#111"/>
<rect x="107.55" y="163.25" width="3.9" height="3.9" fill="#111"/>
<rect x="113.95" y="162.35" width="3.9" height="3.9" fill="#111"/>
<rect x="116.75" y="167.65" width="3.9" height="3.9" fill="#111"/>
<rect x="104.15" y="170.35" width="3.9" height="3.9" fill="#111"/>
<rect x="110.95" y="172.55" width="3.9" height="3.9" fill="#111"/>
<rect x="104.15" y="183.55" width="3.9" height="3.9" fill="#111"/>
<rect x="110.95" y="188.45" width="3.9" height="3.9" fill="#111"/>
<rect x="116.75" y="187.75" width="3.9" height="3.9" fill="#111"/>
<rect x="107.55" y="194.85" width="3.9" height="3.9" fill="#111"/>
<rect x="104.15" y="201.95" width="3.9" height="3.9" fill="#111"/>
<rect x="113.95" y="201.25" width="3.9" height="3.9" fill="#111"/>
<rect x="117.05" y="202.85" width="3.9" height="3.9" fill="#111"/>
<rect x="110.95" y="209.35" width="3.9" height="3.9" fill="#111"/>
<rect x="110.55" y="126.05" width="3.9" height="3.9" fill="#111"/>
<rect x="107.05" y="128.05" width="3.9" height="3.9" fill="#111"/>
<rect x="113.05" y="132.05" width="3.9" height="3.9" fill="#111"/>
<rect x="117.05" y="133.05" width="3.9" height="3.9" fill="#111"/>
<line x1="98.10" y1="149.00" x2="127.00" y2="149.00" stroke="#111" stroke-width="1.4"/>
<line x1="105.50" y1="144.10" x2="119.00" y2="144.10" stroke="#111" stroke-width="1.2"/>
<line x1="105.50" y1="153.90" x2="119.00" y2="153.90" stroke="#111" stroke-width="1.2"/>
<line x1="112.00" y1="144.10" x2="112.00" y2="153.90" stroke="#111" stroke-width="1.2"/>
<polygon points="149.50,90.42 151.80,94.56 147.20,94.56" fill="#111"/>
<polygon points="152.80,88.32 155.10,92.46 150.50,92.46" fill="#111"/>
<polygon points="158.90,87.92 161.20,92.06 156.60,92.06" fill="#111"/>
<polygon points="162.20,89.42 164.50,93.56 159.90,93.56" fill="#111"/>
<polygon points="155.60,94.72 157.90,98.86 153.30,98.86" fill="#111"/>
<polygon points="158.90,99.32 161.20,103.46 156.60,103.46" fill="#111"/>
<polygon points="152.80,103.32 155.10,107.46 150.50,107.46" fill="#111"/>
<polygon points="155.60,113.72 157.90,117.86 153.30,117.86" fill="#111"/>
<polygon points="152.80,123.92 155.10,128.06 150.50,128.06" fill="#111"/>
<polygon points="158.90,121.92 161.20,126.06 156.60,126.06" fill="#111"/>
<polygon points="155.60,131.52 157.90,135.66 153.30,135.66" fill="#111"/>
<polygon points="149.50,137.42 151.80,141.56 147.20,141.56" fill="#111"/>
<polygon points="161.70,142.32 164.00,146.46 159.40,146.46" fill="#111"/>
<polygon points="152.80,155.12 155.10,159.26 150.50,159.26" fill="#111"/>
<polygon points="158.90,155.42 161.20,159.56 156.60,159.56" fill="#111"/>
<polygon points="155.60,165.62 157.90,169.76 153.30,169.76" fill="#111"/>
<polygon points="155.60,179.92 157.90,184.06 153.30,184.06" fill="#111"/>
<polygon points="152.80,191.32 155.10,195.46 150.50,195.46" fill="#111"/>
<polygon points="158.90,190.42 161.20,194.56 156.60,194.56" fill="#111"/>
<polygon points="155.60,198.92 157.90,203.06 153.30,203.06" fill="#111"/>
<polygon points="158.90,206.32 161.20,210.46 156.60,210.46" fill="#111"/>
<polygon points="152.80,209.42 155.10,213.56 150.50,213.56" fill="#111"/>
<line x1="141.10" y1="147.20" x2="170.00" y2="147.20" stroke="#111" stroke-width="1.4"/>
<line x1="148.50" y1="137.10" x2="162.60" y2="137.10" stroke="#111" stroke-width="1.2"/>
<line x1="148.50" y1="157.90" x2="162.60" y2="157.90" stroke="#111" stroke-width="1.2"/>
<line x1="155.60" y1="137.10" x2="155.60" y2="157.90" stroke="#111" stroke-width="1.2"/>
<polygon points="190.20,102.94 194.80,102.94 192.50,107.08" fill="#111"/>
<polygon points="196.60,103.74 201.20,103.74 198.90,107.88" fill="#111"/>
<polygon points="202.90,102.94 207.50,102.94 205.20,107.08" fill="#111"/>
<polygon points="193.50,116.04 198.10,116.04 195.80,120.18" fill="#111"/>
<polygon points="199.60,119.14 204.20,119.14 201.90,123.28" fill="#111"/>
<polygon points="196.60,127.04 201.20,127.04 198.90,131.18" fill="#111"/>
<polygon points="202.90,133.24 207.50,133.24 205.20,137.38" fill="#111"/>
<polygon points="190.20,137.54 194.80,137.54 192.50,141.68" fill="#111"/>
<polygon points="196.60,139.74 201.20,139.74 198.90,143.88" fill="#111"/>
<polygon points="187.00,144.24 191.60,144.24 189.30,148.38" fill="#111"/>
<polygon points="199.60,144.84 204.20,144.84 201.90,148.98" fill="#111"/>
<polygon points="205.80,144.24 210.40,144.24 208.10,148.38" fill="#111"/>
<polygon points="193.50,149.74 198.10,149.74 195.80,153.88" fill="#111"/>
<polygon points="193.50,152.84 198.10,152.84 195.80,156.98" fill="#111"/>
<polygon points="199.60,157.74 204.20,157.74 201.90,161.88" fill="#111"/>
<polygon points="190.20,163.04 194.80,163.04 192.50,167.18" fill="#111"/>
<polygon points="190.20,174.34 194.80,174.34 192.50,178.48" fill="#111"/>
<polygon points="196.60,173.04 201.20,173.04 198.90,177.18" fill="#111"/>
<polygon points="202.90,174.34 207.50,174.34 205.20,178.48" fill="#111"/>
<polygon points="196.60,180.44 201.20,180.44 198.90,184.58" fill="#111"/>
<polygon points="190.20,194.94 194.80,194.94 192.50,199.08" fill="#111"/>
<polygon points="196.60,200.04 201.20,200.04 198.90,204.18" fill="#111"/>
<polygon points="202.90,200.04 207.50,200.04 205.20,204.18" fill="#111"/>
<polygon points="193.50,205.54 198.10,205.54 195.80,209.68" fill="#111"/>
<polygon points="199.60,210.44 204.20,210.44 201.90,214.58" fill="#111"/>
<polygon points="187.00,218.44 191.60,218.44 189.30,222.58" fill="#111"/>
<polygon points="193.50,222.14 198.10,222.14 195.80,226.28" fill="#111"/>
<polygon points="199.60,220.34 204.20,220.34 201.90,224.48" fill="#111"/>
<polygon points="205.80,216.64 210.40,216.64 208.10,220.78" fill="#111"/>
<line x1="184.10" y1="171.70" x2="213.00" y2="171.70" stroke="#111" stroke-width="1.4"/>
<line x1="191.50" y1="163.10" x2="205.60" y2="163.10" stroke="#111" stroke-width="1.2"/>
<line x1="191.50" y1="179.60" x2="205.60" y2="179.60" stroke="#111" stroke-width="1.2"/>
<line x1="198.50" y1="163.10" x2="198.50" y2="179.60" stroke="#111" stroke-width="1.2"/>
<polygon points="232.10,77.95 234.55,80.40 232.10,82.85 229.65,80.40" fill="#111"/>
<polygon points="238.80,77.95 241.25,80.40 238.80,82.85 236.35,80.40" fill="#111"/>
<polygon points="244.90,77.95 247.35,80.40 244.90,82.85 242.45,80.40" fill="#111"/>
<polygon points="251.60,76.95 254.05,79.40 251.60,81.85 249.15,79.40" fill="#111"/>
<polygon points="235.10,80.25 237.55,82.70 235.10,85.15 232.65,82.70" fill="#111"/>
<polygon points="241.80,80.25 244.25,82.70 241.80,85.15 239.35,82.70" fill="#111"/>
<polygon points="248.20,80.25 250.65,82.70 248.20,85.15 245.75,82.70" fill="#111"/>
<polygon points="232.10,82.65 234.55,85.10 232.10,87.55 229.65,85.10" fill="#111"/>
<polygon points="238.30,82.65 240.75,85.10 238.30,87.55 235.85,85.10" fill="#111"/>
<polygon points="241.50,82.65 243.95,85.10 241.50,87.55 239.05,85.10" fill="#111"/>
<polygon points="245.90,82.65 248.35,85.10 245.90,87.55 243.45,85.10" fill="#111"/>
<polygon points="251.20,82.65 253.65,85.10 251.20,87.55 248.75,85.10" fill="#111"/>
<polygon points="231.70,85.35 234.15,87.80 231.70,90.25 229.25,87.80" fill="#111"/>
<polygon points="235.10,85.35 237.55,87.80 235.10,90.25 232.65,87.80" fill="#111"/>
<polygon points="238.80,85.35 241.25,87.80 238.80,90.25 236.35,87.80" fill="#111"/>
<polygon points="242.50,85.35 244.95,87.80 242.50,90.25 240.05,87.80" fill="#111"/>
<polygon points="245.90,85.35 248.35,87.80 245.90,90.25 243.45,87.80" fill="#111"/>
<polygon points="249.20,85.35 251.65,87.80 249.20,90.25 246.75,87.80" fill="#111"/>
<polygon points="251.90,85.35 254.35,87.80 251.90,90.25 249.45,87.80" fill="#111"/>
<polygon points="233.70,87.75 236.15,90.20 233.70,92.65 231.25,90.20" fill="#111"/>
<polygon points="237.10,87.75 239.55,90.20 237.10,92.65 234.65,90.20" fill="#111"/>
<polygon points="240.50,87.75 242.95,90.20 240.50,92.65 238.05,90.20" fill="#111"/>
<polygon points="244.50,87.75 246.95,90.20 244.50,92.65 242.05,90.20" fill="#111"/>
<polygon points="247.90,87.75 250.35,90.20 247.90,92.65 245.45,90.20" fill="#111"/>
<polygon points="251.20,87.75 253.65,90.20 251.20,92.65 248.75,90.20" fill="#111"/>
<polygon points="231.70,90.35 234.15,92.80 231.70,95.25 229.25,92.80" fill="#111"/>
<polygon points="235.10,90.35 237.55,92.80 235.10,95.25 232.65,92.80" fill="#111"/>
<polygon points="238.50,90.35 240.95,92.80 238.50,95.25 236.05,92.80" fill="#111"/>
<polygon points="241.80,90.35 244.25,92.80 241.80,95.25 239.35,92.80" fill="#111"/>
<polygon points="245.20,90.35 247.65,92.80 245.20,95.25 242.75,92.80" fill="#111"/>
<polygon points="248.60,90.35 251.05,92.80 248.60,95.25 246.15,92.80" fill="#111"/>
<polygon points="251.60,90.35 254.05,92.80 251.60,95.25 249.15,92.80" fill="#111"/>
<polygon points="231.70,92.75 234.15,95.20 231.70,97.65 229.25,95.20" fill="#111"/>
<polygon points="235.10,92.75 237.55,95.20 235.10,97.65 232.65,95.20" fill="#111"/>
<polygon points="239.80,92.75 242.25,95.20 239.80,97.65 237.35,95.20" fill="#111"/>
<polygon points="243.20,92.75 245.65,95.20 243.20,97.65 240.75,95.20" fill="#111"/>
<polygon points="247.90,92.75 250.35,95.20 247.90,97.65 245.45,95.20" fill="#111"/>
<polygon points="251.60,92.75 254.05,95.20 251.60,97.65 249.15,95.20" fill="#111"/>
<polygon points="235.10,94.75 237.55,97.20 235.10,99.65 232.65,97.20" fill="#111"/>
<polygon points="241.80,94.75 244.25,97.20 241.80,99.65 239.35,97.20" fill="#111"/>
<polygon points="245.20,94.75 247.65,97.20 245.20,99.65 242.75,97.20" fill="#111"/>
<polygon points="248.60,94.75 251.05,97.20 248.60,99.65 246.15,97.20" fill="#111"/>
<polygon points="232.40,97.45 234.85,99.90 232.40,102.35 229.95,99.90" fill="#111"/>
<polygon points="238.50,97.45 240.95,99.90 238.50,102.35 236.05,99.90" fill="#111"/>
<polygon points="244.50,97.45 246.95,99.90 244.50,102.35 242.05,99.90" fill="#111"/>
<polygon points="251.60,99.15 254.05,101.60 251.60,104.05 249.15,101.60" fill="#111"/>
<polygon points="238.75,101.65 241.20,104.10 238.75,106.55 236.30,104.10" fill="#111"/>
<polygon points="245.20,102.35 247.65,104.80 245.20,107.25 242.75,104.80" fill="#111"/>
<polygon points="235.40,106.55 237.85,109.00 235.40,111.45 232.95,109.00" fill="#111"/>
<polygon points="241.60,112.75 244.05,115.20 241.60,117.65 239.15,115.20" fill="#111"/>
<polygon points="247.90,112.25 250.35,114.70 247.90,117.15 245.45,114.70" fill="#111"/>
<line x1="227.20" y1="91.60" x2="256.00" y2="91.60" stroke="#111" stroke-width="1.4"/>
<text x="13.30" y="381.40" font-size="17.5" text-anchor="start" fill="#111" font-weight="bold" textLength="12.4" lengthAdjust="spacingAndGlyphs">C</text>
<line x1="79.11" y1="396.50" x2="79.11" y2="592.70" stroke="#f4f4f4" stroke-width="0.8"/>
<line x1="48.10" y1="561.10" x2="242.60" y2="561.10" stroke="#f4f4f4" stroke-width="0.8"/>
<line x1="123.14" y1="396.50" x2="123.14" y2="592.70" stroke="#f4f4f4" stroke-width="0.8"/>
<line x1="48.10" y1="516.70" x2="242.60" y2="516.70" stroke="#f4f4f4" stroke-width="0.8"/>
<line x1="167.16" y1="396.50" x2="167.16" y2="592.70" stroke="#f4f4f4" stroke-width="0.8"/>
<line x1="48.10" y1="472.30" x2="242.60" y2="472.30" stroke="#f4f4f4" stroke-width="0.8"/>
<line x1="211.19" y1="396.50" x2="211.19" y2="592.70" stroke="#f4f4f4" stroke-width="0.8"/>
<line x1="48.10" y1="427.90" x2="242.60" y2="427.90" stroke="#f4f4f4" stroke-width="0.8"/>
<line x1="57.10" y1="396.50" x2="57.10" y2="592.70" stroke="#e2e2e2" stroke-width="1.0"/>
<line x1="101.12" y1="396.50" x2="101.12" y2="592.70" stroke="#e2e2e2" stroke-width="1.0"/>
<line x1="145.15" y1="396.50" x2="145.15" y2="592.70" stroke="#e2e2e2" stroke-width="1.0"/>
<line x1="189.17" y1="396.50" x2="189.17" y2="592.70" stroke="#e2e2e2" stroke-width="1.0"/>
<line x1="233.20" y1="396.50" x2="233.20" y2="592.70" stroke="#e2e2e2" stroke-width="1.0"/>
<line x1="48.10" y1="583.30" x2="242.60" y2="583.30" stroke="#e2e2e2" stroke-width="1.0"/>
<line x1="48.10" y1="538.90" x2="242.60" y2="538.90" stroke="#e2e2e2" stroke-width="1.0"/>
<line x1="48.10" y1="494.50" x2="242.60" y2="494.50" stroke="#e2e2e2" stroke-width="1.0"/>
<line x1="48.10" y1="450.10" x2="242.60" y2="450.10" stroke="#e2e2e2" stroke-width="1.0"/>
<line x1="48.10" y1="405.70" x2="242.60" y2="405.70" stroke="#e2e2e2" stroke-width="1.0"/>
<rect x="48.1" y="396.5" width="194.5" height="196.2" fill="none" stroke="#666" stroke-width="1.1"/>
<line x1="44.60" y1="583.30" x2="48.10" y2="583.30" stroke="#555" stroke-width="0.9"/>
<text x="41.60" y="585.60" font-size="6.6" text-anchor="end" fill="#333" textLength="12.0" lengthAdjust="spacingAndGlyphs" stroke="#333" stroke-width="0.12">0.00</text>
<line x1="57.10" y1="592.70" x2="57.10" y2="595.70" stroke="#555" stroke-width="0.9"/>
<text x="57.30" y="604.40" font-size="6.6" text-anchor="middle" fill="#333" textLength="12.0" lengthAdjust="spacingAndGlyphs" stroke="#333" stroke-width="0.12">0.00</text>
<line x1="44.60" y1="538.90" x2="48.10" y2="538.90" stroke="#555" stroke-width="0.9"/>
<text x="41.60" y="541.20" font-size="6.6" text-anchor="end" fill="#333" textLength="12.0" lengthAdjust="spacingAndGlyphs" stroke="#333" stroke-width="0.12">0.25</text>
<line x1="101.12" y1="592.70" x2="101.12" y2="595.70" stroke="#555" stroke-width="0.9"/>
<text x="101.33" y="604.40" font-size="6.6" text-anchor="middle" fill="#333" textLength="12.0" lengthAdjust="spacingAndGlyphs" stroke="#333" stroke-width="0.12">0.25</text>
<line x1="44.60" y1="494.50" x2="48.10" y2="494.50" stroke="#555" stroke-width="0.9"/>
<text x="41.60" y="496.80" font-size="6.6" text-anchor="end" fill="#333" textLength="12.0" lengthAdjust="spacingAndGlyphs" stroke="#333" stroke-width="0.12">0.50</text>
<line x1="145.15" y1="592.70" x2="145.15" y2="595.70" stroke="#555" stroke-width="0.9"/>
<text x="145.35" y="604.40" font-size="6.6" text-anchor="middle" fill="#333" textLength="12.0" lengthAdjust="spacingAndGlyphs" stroke="#333" stroke-width="0.12">0.50</text>
<line x1="44.60" y1="450.10" x2="48.10" y2="450.10" stroke="#555" stroke-width="0.9"/>
<text x="41.60" y="452.40" font-size="6.6" text-anchor="end" fill="#333" textLength="12.0" lengthAdjust="spacingAndGlyphs" stroke="#333" stroke-width="0.12">0.75</text>
<line x1="189.17" y1="592.70" x2="189.17" y2="595.70" stroke="#555" stroke-width="0.9"/>
<text x="189.37" y="604.40" font-size="6.6" text-anchor="middle" fill="#333" textLength="12.0" lengthAdjust="spacingAndGlyphs" stroke="#333" stroke-width="0.12">0.75</text>
<line x1="44.60" y1="405.70" x2="48.10" y2="405.70" stroke="#555" stroke-width="0.9"/>
<text x="41.60" y="408.00" font-size="6.6" text-anchor="end" fill="#333" textLength="12.0" lengthAdjust="spacingAndGlyphs" stroke="#333" stroke-width="0.12">1.00</text>
<line x1="233.20" y1="592.70" x2="233.20" y2="595.70" stroke="#555" stroke-width="0.9"/>
<text x="233.40" y="604.40" font-size="6.6" text-anchor="middle" fill="#333" textLength="12.0" lengthAdjust="spacingAndGlyphs" stroke="#333" stroke-width="0.12">1.00</text>
<line x1="48.10" y1="592.70" x2="242.60" y2="396.50" stroke="#9a9a9a" stroke-width="0.9"/>
<path d="M57.2,583.3 V508.6 H58.7 V498.1 H61.1 V484.4 H62.7 V467.4 H64.4 V443.5 H66.3 V426.5 H67 V425 H68.2 V423.1 H69.3 V421.2 H70.5 V419.6 H71.6 V417.7 H72.4 V416 H79.3 V413.8 H80.1 V412.3 H85.5 V405.8 H233.2" fill="none" stroke="#5a5a5a" stroke-width="1.25"/>
<text x="102.20" y="565.80" font-size="14.2" text-anchor="start" fill="#111" textLength="127.8" lengthAdjust="spacingAndGlyphs">Area under the curve</text>
<text x="106.50" y="582.30" font-size="14.2" text-anchor="start" fill="#111" textLength="46.2" lengthAdjust="spacingAndGlyphs">= 0.977</text>
<text x="16.10" y="508.80" font-size="13.5" text-anchor="start" fill="#111" textLength="60.7" lengthAdjust="spacingAndGlyphs" transform="rotate(-90 16.10 508.80)">Sensitivity</text>
<text x="108.50" y="628.00" font-size="13.5" text-anchor="start" fill="#111" textLength="78.4" lengthAdjust="spacingAndGlyphs">1- Specificity</text>
<text x="276.00" y="381.00" font-size="17.6" text-anchor="start" fill="#111" font-weight="bold" textLength="11.2" lengthAdjust="spacingAndGlyphs">D</text>
<text x="298.00" y="380.80" font-size="14.8" text-anchor="start" fill="#111" textLength="106" lengthAdjust="spacingAndGlyphs">Validation Cohort</text>
<line x1="309.70" y1="403.30" x2="309.70" y2="577.20" stroke="#222" stroke-width="1.2"/>
<line x1="309.10" y1="576.60" x2="506.00" y2="576.60" stroke="#222" stroke-width="1.3"/>
<line x1="308.40" y1="572.76" x2="309.70" y2="572.76" stroke="#222" stroke-width="0.9"/>
<line x1="308.40" y1="565.08" x2="309.70" y2="565.08" stroke="#222" stroke-width="0.9"/>
<line x1="307.40" y1="557.40" x2="309.70" y2="557.40" stroke="#222" stroke-width="1.1"/>
<text x="306.40" y="560.40" font-size="8.3" text-anchor="end" fill="#222" textLength="8.9" lengthAdjust="spacingAndGlyphs" stroke="#222" stroke-width="0.15">60</text>
<line x1="308.40" y1="549.72" x2="309.70" y2="549.72" stroke="#222" stroke-width="0.9"/>
<line x1="308.40" y1="542.04" x2="309.70" y2="542.04" stroke="#222" stroke-width="0.9"/>
<line x1="308.40" y1="534.36" x2="309.70" y2="534.36" stroke="#222" stroke-width="0.9"/>
<line x1="308.40" y1="526.68" x2="309.70" y2="526.68" stroke="#222" stroke-width="0.9"/>
<line x1="307.40" y1="519.00" x2="309.70" y2="519.00" stroke="#222" stroke-width="1.1"/>
<text x="306.40" y="522.00" font-size="8.3" text-anchor="end" fill="#222" textLength="8.9" lengthAdjust="spacingAndGlyphs" stroke="#222" stroke-width="0.15">70</text>
<line x1="308.40" y1="511.32" x2="309.70" y2="511.32" stroke="#222" stroke-width="0.9"/>
<line x1="308.40" y1="503.64" x2="309.70" y2="503.64" stroke="#222" stroke-width="0.9"/>
<line x1="308.40" y1="495.96" x2="309.70" y2="495.96" stroke="#222" stroke-width="0.9"/>
<line x1="308.40" y1="488.28" x2="309.70" y2="488.28" stroke="#222" stroke-width="0.9"/>
<line x1="307.40" y1="480.60" x2="309.70" y2="480.60" stroke="#222" stroke-width="1.1"/>
<text x="306.40" y="483.60" font-size="8.3" text-anchor="end" fill="#222" textLength="8.9" lengthAdjust="spacingAndGlyphs" stroke="#222" stroke-width="0.15">80</text>
<line x1="308.40" y1="472.92" x2="309.70" y2="472.92" stroke="#222" stroke-width="0.9"/>
<line x1="308.40" y1="465.24" x2="309.70" y2="465.24" stroke="#222" stroke-width="0.9"/>
<line x1="308.40" y1="457.56" x2="309.70" y2="457.56" stroke="#222" stroke-width="0.9"/>
<line x1="308.40" y1="449.88" x2="309.70" y2="449.88" stroke="#222" stroke-width="0.9"/>
<line x1="307.40" y1="442.20" x2="309.70" y2="442.20" stroke="#222" stroke-width="1.1"/>
<text x="306.40" y="445.20" font-size="8.3" text-anchor="end" fill="#222" textLength="8.9" lengthAdjust="spacingAndGlyphs" stroke="#222" stroke-width="0.15">90</text>
<line x1="308.40" y1="434.52" x2="309.70" y2="434.52" stroke="#222" stroke-width="0.9"/>
<line x1="308.40" y1="426.84" x2="309.70" y2="426.84" stroke="#222" stroke-width="0.9"/>
<line x1="308.40" y1="419.16" x2="309.70" y2="419.16" stroke="#222" stroke-width="0.9"/>
<line x1="308.40" y1="411.48" x2="309.70" y2="411.48" stroke="#222" stroke-width="0.9"/>
<line x1="307.40" y1="403.80" x2="309.70" y2="403.80" stroke="#222" stroke-width="1.1"/>
<text x="306.40" y="406.80" font-size="8.3" text-anchor="end" fill="#222" textLength="13.3" lengthAdjust="spacingAndGlyphs" stroke="#222" stroke-width="0.15">100</text>
<line x1="307.00" y1="426.90" x2="511.40" y2="426.90" stroke="#2a2a2a" stroke-width="1.4" stroke-dasharray="1.8 1.4"/>
<line x1="335.00" y1="576.60" x2="335.00" y2="579.60" stroke="#222" stroke-width="1.0"/>
<text x="338.90" y="586.50" font-size="12" text-anchor="end" fill="#1a1a1a" textLength="48.4" lengthAdjust="spacingAndGlyphs" transform="rotate(-90 338.90 586.50)">Aged-Co</text>
<line x1="383.60" y1="576.60" x2="383.60" y2="579.60" stroke="#222" stroke-width="1.0"/>
<text x="387.50" y="586.50" font-size="12" text-anchor="end" fill="#1a1a1a" textLength="64.2" lengthAdjust="spacingAndGlyphs" transform="rotate(-90 387.50 586.50)">Non-CMML</text>
<line x1="432.20" y1="576.60" x2="432.20" y2="579.60" stroke="#222" stroke-width="1.0"/>
<text x="436.10" y="586.50" font-size="12" text-anchor="end" fill="#1a1a1a" textLength="48.6" lengthAdjust="spacingAndGlyphs" transform="rotate(-90 436.10 586.50)">Reactive</text>
<line x1="479.40" y1="576.60" x2="479.40" y2="579.60" stroke="#222" stroke-width="1.0"/>
<text x="483.30" y="586.50" font-size="12" text-anchor="end" fill="#1a1a1a" textLength="35.8" lengthAdjust="spacingAndGlyphs" transform="rotate(-90 483.30 586.50)">CMML</text>
<text x="282.00" y="579.90" font-size="13.4" text-anchor="start" fill="#111" textLength="29.2" lengthAdjust="spacingAndGlyphs" transform="rotate(-90 282.00 579.90)">MO1</text>
<text x="282.00" y="545.80" font-size="13.4" text-anchor="start" fill="#111" textLength="139.7" lengthAdjust="spacingAndGlyphs" transform="rotate(-90 282.00 545.80)">(% of total monocytes)</text>
<circle cx="329.70" cy="428.10" r="1.45" fill="#111"/>
<circle cx="338.80" cy="428.10" r="1.45" fill="#111"/>
<circle cx="334.40" cy="430.00" r="1.45" fill="#111"/>
<circle cx="325.60" cy="432.20" r="1.45" fill="#111"/>
<circle cx="338.80" cy="432.70" r="1.45" fill="#111"/>
<circle cx="343.10" cy="432.00" r="1.45" fill="#111"/>
<circle cx="329.90" cy="434.00" r="1.45" fill="#111"/>
<circle cx="334.40" cy="434.70" r="1.45" fill="#111"/>
<circle cx="323.50" cy="438.20" r="1.45" fill="#111"/>
<circle cx="327.90" cy="438.90" r="1.45" fill="#111"/>
<circle cx="341.00" cy="438.90" r="1.45" fill="#111"/>
<circle cx="345.20" cy="437.30" r="1.45" fill="#111"/>
<circle cx="332.00" cy="441.00" r="1.45" fill="#111"/>
<circle cx="336.70" cy="441.00" r="1.45" fill="#111"/>
<circle cx="327.90" cy="442.10" r="1.45" fill="#111"/>
<circle cx="332.00" cy="445.30" r="1.45" fill="#111"/>
<circle cx="336.70" cy="446.00" r="1.45" fill="#111"/>
<circle cx="341.00" cy="444.70" r="1.45" fill="#111"/>
<circle cx="325.60" cy="448.60" r="1.45" fill="#111"/>
<circle cx="329.90" cy="450.00" r="1.45" fill="#111"/>
<circle cx="334.40" cy="451.30" r="1.45" fill="#111"/>
<circle cx="338.80" cy="451.20" r="1.45" fill="#111"/>
<circle cx="343.10" cy="448.60" r="1.45" fill="#111"/>
<circle cx="332.00" cy="454.30" r="1.45" fill="#111"/>
<circle cx="336.70" cy="453.90" r="1.45" fill="#111"/>
<circle cx="321.50" cy="455.50" r="1.45" fill="#111"/>
<circle cx="325.60" cy="456.70" r="1.45" fill="#111"/>
<circle cx="329.90" cy="457.30" r="1.45" fill="#111"/>
<circle cx="334.40" cy="457.30" r="1.45" fill="#111"/>
<circle cx="338.80" cy="457.30" r="1.45" fill="#111"/>
<circle cx="343.10" cy="456.40" r="1.45" fill="#111"/>
<circle cx="347.30" cy="454.60" r="1.45" fill="#111"/>
<circle cx="321.50" cy="460.10" r="1.45" fill="#111"/>
<circle cx="325.60" cy="460.60" r="1.45" fill="#111"/>
<circle cx="329.70" cy="462.60" r="1.45" fill="#111"/>
<circle cx="334.40" cy="462.60" r="1.45" fill="#111"/>
<circle cx="338.80" cy="462.60" r="1.45" fill="#111"/>
<circle cx="343.10" cy="461.00" r="1.45" fill="#111"/>
<circle cx="347.30" cy="460.60" r="1.45" fill="#111"/>
<circle cx="332.00" cy="459.50" r="1.45" fill="#111"/>
<circle cx="336.70" cy="459.50" r="1.45" fill="#111"/>
<circle cx="323.50" cy="465.60" r="1.45" fill="#111"/>
<circle cx="327.90" cy="466.50" r="1.45" fill="#111"/>
<circle cx="332.00" cy="464.70" r="1.45" fill="#111"/>
<circle cx="336.70" cy="465.20" r="1.45" fill="#111"/>
<circle cx="345.20" cy="466.30" r="1.45" fill="#111"/>
<circle cx="332.00" cy="469.30" r="1.45" fill="#111"/>
<circle cx="336.70" cy="469.30" r="1.45" fill="#111"/>
<circle cx="341.00" cy="468.70" r="1.45" fill="#111"/>
<circle cx="325.40" cy="474.10" r="1.45" fill="#111"/>
<circle cx="329.90" cy="475.50" r="1.45" fill="#111"/>
<circle cx="334.40" cy="476.20" r="1.45" fill="#111"/>
<circle cx="338.80" cy="476.20" r="1.45" fill="#111"/>
<circle cx="343.10" cy="475.30" r="1.45" fill="#111"/>
<circle cx="343.10" cy="477.60" r="1.45" fill="#111"/>
<circle cx="325.40" cy="478.30" r="1.45" fill="#111"/>
<circle cx="329.90" cy="481.10" r="1.45" fill="#111"/>
<circle cx="334.40" cy="481.80" r="1.45" fill="#111"/>
<circle cx="338.80" cy="480.40" r="1.45" fill="#111"/>
<circle cx="329.90" cy="483.60" r="1.45" fill="#111"/>
<circle cx="338.80" cy="484.50" r="1.45" fill="#111"/>
<circle cx="334.40" cy="486.90" r="1.45" fill="#111"/>
<circle cx="332.30" cy="490.50" r="1.45" fill="#111"/>
<circle cx="336.40" cy="494.20" r="1.45" fill="#111"/>
<circle cx="332.30" cy="508.00" r="1.45" fill="#111"/>
<circle cx="336.40" cy="506.20" r="1.45" fill="#111"/>
<circle cx="334.40" cy="521.50" r="1.45" fill="#111"/>
<circle cx="334.40" cy="526.40" r="1.45" fill="#111"/>
<line x1="317.80" y1="461.30" x2="350.00" y2="461.30" stroke="#111" stroke-width="1.2"/>
<polygon points="372.70,418.97 374.30,421.85 371.10,421.85" fill="#111"/>
<polygon points="394.30,418.97 395.90,421.85 392.70,421.85" fill="#111"/>
<polygon points="376.80,422.07 378.40,424.95 375.20,424.95" fill="#111"/>
<polygon points="381.20,422.07 382.80,424.95 379.60,424.95" fill="#111"/>
<polygon points="385.60,421.77 387.20,424.65 384.00,424.65" fill="#111"/>
<polygon points="389.70,421.07 391.30,423.95 388.10,423.95" fill="#111"/>
<polygon points="387.70,424.17 389.30,427.05 386.10,427.05" fill="#111"/>
<polygon points="379.10,427.97 380.70,430.85 377.50,430.85" fill="#111"/>
<polygon points="383.30,427.97 384.90,430.85 381.70,430.85" fill="#111"/>
<polygon points="381.20,430.27 382.80,433.15 379.60,433.15" fill="#111"/>
<polygon points="385.60,430.27 387.20,433.15 384.00,433.15" fill="#111"/>
<polygon points="370.40,430.77 372.00,433.65 368.80,433.65" fill="#111"/>
<polygon points="374.50,432.47 376.10,435.35 372.90,435.35" fill="#111"/>
<polygon points="379.10,433.57 380.70,436.45 377.50,436.45" fill="#111"/>
<polygon points="383.30,433.77 384.90,436.65 381.70,436.65" fill="#111"/>
<polygon points="387.70,433.97 389.30,436.85 386.10,436.85" fill="#111"/>
<polygon points="392.00,433.07 393.60,435.95 390.40,435.95" fill="#111"/>
<polygon points="396.20,432.17 397.80,435.05 394.60,435.05" fill="#111"/>
<polygon points="396.20,436.17 397.80,439.05 394.60,439.05" fill="#111"/>
<polygon points="370.40,439.07 372.00,441.95 368.80,441.95" fill="#111"/>
<polygon points="374.50,440.17 376.10,443.05 372.90,443.05" fill="#111"/>
<polygon points="379.10,440.17 380.70,443.05 377.50,443.05" fill="#111"/>
<polygon points="383.30,440.17 384.90,443.05 381.70,443.05" fill="#111"/>
<polygon points="387.70,440.17 389.30,443.05 386.10,443.05" fill="#111"/>
<polygon points="392.00,439.27 393.60,442.15 390.40,442.15" fill="#111"/>
<polygon points="374.50,443.67 376.10,446.55 372.90,446.55" fill="#111"/>
<polygon points="379.10,445.97 380.70,448.85 377.50,448.85" fill="#111"/>
<polygon points="383.30,446.87 384.90,449.75 381.70,449.75" fill="#111"/>
<polygon points="387.70,445.97 389.30,448.85 386.10,448.85" fill="#111"/>
<polygon points="392.00,445.67 393.60,448.55 390.40,448.55" fill="#111"/>
<polygon points="374.50,450.27 376.10,453.15 372.90,453.15" fill="#111"/>
<polygon points="379.10,450.57 380.70,453.45 377.50,453.45" fill="#111"/>
<polygon points="383.30,451.27 384.90,454.15 381.70,454.15" fill="#111"/>
<polygon points="387.70,450.27 389.30,453.15 386.10,453.15" fill="#111"/>
<polygon points="392.00,450.27 393.60,453.15 390.40,453.15" fill="#111"/>
<polygon points="385.60,455.17 387.20,458.05 384.00,458.05" fill="#111"/>
<polygon points="381.20,457.97 382.80,460.85 379.60,460.85" fill="#111"/>
<polygon points="376.80,460.47 378.40,463.35 375.20,463.35" fill="#111"/>
<polygon points="381.20,460.47 382.80,463.35 379.60,463.35" fill="#111"/>
<polygon points="389.70,460.47 391.30,463.35 388.10,463.35" fill="#111"/>
<polygon points="385.60,463.47 387.20,466.35 384.00,466.35" fill="#111"/>
<polygon points="379.10,466.77 380.70,469.65 377.50,469.65" fill="#111"/>
<polygon points="387.70,468.77 389.30,471.65 386.10,471.65" fill="#111"/>
<polygon points="381.20,472.47 382.80,475.35 379.60,475.35" fill="#111"/>
<polygon points="385.60,474.37 387.20,477.25 384.00,477.25" fill="#111"/>
<polygon points="383.30,479.17 384.90,482.05 381.70,482.05" fill="#111"/>
<polygon points="372.70,482.77 374.30,485.65 371.10,485.65" fill="#111"/>
<polygon points="376.80,484.67 378.40,487.55 375.20,487.55" fill="#111"/>
<polygon points="381.20,484.97 382.80,487.85 379.60,487.85" fill="#111"/>
<polygon points="385.60,487.07 387.20,489.95 384.00,489.95" fill="#111"/>
<polygon points="389.70,484.97 391.30,487.85 388.10,487.85" fill="#111"/>
<polygon points="394.30,484.47 395.90,487.35 392.70,487.35" fill="#111"/>
<polygon points="376.80,489.97 378.40,492.85 375.20,492.85" fill="#111"/>
<polygon points="385.60,490.87 387.20,493.75 384.00,493.75" fill="#111"/>
<polygon points="389.70,489.07 391.30,491.95 388.10,491.95" fill="#111"/>
<polygon points="381.20,492.97 382.80,495.85 379.60,495.85" fill="#111"/>
<polygon points="372.70,498.07 374.30,500.95 371.10,500.95" fill="#111"/>
<polygon points="376.80,498.27 378.40,501.15 375.20,501.15" fill="#111"/>
<polygon points="381.20,499.67 382.80,502.55 379.60,502.55" fill="#111"/>
<polygon points="385.60,499.97 387.20,502.85 384.00,502.85" fill="#111"/>
<polygon points="389.70,498.77 391.30,501.65 388.10,501.65" fill="#111"/>
<polygon points="394.30,498.47 395.90,501.35 392.70,501.35" fill="#111"/>
<polygon points="381.20,505.17 382.80,508.05 379.60,508.05" fill="#111"/>
<polygon points="385.60,503.67 387.20,506.55 384.00,506.55" fill="#111"/>
<polygon points="379.10,510.97 380.70,513.85 377.50,513.85" fill="#111"/>
<polygon points="383.30,510.97 384.90,513.85 381.70,513.85" fill="#111"/>
<polygon points="387.70,509.37 389.30,512.25 386.10,512.25" fill="#111"/>
<polygon points="379.10,527.07 380.70,529.95 377.50,529.95" fill="#111"/>
<polygon points="387.70,527.07 389.30,529.95 386.10,529.95" fill="#111"/>
<polygon points="383.30,529.67 384.90,532.55 381.70,532.55" fill="#111"/>
<polygon points="383.30,536.17 384.90,539.05 381.70,539.05" fill="#111"/>
<polygon points="383.30,552.47 384.90,555.35 381.70,555.35" fill="#111"/>
<polygon points="383.30,561.17 384.90,564.05 381.70,564.05" fill="#111"/>
<polygon points="383.30,566.57 384.90,569.45 381.70,569.45" fill="#111"/>
<line x1="366.70" y1="474.20" x2="399.40" y2="474.20" stroke="#111" stroke-width="1.2"/>
<line x1="375.40" y1="468.80" x2="391.10" y2="468.80" stroke="#111" stroke-width="1.1"/>
<line x1="375.40" y1="478.60" x2="391.10" y2="478.60" stroke="#111" stroke-width="1.1"/>
<line x1="383.30" y1="468.80" x2="383.30" y2="478.60" stroke="#111" stroke-width="1.1"/>
<polygon points="428.90,415.15 432.10,415.15 430.50,418.03" fill="#111"/>
<polygon points="432.80,413.45 436.00,413.45 434.40,416.33" fill="#111"/>
<polygon points="428.90,420.85 432.10,420.85 430.50,423.73" fill="#111"/>
<polygon points="432.80,422.65 436.00,422.65 434.40,425.53" fill="#111"/>
<polygon points="422.00,423.75 425.20,423.75 423.60,426.63" fill="#111"/>
<polygon points="426.40,426.85 429.60,426.85 428.00,429.73" fill="#111"/>
<polygon points="430.50,427.25 433.70,427.25 432.10,430.13" fill="#111"/>
<polygon points="435.10,427.75 438.30,427.75 436.70,430.63" fill="#111"/>
<polygon points="439.30,425.25 442.50,425.25 440.90,428.13" fill="#111"/>
<polygon points="439.70,427.75 442.90,427.75 441.30,430.63" fill="#111"/>
<polygon points="422.00,428.35 425.20,428.35 423.60,431.23" fill="#111"/>
<polygon points="426.40,432.05 429.60,432.05 428.00,434.93" fill="#111"/>
<polygon points="430.50,432.05 433.70,432.05 432.10,434.93" fill="#111"/>
<polygon points="417.60,436.85 420.80,436.85 419.20,439.73" fill="#111"/>
<polygon points="422.00,436.85 425.20,436.85 423.60,439.73" fill="#111"/>
<polygon points="426.40,436.85 429.60,436.85 428.00,439.73" fill="#111"/>
<polygon points="430.50,436.85 433.70,436.85 432.10,439.73" fill="#111"/>
<polygon points="432.80,436.85 436.00,436.85 434.40,439.73" fill="#111"/>
<polygon points="437.40,436.85 440.60,436.85 439.00,439.73" fill="#111"/>
<polygon points="441.60,436.85 444.80,436.85 443.20,439.73" fill="#111"/>
<polygon points="443.90,436.85 447.10,436.85 445.50,439.73" fill="#111"/>
<polygon points="422.00,439.15 425.20,439.15 423.60,442.03" fill="#111"/>
<polygon points="426.40,439.15 429.60,439.15 428.00,442.03" fill="#111"/>
<polygon points="430.50,439.15 433.70,439.15 432.10,442.03" fill="#111"/>
<polygon points="435.10,439.15 438.30,439.15 436.70,442.03" fill="#111"/>
<polygon points="439.70,439.15 442.90,439.15 441.30,442.03" fill="#111"/>
<polygon points="419.90,442.45 423.10,442.45 421.50,445.33" fill="#111"/>
<polygon points="419.90,444.45 423.10,444.45 421.50,447.33" fill="#111"/>
<polygon points="424.10,442.45 427.30,442.45 425.70,445.33" fill="#111"/>
<polygon points="424.10,444.45 427.30,444.45 425.70,447.33" fill="#111"/>
<polygon points="428.70,442.45 431.90,442.45 430.30,445.33" fill="#111"/>
<polygon points="428.70,444.45 431.90,444.45 430.30,447.33" fill="#111"/>
<polygon points="432.80,442.45 436.00,442.45 434.40,445.33" fill="#111"/>
<polygon points="432.80,444.45 436.00,444.45 434.40,447.33" fill="#111"/>
<polygon points="437.40,442.45 440.60,442.45 439.00,445.33" fill="#111"/>
<polygon points="437.40,444.45 440.60,444.45 439.00,447.33" fill="#111"/>
<polygon points="441.60,442.45 444.80,442.45 443.20,445.33" fill="#111"/>
<polygon points="441.60,444.45 444.80,444.45 443.20,447.33" fill="#111"/>
<polygon points="419.90,446.45 423.10,446.45 421.50,449.33" fill="#111"/>
<polygon points="424.10,446.45 427.30,446.45 425.70,449.33" fill="#111"/>
<polygon points="432.80,446.45 436.00,446.45 434.40,449.33" fill="#111"/>
<polygon points="437.40,446.45 440.60,446.45 439.00,449.33" fill="#111"/>
<polygon points="419.90,449.45 423.10,449.45 421.50,452.33" fill="#111"/>
<polygon points="424.10,451.05 427.30,451.05 425.70,453.93" fill="#111"/>
<polygon points="428.70,449.05 431.90,449.05 430.30,451.93" fill="#111"/>
<polygon points="437.40,451.45 440.60,451.45 439.00,454.33" fill="#111"/>
<polygon points="441.60,450.85 444.80,450.85 443.20,453.73" fill="#111"/>
<polygon points="426.40,454.05 429.60,454.05 428.00,456.93" fill="#111"/>
<polygon points="430.50,454.05 433.70,454.05 432.10,456.93" fill="#111"/>
<polygon points="432.80,454.05 436.00,454.05 434.40,456.93" fill="#111"/>
<polygon points="426.40,457.35 429.60,457.35 428.00,460.23" fill="#111"/>
<polygon points="435.10,459.35 438.30,459.35 436.70,462.23" fill="#111"/>
<polygon points="430.50,460.75 433.70,460.75 432.10,463.63" fill="#111"/>
<polygon points="422.00,463.85 425.20,463.85 423.60,466.73" fill="#111"/>
<polygon points="426.40,465.65 429.60,465.65 428.00,468.53" fill="#111"/>
<polygon points="430.50,466.95 433.70,466.95 432.10,469.83" fill="#111"/>
<polygon points="435.10,463.85 438.30,463.85 436.70,466.73" fill="#111"/>
<polygon points="439.70,463.55 442.90,463.55 441.30,466.43" fill="#111"/>
<polygon points="426.40,469.95 429.60,469.95 428.00,472.83" fill="#111"/>
<polygon points="435.10,470.85 438.30,470.85 436.70,473.73" fill="#111"/>
<polygon points="430.50,473.95 433.70,473.95 432.10,476.83" fill="#111"/>
<polygon points="428.50,485.15 431.70,485.15 430.10,488.03" fill="#111"/>
<polygon points="432.80,485.15 436.00,485.15 434.40,488.03" fill="#111"/>
<polygon points="426.40,490.25 429.60,490.25 428.00,493.13" fill="#111"/>
<polygon points="430.50,491.15 433.70,491.15 432.10,494.03" fill="#111"/>
<polygon points="435.10,490.25 438.30,490.25 436.70,493.13" fill="#111"/>
<polygon points="428.50,510.95 431.70,510.95 430.10,513.83" fill="#111"/>
<polygon points="432.80,511.75 436.00,511.75 434.40,514.63" fill="#111"/>
<polygon points="430.50,520.25 433.70,520.25 432.10,523.13" fill="#111"/>
<polygon points="430.50,541.45 433.70,541.45 432.10,544.33" fill="#111"/>
<polygon points="430.50,547.35 433.70,547.35 432.10,550.23" fill="#111"/>
<line x1="416.00" y1="459.20" x2="447.80" y2="459.20" stroke="#111" stroke-width="1.2"/>
<line x1="423.80" y1="454.70" x2="439.50" y2="454.70" stroke="#111" stroke-width="1.1"/>
<line x1="423.80" y1="463.40" x2="439.50" y2="463.40" stroke="#111" stroke-width="1.1"/>
<line x1="432.10" y1="454.70" x2="432.10" y2="463.40" stroke="#111" stroke-width="1.1"/>
<polygon points="469.34,406.17 472.64,406.17 470.99,409.14" fill="#111"/>
<polygon points="472.35,406.26 475.65,406.26 474.00,409.23" fill="#111"/>
<polygon points="475.52,405.50 478.82,405.50 477.17,408.47" fill="#111"/>
<polygon points="477.64,406.58 480.94,406.58 479.29,409.55" fill="#111"/>
<polygon points="480.79,405.74 484.09,405.74 482.44,408.71" fill="#111"/>
<polygon points="484.53,406.07 487.83,406.07 486.18,409.04" fill="#111"/>
<polygon points="487.20,406.08 490.50,406.08 488.85,409.05" fill="#111"/>
<polygon points="489.82,405.62 493.12,405.62 491.47,408.59" fill="#111"/>
<polygon points="467.31,408.63 470.61,408.63 468.96,411.60" fill="#111"/>
<polygon points="470.30,408.45 473.60,408.45 471.95,411.42" fill="#111"/>
<polygon points="473.61,407.50 476.91,407.50 475.26,410.47" fill="#111"/>
<polygon points="476.83,408.24 480.13,408.24 478.48,411.21" fill="#111"/>
<polygon points="479.41,407.46 482.71,407.46 481.06,410.43" fill="#111"/>
<polygon points="483.21,408.07 486.51,408.07 484.86,411.04" fill="#111"/>
<polygon points="486.16,408.64 489.46,408.64 487.81,411.61" fill="#111"/>
<polygon points="489.28,408.70 492.58,408.70 490.93,411.67" fill="#111"/>
<polygon points="492.02,408.53 495.32,408.53 493.67,411.50" fill="#111"/>
<polygon points="465.78,410.72 469.08,410.72 467.43,413.69" fill="#111"/>
<polygon points="469.37,409.55 472.67,409.55 471.02,412.52" fill="#111"/>
<polygon points="471.55,409.72 474.85,409.72 473.20,412.69" fill="#111"/>
<polygon points="475.61,410.02 478.91,410.02 477.26,412.99" fill="#111"/>
<polygon points="478.27,409.83 481.57,409.83 479.92,412.80" fill="#111"/>
<polygon points="481.19,409.95 484.49,409.95 482.84,412.92" fill="#111"/>
<polygon points="484.07,410.23 487.37,410.23 485.72,413.20" fill="#111"/>
<polygon points="487.42,410.68 490.72,410.68 489.07,413.65" fill="#111"/>
<polygon points="490.60,410.71 493.90,410.71 492.25,413.68" fill="#111"/>
<polygon points="493.88,410.80 497.18,410.80 495.53,413.77" fill="#111"/>
<polygon points="465.36,411.64 468.66,411.64 467.01,414.61" fill="#111"/>
<polygon points="468.80,412.76 472.10,412.76 470.45,415.73" fill="#111"/>
<polygon points="472.08,412.21 475.38,412.21 473.73,415.18" fill="#111"/>
<polygon points="475.07,411.71 478.37,411.71 476.72,414.68" fill="#111"/>
<polygon points="478.44,412.21 481.74,412.21 480.09,415.18" fill="#111"/>
<polygon points="481.00,411.50 484.30,411.50 482.65,414.47" fill="#111"/>
<polygon points="484.91,412.80 488.21,412.80 486.56,415.77" fill="#111"/>
<polygon points="487.21,412.53 490.51,412.53 488.86,415.50" fill="#111"/>
<polygon points="490.82,411.62 494.12,411.62 492.47,414.59" fill="#111"/>
<polygon points="493.90,412.49 497.20,412.49 495.55,415.46" fill="#111"/>
<polygon points="465.10,413.47 468.40,413.47 466.75,416.44" fill="#111"/>
<polygon points="467.79,413.47 471.09,413.47 469.44,416.44" fill="#111"/>
<polygon points="470.91,413.88 474.21,413.88 472.56,416.85" fill="#111"/>
<polygon points="474.11,414.78 477.41,414.78 475.76,417.75" fill="#111"/>
<polygon points="476.66,414.81 479.96,414.81 478.31,417.78" fill="#111"/>
<polygon points="479.42,413.52 482.72,413.52 481.07,416.49" fill="#111"/>
<polygon points="482.77,413.46 486.07,413.46 484.42,416.43" fill="#111"/>
<polygon points="485.29,413.98 488.59,413.98 486.94,416.95" fill="#111"/>
<polygon points="488.78,413.63 492.08,413.63 490.43,416.60" fill="#111"/>
<polygon points="491.10,414.63 494.40,414.63 492.75,417.60" fill="#111"/>
<polygon points="494.43,414.75 497.73,414.75 496.08,417.72" fill="#111"/>
<polygon points="465.13,415.94 468.43,415.94 466.78,418.91" fill="#111"/>
<polygon points="467.60,416.14 470.90,416.14 469.25,419.11" fill="#111"/>
<polygon points="470.82,416.25 474.12,416.25 472.47,419.22" fill="#111"/>
<polygon points="473.72,416.28 477.02,416.28 475.37,419.25" fill="#111"/>
<polygon points="477.18,416.12 480.48,416.12 478.83,419.09" fill="#111"/>
<polygon points="479.57,416.42 482.87,416.42 481.22,419.39" fill="#111"/>
<polygon points="482.34,415.83 485.64,415.83 483.99,418.80" fill="#111"/>
<polygon points="486.22,416.14 489.52,416.14 487.87,419.11" fill="#111"/>
<polygon points="488.71,415.43 492.01,415.43 490.36,418.40" fill="#111"/>
<polygon points="491.55,416.22 494.85,416.22 493.20,419.19" fill="#111"/>
<polygon points="494.07,416.27 497.37,416.27 495.72,419.24" fill="#111"/>
<polygon points="465.31,417.50 468.61,417.50 466.96,420.47" fill="#111"/>
<polygon points="468.53,418.06 471.83,418.06 470.18,421.03" fill="#111"/>
<polygon points="471.81,417.91 475.11,417.91 473.46,420.88" fill="#111"/>
<polygon points="475.07,418.45 478.37,418.45 476.72,421.42" fill="#111"/>
<polygon points="477.47,417.50 480.77,417.50 479.12,420.47" fill="#111"/>
<polygon points="481.47,418.76 484.77,418.76 483.12,421.73" fill="#111"/>
<polygon points="484.18,418.05 487.48,418.05 485.83,421.02" fill="#111"/>
<polygon points="487.82,417.86 491.12,417.86 489.47,420.83" fill="#111"/>
<polygon points="490.76,417.85 494.06,417.85 492.41,420.82" fill="#111"/>
<polygon points="493.99,418.25 497.29,418.25 495.64,421.22" fill="#111"/>
<polygon points="466.41,419.94 469.71,419.94 468.06,422.91" fill="#111"/>
<polygon points="469.87,419.45 473.17,419.45 471.52,422.42" fill="#111"/>
<polygon points="472.51,420.44 475.81,420.44 474.16,423.41" fill="#111"/>
<polygon points="475.09,419.72 478.39,419.72 476.74,422.69" fill="#111"/>
<polygon points="478.57,419.75 481.87,419.75 480.22,422.72" fill="#111"/>
<polygon points="480.72,420.02 484.02,420.02 482.37,422.99" fill="#111"/>
<polygon points="484.22,419.55 487.52,419.55 485.87,422.52" fill="#111"/>
<polygon points="486.66,419.88 489.96,419.88 488.31,422.85" fill="#111"/>
<polygon points="490.16,420.03 493.46,420.03 491.81,423.00" fill="#111"/>
<polygon points="493.08,419.65 496.38,419.65 494.73,422.62" fill="#111"/>
<polygon points="469.45,422.32 472.75,422.32 471.10,425.29" fill="#111"/>
<polygon points="472.97,422.04 476.27,422.04 474.62,425.01" fill="#111"/>
<polygon points="475.03,421.58 478.33,421.58 476.68,424.55" fill="#111"/>
<polygon points="478.26,421.68 481.56,421.68 479.91,424.65" fill="#111"/>
<polygon points="481.45,422.59 484.75,422.59 483.10,425.56" fill="#111"/>
<polygon points="483.56,421.80 486.86,421.80 485.21,424.77" fill="#111"/>
<polygon points="487.16,422.31 490.46,422.31 488.81,425.28" fill="#111"/>
<polygon points="490.02,421.90 493.32,421.90 491.67,424.87" fill="#111"/>
<polygon points="473.21,423.52 476.51,423.52 474.86,426.49" fill="#111"/>
<polygon points="477.00,423.49 480.30,423.49 478.65,426.46" fill="#111"/>
<polygon points="479.47,423.70 482.77,423.70 481.12,426.67" fill="#111"/>
<polygon points="482.55,423.69 485.85,423.69 484.20,426.66" fill="#111"/>
<polygon points="486.15,423.33 489.45,423.33 487.80,426.30" fill="#111"/>
<polygon points="471.05,425.21 474.35,425.21 472.70,428.18" fill="#111"/>
<polygon points="475.35,427.71 478.65,427.71 477.00,430.68" fill="#111"/>
<polygon points="479.65,427.71 482.95,427.71 481.30,430.68" fill="#111"/>
<polygon points="483.95,425.51 487.25,425.51 485.60,428.48" fill="#111"/>
<polygon points="481.85,430.41 485.15,430.41 483.50,433.38" fill="#111"/>
<polygon points="477.55,433.41 480.85,433.41 479.20,436.38" fill="#111"/>
<polygon points="477.55,452.41 480.85,452.41 479.20,455.38" fill="#111"/>
<polygon points="481.85,452.41 485.15,452.41 483.50,455.38" fill="#111"/>
<polygon points="479.65,460.71 482.95,460.71 481.30,463.68" fill="#111"/>
<line x1="464.70" y1="418.40" x2="497.30" y2="418.40" stroke="#111" stroke-width="1.3"/>
</svg></body></html>
